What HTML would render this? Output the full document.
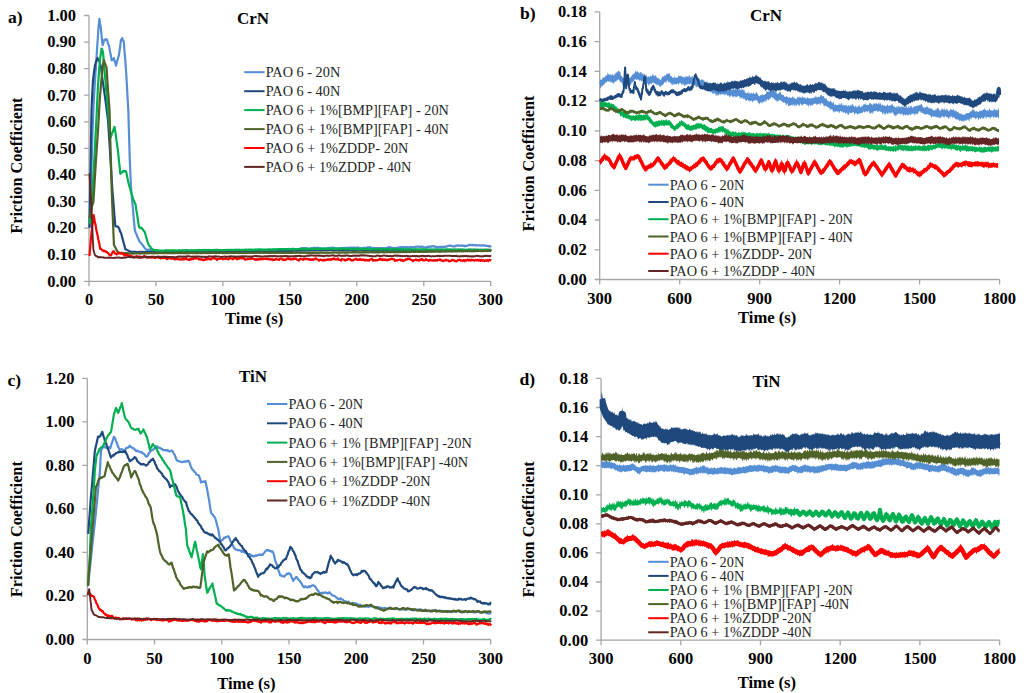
<!DOCTYPE html>
<html><head><meta charset="utf-8"><style>
html,body{margin:0;padding:0;background:#fff;width:1024px;height:693px;overflow:hidden}
svg{display:block}
.tk{font-family:"Liberation Serif",serif;font-weight:bold;font-size:16.5px;fill:#000}
.tx{font-family:"Liberation Serif",serif;font-weight:bold;font-size:16.6px;fill:#000}
.tt{font-family:"Liberation Serif",serif;font-weight:bold;font-size:16.3px;fill:#000}
.pl{font-family:"Liberation Serif",serif;font-weight:bold;font-size:17.6px;fill:#000}
.ti{font-family:"Liberation Serif",serif;font-weight:bold;font-size:17px;fill:#000}
.lg{font-family:"Liberation Serif",serif;font-size:14.3px;fill:#262626}
</style></head><body>
<svg width="1024" height="693" viewBox="0 0 1024 693">
<defs><clipPath id="cpa"><rect x="87.5" y="0" width="404.7" height="693"/></clipPath><clipPath id="cpb"><rect x="598.2" y="0" width="402.9" height="693"/></clipPath><clipPath id="cpc"><rect x="85.8" y="0" width="406.4" height="693"/></clipPath><clipPath id="cpd"><rect x="599.6" y="0" width="401.5" height="693"/></clipPath></defs>
<path d="M89.0 15.5V281.3H490.7M84.0 281.3H89.0M84.0 254.7H89.0M84.0 228.1H89.0M84.0 201.6H89.0M84.0 175.0H89.0M84.0 148.4H89.0M84.0 121.8H89.0M84.0 95.2H89.0M84.0 68.7H89.0M84.0 42.1H89.0M84.0 15.5H89.0M89.0 281.3V286.3M155.9 281.3V286.3M222.9 281.3V286.3M289.9 281.3V286.3M356.8 281.3V286.3M423.8 281.3V286.3M490.7 281.3V286.3" stroke="#A6A6A6" stroke-width="1.3" fill="none"/>
<path d="M599.7 11.9V279.5H999.6M594.7 279.5H599.7M594.7 249.8H599.7M594.7 220.0H599.7M594.7 190.3H599.7M594.7 160.6H599.7M594.7 130.8H599.7M594.7 101.1H599.7M594.7 71.4H599.7M594.7 41.6H599.7M594.7 11.9H599.7M599.7 279.5V284.5M679.7 279.5V284.5M759.7 279.5V284.5M839.6 279.5V284.5M919.6 279.5V284.5M999.6 279.5V284.5" stroke="#A6A6A6" stroke-width="1.3" fill="none"/>
<path d="M87.3 378.3V639.5H490.7M82.3 639.5H87.3M82.3 596.0H87.3M82.3 552.4H87.3M82.3 508.9H87.3M82.3 465.4H87.3M82.3 421.8H87.3M82.3 378.3H87.3M87.3 639.5V644.5M154.5 639.5V644.5M221.8 639.5V644.5M289.0 639.5V644.5M356.2 639.5V644.5M423.5 639.5V644.5M490.7 639.5V644.5" stroke="#A6A6A6" stroke-width="1.3" fill="none"/>
<path d="M601.1 378.4V640.2H999.6M596.1 640.2H601.1M596.1 611.1H601.1M596.1 582.0H601.1M596.1 552.9H601.1M596.1 523.8H601.1M596.1 494.8H601.1M596.1 465.7H601.1M596.1 436.6H601.1M596.1 407.5H601.1M596.1 378.4H601.1M601.1 640.2V645.2M680.8 640.2V645.2M760.5 640.2V645.2M840.2 640.2V645.2M919.9 640.2V645.2M999.6 640.2V645.2" stroke="#A6A6A6" stroke-width="1.3" fill="none"/>
<g clip-path="url(#cpa)"><path d="M89.5 228.1 L90.5 198.8 L91.4 170.5 L92.0 150.2 L92.6 130.4 L93.2 115.0 L93.8 100.3 L94.6 87.4 L95.4 75.1 L96.2 62.0 L97.0 49.6 L97.8 38.2 L98.5 27.7 L99.4 18.8 L100.1 23.6 L100.8 27.5 L101.7 36.8 L102.6 45.1 L103.4 42.8 L104.3 39.9 L105.1 39.9 L105.8 39.2 L106.6 39.2 L107.4 41.0 L108.2 43.9 L109.0 45.8 L109.9 50.9 L110.8 55.3 L111.7 60.4 L112.4 59.3 L113.2 59.2 L113.9 58.1 L114.6 60.9 L115.3 62.8 L116.0 65.7 L117.0 61.5 L118.0 58.3 L119.0 54.6 L120.0 47.5 L121.0 39.9 L121.6 39.5 L122.2 38.1 L123.0 40.2 L123.8 41.8 L124.5 51.5 L125.3 60.4 L126.0 70.1 L126.8 83.0 L127.5 96.8 L128.3 109.7 L129.0 134.1 L129.7 157.6 L130.4 174.0 L131.2 189.7 L132.1 199.9 L133.0 209.7 L133.9 220.2 L134.8 229.9 L135.8 232.9 L136.8 235.0 L137.8 237.7 L138.8 239.6 L139.8 242.1 L140.7 242.7 L141.7 244.1 L142.6 244.8 L143.5 246.5 L144.4 247.4 L145.4 248.8 L146.3 249.7 L147.3 250.0 L148.3 249.6 L149.2 249.7 L150.2 249.7 L151.2 250.7 L152.2 250.8 L153.2 251.7 L154.1 251.5 L155.1 251.7 L156.1 251.3 L157.1 251.6 L158.0 251.3 L159.0 251.9 L160.0 251.5 L161.0 252.0 L162.0 251.5 L163.0 252.1 L164.0 251.8 L165.0 252.3 L166.0 251.8 L167.0 252.2 L168.0 251.7 L169.0 251.9 L170.0 251.5 L171.0 252.0 L172.0 252.0 L173.0 252.6 L174.0 252.1 L175.0 252.1 L176.0 251.3 L177.0 251.4 L178.0 251.0 L179.0 251.8 L180.0 251.7 L181.0 252.3 L182.0 252.0 L183.0 252.3 L184.0 251.7 L185.0 252.0 L186.0 251.5 L187.0 252.0 L188.0 252.0 L189.0 252.5 L190.0 252.2 L191.0 252.5 L192.0 252.3 L193.0 252.7 L194.0 252.3 L195.0 252.7 L196.0 252.3 L197.0 252.8 L198.0 252.3 L199.0 252.2 L200.0 251.5 L201.0 251.5 L202.0 251.2 L203.0 251.6 L204.0 251.5 L205.0 252.1 L206.0 251.8 L207.0 251.8 L208.0 251.3 L209.0 251.3 L210.0 251.0 L211.0 251.2 L212.0 250.9 L213.0 251.2 L214.0 250.9 L215.0 251.3 L216.0 250.8 L217.0 251.2 L218.0 250.7 L219.0 251.2 L220.0 251.0 L221.0 251.3 L222.0 250.9 L223.0 251.2 L224.0 250.8 L225.0 250.9 L226.0 250.5 L227.0 251.1 L228.0 251.3 L229.0 252.0 L230.0 251.6 L231.0 251.6 L232.0 251.1 L233.0 251.1 L234.0 250.7 L235.0 251.3 L236.0 251.3 L237.0 251.7 L238.0 251.3 L239.0 251.7 L240.0 251.0 L241.0 251.2 L242.0 250.9 L243.0 251.1 L244.0 250.7 L245.0 250.8 L246.0 250.4 L247.0 250.7 L248.0 250.4 L249.0 250.8 L250.0 250.4 L251.0 250.9 L252.0 250.5 L253.0 250.8 L254.0 250.3 L255.0 250.9 L256.0 250.6 L257.0 251.2 L258.0 250.8 L259.0 250.8 L260.0 250.4 L261.0 250.4 L262.0 250.1 L263.0 250.5 L264.0 250.3 L265.0 250.8 L266.0 250.4 L267.0 250.8 L268.0 250.4 L269.0 251.0 L270.0 250.7 L271.0 250.8 L272.0 250.6 L273.0 250.9 L274.0 250.4 L275.0 250.6 L276.0 249.7 L277.0 249.9 L278.0 249.5 L279.0 249.8 L280.0 249.5 L281.0 250.0 L282.0 249.6 L283.0 249.9 L284.0 249.4 L285.0 249.9 L286.0 249.3 L287.0 249.7 L288.0 249.0 L289.0 249.3 L290.0 248.9 L291.0 249.3 L292.0 248.9 L293.0 249.2 L294.0 248.8 L295.0 249.5 L296.0 249.4 L297.0 250.0 L298.0 249.6 L299.0 249.4 L300.0 248.5 L301.0 248.6 L302.0 248.0 L303.0 248.4 L304.0 248.0 L305.0 248.5 L306.0 248.0 L307.0 248.7 L308.0 248.4 L309.0 248.9 L310.0 248.7 L311.0 248.6 L312.0 248.1 L313.0 248.0 L314.0 247.7 L315.0 248.1 L316.0 247.8 L317.0 248.1 L318.0 247.7 L319.0 248.4 L320.0 248.2 L321.0 248.7 L322.0 248.5 L323.0 248.9 L324.0 248.4 L325.0 249.0 L326.0 248.6 L327.0 248.5 L328.0 247.9 L329.0 248.2 L330.0 247.8 L331.0 248.1 L332.0 247.7 L333.0 247.8 L334.0 247.6 L335.0 248.2 L336.0 248.2 L337.0 248.8 L338.0 248.4 L339.0 248.5 L340.0 248.0 L341.0 248.3 L342.0 248.0 L343.0 248.2 L344.0 247.8 L345.0 248.1 L346.0 247.9 L347.0 248.1 L348.0 247.7 L349.0 248.0 L350.0 247.6 L351.0 247.9 L352.0 247.6 L353.0 247.9 L354.0 247.6 L355.0 247.8 L356.0 247.5 L357.0 247.8 L358.0 247.4 L359.0 248.0 L360.0 248.0 L361.0 248.4 L362.0 248.1 L363.0 248.1 L364.0 247.7 L365.0 248.0 L366.0 247.7 L367.0 247.9 L368.0 247.3 L369.0 247.5 L370.0 247.1 L371.0 247.8 L372.0 247.9 L373.0 248.4 L374.0 248.0 L375.0 248.4 L376.0 247.9 L377.0 248.1 L378.0 248.0 L379.0 248.3 L380.0 247.9 L381.0 248.3 L382.0 248.1 L383.0 248.3 L384.0 248.2 L385.0 248.4 L386.0 248.0 L387.0 248.1 L388.0 247.4 L389.0 247.4 L390.0 247.2 L391.0 247.6 L392.0 247.7 L393.0 248.3 L394.0 247.9 L395.0 248.3 L396.0 247.9 L397.0 248.0 L398.0 247.6 L399.0 247.8 L400.0 247.2 L401.0 247.4 L402.0 247.2 L403.0 247.4 L404.0 247.0 L405.0 247.2 L406.0 247.0 L407.0 247.3 L408.0 247.2 L409.0 247.6 L410.0 247.1 L411.0 247.5 L412.0 247.1 L413.0 247.5 L414.0 247.1 L415.0 247.1 L416.0 246.5 L417.0 246.8 L418.0 246.4 L419.0 246.8 L420.0 246.6 L421.0 247.0 L422.0 246.6 L423.0 247.1 L424.0 247.2 L425.0 247.5 L426.0 247.2 L427.0 247.3 L428.0 246.7 L429.0 246.9 L430.0 246.5 L431.0 246.8 L432.0 246.2 L433.0 246.5 L434.0 246.1 L435.0 246.9 L436.0 246.8 L437.0 247.2 L438.0 246.9 L439.0 247.3 L440.0 246.7 L441.0 247.1 L442.0 246.7 L443.0 247.2 L444.0 246.6 L445.0 247.1 L446.0 246.6 L447.0 246.5 L448.0 245.8 L449.0 245.8 L450.0 245.4 L451.0 245.8 L452.0 246.0 L453.0 246.5 L454.0 246.3 L455.0 246.3 L456.0 245.5 L457.0 245.8 L458.0 245.3 L459.0 245.7 L460.0 245.5 L461.0 245.7 L462.0 245.4 L463.0 245.9 L464.0 245.7 L465.0 246.4 L466.0 245.8 L467.0 246.0 L468.0 245.3 L469.0 245.2 L470.0 244.7 L471.0 245.2 L471.9 244.8 L472.9 245.3 L473.9 244.9 L474.8 245.3 L475.8 245.1 L476.8 245.5 L477.7 245.3 L478.7 245.5 L479.7 245.2 L480.6 245.6 L481.6 245.3 L482.6 245.6 L483.6 245.2 L484.5 245.7 L485.5 245.6 L486.5 245.9 L487.4 245.8 L488.4 246.3 L489.4 246.1 L490.3 246.5 L491.3 246.0" stroke="#558ED5" stroke-width="2.2" fill="none" stroke-linejoin="round"/><path d="M89.5 227.6 L90.5 169.9 L91.5 110.2 L92.2 94.7 L93.0 80.2 L94.0 72.5 L95.0 65.2 L95.8 62.5 L96.5 60.7 L97.3 58.1 L98.3 59.9 L99.3 60.8 L100.2 64.2 L101.0 67.1 L101.7 73.2 L102.4 78.8 L103.3 85.1 L104.1 90.9 L105.0 97.2 L106.0 104.4 L107.0 112.5 L108.0 119.9 L108.9 134.1 L109.8 147.8 L110.6 162.2 L111.5 175.8 L112.4 190.1 L113.4 201.9 L114.3 214.3 L115.3 225.9 L116.3 226.4 L117.2 226.4 L118.2 227.0 L119.2 228.7 L120.1 231.4 L121.1 233.2 L122.0 236.6 L122.8 239.6 L123.7 243.1 L124.5 245.8 L125.4 249.4 L126.4 249.5 L127.3 250.2 L128.3 250.5 L129.3 251.3 L130.2 251.3 L131.2 252.3 L132.2 251.7 L133.2 252.1 L134.2 251.7 L135.2 252.1 L136.2 251.9 L137.2 252.3 L138.2 251.9 L139.1 252.3 L140.1 251.8 L141.1 252.2 L142.1 251.9 L143.1 252.1 L144.1 251.9 L145.1 252.2 L146.1 251.9 L147.1 252.1 L148.1 251.8 L149.1 252.1 L150.1 251.9 L151.1 252.1 L152.1 251.9 L153.0 252.1 L154.0 251.9 L155.0 252.2 L156.0 251.9 L157.0 252.3 L158.0 251.7 L159.0 252.2 L160.0 251.8 L161.0 252.2 L162.0 251.8 L163.0 252.2 L164.0 251.8 L165.0 252.0 L166.0 251.9 L167.0 252.1 L168.0 251.8 L169.0 252.2 L170.0 251.8 L171.0 252.2 L172.0 251.8 L173.0 252.2 L174.0 251.8 L175.0 252.2 L176.0 251.7 L177.0 252.1 L178.0 251.9 L179.0 252.1 L180.0 251.7 L181.0 252.0 L182.0 251.7 L183.0 252.1 L184.0 251.6 L185.0 252.1 L186.0 251.8 L187.0 252.0 L188.0 251.8 L189.0 252.0 L190.0 251.8 L191.0 252.1 L192.0 251.6 L193.0 252.1 L194.0 251.7 L195.0 252.2 L196.0 251.8 L197.0 252.0 L198.0 251.8 L199.0 252.1 L200.0 251.7 L201.0 252.1 L202.0 251.6 L203.0 252.0 L204.0 251.7 L205.0 252.0 L206.0 251.8 L207.0 252.1 L208.0 251.7 L209.0 251.9 L210.0 251.5 L211.0 252.0 L212.0 251.7 L213.0 251.9 L214.0 251.6 L215.0 251.9 L216.0 251.7 L217.0 251.9 L218.0 251.5 L219.0 252.0 L220.0 251.7 L221.0 252.1 L222.0 251.5 L223.0 252.0 L224.0 251.5 L225.0 252.0 L226.0 251.7 L227.0 252.0 L228.0 251.7 L229.0 251.9 L230.0 251.5 L231.0 252.0 L232.0 251.7 L233.0 251.8 L234.0 251.6 L235.0 251.9 L236.0 251.5 L237.0 251.9 L238.0 251.5 L239.0 252.0 L240.0 251.4 L241.0 252.0 L242.0 251.5 L243.0 251.8 L244.0 251.5 L245.0 251.8 L246.0 251.7 L247.0 251.9 L248.0 251.6 L249.0 252.0 L250.0 251.5 L251.0 251.8 L252.0 251.5 L253.0 251.8 L254.0 251.4 L255.0 251.9 L256.0 251.3 L257.0 251.6 L258.0 251.3 L259.0 251.7 L260.0 251.3 L261.0 251.6 L262.0 251.3 L263.0 251.7 L264.0 251.3 L265.0 251.5 L266.0 251.3 L267.0 251.5 L268.0 251.0 L269.0 251.3 L270.0 251.1 L271.0 251.5 L272.0 251.0 L273.0 251.2 L274.0 251.0 L275.0 251.3 L276.0 250.9 L277.0 251.1 L278.0 250.8 L279.0 251.2 L280.0 250.7 L281.0 251.2 L282.0 250.8 L283.0 251.0 L284.0 250.8 L285.0 251.1 L286.0 250.7 L287.0 250.9 L288.0 250.7 L289.0 250.9 L290.0 250.7 L291.0 250.8 L292.0 250.6 L293.0 250.9 L294.0 250.4 L295.0 250.7 L296.0 250.4 L297.0 250.8 L298.0 250.4 L299.0 250.6 L300.0 250.4 L301.0 250.6 L302.0 250.3 L303.0 250.6 L304.0 250.3 L305.0 250.6 L306.0 250.2 L307.0 250.4 L308.0 250.1 L309.0 250.6 L310.0 250.0 L311.0 250.5 L312.0 250.1 L313.0 250.4 L314.0 250.0 L315.0 250.4 L316.0 249.9 L317.0 250.2 L318.0 250.0 L319.0 250.3 L320.0 249.9 L321.0 250.1 L322.0 249.9 L323.0 250.3 L324.0 249.9 L325.0 250.2 L326.0 249.8 L327.0 250.1 L328.0 249.8 L329.0 250.1 L330.0 249.7 L331.0 250.1 L332.0 249.7 L332.9 250.3 L333.9 249.8 L334.9 250.2 L335.9 249.8 L336.9 250.1 L337.9 249.8 L338.9 250.1 L339.9 249.9 L340.9 250.1 L341.9 249.8 L342.9 250.3 L343.9 249.9 L344.9 250.3 L345.9 249.8 L346.9 250.1 L347.9 250.0 L348.9 250.2 L349.9 249.8 L350.9 250.1 L351.9 249.7 L352.9 250.1 L353.9 249.9 L354.9 250.3 L355.9 249.9 L356.8 250.2 L357.8 249.9 L358.8 250.2 L359.8 249.9 L360.8 250.1 L361.8 249.8 L362.8 250.2 L363.8 249.7 L364.8 250.2 L365.8 249.9 L366.8 250.1 L367.8 249.7 L368.8 250.1 L369.8 249.9 L370.8 250.1 L371.8 249.8 L372.8 250.3 L373.8 249.7 L374.8 250.0 L375.8 249.8 L376.8 250.3 L377.8 249.8 L378.8 250.2 L379.8 249.8 L380.8 250.1 L381.7 249.9 L382.7 250.2 L383.7 249.7 L384.7 250.1 L385.7 249.8 L386.7 250.3 L387.7 249.8 L388.7 250.2 L389.7 249.8 L390.7 250.1 L391.7 249.8 L392.7 250.2 L393.7 249.8 L394.7 250.1 L395.7 249.8 L396.7 250.2 L397.7 249.8 L398.7 250.2 L399.7 249.9 L400.7 250.1 L401.7 249.9 L402.7 250.2 L403.7 249.8 L404.7 250.2 L405.6 249.9 L406.6 250.1 L407.6 249.7 L408.6 250.1 L409.6 249.7 L410.6 250.2 L411.6 249.8 L412.6 250.3 L413.6 249.8 L414.6 250.2 L415.6 249.8 L416.6 250.2 L417.6 249.9 L418.6 250.2 L419.6 249.8 L420.6 250.1 L421.6 249.7 L422.6 250.1 L423.6 249.9 L424.6 250.2 L425.6 249.8 L426.6 250.1 L427.6 249.7 L428.6 250.2 L429.6 249.8 L430.5 250.2 L431.5 249.9 L432.5 250.1 L433.5 249.7 L434.5 250.2 L435.5 249.8 L436.5 250.1 L437.5 249.8 L438.5 250.1 L439.5 249.9 L440.5 250.3 L441.5 249.8 L442.5 250.1 L443.5 249.8 L444.5 250.2 L445.5 249.9 L446.5 250.2 L447.5 249.9 L448.5 250.1 L449.5 249.7 L450.5 250.2 L451.5 249.9 L452.5 250.1 L453.5 249.8 L454.5 250.1 L455.4 249.9 L456.4 250.2 L457.4 249.8 L458.4 250.2 L459.4 249.9 L460.4 250.1 L461.4 249.7 L462.4 250.1 L463.4 249.8 L464.4 250.1 L465.4 249.9 L466.4 250.3 L467.4 249.9 L468.4 250.1 L469.4 249.7 L470.4 250.2 L471.4 249.7 L472.4 250.1 L473.4 249.7 L474.4 250.3 L475.4 249.9 L476.4 250.2 L477.4 249.7 L478.4 250.3 L479.3 249.9 L480.3 250.1 L481.3 249.9 L482.3 250.2 L483.3 249.8 L484.3 250.2 L485.3 249.7 L486.3 250.1 L487.3 249.8 L488.3 250.1 L489.3 249.9 L490.3 250.1 L491.3 249.9" stroke="#1F497D" stroke-width="2.2" fill="none" stroke-linejoin="round"/><path d="M89.5 224.2 L90.3 217.4 L91.0 211.6 L91.8 204.6 L92.5 191.9 L93.3 178.1 L94.0 165.1 L95.0 145.8 L96.0 127.1 L96.7 113.4 L97.3 100.1 L97.8 89.9 L98.4 80.2 L99.2 69.7 L100.0 60.1 L100.8 54.0 L101.6 48.5 L102.3 50.0 L103.0 52.2 L103.8 61.0 L104.5 70.9 L105.4 80.2 L106.2 90.4 L107.1 99.6 L108.0 109.7 L108.8 118.8 L109.5 128.9 L110.3 137.8 L111.2 136.0 L112.0 133.2 L112.9 131.6 L113.7 128.9 L114.6 126.8 L115.6 133.6 L116.5 140.9 L117.5 147.2 L118.5 156.3 L119.4 164.6 L120.4 173.9 L121.3 172.6 L122.3 172.5 L123.2 171.0 L124.2 171.5 L125.1 171.1 L126.1 171.6 L126.8 174.8 L127.6 178.9 L128.3 182.2 L129.3 186.1 L130.3 189.0 L131.3 192.9 L132.3 196.0 L133.3 199.8 L134.0 200.9 L134.8 203.0 L135.5 204.1 L136.4 210.5 L137.3 215.6 L138.2 222.0 L139.1 227.2 L140.1 228.0 L141.0 227.6 L142.0 228.6 L143.0 229.6 L143.9 231.3 L144.9 232.3 L145.8 235.8 L146.7 238.6 L147.6 242.1 L148.5 244.5 L149.4 245.9 L150.2 246.5 L151.1 248.1 L151.9 248.7 L152.8 250.2 L153.7 249.7 L154.6 250.2 L155.5 250.1 L156.4 250.4 L157.3 250.1 L158.2 250.6 L159.1 250.4 L160.0 250.9 L161.0 250.4 L162.0 251.0 L163.0 250.5 L164.0 250.9 L165.0 250.3 L166.0 250.7 L167.0 250.2 L168.0 250.6 L169.0 250.3 L170.0 250.7 L171.0 250.3 L172.0 250.6 L173.0 250.2 L174.0 250.7 L175.0 250.4 L176.0 250.6 L177.0 250.4 L178.0 250.8 L179.0 250.0 L180.0 250.6 L181.0 250.3 L182.0 250.7 L183.0 250.0 L184.0 250.8 L185.0 250.1 L186.0 250.6 L187.0 250.1 L188.0 250.5 L189.0 250.2 L190.0 250.7 L191.0 250.1 L192.0 250.5 L193.0 250.2 L194.0 250.7 L195.0 250.1 L196.0 250.5 L197.0 250.1 L198.0 250.6 L199.0 249.9 L200.0 250.4 L201.0 250.0 L202.0 250.5 L203.0 249.8 L204.0 250.5 L205.0 249.9 L206.0 250.4 L207.0 249.9 L208.0 250.3 L209.0 249.9 L210.0 250.2 L211.0 250.0 L212.0 250.3 L213.0 249.9 L214.0 250.3 L215.0 249.8 L216.0 250.2 L217.0 249.7 L218.0 250.5 L219.0 249.9 L220.0 250.1 L221.0 250.0 L222.0 250.4 L223.0 250.0 L224.0 250.4 L225.0 249.9 L226.0 250.2 L227.0 249.8 L228.0 250.1 L229.0 249.8 L230.0 250.2 L231.0 249.8 L232.0 250.2 L233.0 249.9 L234.0 250.1 L235.0 249.7 L236.0 250.0 L237.0 249.6 L238.0 250.2 L239.0 249.6 L240.0 250.0 L241.0 249.8 L242.0 250.2 L243.0 249.6 L244.0 250.2 L245.0 249.6 L246.0 250.1 L247.0 249.6 L248.0 250.2 L249.0 249.5 L250.0 250.0 L251.0 249.4 L252.0 249.9 L253.0 249.7 L254.0 250.1 L255.0 249.4 L256.0 250.0 L257.0 249.3 L258.0 249.9 L259.0 249.3 L260.0 249.7 L261.0 249.3 L262.0 250.0 L263.0 249.4 L264.0 249.8 L265.0 249.4 L266.0 249.8 L267.0 249.4 L268.0 249.9 L269.0 249.2 L270.0 249.8 L271.0 249.4 L272.0 249.8 L273.0 249.2 L274.0 249.8 L275.0 249.2 L276.0 249.8 L277.0 249.3 L278.0 249.5 L279.0 249.0 L280.0 249.5 L281.0 249.1 L282.0 249.5 L283.0 249.1 L284.0 249.5 L285.0 249.1 L286.0 249.5 L287.0 249.1 L288.0 249.5 L289.0 248.9 L290.0 249.4 L291.0 249.1 L292.0 249.3 L293.0 248.8 L294.0 249.5 L295.0 249.1 L296.0 249.4 L297.0 249.0 L298.0 249.3 L299.0 248.9 L300.0 249.3 L301.0 248.8 L302.0 249.2 L303.0 249.0 L304.0 249.2 L305.0 248.9 L306.0 249.2 L307.0 248.7 L308.0 249.3 L309.0 248.8 L310.0 249.3 L311.0 248.8 L312.0 249.2 L313.0 248.7 L314.0 249.1 L315.0 248.7 L316.0 249.2 L317.0 248.5 L318.0 249.1 L319.0 248.7 L320.0 249.2 L321.0 248.5 L322.0 249.0 L323.0 248.6 L324.0 249.0 L325.0 248.6 L326.0 249.0 L327.0 248.6 L328.0 248.9 L329.0 248.5 L330.0 249.0 L331.0 248.6 L332.0 249.0 L333.0 248.6 L334.0 248.9 L335.0 248.4 L336.0 249.1 L337.0 248.5 L338.0 249.1 L339.0 248.6 L340.0 249.0 L341.0 248.5 L342.0 248.9 L343.0 248.5 L344.0 249.0 L345.0 248.5 L346.0 249.2 L347.0 248.7 L348.0 249.1 L349.0 248.7 L350.0 249.1 L351.0 248.8 L352.0 249.2 L353.0 248.8 L354.0 249.0 L355.0 248.8 L356.0 249.3 L357.0 248.7 L358.0 249.3 L359.0 248.7 L360.0 249.2 L361.0 248.8 L362.0 249.2 L363.0 248.9 L364.0 249.1 L365.0 248.9 L366.0 249.1 L367.0 248.7 L368.0 249.3 L369.0 248.9 L370.0 249.4 L371.0 248.7 L372.0 249.3 L373.0 248.8 L374.0 249.3 L375.0 248.9 L376.0 249.3 L377.0 249.0 L378.0 249.2 L379.0 249.0 L380.0 249.5 L381.0 248.9 L382.0 249.4 L383.0 248.8 L384.0 249.4 L385.0 249.0 L386.0 249.5 L387.0 249.1 L388.0 249.5 L389.0 249.0 L390.0 249.6 L391.0 249.2 L392.0 249.6 L393.0 249.2 L394.0 249.3 L395.0 249.2 L396.0 249.6 L397.0 249.2 L398.0 249.6 L399.0 249.2 L400.0 249.5 L401.0 249.1 L402.0 249.7 L403.0 249.0 L404.0 249.5 L405.0 249.2 L406.0 249.7 L407.0 249.1 L408.0 249.8 L409.0 249.2 L410.0 249.8 L411.0 249.3 L412.0 249.6 L413.0 249.4 L414.0 249.8 L415.0 249.1 L416.0 249.7 L417.0 249.4 L418.0 249.6 L419.0 249.4 L420.0 249.8 L421.0 249.3 L422.0 249.9 L423.0 249.2 L424.0 249.9 L425.0 249.3 L425.9 249.7 L426.9 249.4 L427.9 249.8 L428.9 249.5 L429.9 249.9 L430.9 249.4 L431.9 249.8 L432.9 249.5 L433.9 249.8 L434.9 249.4 L435.8 250.0 L436.8 249.3 L437.8 249.7 L438.8 249.5 L439.8 250.0 L440.8 249.3 L441.8 249.8 L442.8 249.6 L443.8 249.8 L444.8 249.5 L445.7 249.9 L446.7 249.3 L447.7 249.9 L448.7 249.4 L449.7 249.9 L450.7 249.4 L451.7 249.8 L452.7 249.5 L453.7 250.1 L454.7 249.4 L455.6 249.9 L456.6 249.5 L457.6 249.9 L458.6 249.4 L459.6 250.0 L460.6 249.6 L461.6 250.1 L462.6 249.5 L463.6 250.0 L464.6 249.7 L465.6 250.1 L466.5 249.6 L467.5 250.2 L468.5 249.6 L469.5 250.1 L470.5 249.5 L471.5 250.0 L472.5 249.8 L473.5 250.0 L474.5 249.6 L475.5 250.1 L476.4 249.6 L477.4 250.3 L478.4 249.8 L479.4 250.0 L480.4 249.7 L481.4 250.1 L482.4 249.7 L483.4 250.1 L484.4 249.8 L485.4 250.1 L486.3 249.6 L487.3 250.2 L488.3 249.8 L489.3 250.3 L490.3 249.9 L491.3 250.2" stroke="#00B050" stroke-width="2.2" fill="none" stroke-linejoin="round"/><path d="M89.5 218.1 L90.5 212.8 L91.5 208.3 L92.5 204.8 L93.4 202.3 L94.3 187.8 L95.1 174.2 L96.0 159.8 L96.7 149.2 L97.5 137.9 L98.2 127.1 L99.0 113.4 L99.7 100.2 L100.5 90.9 L101.2 82.1 L101.9 74.8 L102.6 68.1 L103.2 63.8 L103.8 60.0 L104.7 62.3 L105.7 65.3 L106.6 67.5 L107.3 79.1 L108.0 89.9 L108.8 100.0 L109.5 109.9 L110.2 137.0 L111.0 163.2 L111.7 190.1 L112.4 208.2 L113.2 226.8 L113.9 244.7 L114.8 246.5 L115.6 247.9 L116.5 249.8 L117.3 251.1 L118.2 252.9 L119.2 252.6 L120.2 253.1 L121.2 252.7 L122.1 253.2 L123.1 253.0 L124.1 253.3 L125.1 253.1 L126.1 253.4 L127.0 253.1 L128.0 253.5 L129.0 253.3 L130.0 253.7 L131.0 253.3 L132.0 253.6 L133.0 253.3 L134.0 253.6 L135.0 253.3 L136.0 253.4 L137.0 253.3 L138.0 253.5 L139.0 253.3 L140.0 253.6 L141.0 253.2 L142.0 253.5 L143.0 253.2 L144.0 253.3 L145.0 253.1 L146.0 253.4 L147.0 252.9 L148.0 253.4 L149.0 253.0 L150.0 253.2 L151.0 252.8 L152.0 253.4 L153.0 253.0 L154.0 253.4 L155.0 253.0 L156.0 253.3 L157.0 253.0 L158.0 253.2 L159.0 252.8 L160.0 253.2 L161.0 252.8 L162.0 253.1 L163.0 252.9 L164.0 253.1 L165.0 252.8 L166.0 253.2 L167.0 253.0 L168.0 253.2 L169.0 252.9 L170.0 253.2 L171.0 252.8 L172.0 253.3 L173.0 253.0 L174.0 253.1 L175.0 252.9 L176.0 253.1 L177.0 252.8 L178.0 253.2 L179.0 252.7 L180.0 253.1 L181.0 252.9 L182.0 253.1 L183.0 252.7 L184.0 253.3 L185.0 252.9 L186.0 253.2 L187.0 252.7 L188.0 253.3 L189.0 252.9 L190.0 253.1 L191.0 252.7 L192.0 253.1 L193.0 252.8 L194.0 253.2 L195.0 252.7 L196.0 253.2 L197.0 252.9 L198.0 253.1 L199.0 252.8 L200.0 253.1 L201.0 252.9 L202.0 253.1 L203.0 252.7 L204.0 253.1 L205.0 252.7 L206.0 253.2 L207.0 252.7 L208.0 253.2 L209.0 252.7 L210.0 253.1 L211.0 252.8 L212.0 253.0 L213.0 252.8 L214.0 253.0 L215.0 252.8 L216.0 253.2 L217.0 252.8 L218.0 253.0 L219.0 252.8 L220.0 253.0 L221.0 252.6 L222.0 253.1 L223.0 252.8 L224.0 253.1 L225.0 252.8 L226.0 253.2 L227.0 252.8 L228.0 253.1 L229.0 252.8 L230.0 253.0 L231.0 252.8 L232.0 253.0 L233.0 252.7 L234.0 253.0 L235.0 252.6 L236.0 252.9 L237.0 252.6 L238.0 253.1 L239.0 252.7 L240.0 253.0 L241.0 252.6 L242.0 253.0 L243.0 252.7 L244.0 253.0 L245.0 252.7 L246.0 253.1 L247.0 252.7 L248.0 253.0 L249.0 252.6 L250.0 253.0 L251.0 252.5 L252.0 252.9 L253.0 252.7 L254.0 253.0 L255.0 252.7 L256.0 253.0 L257.0 252.6 L258.0 253.0 L259.0 252.5 L260.0 253.0 L261.0 252.6 L262.0 253.0 L263.0 252.6 L264.0 253.0 L265.0 252.6 L266.0 253.0 L267.0 252.5 L268.0 252.9 L269.0 252.6 L270.0 253.0 L271.0 252.6 L272.0 252.9 L273.0 252.5 L274.0 253.0 L275.0 252.5 L276.0 252.9 L277.0 252.6 L278.0 253.0 L279.0 252.6 L280.0 253.0 L281.0 252.5 L282.0 253.0 L283.0 252.7 L284.0 253.0 L285.0 252.5 L286.0 253.0 L287.0 252.7 L288.0 252.9 L289.0 252.6 L290.0 252.9 L291.0 252.6 L292.0 253.0 L293.0 252.5 L294.0 252.8 L295.0 252.4 L296.0 252.9 L297.0 252.5 L298.0 252.8 L299.0 252.5 L300.0 252.8 L301.0 252.6 L302.0 252.8 L303.0 252.5 L304.0 252.9 L305.0 252.5 L306.0 252.8 L307.0 252.6 L308.0 252.9 L309.0 252.6 L310.0 252.9 L311.0 252.5 L312.0 252.9 L313.0 252.6 L314.0 252.9 L315.0 252.4 L316.0 252.8 L317.0 252.6 L318.0 252.8 L319.0 252.4 L320.0 252.8 L321.0 252.3 L322.0 252.8 L323.0 252.4 L324.0 252.9 L325.0 252.5 L326.0 252.7 L327.0 252.4 L328.0 252.8 L329.0 252.6 L330.0 252.7 L331.0 252.5 L332.0 252.8 L333.0 252.3 L334.0 252.7 L335.0 252.3 L336.0 252.6 L337.0 252.4 L338.0 252.7 L339.0 252.4 L340.0 252.6 L341.0 252.4 L342.0 252.7 L343.0 252.2 L344.0 252.6 L345.0 252.4 L346.0 252.7 L347.0 252.2 L348.0 252.6 L349.0 252.3 L350.0 252.5 L351.0 252.2 L352.0 252.6 L353.0 252.1 L354.0 252.6 L355.0 252.1 L356.0 252.5 L357.0 252.1 L358.0 252.6 L359.0 252.2 L360.0 252.6 L361.0 252.2 L362.0 252.6 L363.0 252.0 L364.0 252.5 L365.0 252.1 L366.0 252.4 L367.0 252.2 L368.0 252.3 L369.0 252.2 L370.0 252.3 L371.0 252.0 L372.0 252.4 L373.0 251.9 L374.0 252.3 L375.0 252.2 L376.0 252.4 L377.0 252.0 L378.0 252.5 L379.0 252.1 L380.0 252.3 L381.0 251.9 L382.0 252.2 L383.0 252.1 L384.0 252.4 L385.0 252.0 L386.0 252.3 L387.0 252.0 L388.0 252.3 L389.0 252.0 L390.0 252.3 L391.0 251.9 L392.0 252.1 L393.0 252.0 L394.0 252.3 L395.0 251.8 L396.0 252.3 L397.0 251.9 L398.0 252.3 L399.0 251.9 L400.0 252.2 L401.0 251.8 L402.0 252.1 L403.0 251.8 L404.0 252.2 L405.0 251.7 L406.0 252.2 L406.9 251.8 L407.9 252.0 L408.9 251.8 L409.9 252.1 L410.9 251.6 L411.9 252.0 L412.9 251.6 L413.9 252.0 L414.9 251.8 L415.9 251.8 L416.9 251.5 L417.9 252.0 L418.9 251.7 L419.8 251.9 L420.8 251.5 L421.8 251.9 L422.8 251.6 L423.8 251.9 L424.8 251.4 L425.8 251.8 L426.8 251.6 L427.8 251.9 L428.8 251.3 L429.8 251.9 L430.8 251.5 L431.8 251.8 L432.7 251.4 L433.7 251.8 L434.7 251.4 L435.7 251.7 L436.7 251.3 L437.7 251.6 L438.7 251.4 L439.7 251.8 L440.7 251.2 L441.7 251.7 L442.7 251.2 L443.7 251.5 L444.7 251.4 L445.6 251.7 L446.6 251.2 L447.6 251.5 L448.6 251.2 L449.6 251.6 L450.6 251.1 L451.6 251.6 L452.6 251.3 L453.6 251.5 L454.6 251.1 L455.6 251.5 L456.6 251.2 L457.6 251.5 L458.6 250.9 L459.5 251.4 L460.5 251.0 L461.5 251.4 L462.5 250.9 L463.5 251.4 L464.5 251.0 L465.5 251.3 L466.5 250.9 L467.5 251.3 L468.5 250.8 L469.5 251.3 L470.5 251.0 L471.5 251.3 L472.4 250.8 L473.4 251.3 L474.4 250.7 L475.4 251.2 L476.4 250.8 L477.4 251.2 L478.4 250.8 L479.4 251.0 L480.4 250.9 L481.4 251.2 L482.4 250.7 L483.4 251.2 L484.4 250.8 L485.3 250.9 L486.3 250.8 L487.3 251.1 L488.3 250.6 L489.3 250.9 L490.3 250.6 L491.3 251.1" stroke="#4F6228" stroke-width="2.2" fill="none" stroke-linejoin="round"/><path d="M89.5 256.0 L90.5 243.5 L91.5 232.6 L92.2 226.3 L93.0 221.4 L93.7 215.1 L94.6 220.7 L95.6 225.1 L96.5 230.7 L97.4 234.4 L98.3 239.3 L99.3 243.7 L100.2 248.9 L101.1 248.7 L102.0 250.3 L102.9 250.2 L103.8 251.3 L104.7 250.8 L105.7 251.8 L106.6 251.6 L107.5 252.9 L108.4 253.2 L109.4 254.9 L110.3 255.2 L111.2 255.1 L112.2 253.1 L113.1 251.4 L114.0 251.3 L114.9 253.4 L115.8 253.7 L116.7 254.5 L117.7 253.2 L118.6 253.5 L119.6 253.0 L120.6 253.7 L121.5 252.8 L122.5 254.0 L123.4 253.8 L124.3 255.5 L125.3 254.9 L126.2 255.2 L127.1 254.3 L128.0 255.7 L128.9 255.5 L129.8 256.5 L130.8 255.8 L131.7 256.9 L132.6 256.3 L133.6 257.6 L134.5 256.8 L135.5 257.0 L136.5 256.1 L137.4 257.0 L138.4 256.4 L139.4 257.4 L140.3 256.6 L141.3 257.7 L142.3 257.2 L143.2 257.4 L144.2 256.0 L145.2 257.1 L146.1 256.6 L147.1 257.7 L148.1 257.0 L149.0 257.6 L150.0 256.8 L151.0 257.8 L152.0 256.9 L153.0 257.6 L154.0 256.8 L155.0 258.1 L156.0 257.3 L157.0 257.3 L158.0 256.9 L159.0 257.9 L160.0 258.0 L161.0 258.4 L162.0 257.8 L163.0 258.2 L164.0 257.2 L165.0 258.1 L166.0 258.1 L167.0 259.2 L168.0 257.6 L169.0 258.3 L170.0 257.7 L171.0 258.7 L172.0 258.2 L173.0 258.8 L174.0 258.4 L175.0 259.5 L176.0 258.6 L177.0 259.2 L178.0 258.4 L179.0 259.7 L180.0 259.3 L181.0 259.7 L182.0 258.9 L183.0 259.5 L184.0 258.6 L185.0 259.4 L186.0 258.0 L187.0 259.3 L188.0 259.3 L189.0 260.2 L190.0 259.0 L191.0 259.6 L192.0 258.5 L193.0 259.2 L194.0 258.1 L195.0 258.7 L196.0 258.0 L197.0 258.5 L198.0 258.4 L199.0 259.6 L200.0 259.1 L201.0 259.7 L202.0 259.2 L203.0 260.3 L204.0 259.6 L205.0 259.9 L206.0 258.4 L207.0 259.4 L208.0 258.4 L209.0 259.3 L210.0 258.9 L211.0 259.6 L212.0 258.3 L213.0 258.3 L214.0 257.6 L215.0 258.6 L216.0 258.5 L217.0 260.0 L218.0 258.8 L219.0 259.0 L220.0 258.5 L221.0 258.7 L222.0 258.2 L223.0 259.4 L224.0 258.7 L225.0 258.9 L226.0 257.8 L227.0 259.0 L228.0 259.3 L229.0 259.2 L230.0 257.7 L231.0 258.4 L232.0 258.6 L233.0 259.3 L234.0 258.0 L235.0 258.5 L236.0 258.0 L237.0 259.3 L238.0 258.2 L239.0 258.8 L240.0 257.7 L241.0 258.4 L242.0 257.5 L243.0 258.6 L244.0 258.0 L245.0 259.7 L246.0 259.4 L247.0 259.4 L248.0 258.7 L249.0 259.2 L250.0 258.4 L251.0 259.1 L252.0 257.8 L253.0 258.8 L254.0 259.1 L255.0 259.8 L256.0 259.0 L257.0 260.0 L258.0 258.9 L259.0 259.6 L260.0 258.6 L261.0 259.3 L262.0 258.5 L263.0 259.3 L264.0 258.8 L265.0 259.0 L266.0 258.6 L267.0 259.2 L268.0 258.4 L269.0 259.4 L270.0 259.0 L271.0 259.7 L272.0 259.1 L273.0 260.1 L274.0 259.4 L275.0 259.9 L276.0 258.7 L277.0 259.5 L278.0 259.5 L279.0 259.9 L280.0 258.8 L281.0 258.5 L282.0 258.9 L283.0 260.1 L284.0 259.4 L285.0 260.2 L286.0 259.5 L287.0 259.0 L288.0 258.1 L289.0 259.1 L290.0 258.9 L291.0 259.7 L292.0 258.8 L293.0 259.4 L294.0 258.3 L295.0 259.0 L296.0 258.3 L297.0 259.6 L298.0 259.8 L299.0 260.6 L300.0 258.8 L301.0 259.0 L302.0 259.3 L303.0 259.9 L304.0 258.9 L305.0 259.2 L306.0 258.6 L307.0 259.3 L308.0 258.9 L309.0 259.8 L310.0 259.2 L311.0 260.1 L312.0 259.2 L313.0 260.0 L314.0 258.9 L315.0 259.3 L316.0 258.2 L317.0 259.4 L318.0 259.7 L319.0 260.6 L320.0 259.6 L321.0 260.0 L322.0 259.9 L323.0 260.7 L324.0 259.7 L325.0 260.4 L326.0 259.5 L327.0 260.0 L328.0 259.2 L329.0 260.0 L330.0 259.2 L331.0 259.9 L332.0 258.9 L333.0 259.2 L334.0 258.3 L335.0 259.6 L336.0 259.2 L337.0 259.6 L338.0 258.3 L339.0 259.9 L340.0 259.8 L341.0 260.7 L342.0 259.0 L343.0 259.5 L344.0 259.5 L345.0 260.6 L346.0 259.7 L347.0 260.1 L348.0 258.8 L349.0 259.4 L350.0 259.0 L351.0 260.4 L352.0 260.1 L353.0 260.5 L354.0 259.7 L355.0 259.4 L356.0 258.6 L357.0 259.9 L358.0 259.4 L359.0 260.0 L360.0 258.9 L361.0 260.1 L362.0 259.4 L363.0 260.2 L364.0 259.4 L365.0 260.6 L366.0 259.7 L367.0 260.5 L368.0 259.8 L369.0 260.8 L370.0 259.4 L371.0 259.3 L372.0 258.9 L373.0 260.7 L374.0 259.9 L375.0 260.6 L376.0 259.9 L377.0 260.5 L378.0 259.9 L379.0 259.7 L380.0 258.6 L381.0 259.8 L382.0 259.1 L383.0 260.1 L384.0 259.3 L385.0 260.1 L386.0 259.5 L387.0 260.4 L388.0 259.6 L389.0 260.0 L390.0 259.0 L391.0 259.2 L392.0 258.7 L393.0 259.4 L394.0 259.2 L395.0 260.8 L396.0 260.0 L397.0 260.6 L398.0 260.0 L399.0 259.8 L400.0 259.4 L401.0 260.6 L402.0 259.8 L403.0 261.0 L404.0 260.3 L405.0 260.4 L406.0 259.2 L407.0 259.7 L408.0 258.4 L409.0 259.2 L410.0 259.0 L411.0 259.8 L412.0 260.0 L413.0 261.2 L414.0 260.2 L415.0 260.1 L416.0 259.5 L417.0 260.4 L418.0 259.8 L419.0 260.6 L420.0 259.6 L421.0 259.8 L422.0 258.8 L423.0 260.5 L424.0 260.3 L425.0 260.4 L426.0 259.2 L427.0 260.2 L428.0 260.1 L429.0 260.8 L430.0 259.9 L431.0 260.3 L432.0 260.1 L433.0 260.7 L434.0 260.2 L435.0 260.7 L436.0 260.0 L437.0 260.6 L438.0 259.7 L439.0 260.1 L440.0 259.3 L441.0 260.5 L442.0 260.3 L443.0 261.1 L444.0 260.5 L445.0 260.6 L446.0 259.7 L447.0 260.4 L448.0 260.3 L449.0 261.3 L450.0 260.9 L451.0 261.1 L452.0 259.8 L452.9 260.3 L453.9 260.2 L454.9 261.1 L455.9 260.9 L456.9 261.4 L457.9 260.2 L458.9 260.0 L459.8 259.7 L460.8 260.7 L461.8 260.3 L462.8 260.8 L463.8 260.1 L464.8 261.2 L465.7 260.1 L466.7 260.5 L467.7 259.5 L468.7 260.5 L469.7 259.9 L470.6 260.6 L471.6 259.6 L472.6 260.2 L473.6 260.1 L474.6 260.7 L475.6 259.9 L476.6 260.3 L477.5 259.7 L478.5 260.6 L479.5 259.8 L480.5 260.9 L481.5 259.9 L482.4 260.7 L483.4 260.2 L484.4 261.1 L485.4 260.3 L486.4 260.9 L487.4 260.0 L488.4 261.0 L489.3 259.8 L490.3 260.2 L491.3 260.4" stroke="#FF0000" stroke-width="2.2" fill="none" stroke-linejoin="round"/><path d="M89.5 173.3 L90.2 184.9 L90.9 197.0 L91.6 208.6 L92.6 235.1 L93.4 249.7 L94.2 252.7 L95.0 255.0 L96.0 256.0 L97.0 256.2 L98.0 257.5 L99.0 257.0 L100.0 257.3 L101.0 257.1 L102.0 257.4 L103.0 257.3 L104.0 257.9 L105.0 257.6 L106.0 257.9 L107.0 257.6 L108.0 257.9 L109.0 257.5 L110.0 257.8 L111.0 257.6 L112.0 257.9 L113.0 257.9 L114.0 258.0 L115.0 257.7 L116.0 257.7 L117.0 257.4 L118.0 257.8 L119.0 257.4 L120.0 257.9 L121.0 257.7 L122.0 258.1 L123.0 257.6 L124.0 257.8 L125.0 257.4 L126.0 257.7 L127.0 257.0 L128.0 257.1 L129.0 256.8 L130.0 257.2 L131.0 257.0 L132.0 257.3 L133.0 257.1 L134.0 257.3 L135.0 257.2 L136.0 257.5 L137.0 257.2 L138.0 257.7 L139.0 257.4 L140.0 257.7 L141.0 257.2 L142.0 257.3 L143.0 256.7 L144.0 256.9 L145.0 256.8 L146.0 257.3 L147.0 256.8 L148.0 257.3 L149.0 256.8 L150.0 257.2 L151.0 256.7 L152.0 256.9 L153.0 256.6 L154.0 256.9 L155.0 256.8 L156.0 257.1 L157.0 256.6 L158.0 256.8 L159.0 256.5 L160.0 257.0 L161.0 256.8 L162.0 257.0 L163.0 256.7 L164.0 256.9 L165.0 256.5 L166.0 257.1 L167.0 256.7 L168.0 257.0 L169.0 256.9 L170.0 257.1 L171.0 256.8 L172.0 257.3 L173.0 257.0 L174.0 257.3 L175.0 257.1 L176.0 257.2 L177.0 256.8 L178.0 256.9 L179.0 256.3 L180.0 256.8 L181.0 256.5 L182.0 256.8 L183.0 256.5 L184.0 256.8 L185.0 256.5 L186.0 256.6 L187.0 256.2 L188.0 256.5 L189.0 256.2 L190.0 256.6 L191.0 256.5 L192.0 257.0 L193.0 256.4 L194.0 256.8 L195.0 256.5 L196.0 256.6 L197.0 256.3 L198.0 256.6 L199.0 256.4 L200.0 256.9 L201.0 256.6 L202.0 257.0 L203.0 256.5 L204.0 257.0 L205.0 256.7 L206.0 257.2 L207.0 256.8 L208.0 256.9 L209.0 256.2 L210.0 256.6 L211.0 256.4 L212.0 256.7 L213.0 256.4 L214.0 256.7 L215.0 256.2 L216.0 256.5 L217.0 256.4 L218.0 256.7 L219.0 256.4 L220.0 256.9 L221.0 256.9 L222.0 257.2 L223.0 256.7 L224.0 256.6 L225.0 256.3 L226.0 256.8 L227.0 256.6 L228.0 256.8 L229.0 256.4 L230.0 256.5 L231.0 256.2 L232.0 256.6 L233.0 256.3 L234.0 256.7 L235.0 256.4 L236.0 257.0 L237.0 256.5 L238.0 256.8 L239.0 256.3 L240.0 256.7 L241.0 256.3 L242.0 256.4 L243.0 256.1 L244.0 256.4 L245.0 256.3 L246.0 256.5 L247.0 256.3 L248.0 256.6 L249.0 256.3 L250.0 256.9 L251.0 256.5 L252.0 256.8 L253.0 256.2 L254.0 256.4 L255.0 255.9 L256.0 256.3 L257.0 256.0 L258.0 256.4 L259.0 256.1 L260.0 256.5 L261.0 256.3 L262.0 256.6 L263.0 256.4 L264.0 256.5 L265.0 256.1 L266.0 256.5 L267.0 256.1 L268.0 256.3 L269.0 255.9 L270.0 256.3 L271.0 256.0 L272.0 256.4 L273.0 256.0 L274.0 256.2 L275.0 255.8 L276.0 256.2 L277.0 256.1 L278.0 256.5 L279.0 256.2 L280.0 256.4 L281.0 256.0 L282.0 256.5 L283.0 256.0 L284.0 256.3 L285.0 255.8 L286.0 256.4 L287.0 256.0 L288.0 256.4 L289.0 256.1 L290.0 256.6 L291.0 256.2 L292.0 256.4 L293.0 256.1 L294.0 256.4 L295.0 255.9 L296.0 256.2 L297.0 255.8 L298.0 256.1 L299.0 255.7 L300.0 256.2 L301.0 256.0 L302.0 256.4 L303.0 256.1 L304.0 256.5 L305.0 256.1 L306.0 256.2 L307.0 255.7 L308.0 255.8 L309.0 255.5 L310.0 255.7 L311.0 255.2 L312.0 255.6 L313.0 255.4 L314.0 255.8 L315.0 255.5 L316.0 255.8 L317.0 255.4 L318.0 255.8 L319.0 255.3 L320.0 255.9 L321.0 255.6 L322.0 256.0 L323.0 255.8 L324.0 256.3 L325.0 255.8 L326.0 255.8 L327.0 255.4 L328.0 256.0 L329.0 255.7 L330.0 255.9 L331.0 255.4 L332.0 255.6 L333.0 255.1 L334.0 255.8 L335.0 255.7 L336.0 256.1 L337.0 255.7 L338.0 255.7 L339.0 255.1 L340.0 255.7 L341.0 255.6 L341.9 256.0 L342.9 255.6 L343.9 255.8 L344.9 255.5 L345.9 255.8 L346.9 255.2 L347.9 255.7 L348.9 255.6 L349.9 256.1 L350.9 255.9 L351.9 256.1 L352.9 255.5 L353.9 255.7 L354.9 255.5 L355.9 255.9 L356.9 255.5 L357.9 255.8 L358.9 255.5 L359.9 255.7 L360.9 255.2 L361.9 255.7 L362.9 255.2 L363.9 255.5 L364.8 255.3 L365.8 255.6 L366.8 255.5 L367.8 255.9 L368.8 255.8 L369.8 256.2 L370.8 255.9 L371.8 256.4 L372.8 256.1 L373.8 256.4 L374.8 256.1 L375.8 256.2 L376.8 255.4 L377.8 255.7 L378.8 255.7 L379.8 256.2 L380.8 255.9 L381.8 256.2 L382.8 255.5 L383.8 255.6 L384.8 255.5 L385.8 256.0 L386.8 255.6 L387.7 256.1 L388.7 255.9 L389.7 256.1 L390.7 255.8 L391.7 256.3 L392.7 256.0 L393.7 256.0 L394.7 255.4 L395.7 255.9 L396.7 255.5 L397.7 255.8 L398.7 255.5 L399.7 256.0 L400.7 255.8 L401.7 256.3 L402.7 255.9 L403.7 256.1 L404.7 255.9 L405.7 256.2 L406.7 255.6 L407.7 256.1 L408.7 256.0 L409.7 256.5 L410.6 256.2 L411.6 256.3 L412.6 255.8 L413.6 256.1 L414.6 255.8 L415.6 256.3 L416.6 255.8 L417.6 256.3 L418.6 256.1 L419.6 256.5 L420.6 255.9 L421.6 256.2 L422.6 255.7 L423.6 256.2 L424.6 256.0 L425.6 256.4 L426.6 255.9 L427.6 256.2 L428.6 255.7 L429.6 256.2 L430.6 256.1 L431.6 256.5 L432.6 256.0 L433.6 256.5 L434.5 256.1 L435.5 256.2 L436.5 255.9 L437.5 256.2 L438.5 255.7 L439.5 256.2 L440.5 255.8 L441.5 256.1 L442.5 255.9 L443.5 256.2 L444.5 255.7 L445.5 255.9 L446.5 255.7 L447.5 255.9 L448.5 255.7 L449.5 255.9 L450.5 255.6 L451.5 256.1 L452.5 255.9 L453.5 256.0 L454.5 255.9 L455.5 256.2 L456.5 255.7 L457.4 256.3 L458.4 256.2 L459.4 256.6 L460.4 256.1 L461.4 256.3 L462.4 256.0 L463.4 256.2 L464.4 255.8 L465.4 256.2 L466.4 255.8 L467.4 256.2 L468.4 256.0 L469.4 256.5 L470.4 256.1 L471.4 256.5 L472.4 256.3 L473.4 256.5 L474.4 256.1 L475.4 256.3 L476.4 255.7 L477.4 256.0 L478.4 256.0 L479.4 256.3 L480.3 256.1 L481.3 256.6 L482.3 256.2 L483.3 256.5 L484.3 255.8 L485.3 256.1 L486.3 255.6 L487.3 256.0 L488.3 255.9 L489.3 256.3 L490.3 255.9 L491.3 256.3" stroke="#632523" stroke-width="1.9" fill="none" stroke-linejoin="round"/></g>
<g clip-path="url(#cpb)"><path d="M600.0 80.2 L600.5 79.1 L601.0 79.9 L601.4 79.9 L601.9 79.4 L602.4 78.3 L602.9 77.0 L603.4 77.8 L603.9 77.6 L604.3 77.5 L604.8 77.2 L605.3 76.2 L605.8 75.8 L606.3 75.9 L606.8 74.7 L607.2 74.9 L607.7 71.9 L608.2 73.9 L608.7 74.4 L609.2 74.7 L609.7 74.4 L610.2 73.2 L610.7 75.5 L611.2 76.0 L611.6 74.3 L612.1 74.7 L612.6 74.0 L613.1 74.8 L613.6 75.6 L614.1 76.0 L614.6 73.6 L615.1 73.8 L615.5 74.0 L616.0 71.5 L616.5 72.7 L617.0 72.6 L617.4 72.5 L617.9 71.0 L618.4 70.4 L618.9 71.1 L619.4 71.5 L619.9 71.8 L620.4 72.5 L620.9 75.4 L621.3 76.0 L621.8 75.8 L622.3 77.4 L622.8 78.0 L623.3 77.9 L623.8 79.1 L624.3 79.0 L624.8 79.1 L625.2 78.7 L625.7 79.0 L626.2 78.9 L626.7 78.2 L627.2 77.9 L627.7 76.3 L628.1 78.1 L628.6 78.7 L629.1 78.2 L629.6 78.0 L630.1 77.8 L630.6 77.3 L631.1 77.0 L631.6 75.7 L632.1 75.2 L632.6 74.7 L633.1 73.2 L633.6 74.5 L634.1 73.8 L634.6 73.2 L635.1 72.3 L635.6 69.9 L636.1 72.5 L636.6 71.1 L637.1 72.2 L637.6 70.3 L638.1 73.1 L638.6 72.2 L639.1 71.6 L639.6 73.9 L640.1 72.1 L640.6 72.4 L641.1 71.6 L641.6 73.7 L642.1 73.2 L642.6 74.4 L643.1 72.6 L643.6 75.1 L644.1 74.8 L644.6 73.6 L645.1 75.0 L645.6 76.3 L646.0 73.7 L646.5 74.9 L647.0 76.9 L647.5 76.9 L648.0 76.6 L648.5 76.1 L649.0 77.4 L649.5 77.3 L650.0 75.7 L650.5 75.8 L651.0 76.5 L651.4 76.1 L651.9 76.4 L652.4 74.5 L652.9 73.7 L653.4 76.4 L653.9 74.7 L654.4 75.9 L654.9 76.3 L655.4 74.6 L655.9 76.4 L656.4 76.7 L656.9 77.2 L657.3 78.4 L657.8 77.5 L658.3 78.9 L658.8 77.7 L659.3 78.7 L659.8 79.8 L660.3 79.9 L660.8 79.6 L661.3 79.0 L661.8 77.6 L662.3 77.1 L662.8 76.1 L663.3 76.5 L663.8 76.9 L664.3 74.7 L664.8 76.2 L665.3 75.7 L665.8 75.1 L666.3 73.9 L666.8 74.6 L667.3 73.8 L667.8 73.4 L668.3 74.3 L668.8 72.9 L669.3 73.6 L669.8 73.3 L670.3 76.3 L670.8 76.2 L671.3 76.3 L671.8 76.5 L672.3 77.5 L672.8 77.7 L673.3 77.9 L673.8 77.6 L674.3 77.8 L674.8 75.3 L675.3 78.1 L675.8 77.6 L676.3 77.8 L676.7 77.7 L677.2 77.4 L677.7 77.5 L678.2 74.8 L678.6 76.8 L679.1 75.7 L679.6 76.2 L680.1 75.5 L680.6 76.2 L681.0 76.4 L681.5 76.3 L682.0 75.5 L682.5 77.8 L682.9 76.8 L683.4 76.9 L683.9 77.1 L684.4 78.2 L684.9 75.7 L685.3 75.9 L685.8 77.9 L686.3 75.4 L686.8 77.1 L687.2 77.1 L687.7 76.1 L688.2 77.4 L688.7 75.8 L689.2 74.6 L689.6 76.1 L690.1 76.4 L690.6 77.6 L691.1 77.6 L691.5 77.5 L692.0 75.2 L692.5 75.9 L693.0 77.8 L693.5 77.9 L694.0 77.4 L694.5 78.5 L695.0 78.6 L695.5 77.0 L696.0 79.0 L696.5 79.2 L697.0 79.2 L697.5 79.2 L698.0 79.1 L698.5 79.9 L699.0 79.0 L699.5 78.5 L700.0 79.9 L700.5 80.4 L701.0 80.3 L701.5 78.7 L702.0 80.2 L702.5 79.5 L703.0 79.3 L703.5 81.1 L704.0 79.2 L704.4 81.3 L704.9 82.2 L705.4 82.5 L705.9 81.4 L706.4 83.0 L706.9 81.0 L707.4 81.1 L707.9 83.7 L708.4 83.6 L708.9 82.0 L709.4 83.9 L709.9 84.6 L710.4 84.6 L710.9 85.0 L711.4 84.9 L711.9 85.3 L712.3 82.8 L712.8 83.6 L713.3 86.1 L713.8 84.8 L714.3 86.6 L714.8 86.5 L715.3 86.4 L715.8 87.2 L716.3 85.9 L716.8 87.5 L717.3 86.3 L717.8 85.8 L718.2 85.4 L718.7 87.1 L719.2 86.2 L719.7 87.9 L720.2 88.5 L720.6 88.4 L721.1 87.1 L721.6 86.1 L722.1 86.2 L722.6 86.5 L723.1 86.5 L723.5 86.6 L724.0 86.0 L724.5 86.8 L725.0 85.9 L725.5 88.5 L726.0 87.0 L726.5 86.8 L727.0 88.7 L727.5 88.6 L728.0 88.8 L728.5 88.4 L729.0 89.1 L729.5 88.8 L730.0 89.1 L730.5 89.5 L731.0 86.7 L731.5 89.7 L732.0 89.6 L732.4 89.9 L732.9 89.6 L733.4 89.9 L733.9 87.6 L734.4 89.9 L734.9 89.5 L735.4 87.6 L735.9 88.5 L736.4 88.4 L736.9 90.0 L737.4 90.1 L737.9 88.7 L738.4 90.1 L738.9 89.5 L739.4 88.4 L739.9 90.1 L740.4 90.3 L740.9 89.4 L741.4 90.5 L741.9 88.6 L742.4 89.8 L742.9 88.8 L743.4 89.9 L743.9 90.9 L744.3 89.0 L744.8 92.2 L745.3 92.5 L745.8 92.4 L746.3 93.3 L746.8 93.6 L747.3 92.7 L747.8 92.7 L748.3 91.8 L748.8 94.3 L749.3 93.8 L749.8 92.1 L750.3 94.1 L750.8 93.5 L751.3 91.9 L751.8 93.5 L752.3 94.0 L752.8 93.1 L753.3 92.3 L753.8 93.8 L754.3 93.9 L754.7 94.0 L755.2 94.1 L755.7 92.7 L756.2 92.2 L756.7 92.2 L757.2 94.2 L757.7 93.3 L758.2 95.0 L758.7 96.0 L759.2 96.4 L759.7 96.1 L760.2 95.6 L760.7 94.5 L761.2 95.1 L761.7 95.6 L762.2 93.6 L762.7 95.2 L763.2 94.6 L763.6 95.1 L764.1 95.1 L764.6 95.0 L765.1 94.1 L765.6 94.0 L766.1 93.8 L766.6 90.4 L767.1 91.3 L767.6 92.0 L768.1 92.0 L768.6 91.6 L769.1 91.9 L769.6 91.0 L770.0 91.1 L770.5 89.3 L771.0 91.1 L771.5 88.6 L772.0 91.0 L772.5 90.9 L773.0 89.6 L773.5 89.6 L774.0 91.2 L774.5 89.8 L775.0 92.7 L775.5 90.9 L775.9 91.5 L776.4 93.4 L776.9 92.4 L777.4 94.4 L777.9 94.3 L778.4 92.7 L778.9 94.0 L779.4 91.9 L779.8 92.2 L780.3 91.7 L780.8 92.0 L781.3 94.3 L781.8 95.1 L782.3 95.4 L782.8 93.8 L783.3 95.2 L783.7 95.0 L784.2 96.4 L784.7 96.5 L785.2 96.9 L785.7 97.2 L786.2 96.0 L786.7 96.3 L787.2 96.8 L787.7 96.9 L788.2 97.5 L788.7 97.8 L789.2 96.2 L789.7 97.9 L790.1 97.7 L790.6 97.8 L791.1 97.9 L791.6 98.0 L792.1 96.3 L792.6 97.1 L793.1 96.3 L793.6 98.3 L794.1 98.1 L794.6 97.7 L795.1 98.9 L795.6 99.0 L796.1 99.0 L796.6 98.9 L797.1 97.4 L797.6 96.4 L798.1 98.1 L798.6 97.0 L799.0 95.8 L799.5 97.7 L800.0 97.5 L800.5 97.5 L801.0 97.2 L801.5 97.7 L802.0 97.9 L802.5 96.1 L803.0 96.8 L803.5 98.0 L804.0 97.8 L804.5 97.7 L805.0 96.8 L805.5 98.4 L806.0 98.6 L806.5 98.5 L807.0 98.5 L807.5 96.8 L808.0 97.4 L808.5 98.5 L809.0 97.8 L809.5 98.8 L810.0 98.7 L810.5 97.9 L811.0 98.6 L811.5 97.9 L812.0 98.4 L812.5 97.9 L813.0 97.9 L813.5 97.5 L814.0 98.0 L814.5 97.1 L815.0 97.8 L815.5 96.3 L816.0 95.2 L816.5 97.5 L817.0 97.4 L817.5 96.8 L818.0 97.4 L818.5 96.2 L819.0 97.2 L819.5 97.2 L820.0 96.4 L820.5 95.0 L821.0 95.8 L821.5 94.2 L822.0 95.4 L822.5 96.8 L823.0 96.1 L823.5 96.1 L824.0 96.4 L824.5 98.1 L825.0 98.4 L825.5 98.3 L826.0 99.6 L826.5 97.4 L827.0 100.7 L827.5 100.3 L828.0 101.0 L828.5 101.5 L829.0 101.3 L829.5 102.2 L830.0 100.9 L830.5 100.2 L831.0 101.0 L831.5 102.1 L832.0 102.9 L832.5 103.6 L833.0 101.2 L833.5 101.5 L834.0 104.2 L834.5 104.8 L835.0 105.2 L835.5 103.2 L836.0 105.3 L836.5 105.2 L837.0 104.8 L837.5 105.3 L838.0 104.8 L838.5 105.0 L839.0 102.4 L839.5 105.0 L840.0 104.8 L840.5 104.8 L841.0 103.0 L841.5 102.5 L842.0 105.4 L842.5 105.7 L843.0 103.3 L843.5 105.7 L844.0 105.3 L844.5 105.7 L845.0 104.4 L845.5 105.7 L846.0 104.6 L846.5 105.0 L847.0 105.9 L847.5 106.8 L848.0 105.2 L848.5 105.4 L849.0 105.1 L849.5 106.2 L850.0 106.4 L850.5 104.4 L851.0 105.7 L851.5 105.8 L852.0 103.3 L852.5 104.8 L853.0 103.6 L853.5 106.3 L854.0 106.1 L854.5 107.0 L855.0 107.0 L855.5 105.8 L856.0 105.0 L856.5 107.3 L857.0 107.3 L857.5 107.3 L858.0 106.3 L858.5 106.3 L859.0 105.3 L859.5 104.7 L860.0 107.5 L860.4 107.2 L860.9 107.2 L861.4 106.0 L861.9 106.7 L862.4 106.0 L862.9 105.7 L863.4 105.1 L863.9 104.1 L864.4 104.5 L864.9 103.4 L865.4 105.2 L865.9 102.6 L866.4 105.3 L866.9 105.1 L867.4 104.8 L867.9 104.7 L868.4 105.1 L868.9 105.1 L869.4 102.6 L869.9 103.5 L870.4 103.0 L870.8 103.3 L871.3 104.8 L871.8 103.6 L872.3 106.1 L872.8 104.0 L873.3 103.0 L873.8 104.5 L874.3 103.1 L874.8 104.1 L875.3 104.5 L875.8 102.2 L876.3 103.8 L876.8 103.1 L877.3 104.4 L877.8 103.9 L878.3 103.9 L878.8 101.9 L879.3 103.1 L879.8 104.9 L880.3 103.4 L880.8 102.4 L881.2 105.3 L881.7 105.7 L882.2 104.0 L882.7 105.5 L883.2 104.8 L883.7 106.3 L884.2 104.7 L884.7 105.8 L885.2 106.2 L885.7 105.9 L886.2 106.1 L886.7 105.8 L887.2 103.7 L887.7 105.0 L888.2 105.9 L888.7 105.4 L889.2 105.7 L889.7 106.1 L890.2 104.5 L890.7 105.9 L891.2 105.0 L891.6 104.4 L892.1 103.6 L892.6 104.7 L893.1 105.6 L893.6 107.0 L894.1 105.4 L894.6 107.1 L895.1 107.1 L895.6 107.9 L896.1 107.1 L896.6 106.1 L897.1 108.5 L897.6 105.8 L898.1 107.7 L898.6 105.2 L899.1 105.7 L899.6 107.0 L900.1 107.5 L900.6 107.3 L901.1 106.1 L901.6 107.5 L902.0 105.3 L902.5 106.7 L903.0 107.2 L903.5 106.6 L904.0 107.2 L904.5 107.8 L905.0 107.7 L905.5 107.5 L906.0 105.3 L906.5 106.2 L907.0 107.6 L907.5 107.8 L908.0 108.0 L908.5 106.3 L909.0 105.3 L909.5 108.1 L910.0 108.1 L910.5 105.5 L911.0 105.5 L911.5 105.9 L912.0 107.6 L912.5 107.7 L913.0 107.6 L913.5 107.6 L914.0 105.1 L914.4 107.0 L914.9 106.5 L915.4 106.1 L915.9 106.5 L916.4 105.0 L916.9 106.5 L917.4 105.8 L917.9 105.2 L918.4 105.8 L918.9 105.5 L919.4 105.1 L919.9 104.9 L920.4 104.8 L920.9 104.4 L921.4 104.1 L921.9 103.9 L922.4 106.5 L922.9 106.7 L923.4 107.4 L923.9 107.5 L924.4 107.9 L924.9 107.2 L925.4 107.0 L925.9 108.1 L926.3 106.2 L926.8 106.9 L927.3 106.1 L927.8 107.8 L928.3 107.3 L928.8 108.6 L929.3 109.0 L929.8 107.2 L930.3 108.7 L930.8 108.2 L931.3 108.4 L931.8 108.5 L932.3 109.4 L932.8 109.8 L933.3 110.6 L933.8 110.0 L934.3 110.8 L934.8 110.2 L935.2 108.8 L935.7 110.8 L936.2 108.5 L936.7 110.1 L937.2 108.0 L937.7 108.0 L938.2 108.4 L938.7 108.5 L939.2 110.7 L939.7 109.4 L940.2 110.7 L940.7 110.7 L941.2 109.9 L941.6 108.1 L942.1 110.3 L942.6 107.8 L943.1 109.7 L943.6 109.9 L944.1 107.0 L944.6 109.8 L945.1 109.7 L945.6 110.1 L946.1 110.4 L946.6 108.1 L947.1 108.7 L947.5 111.0 L948.0 109.1 L948.5 111.5 L949.0 110.9 L949.5 111.2 L950.0 108.4 L950.5 109.9 L951.0 108.7 L951.4 109.4 L951.9 109.9 L952.4 109.9 L952.9 109.6 L953.4 108.6 L953.9 110.8 L954.4 110.0 L954.9 111.4 L955.3 109.2 L955.8 111.8 L956.3 110.3 L956.8 112.0 L957.3 112.1 L957.8 112.0 L958.3 111.1 L958.8 113.7 L959.2 113.6 L959.7 113.3 L960.2 113.3 L960.7 114.2 L961.2 112.2 L961.7 114.7 L962.2 114.8 L962.7 114.2 L963.1 114.7 L963.6 114.4 L964.1 114.9 L964.6 114.7 L965.1 112.8 L965.6 114.4 L966.1 114.2 L966.5 112.7 L967.0 112.9 L967.5 113.3 L968.0 112.9 L968.5 113.2 L969.0 113.0 L969.5 112.8 L970.0 111.1 L970.5 111.7 L970.9 111.6 L971.4 111.4 L971.9 109.5 L972.4 110.1 L972.9 109.1 L973.4 110.9 L973.9 108.7 L974.3 111.6 L974.8 109.8 L975.3 111.7 L975.8 111.5 L976.3 111.5 L976.8 110.5 L977.3 111.7 L977.8 111.7 L978.3 111.9 L978.8 112.0 L979.3 110.3 L979.8 111.0 L980.2 111.7 L980.7 110.1 L981.2 110.7 L981.7 110.9 L982.2 110.0 L982.7 110.5 L983.2 108.7 L983.7 110.1 L984.2 110.0 L984.7 107.6 L985.2 109.8 L985.7 109.4 L986.2 110.7 L986.7 110.9 L987.2 109.2 L987.6 110.4 L988.1 110.4 L988.6 110.9 L989.1 109.1 L989.6 108.1 L990.1 110.3 L990.6 109.9 L991.1 110.6 L991.6 110.3 L992.1 110.7 L992.6 110.6 L993.1 110.3 L993.6 110.3 L994.1 109.7 L994.6 108.0 L995.1 110.1 L995.5 110.7 L996.0 109.1 L996.5 109.9 L997.0 110.4 L997.5 109.4 L998.0 110.8 L998.5 108.0 L999.0 108.2 L999.0 117.7 L998.5 118.4 L998.0 117.6 L997.5 116.6 L997.0 117.1 L996.5 118.2 L996.0 116.7 L995.5 117.7 L995.1 117.0 L994.6 117.6 L994.1 116.5 L993.6 118.2 L993.1 117.3 L992.6 116.3 L992.1 116.3 L991.6 117.6 L991.1 116.5 L990.6 118.1 L990.1 119.4 L989.6 116.7 L989.1 117.4 L988.6 117.2 L988.1 116.9 L987.6 116.8 L987.2 117.0 L986.7 119.2 L986.2 116.3 L985.7 118.9 L985.2 116.1 L984.7 116.4 L984.2 118.5 L983.7 117.9 L983.2 118.7 L982.7 117.3 L982.2 119.5 L981.7 117.1 L981.2 118.4 L980.7 118.7 L980.2 119.6 L979.8 117.9 L979.3 117.7 L978.8 120.0 L978.3 120.4 L977.8 117.7 L977.3 117.5 L976.8 117.6 L976.3 119.2 L975.8 117.5 L975.3 120.1 L974.8 118.2 L974.3 117.4 L973.9 117.5 L973.4 117.8 L972.9 117.9 L972.4 117.2 L971.9 117.0 L971.4 119.9 L970.9 117.3 L970.5 119.5 L970.0 118.0 L969.5 120.8 L969.0 121.4 L968.5 119.8 L968.0 119.3 L967.5 119.4 L967.0 120.7 L966.5 120.0 L966.1 121.1 L965.6 120.3 L965.1 120.5 L964.6 120.9 L964.1 120.5 L963.6 120.8 L963.1 123.1 L962.7 120.6 L962.2 121.0 L961.7 121.4 L961.2 121.0 L960.7 120.4 L960.2 120.2 L959.7 120.6 L959.2 121.5 L958.8 119.9 L958.3 119.6 L957.8 120.2 L957.3 118.7 L956.8 119.5 L956.3 119.5 L955.8 118.4 L955.3 119.8 L954.9 117.8 L954.4 118.4 L953.9 116.8 L953.4 117.7 L952.9 116.6 L952.4 118.8 L951.9 117.3 L951.4 116.1 L951.0 116.5 L950.5 116.7 L950.0 118.9 L949.5 116.8 L949.0 117.3 L948.5 119.4 L948.0 118.3 L947.5 117.0 L947.1 116.7 L946.6 116.9 L946.1 117.1 L945.6 115.9 L945.1 115.6 L944.6 117.7 L944.1 116.9 L943.6 116.7 L943.1 118.0 L942.6 116.0 L942.1 116.0 L941.6 116.2 L941.2 118.5 L940.7 117.3 L940.2 118.3 L939.7 117.9 L939.2 117.1 L938.7 117.6 L938.2 118.2 L937.7 117.2 L937.2 117.3 L936.7 116.5 L936.2 117.5 L935.7 117.0 L935.2 116.6 L934.8 116.6 L934.3 116.6 L933.8 117.0 L933.3 116.3 L932.8 116.2 L932.3 116.6 L931.8 117.3 L931.3 117.9 L930.8 116.3 L930.3 115.5 L929.8 115.0 L929.3 115.3 L928.8 115.3 L928.3 113.9 L927.8 114.6 L927.3 114.0 L926.8 113.6 L926.3 114.5 L925.9 114.1 L925.4 115.4 L924.9 114.0 L924.4 114.3 L923.9 113.7 L923.4 113.4 L922.9 113.0 L922.4 112.7 L921.9 113.9 L921.4 112.1 L920.9 110.8 L920.4 113.3 L919.9 111.7 L919.4 110.8 L918.9 111.4 L918.4 112.5 L917.9 114.8 L917.4 114.0 L916.9 113.1 L916.4 114.7 L915.9 113.2 L915.4 114.1 L914.9 116.3 L914.4 113.3 L914.0 115.1 L913.5 113.8 L913.0 113.3 L912.5 113.5 L912.0 114.5 L911.5 113.5 L911.0 115.1 L910.5 115.7 L910.0 113.7 L909.5 115.1 L909.0 113.8 L908.5 116.0 L908.0 114.9 L907.5 115.4 L907.0 114.2 L906.5 114.2 L906.0 115.8 L905.5 115.7 L905.0 115.1 L904.5 113.7 L904.0 115.3 L903.5 115.6 L903.0 115.8 L902.5 113.5 L902.0 114.3 L901.6 114.5 L901.1 113.3 L900.6 114.8 L900.1 114.4 L899.6 113.2 L899.1 113.6 L898.6 113.7 L898.1 113.8 L897.6 114.2 L897.1 114.3 L896.6 116.2 L896.1 114.4 L895.6 115.6 L895.1 116.9 L894.6 115.4 L894.1 113.9 L893.6 115.0 L893.1 112.6 L892.6 112.2 L892.1 112.4 L891.6 113.3 L891.2 112.5 L890.7 112.5 L890.2 114.2 L889.7 111.9 L889.2 114.5 L888.7 111.7 L888.2 114.2 L887.7 113.7 L887.2 114.3 L886.7 112.9 L886.2 112.4 L885.7 114.2 L885.2 114.9 L884.7 114.9 L884.2 112.7 L883.7 113.8 L883.2 112.1 L882.7 114.8 L882.2 113.9 L881.7 111.6 L881.2 112.1 L880.8 111.5 L880.3 112.3 L879.8 110.6 L879.3 111.5 L878.8 111.2 L878.3 112.1 L877.8 111.1 L877.3 112.6 L876.8 110.8 L876.3 110.2 L875.8 111.8 L875.3 111.0 L874.8 111.0 L874.3 111.1 L873.8 111.0 L873.3 113.1 L872.8 112.1 L872.3 114.3 L871.8 113.0 L871.3 111.9 L870.8 114.1 L870.4 113.4 L869.9 113.5 L869.4 112.8 L868.9 111.0 L868.4 110.8 L867.9 111.2 L867.4 112.6 L866.9 112.2 L866.4 111.0 L865.9 111.3 L865.4 111.4 L864.9 112.7 L864.4 112.2 L863.9 111.5 L863.4 111.6 L862.9 112.2 L862.4 113.1 L861.9 112.4 L861.4 113.2 L860.9 112.9 L860.4 113.0 L860.0 113.8 L859.5 113.2 L859.0 113.9 L858.5 113.4 L858.0 113.8 L857.5 115.3 L857.0 113.7 L856.5 112.9 L856.0 113.2 L855.5 113.1 L855.0 113.7 L854.5 115.6 L854.0 113.0 L853.5 112.1 L853.0 111.7 L852.5 112.5 L852.0 113.7 L851.5 112.7 L851.0 112.7 L850.5 113.8 L850.0 112.1 L849.5 112.8 L849.0 114.6 L848.5 114.4 L848.0 115.4 L847.5 113.9 L847.0 112.5 L846.5 112.4 L846.0 114.3 L845.5 113.2 L845.0 113.0 L844.5 111.8 L844.0 113.2 L843.5 111.9 L843.0 113.0 L842.5 111.4 L842.0 111.3 L841.5 112.8 L841.0 111.1 L840.5 110.7 L840.0 111.6 L839.5 113.1 L839.0 113.3 L838.5 110.8 L838.0 112.0 L837.5 111.3 L837.0 111.9 L836.5 111.3 L836.0 111.2 L835.5 111.6 L835.0 111.4 L834.5 112.5 L834.0 110.3 L833.5 112.7 L833.0 112.1 L832.5 109.6 L832.0 109.1 L831.5 109.4 L831.0 108.5 L830.5 109.6 L830.0 110.7 L829.5 108.0 L829.0 107.6 L828.5 107.6 L828.0 107.3 L827.5 106.9 L827.0 106.4 L826.5 106.1 L826.0 105.8 L825.5 105.8 L825.0 105.9 L824.5 107.0 L824.0 104.6 L823.5 106.3 L823.0 103.8 L822.5 103.4 L822.0 103.2 L821.5 103.2 L821.0 102.8 L820.5 105.6 L820.0 104.4 L819.5 103.5 L819.0 103.3 L818.5 104.5 L818.0 104.1 L817.5 103.9 L817.0 105.1 L816.5 104.9 L816.0 103.5 L815.5 103.4 L815.0 104.3 L814.5 103.6 L814.0 104.0 L813.5 103.9 L813.0 105.6 L812.5 104.7 L812.0 105.8 L811.5 105.2 L811.0 104.4 L810.5 107.1 L810.0 104.6 L809.5 104.7 L809.0 105.1 L808.5 107.4 L808.0 105.0 L807.5 104.8 L807.0 106.3 L806.5 104.4 L806.0 104.3 L805.5 104.0 L805.0 104.1 L804.5 103.7 L804.0 103.8 L803.5 104.4 L803.0 104.1 L802.5 105.6 L802.0 104.8 L801.5 106.3 L801.0 103.4 L800.5 103.4 L800.0 104.4 L799.5 105.9 L799.0 106.4 L798.6 104.4 L798.1 104.7 L797.6 104.2 L797.1 104.6 L796.6 104.9 L796.1 107.0 L795.6 104.8 L795.1 104.7 L794.6 105.3 L794.1 106.9 L793.6 104.5 L793.1 103.9 L792.6 105.3 L792.1 105.9 L791.6 104.4 L791.1 105.6 L790.6 105.3 L790.1 105.3 L789.7 105.7 L789.2 106.0 L788.7 106.2 L788.2 106.2 L787.7 103.6 L787.2 103.6 L786.7 103.8 L786.2 106.0 L785.7 104.4 L785.2 102.8 L784.7 103.1 L784.2 102.0 L783.7 102.2 L783.3 103.0 L782.8 102.3 L782.3 101.4 L781.8 101.8 L781.3 100.6 L780.8 100.5 L780.3 100.4 L779.8 99.8 L779.4 99.7 L778.9 101.7 L778.4 99.9 L777.9 101.6 L777.4 101.2 L776.9 102.0 L776.4 100.2 L775.9 99.9 L775.5 101.1 L775.0 99.2 L774.5 99.6 L774.0 99.3 L773.5 97.4 L773.0 98.4 L772.5 97.7 L772.0 96.7 L771.5 96.9 L771.0 97.2 L770.5 98.3 L770.0 99.7 L769.6 98.7 L769.1 99.2 L768.6 100.3 L768.1 100.3 L767.6 98.6 L767.1 100.2 L766.6 101.9 L766.1 99.6 L765.6 99.9 L765.1 102.8 L764.6 100.8 L764.1 102.0 L763.6 101.6 L763.2 102.1 L762.7 103.4 L762.2 101.6 L761.7 101.8 L761.2 103.7 L760.7 102.2 L760.2 102.2 L759.7 105.1 L759.2 102.9 L758.7 103.8 L758.2 102.7 L757.7 101.8 L757.2 100.6 L756.7 100.6 L756.2 100.3 L755.7 99.8 L755.2 100.7 L754.7 100.5 L754.3 100.6 L753.8 101.8 L753.3 100.0 L752.8 102.4 L752.3 102.3 L751.8 99.9 L751.3 101.0 L750.8 100.5 L750.3 101.0 L749.8 102.5 L749.3 100.2 L748.8 101.0 L748.3 100.5 L747.8 99.8 L747.3 99.6 L746.8 100.7 L746.3 101.2 L745.8 99.2 L745.3 100.9 L744.8 99.0 L744.3 98.6 L743.9 99.1 L743.4 98.7 L742.9 99.3 L742.4 96.9 L741.9 97.6 L741.4 98.7 L740.9 99.0 L740.4 96.7 L739.9 98.4 L739.4 96.7 L738.9 95.8 L738.4 95.9 L737.9 96.2 L737.4 96.6 L736.9 97.0 L736.4 96.8 L735.9 98.0 L735.4 96.2 L734.9 96.4 L734.4 96.4 L733.9 95.9 L733.4 97.7 L732.9 96.5 L732.4 97.5 L732.0 95.6 L731.5 95.6 L731.0 95.5 L730.5 96.0 L730.0 98.0 L729.5 96.7 L729.0 95.7 L728.5 94.9 L728.0 96.3 L727.5 95.8 L727.0 94.8 L726.5 94.5 L726.0 94.5 L725.5 94.1 L725.0 96.3 L724.5 94.4 L724.0 93.8 L723.5 93.7 L723.1 95.9 L722.6 93.8 L722.1 94.8 L721.6 94.0 L721.1 94.3 L720.6 95.5 L720.2 94.1 L719.7 94.5 L719.2 94.0 L718.7 94.5 L718.2 96.3 L717.8 96.0 L717.3 94.8 L716.8 94.0 L716.3 95.8 L715.8 95.9 L715.3 93.4 L714.8 94.0 L714.3 92.5 L713.8 94.7 L713.3 92.4 L712.8 94.3 L712.3 93.6 L711.9 91.3 L711.4 93.0 L710.9 91.1 L710.4 93.1 L709.9 90.4 L709.4 91.2 L708.9 90.7 L708.4 92.0 L707.9 90.4 L707.4 90.5 L706.9 91.1 L706.4 89.6 L705.9 88.5 L705.4 88.1 L704.9 88.9 L704.4 89.2 L704.0 87.5 L703.5 87.7 L703.0 88.9 L702.5 87.4 L702.0 89.3 L701.5 86.9 L701.0 87.6 L700.5 87.9 L700.0 86.7 L699.5 86.1 L699.0 88.0 L698.5 86.1 L698.0 87.0 L697.5 87.5 L697.0 85.7 L696.5 87.4 L696.0 86.9 L695.5 85.4 L695.0 85.2 L694.5 85.6 L694.0 86.3 L693.5 84.1 L693.0 84.1 L692.5 85.9 L692.0 85.3 L691.5 85.7 L691.1 83.4 L690.6 83.3 L690.1 85.0 L689.6 83.4 L689.2 84.9 L688.7 83.6 L688.2 84.1 L687.7 83.7 L687.2 84.8 L686.8 85.7 L686.3 84.2 L685.8 83.7 L685.3 86.0 L684.9 85.0 L684.4 86.4 L683.9 84.6 L683.4 84.2 L682.9 85.8 L682.5 83.5 L682.0 83.3 L681.5 85.4 L681.0 83.2 L680.6 82.6 L680.1 83.9 L679.6 82.6 L679.1 83.8 L678.6 85.7 L678.2 83.6 L677.7 83.6 L677.2 83.8 L676.7 84.3 L676.3 84.2 L675.8 84.8 L675.3 83.8 L674.8 83.7 L674.3 85.1 L673.8 84.3 L673.3 83.8 L672.8 86.1 L672.3 83.5 L671.8 86.1 L671.3 83.0 L670.8 82.4 L670.3 84.1 L669.8 82.4 L669.3 81.8 L668.8 82.1 L668.3 82.7 L667.8 79.7 L667.3 81.0 L666.8 80.4 L666.3 83.6 L665.8 82.8 L665.3 81.6 L664.8 82.1 L664.3 82.4 L663.8 84.2 L663.3 83.8 L662.8 86.1 L662.3 84.9 L661.8 84.3 L661.3 86.2 L660.8 86.7 L660.3 86.7 L659.8 85.6 L659.3 87.2 L658.8 84.9 L658.3 85.1 L657.8 84.3 L657.3 84.9 L656.9 86.3 L656.4 83.9 L655.9 84.1 L655.4 84.5 L654.9 83.5 L654.4 82.5 L653.9 84.1 L653.4 82.3 L652.9 83.0 L652.4 82.6 L651.9 83.4 L651.4 84.8 L651.0 83.6 L650.5 83.0 L650.0 85.2 L649.5 83.3 L649.0 85.7 L648.5 85.6 L648.0 83.4 L647.5 83.6 L647.0 84.0 L646.5 84.5 L646.0 82.3 L645.6 82.7 L645.1 83.7 L644.6 82.0 L644.1 81.3 L643.6 81.1 L643.1 82.0 L642.6 80.7 L642.1 81.5 L641.6 80.4 L641.1 81.4 L640.6 80.2 L640.1 80.3 L639.6 80.2 L639.1 81.4 L638.6 80.0 L638.1 79.2 L637.6 79.0 L637.1 79.7 L636.6 80.1 L636.1 80.0 L635.6 79.3 L635.1 78.5 L634.6 79.3 L634.1 81.3 L633.6 81.3 L633.1 80.9 L632.6 82.3 L632.1 82.5 L631.6 82.5 L631.1 84.3 L630.6 85.0 L630.1 85.4 L629.6 84.6 L629.1 84.8 L628.6 85.5 L628.1 84.4 L627.7 85.5 L627.2 86.3 L626.7 84.6 L626.2 84.5 L625.7 85.2 L625.2 85.8 L624.8 84.8 L624.3 86.4 L623.8 84.8 L623.3 84.2 L622.8 86.6 L622.3 83.5 L621.8 83.3 L621.3 81.8 L620.9 82.6 L620.4 80.7 L619.9 83.0 L619.4 79.8 L618.9 80.4 L618.4 78.9 L617.9 79.4 L617.4 80.9 L617.0 79.6 L616.5 81.1 L616.0 82.2 L615.5 81.6 L615.1 80.7 L614.6 82.8 L614.1 81.9 L613.6 84.7 L613.1 82.6 L612.6 82.2 L612.1 82.9 L611.6 82.6 L611.2 81.6 L610.7 83.1 L610.2 81.0 L609.7 81.6 L609.2 81.6 L608.7 81.2 L608.2 82.3 L607.7 81.1 L607.2 81.2 L606.8 83.0 L606.3 82.3 L605.8 82.6 L605.3 82.6 L604.8 82.9 L604.3 85.0 L603.9 83.9 L603.4 85.1 L602.9 87.0 L602.4 85.5 L601.9 85.3 L601.4 86.7 L601.0 87.6 L600.5 88.3 L600.0 88.5Z" fill="#558ED5"/><path d="M600.0 83.9 L601.0 83.2 L601.9 82.4 L602.9 81.6 L603.9 80.9 L604.8 80.0 L605.8 79.2 L606.8 78.3 L607.7 77.4 L608.7 77.2 L609.7 77.8 L610.7 78.5 L611.6 79.0 L612.6 79.2 L613.6 79.0 L614.6 78.4 L615.5 77.5 L616.5 77.0 L617.4 76.5 L618.4 76.1 L619.4 76.9 L620.4 77.7 L621.3 78.8 L622.3 80.2 L623.3 81.4 L624.3 81.9 L625.2 81.9 L626.2 81.7 L627.2 81.6 L628.1 81.6 L629.1 81.6 L630.1 80.8 L631.1 80.0 L632.1 79.2 L633.1 78.1 L634.1 76.9 L635.1 75.7 L636.1 75.3 L637.1 75.7 L638.1 76.2 L639.1 76.6 L640.1 77.0 L641.1 77.4 L642.1 77.7 L643.1 78.0 L644.1 78.5 L645.1 79.0 L646.0 79.4 L647.0 79.8 L648.0 80.3 L649.0 80.4 L650.0 80.1 L651.0 79.8 L651.9 79.6 L652.9 79.4 L653.9 79.3 L654.9 79.9 L655.9 80.4 L656.9 81.0 L657.8 81.5 L658.8 82.1 L659.8 82.6 L660.8 82.4 L661.8 81.5 L662.8 80.6 L663.8 79.7 L664.8 79.0 L665.8 78.3 L666.8 77.6 L667.8 76.9 L668.8 77.5 L669.8 78.5 L670.8 79.6 L671.8 80.4 L672.8 80.8 L673.8 80.8 L674.8 80.8 L675.8 80.7 L676.7 80.6 L677.7 80.3 L678.6 80.0 L679.6 79.8 L680.6 79.8 L681.5 80.2 L682.5 80.6 L683.4 81.0 L684.4 81.0 L685.3 80.9 L686.3 80.6 L687.2 80.4 L688.2 80.3 L689.2 80.4 L690.1 80.4 L691.1 80.4 L692.0 80.4 L693.0 80.7 L694.0 81.2 L695.0 81.6 L696.0 82.0 L697.0 82.3 L698.0 82.5 L699.0 82.8 L700.0 83.1 L701.0 83.5 L702.0 83.8 L703.0 84.2 L704.0 84.6 L704.9 85.0 L705.9 85.5 L706.9 86.0 L707.9 86.5 L708.9 86.9 L709.9 87.4 L710.9 87.9 L711.9 88.4 L712.8 88.8 L713.8 89.3 L714.8 89.8 L715.8 90.3 L716.8 90.6 L717.8 90.8 L718.7 91.0 L719.7 91.3 L720.6 91.4 L721.6 91.2 L722.6 91.0 L723.5 90.9 L724.5 91.1 L725.5 91.3 L726.5 91.6 L727.5 91.9 L728.5 92.1 L729.5 92.2 L730.5 92.4 L731.5 92.5 L732.4 92.7 L733.4 92.8 L734.4 92.8 L735.4 92.8 L736.4 92.9 L737.4 93.0 L738.4 93.0 L739.4 93.0 L740.4 93.2 L741.4 93.6 L742.4 94.1 L743.4 94.5 L744.3 94.8 L745.3 95.4 L746.3 96.1 L747.3 96.8 L748.3 97.1 L749.3 97.2 L750.3 97.1 L751.3 97.1 L752.3 97.2 L753.3 97.2 L754.3 97.0 L755.2 96.9 L756.2 97.1 L757.2 97.7 L758.2 98.5 L759.2 99.2 L760.2 99.4 L761.2 99.1 L762.2 98.7 L763.2 98.4 L764.1 98.1 L765.1 97.5 L766.1 96.6 L767.1 95.7 L768.1 95.2 L769.1 94.9 L770.0 94.5 L771.0 94.2 L772.0 93.9 L773.0 93.9 L774.0 94.8 L775.0 96.1 L775.9 97.0 L776.9 97.2 L777.9 97.1 L778.9 96.9 L779.8 97.0 L780.8 97.4 L781.8 97.9 L782.8 98.4 L783.7 98.9 L784.7 99.5 L785.7 100.2 L786.7 100.5 L787.7 100.7 L788.7 100.7 L789.7 100.8 L790.6 100.8 L791.6 100.8 L792.6 100.9 L793.6 101.2 L794.6 101.5 L795.6 101.8 L796.6 101.7 L797.6 101.4 L798.6 100.9 L799.5 100.5 L800.5 100.5 L801.5 100.7 L802.5 100.8 L803.5 100.9 L804.5 100.9 L805.5 101.2 L806.5 101.6 L807.5 101.9 L808.5 101.9 L809.5 101.8 L810.5 101.6 L811.5 101.5 L812.5 101.4 L813.5 101.1 L814.5 100.8 L815.5 100.5 L816.5 100.4 L817.5 100.3 L818.5 100.2 L819.5 100.1 L820.5 100.1 L821.5 100.0 L822.5 100.3 L823.5 101.0 L824.5 101.6 L825.5 102.4 L826.5 103.2 L827.5 103.9 L828.5 104.6 L829.5 105.0 L830.5 105.5 L831.5 106.0 L832.5 106.6 L833.5 107.1 L834.5 107.8 L835.5 108.3 L836.5 108.4 L837.5 108.2 L838.5 107.9 L839.5 107.8 L840.5 107.9 L841.5 108.2 L842.5 108.5 L843.5 108.9 L844.5 109.0 L845.5 109.3 L846.5 109.6 L847.5 109.8 L848.5 109.9 L849.5 109.5 L850.5 109.0 L851.5 108.6 L852.5 108.7 L853.5 109.2 L854.5 109.8 L855.5 110.2 L856.5 110.1 L857.5 110.2 L858.5 110.3 L859.5 110.4 L860.4 110.2 L861.4 109.8 L862.4 109.3 L863.4 108.8 L864.4 108.6 L865.4 108.4 L866.4 108.2 L867.4 108.0 L868.4 107.9 L869.4 108.2 L870.4 108.7 L871.3 109.0 L872.3 109.0 L873.3 108.5 L874.3 107.9 L875.3 107.3 L876.3 107.2 L877.3 107.4 L878.3 107.5 L879.3 107.7 L880.3 107.8 L881.2 108.2 L882.2 108.8 L883.2 109.3 L884.2 109.5 L885.2 109.4 L886.2 109.0 L887.2 108.8 L888.2 108.8 L889.2 108.9 L890.2 109.0 L891.2 109.1 L892.1 109.2 L893.1 109.7 L894.1 110.5 L895.1 111.2 L896.1 111.5 L897.1 111.4 L898.1 110.9 L899.1 110.5 L900.1 110.4 L901.1 110.5 L902.0 110.4 L903.0 110.4 L904.0 110.5 L905.0 110.7 L906.0 111.0 L907.0 111.3 L908.0 111.1 L909.0 111.0 L910.0 110.9 L911.0 110.8 L912.0 110.6 L913.0 110.4 L914.0 110.4 L914.9 110.5 L915.9 110.3 L916.9 109.9 L917.9 109.1 L918.9 108.3 L919.9 107.7 L920.9 107.7 L921.9 108.9 L922.9 110.0 L923.9 110.9 L924.9 111.1 L925.9 111.0 L926.8 110.7 L927.8 110.8 L928.8 111.4 L929.8 112.2 L930.8 113.0 L931.8 113.4 L932.8 113.4 L933.8 113.5 L934.8 113.7 L935.7 113.8 L936.7 113.7 L937.7 113.7 L938.7 113.8 L939.7 113.8 L940.7 113.6 L941.6 113.3 L942.6 113.0 L943.6 112.7 L944.6 112.6 L945.6 113.0 L946.6 113.5 L947.5 114.1 L948.5 114.3 L949.5 114.0 L950.5 113.6 L951.4 113.3 L952.4 113.5 L953.4 113.8 L954.4 114.1 L955.3 114.5 L956.3 114.8 L957.3 115.4 L958.3 116.2 L959.2 116.9 L960.2 117.3 L961.2 117.6 L962.2 117.7 L963.1 117.8 L964.1 117.7 L965.1 117.4 L966.1 117.0 L967.0 116.7 L968.0 116.4 L969.0 116.0 L970.0 115.2 L970.9 114.5 L971.9 114.0 L972.9 114.0 L973.9 114.3 L974.8 114.6 L975.8 114.7 L976.8 114.6 L977.8 114.7 L978.8 114.9 L979.8 115.0 L980.7 114.8 L981.7 114.1 L982.7 113.3 L983.7 112.9 L984.7 112.9 L985.7 113.3 L986.7 113.7 L987.6 114.0 L988.6 114.0 L989.6 113.8 L990.6 113.6 L991.6 113.5 L992.6 113.5 L993.6 113.5 L994.6 113.5 L995.5 113.5 L996.5 113.5 L997.5 113.6 L998.5 113.7" stroke="#558ED5" stroke-width="3.74" fill="none" stroke-linejoin="round" stroke-linecap="butt"/><path d="M600.0 101.3 L600.5 99.0 L601.0 101.1 L601.5 99.8 L601.9 101.5 L602.4 99.8 L602.9 102.2 L603.4 99.2 L603.9 100.6 L604.4 99.3 L604.8 100.6 L605.3 98.6 L605.8 100.0 L606.3 99.3 L606.8 99.9 L607.3 97.8 L607.7 99.8 L608.2 97.5 L608.7 98.6 L609.2 97.2 L609.7 98.5 L610.2 96.2 L610.7 99.1 L611.2 96.2 L611.7 99.0 L612.2 96.5 L612.7 99.1 L613.2 97.1 L613.7 98.0 L614.2 97.2 L614.7 97.8 L615.2 95.8 L615.7 97.5 L616.2 96.3 L616.7 96.8 L617.2 94.6 L617.7 96.3 L618.2 94.0 L618.6 96.2 L619.1 94.2 L619.6 96.3 L620.1 94.6 L620.6 96.7 L621.1 95.1 L621.6 97.0 L622.0 94.0 L622.5 93.8 L622.9 91.3 L623.4 92.1 L623.8 89.0 L624.2 82.7 L624.7 74.1 L625.1 67.4 L625.6 76.2 L626.1 88.3 L626.5 83.0 L627.0 81.3 L627.4 75.4 L627.8 74.6 L628.2 76.5 L628.7 84.1 L629.1 87.2 L629.6 89.7 L630.1 89.1 L630.5 92.6 L631.0 91.0 L631.5 92.3 L632.0 90.8 L632.4 91.8 L632.9 90.2 L633.4 93.1 L633.9 87.6 L634.3 86.4 L634.8 81.9 L635.2 85.1 L635.7 86.1 L636.1 88.9 L636.6 87.5 L637.1 89.7 L637.6 88.7 L638.1 91.8 L638.5 91.2 L639.0 94.6 L639.5 93.1 L640.0 97.0 L640.5 96.4 L641.0 99.6 L641.5 95.2 L641.9 94.1 L642.4 88.6 L642.9 88.5 L643.3 84.3 L643.8 82.4 L644.2 78.3 L644.7 76.6 L645.1 77.9 L645.5 83.4 L645.9 84.7 L646.3 90.7 L646.8 89.1 L647.2 92.3 L647.7 90.3 L648.2 93.6 L648.7 91.9 L649.1 94.9 L649.6 92.9 L650.1 94.1 L650.5 91.5 L651.0 92.1 L651.4 88.2 L651.9 90.0 L652.3 86.9 L652.8 86.9 L653.3 85.7 L653.7 88.6 L654.2 87.4 L654.6 90.7 L655.1 89.7 L655.5 92.4 L656.0 91.3 L656.5 94.3 L657.0 92.0 L657.4 94.7 L657.9 92.3 L658.4 95.5 L658.9 92.7 L659.3 95.1 L659.8 92.6 L660.3 95.2 L660.8 92.4 L661.3 93.2 L661.7 91.0 L662.2 93.2 L662.7 92.3 L663.2 94.7 L663.6 92.7 L664.1 95.7 L664.6 93.0 L665.1 94.1 L665.6 91.8 L666.1 92.9 L666.6 92.4 L667.1 94.4 L667.6 93.0 L668.0 93.9 L668.5 92.5 L669.0 94.4 L669.5 91.9 L670.0 93.2 L670.5 91.1 L671.0 92.5 L671.5 90.3 L672.0 91.4 L672.5 90.3 L673.0 92.4 L673.5 90.3 L673.9 92.2 L674.4 91.7 L674.9 92.7 L675.4 91.7 L675.9 94.3 L676.4 92.6 L676.9 95.3 L677.4 92.7 L677.9 94.8 L678.4 92.6 L678.9 94.7 L679.3 92.1 L679.8 94.4 L680.3 92.2 L680.8 93.8 L681.3 91.3 L681.8 93.4 L682.3 90.3 L682.8 91.4 L683.3 89.8 L683.8 90.9 L684.3 89.0 L684.8 91.3 L685.3 89.6 L685.8 91.2 L686.3 89.3 L686.8 90.6 L687.3 88.4 L687.8 89.9 L688.3 86.9 L688.8 89.0 L689.3 88.2 L689.8 90.2 L690.2 87.9 L690.7 89.1 L691.1 86.8 L691.6 89.4 L692.0 86.5 L692.5 87.7 L693.0 84.0 L693.4 83.7 L693.9 79.2 L694.3 78.7 L694.8 75.6 L695.2 75.4 L695.7 74.4 L696.1 77.0 L696.5 76.7 L697.0 79.0 L697.5 78.4 L697.9 80.9 L698.3 79.5 L698.7 83.6 L699.2 83.6 L699.6 86.7 L700.0 86.2 L700.5 88.1 L701.0 86.2 L701.5 88.0 L702.0 86.8 L702.5 88.7 L702.9 86.5 L703.4 88.3 L703.9 86.4 L704.4 88.5 L704.9 86.0 L705.4 87.8 L705.9 85.0 L706.3 88.0 L706.8 85.4 L707.3 88.0 L707.8 85.4 L708.2 87.7 L708.7 85.1 L709.2 87.0 L709.6 85.4 L710.1 86.7 L710.6 84.8 L711.1 87.4 L711.5 85.2 L712.0 87.1" stroke="#1F497D" stroke-width="2.0" fill="none" stroke-linejoin="round"/><path d="M704.0 82.9 L704.5 81.9 L705.0 82.5 L705.5 81.4 L706.0 83.3 L706.5 82.6 L707.0 82.6 L707.4 83.0 L707.9 84.1 L708.4 83.0 L708.9 83.7 L709.4 83.1 L709.9 82.5 L710.4 83.2 L710.9 83.3 L711.4 83.3 L711.9 83.6 L712.4 82.8 L712.9 83.1 L713.3 82.8 L713.8 81.7 L714.3 82.7 L714.8 83.3 L715.3 82.4 L715.8 82.8 L716.3 84.1 L716.8 84.3 L717.3 84.5 L717.8 82.8 L718.3 83.6 L718.8 84.6 L719.3 82.8 L719.7 84.6 L720.2 82.6 L720.7 82.6 L721.2 83.3 L721.7 82.6 L722.2 84.2 L722.7 84.1 L723.2 83.3 L723.7 83.9 L724.2 82.5 L724.7 82.2 L725.2 83.8 L725.6 83.6 L726.1 81.9 L726.6 82.8 L727.1 83.0 L727.6 81.2 L728.1 81.6 L728.6 82.6 L729.1 82.5 L729.6 81.9 L730.1 81.9 L730.6 82.2 L731.1 81.5 L731.6 80.9 L732.0 80.8 L732.5 81.7 L733.0 80.3 L733.5 81.6 L734.0 81.5 L734.5 81.0 L735.0 79.7 L735.5 81.4 L736.0 80.4 L736.5 81.3 L736.9 81.3 L737.4 80.7 L737.9 81.8 L738.4 81.4 L738.9 81.8 L739.4 81.6 L739.9 80.3 L740.4 80.0 L740.8 81.1 L741.3 80.0 L741.8 81.2 L742.3 79.5 L742.8 80.1 L743.3 79.7 L743.8 80.5 L744.3 79.2 L744.8 78.7 L745.3 79.5 L745.8 79.8 L746.3 77.7 L746.8 79.2 L747.3 78.5 L747.8 78.2 L748.3 78.3 L748.8 78.0 L749.2 77.6 L749.7 76.7 L750.2 76.2 L750.7 78.0 L751.2 77.8 L751.7 77.2 L752.2 76.8 L752.7 75.7 L753.2 76.6 L753.7 77.0 L754.2 76.7 L754.7 76.8 L755.2 75.8 L755.7 75.2 L756.2 74.3 L756.7 76.3 L757.2 75.4 L757.7 76.6 L758.2 76.9 L758.7 76.2 L759.2 77.2 L759.7 77.9 L760.2 76.8 L760.7 78.5 L761.2 79.3 L761.7 79.6 L762.2 80.0 L762.7 80.3 L763.2 81.0 L763.6 81.3 L764.1 81.2 L764.6 80.6 L765.1 80.7 L765.6 80.8 L766.1 82.2 L766.6 80.8 L767.1 82.4 L767.6 80.9 L768.1 81.0 L768.6 81.6 L769.1 81.4 L769.6 82.3 L770.1 82.9 L770.6 83.2 L771.1 82.4 L771.6 82.3 L772.1 82.4 L772.6 83.1 L773.1 83.5 L773.6 81.8 L774.1 83.3 L774.5 83.4 L775.0 82.9 L775.5 82.3 L776.0 83.4 L776.5 82.7 L777.0 82.6 L777.5 81.8 L778.0 82.5 L778.5 83.4 L779.0 82.9 L779.5 83.3 L780.0 83.1 L780.5 81.9 L781.0 81.2 L781.5 81.4 L782.0 82.5 L782.4 82.5 L782.9 82.0 L783.4 81.8 L783.9 81.5 L784.4 81.4 L784.9 81.7 L785.4 82.9 L785.9 81.4 L786.4 82.3 L786.9 83.6 L787.4 83.7 L787.9 83.6 L788.4 84.4 L788.9 84.6 L789.4 84.5 L789.9 82.9 L790.3 83.7 L790.8 83.8 L791.3 81.9 L791.8 83.4 L792.3 83.1 L792.8 82.3 L793.3 82.6 L793.8 82.6 L794.3 80.9 L794.8 82.3 L795.3 83.0 L795.8 83.1 L796.2 82.3 L796.7 82.3 L797.2 83.8 L797.7 82.3 L798.2 84.1 L798.6 83.7 L799.1 83.9 L799.6 84.7 L800.1 84.9 L800.6 83.4 L801.1 84.4 L801.5 85.4 L802.0 85.4 L802.5 85.6 L803.0 85.5 L803.5 85.7 L804.0 85.8 L804.5 85.7 L805.0 85.7 L805.5 85.3 L806.0 85.7 L806.5 84.7 L807.0 84.3 L807.5 83.9 L808.0 84.9 L808.5 85.7 L809.0 85.3 L809.5 85.0 L810.0 83.9 L810.5 84.0 L811.0 84.7 L811.5 85.2 L812.0 83.8 L812.5 84.2 L813.0 84.9 L813.5 84.7 L814.0 84.2 L814.5 84.4 L815.0 83.1 L815.5 83.3 L816.0 83.3 L816.5 82.9 L817.0 83.9 L817.5 83.3 L818.0 82.2 L818.5 82.1 L819.0 81.8 L819.5 82.6 L820.0 81.7 L820.5 83.0 L821.0 82.9 L821.5 82.7 L822.0 81.7 L822.5 83.8 L823.0 83.3 L823.5 83.7 L824.0 83.4 L824.5 84.5 L825.0 83.5 L825.5 84.2 L826.0 85.8 L826.5 85.4 L827.0 87.0 L827.5 87.5 L828.0 87.6 L828.5 88.2 L829.0 86.7 L829.4 88.3 L829.9 88.2 L830.4 87.9 L830.9 88.7 L831.4 88.4 L831.9 88.5 L832.4 88.6 L832.9 88.2 L833.4 88.8 L833.9 87.8 L834.4 87.9 L834.9 89.7 L835.4 89.2 L835.9 90.3 L836.4 89.8 L836.9 90.9 L837.4 90.0 L837.9 91.2 L838.4 90.5 L838.9 90.6 L839.4 91.0 L839.8 90.9 L840.3 91.2 L840.8 90.7 L841.3 90.7 L841.8 91.0 L842.3 90.8 L842.8 90.9 L843.3 91.1 L843.8 89.2 L844.3 91.0 L844.8 90.9 L845.3 91.3 L845.8 89.4 L846.3 91.4 L846.8 91.3 L847.2 91.4 L847.7 91.6 L848.2 91.9 L848.7 91.4 L849.2 91.2 L849.7 91.2 L850.2 91.2 L850.7 91.5 L851.2 91.8 L851.7 91.2 L852.2 91.0 L852.7 90.7 L853.2 91.5 L853.7 89.5 L854.1 90.6 L854.6 91.1 L855.1 89.4 L855.6 91.4 L856.1 89.6 L856.6 91.2 L857.1 90.4 L857.6 89.4 L858.1 91.0 L858.6 89.5 L859.1 90.3 L859.6 90.9 L860.1 90.2 L860.6 91.0 L861.1 91.2 L861.5 91.3 L862.0 90.9 L862.5 91.1 L863.0 92.3 L863.5 93.0 L864.0 92.1 L864.5 92.9 L865.0 92.3 L865.5 92.9 L866.0 91.1 L866.5 92.4 L867.0 92.2 L867.5 92.0 L868.0 91.1 L868.5 92.0 L869.0 92.1 L869.4 92.3 L869.9 92.3 L870.4 91.0 L870.9 91.9 L871.4 91.8 L871.9 90.9 L872.4 92.4 L872.9 92.0 L873.4 91.2 L873.9 92.4 L874.4 90.7 L874.9 91.8 L875.4 91.6 L875.9 92.1 L876.4 91.6 L876.9 92.7 L877.3 92.1 L877.8 92.9 L878.3 92.9 L878.8 92.4 L879.3 91.7 L879.8 92.6 L880.3 92.2 L880.8 92.8 L881.3 93.1 L881.8 92.8 L882.3 93.1 L882.8 92.7 L883.3 91.3 L883.8 91.9 L884.3 92.4 L884.8 91.5 L885.2 92.3 L885.7 92.6 L886.2 93.1 L886.7 92.9 L887.2 92.5 L887.7 93.0 L888.2 92.6 L888.7 92.9 L889.2 92.0 L889.7 92.1 L890.2 93.3 L890.7 91.9 L891.2 92.0 L891.7 93.2 L892.2 93.7 L892.6 93.3 L893.1 92.2 L893.6 93.5 L894.1 94.0 L894.6 92.5 L895.1 92.6 L895.6 93.7 L896.1 93.3 L896.6 93.2 L897.1 92.6 L897.6 93.1 L898.0 94.5 L898.5 95.1 L899.0 93.5 L899.5 95.7 L900.0 95.9 L900.5 95.5 L901.0 94.8 L901.4 96.6 L901.9 97.2 L902.4 97.7 L902.9 97.1 L903.4 97.9 L903.8 98.7 L904.3 98.3 L904.8 99.4 L905.3 98.3 L905.8 99.1 L906.3 98.6 L906.8 96.6 L907.3 97.8 L907.8 96.0 L908.2 96.0 L908.7 96.1 L909.2 96.2 L909.7 94.7 L910.2 94.2 L910.7 95.4 L911.2 93.8 L911.7 95.1 L912.2 94.7 L912.6 94.1 L913.1 92.9 L913.6 93.9 L914.1 92.3 L914.6 93.7 L915.1 93.3 L915.6 91.7 L916.1 93.0 L916.6 91.8 L917.1 91.6 L917.5 92.4 L918.0 93.4 L918.5 93.3 L919.0 93.0 L919.5 92.3 L920.0 90.7 L920.5 92.5 L921.0 92.4 L921.5 92.8 L922.0 92.7 L922.5 93.1 L923.0 93.2 L923.5 93.4 L924.0 92.9 L924.5 93.1 L925.0 94.0 L925.5 93.7 L926.0 93.3 L926.5 94.0 L927.0 93.7 L927.5 94.8 L928.0 95.0 L928.5 94.0 L929.0 93.5 L929.5 94.4 L930.0 95.1 L930.5 94.1 L931.0 94.3 L931.5 95.7 L932.0 95.0 L932.5 94.7 L933.0 94.8 L933.5 95.1 L934.0 94.4 L934.5 94.3 L935.0 94.5 L935.5 94.0 L936.0 95.7 L936.5 95.8 L937.0 95.8 L937.5 95.5 L938.0 95.5 L938.5 94.9 L939.0 95.8 L939.5 95.8 L940.0 95.7 L940.5 95.6 L941.0 95.2 L941.5 95.6 L942.0 94.4 L942.5 95.0 L943.0 95.5 L943.5 95.3 L944.0 95.4 L944.5 94.9 L945.0 95.3 L945.5 94.3 L946.0 95.4 L946.5 95.1 L947.0 94.3 L947.5 95.9 L948.0 95.6 L948.5 94.7 L949.0 95.9 L949.5 94.7 L950.0 95.7 L950.5 95.9 L951.0 96.1 L951.5 96.3 L952.0 95.8 L952.5 94.7 L953.0 95.5 L953.5 96.5 L954.0 95.4 L954.5 96.0 L955.0 95.6 L955.5 96.1 L956.0 96.2 L956.5 95.9 L957.0 94.7 L957.5 94.5 L958.0 95.6 L958.5 95.2 L959.0 95.7 L959.5 95.5 L960.0 96.0 L960.5 96.3 L961.0 96.5 L961.5 96.8 L962.0 95.6 L962.5 97.2 L962.9 97.2 L963.4 97.7 L963.9 97.6 L964.4 96.6 L964.9 97.3 L965.4 98.0 L965.9 97.4 L966.4 98.2 L966.9 98.3 L967.4 98.3 L967.9 97.8 L968.4 98.2 L968.9 98.1 L969.3 98.1 L969.8 97.3 L970.3 98.4 L970.8 98.7 L971.3 99.6 L971.8 100.2 L972.3 100.6 L972.8 100.7 L973.3 100.9 L973.8 100.5 L974.3 99.1 L974.8 99.6 L975.3 100.0 L975.8 99.4 L976.3 99.3 L976.8 98.9 L977.3 98.8 L977.8 97.2 L978.3 97.3 L978.8 97.7 L979.3 96.4 L979.8 96.6 L980.2 96.9 L980.7 96.4 L981.2 95.7 L981.7 95.4 L982.2 94.6 L982.7 94.4 L983.2 93.2 L983.7 94.1 L984.2 94.1 L984.7 92.5 L985.2 93.7 L985.7 93.1 L986.2 93.3 L986.7 91.9 L987.2 93.4 L987.7 92.2 L988.2 93.0 L988.6 93.9 L989.1 93.5 L989.6 93.3 L990.1 92.7 L990.6 94.3 L991.0 93.7 L991.5 93.6 L992.0 94.2 L992.5 94.7 L993.0 93.6 L993.5 94.2 L994.0 93.3 L994.4 93.8 L994.9 93.7 L995.4 95.7 L995.8 94.9 L996.2 94.3 L996.7 93.7 L997.1 92.2 L997.5 92.4 L997.9 90.2 L998.4 87.5 L998.8 85.7 L999.2 87.5 L999.6 91.7 L999.6 99.2 L999.2 96.7 L998.8 92.5 L998.4 94.6 L997.9 96.8 L997.5 99.0 L997.1 101.6 L996.7 100.4 L996.2 101.8 L995.8 101.7 L995.4 103.0 L994.9 101.9 L994.4 101.9 L994.0 101.6 L993.5 101.7 L993.0 102.0 L992.5 101.6 L992.0 102.9 L991.5 101.3 L991.0 102.6 L990.6 101.0 L990.1 101.8 L989.6 102.1 L989.1 102.6 L988.6 101.3 L988.2 100.3 L987.7 101.9 L987.2 100.3 L986.7 99.8 L986.2 100.1 L985.7 101.8 L985.2 101.6 L984.7 100.5 L984.2 102.6 L983.7 100.9 L983.2 102.3 L982.7 101.5 L982.2 101.9 L981.7 102.4 L981.2 103.6 L980.7 104.9 L980.2 103.6 L979.8 105.0 L979.3 104.2 L978.8 105.5 L978.3 104.7 L977.8 105.0 L977.3 106.7 L976.8 106.0 L976.3 107.1 L975.8 106.3 L975.3 106.7 L974.8 107.0 L974.3 107.5 L973.8 107.6 L973.3 108.1 L972.8 109.0 L972.3 107.3 L971.8 106.9 L971.3 107.3 L970.8 107.5 L970.3 106.3 L969.8 106.7 L969.3 106.3 L968.9 105.1 L968.4 106.1 L967.9 105.4 L967.4 105.2 L966.9 105.2 L966.4 105.6 L965.9 105.1 L965.4 104.7 L964.9 104.9 L964.4 104.9 L963.9 105.5 L963.4 104.2 L962.9 104.5 L962.5 104.0 L962.0 103.6 L961.5 104.0 L961.0 103.1 L960.5 104.3 L960.0 102.6 L959.5 103.0 L959.0 103.2 L958.5 102.7 L958.0 103.0 L957.5 103.5 L957.0 104.0 L956.5 103.5 L956.0 104.2 L955.5 103.1 L955.0 103.5 L954.5 103.1 L954.0 103.0 L953.5 104.7 L953.0 103.9 L952.5 103.6 L952.0 103.6 L951.5 102.9 L951.0 102.9 L950.5 102.8 L950.0 104.4 L949.5 103.3 L949.0 103.6 L948.5 102.9 L948.0 103.6 L947.5 102.4 L947.0 102.8 L946.5 102.4 L946.0 103.3 L945.5 102.5 L945.0 102.0 L944.5 103.4 L944.0 103.3 L943.5 102.4 L943.0 102.0 L942.5 102.3 L942.0 102.5 L941.5 102.2 L941.0 102.8 L940.5 102.5 L940.0 102.4 L939.5 103.6 L939.0 103.3 L938.5 104.0 L938.0 103.2 L937.5 102.8 L937.0 102.4 L936.5 102.8 L936.0 102.6 L935.5 102.6 L935.0 102.3 L934.5 103.6 L934.0 102.2 L933.5 103.3 L933.0 102.9 L932.5 103.2 L932.0 102.3 L931.5 103.9 L931.0 102.6 L930.5 102.7 L930.0 102.9 L929.5 102.3 L929.0 102.1 L928.5 103.2 L928.0 101.7 L927.5 102.9 L927.0 101.2 L926.5 101.0 L926.0 101.2 L925.5 102.2 L925.0 100.7 L924.5 100.3 L924.0 101.5 L923.5 100.5 L923.0 100.1 L922.5 99.6 L922.0 100.5 L921.5 99.4 L921.0 101.0 L920.5 99.4 L920.0 99.5 L919.5 99.6 L919.0 99.6 L918.5 100.7 L918.0 101.0 L917.5 100.6 L917.1 100.0 L916.6 100.9 L916.1 100.1 L915.6 100.8 L915.1 100.6 L914.6 100.9 L914.1 102.3 L913.6 100.8 L913.1 101.1 L912.6 102.7 L912.2 102.0 L911.7 102.0 L911.2 102.2 L910.7 103.1 L910.2 103.7 L909.7 102.8 L909.2 103.3 L908.7 104.3 L908.2 104.3 L907.8 104.0 L907.3 104.8 L906.8 104.8 L906.3 105.3 L905.8 105.8 L905.3 107.0 L904.8 107.2 L904.3 106.7 L903.8 105.3 L903.4 105.7 L902.9 105.2 L902.4 105.0 L901.9 104.0 L901.4 103.7 L901.0 104.4 L900.5 103.0 L900.0 103.1 L899.5 102.3 L899.0 103.5 L898.5 102.8 L898.0 101.3 L897.6 101.0 L897.1 100.8 L896.6 100.8 L896.1 101.3 L895.6 101.1 L895.1 102.3 L894.6 101.6 L894.1 100.9 L893.6 101.1 L893.1 100.8 L892.6 102.2 L892.2 100.6 L891.7 101.4 L891.2 100.6 L890.7 99.9 L890.2 100.9 L889.7 100.7 L889.2 100.2 L888.7 99.7 L888.2 99.7 L887.7 100.8 L887.2 100.3 L886.7 99.6 L886.2 101.3 L885.7 99.7 L885.2 99.9 L884.8 100.3 L884.3 101.6 L883.8 99.7 L883.3 99.9 L882.8 100.0 L882.3 99.6 L881.8 100.2 L881.3 99.6 L880.8 99.7 L880.3 100.0 L879.8 100.2 L879.3 99.6 L878.8 99.6 L878.3 99.7 L877.8 99.6 L877.3 99.5 L876.9 99.6 L876.4 99.8 L875.9 99.4 L875.4 99.5 L874.9 99.1 L874.4 99.2 L873.9 99.5 L873.4 100.2 L872.9 99.3 L872.4 99.5 L871.9 99.2 L871.4 100.2 L870.9 98.9 L870.4 99.0 L869.9 99.0 L869.4 98.8 L869.0 100.5 L868.5 99.5 L868.0 100.4 L867.5 100.2 L867.0 100.1 L866.5 100.5 L866.0 100.1 L865.5 100.0 L865.0 100.1 L864.5 99.8 L864.0 100.7 L863.5 100.7 L863.0 99.5 L862.5 99.8 L862.0 99.1 L861.5 98.8 L861.1 99.1 L860.6 100.1 L860.1 99.2 L859.6 98.1 L859.1 98.7 L858.6 99.9 L858.1 99.5 L857.6 98.1 L857.1 98.1 L856.6 98.9 L856.1 99.9 L855.6 99.6 L855.1 99.2 L854.6 98.0 L854.1 98.9 L853.7 98.4 L853.2 98.9 L852.7 98.1 L852.2 99.8 L851.7 98.5 L851.2 98.3 L850.7 98.6 L850.2 98.5 L849.7 99.3 L849.2 99.7 L848.7 99.9 L848.2 100.3 L847.7 98.9 L847.2 99.8 L846.8 98.4 L846.3 98.8 L845.8 98.3 L845.3 98.7 L844.8 97.8 L844.3 98.2 L843.8 98.1 L843.3 97.9 L842.8 98.0 L842.3 97.9 L841.8 99.0 L841.3 99.1 L840.8 99.0 L840.3 98.8 L839.8 99.3 L839.4 99.4 L838.9 97.9 L838.4 99.7 L837.9 97.8 L837.4 98.4 L836.9 98.2 L836.4 97.9 L835.9 97.6 L835.4 97.3 L834.9 97.2 L834.4 96.0 L833.9 96.2 L833.4 96.6 L832.9 95.5 L832.4 96.4 L831.9 96.9 L831.4 96.4 L830.9 97.1 L830.4 95.8 L829.9 96.9 L829.4 95.7 L829.0 95.7 L828.5 95.7 L828.0 95.5 L827.5 95.0 L827.0 94.4 L826.5 93.2 L826.0 94.6 L825.5 92.3 L825.0 92.8 L824.5 91.7 L824.0 91.9 L823.5 92.4 L823.0 91.4 L822.5 92.0 L822.0 90.1 L821.5 90.8 L821.0 89.9 L820.5 89.9 L820.0 90.7 L819.5 90.1 L819.0 90.1 L818.5 90.0 L818.0 90.1 L817.5 90.3 L817.0 90.4 L816.5 91.8 L816.0 91.1 L815.5 90.9 L815.0 91.1 L814.5 93.0 L814.0 93.1 L813.5 92.8 L813.0 92.8 L812.5 91.5 L812.0 91.7 L811.5 93.7 L811.0 93.8 L810.5 92.2 L810.0 93.3 L809.5 94.1 L809.0 92.5 L808.5 92.6 L808.0 93.2 L807.5 92.6 L807.0 92.3 L806.5 92.4 L806.0 92.4 L805.5 93.4 L805.0 92.7 L804.5 94.0 L804.0 92.5 L803.5 94.1 L803.0 92.7 L802.5 92.9 L802.0 92.2 L801.5 92.9 L801.1 91.8 L800.6 91.7 L800.1 93.1 L799.6 91.9 L799.1 91.8 L798.6 91.3 L798.2 92.0 L797.7 90.6 L797.2 91.9 L796.7 90.2 L796.2 90.3 L795.8 91.4 L795.3 89.9 L794.8 90.8 L794.3 89.7 L793.8 91.1 L793.3 89.4 L792.8 90.1 L792.3 89.8 L791.8 90.1 L791.3 90.2 L790.8 92.1 L790.3 92.2 L789.9 91.0 L789.4 91.5 L788.9 91.7 L788.4 91.1 L787.9 91.3 L787.4 91.6 L786.9 91.7 L786.4 90.1 L785.9 90.7 L785.4 90.5 L784.9 89.4 L784.4 90.5 L783.9 89.5 L783.4 89.2 L782.9 90.0 L782.4 89.3 L782.0 89.8 L781.5 89.7 L781.0 90.5 L780.5 90.4 L780.0 90.1 L779.5 89.9 L779.0 91.6 L778.5 90.2 L778.0 90.2 L777.5 90.0 L777.0 90.4 L776.5 91.8 L776.0 91.4 L775.5 91.0 L775.0 92.0 L774.5 90.1 L774.1 90.3 L773.6 90.0 L773.1 91.9 L772.6 90.1 L772.1 90.6 L771.6 90.2 L771.1 91.4 L770.6 92.0 L770.1 90.2 L769.6 90.9 L769.1 90.1 L768.6 91.1 L768.1 89.2 L767.6 89.8 L767.1 89.3 L766.6 90.0 L766.1 90.5 L765.6 90.7 L765.1 90.5 L764.6 89.3 L764.1 89.1 L763.6 89.2 L763.2 88.3 L762.7 87.7 L762.2 86.9 L761.7 88.2 L761.2 86.2 L760.7 87.1 L760.2 85.8 L759.7 84.4 L759.2 84.4 L758.7 84.6 L758.2 83.7 L757.7 83.4 L757.2 84.2 L756.7 83.0 L756.2 83.2 L755.7 83.1 L755.2 84.5 L754.7 84.9 L754.2 84.8 L753.7 83.6 L753.2 83.7 L752.7 83.9 L752.2 84.0 L751.7 85.1 L751.2 84.6 L750.7 86.0 L750.2 85.8 L749.7 86.5 L749.2 85.4 L748.8 87.0 L748.3 86.9 L747.8 85.5 L747.3 87.1 L746.8 85.9 L746.3 87.5 L745.8 86.4 L745.3 87.3 L744.8 87.5 L744.3 86.9 L743.8 88.3 L743.3 88.2 L742.8 87.4 L742.3 87.6 L741.8 88.4 L741.3 88.4 L740.8 88.2 L740.4 88.1 L739.9 88.2 L739.4 88.6 L738.9 90.0 L738.4 88.6 L737.9 89.7 L737.4 90.2 L736.9 88.4 L736.5 89.1 L736.0 89.2 L735.5 88.2 L735.0 88.1 L734.5 88.5 L734.0 88.1 L733.5 89.7 L733.0 88.7 L732.5 89.0 L732.0 88.5 L731.6 88.6 L731.1 88.9 L730.6 88.9 L730.1 90.7 L729.6 89.9 L729.1 90.5 L728.6 89.4 L728.1 89.9 L727.6 90.1 L727.1 90.0 L726.6 90.9 L726.1 91.6 L725.6 90.8 L725.2 90.6 L724.7 90.6 L724.2 92.4 L723.7 91.2 L723.2 91.7 L722.7 91.0 L722.2 91.5 L721.7 90.9 L721.2 91.0 L720.7 92.8 L720.2 91.2 L719.7 91.2 L719.3 91.1 L718.8 93.0 L718.3 92.0 L717.8 91.1 L717.3 91.3 L716.8 91.1 L716.3 91.7 L715.8 90.3 L715.3 90.4 L714.8 89.9 L714.3 90.5 L713.8 90.5 L713.3 89.8 L712.9 89.8 L712.4 90.0 L711.9 90.7 L711.4 91.0 L710.9 90.7 L710.4 91.6 L709.9 90.9 L709.4 91.4 L708.9 91.0 L708.4 91.6 L707.9 91.2 L707.4 91.3 L707.0 90.7 L706.5 90.7 L706.0 90.4 L705.5 91.1 L705.0 89.8 L704.5 89.5 L704.0 90.5Z" fill="#1F497D"/><path d="M704.0 86.2 L705.0 86.4 L706.0 86.7 L707.0 87.1 L707.9 87.5 L708.9 87.7 L709.9 87.7 L710.9 87.3 L711.9 86.9 L712.9 86.5 L713.8 86.4 L714.8 86.6 L715.8 87.1 L716.8 87.6 L717.8 87.9 L718.8 88.0 L719.7 87.8 L720.7 87.7 L721.7 87.7 L722.7 87.6 L723.7 87.5 L724.7 87.3 L725.6 87.0 L726.6 86.6 L727.6 86.2 L728.6 85.9 L729.6 85.7 L730.6 85.5 L731.6 85.3 L732.5 85.1 L733.5 84.9 L734.5 84.8 L735.5 84.8 L736.5 84.9 L737.4 85.1 L738.4 85.1 L739.4 85.0 L740.4 84.8 L741.3 84.6 L742.3 84.3 L743.3 83.9 L744.3 83.6 L745.3 83.3 L746.3 82.9 L747.3 82.4 L748.3 82.0 L749.2 81.7 L750.2 81.4 L751.2 81.1 L752.2 80.8 L753.2 80.4 L754.2 80.2 L755.2 79.9 L756.2 79.5 L757.2 79.9 L758.2 80.3 L759.2 80.8 L760.2 81.6 L761.2 82.5 L762.2 83.5 L763.2 84.4 L764.1 85.1 L765.1 85.4 L766.1 85.6 L767.1 85.8 L768.1 86.0 L769.1 86.4 L770.1 86.9 L771.1 86.9 L772.1 86.8 L773.1 86.8 L774.1 86.8 L775.0 86.7 L776.0 86.7 L777.0 86.7 L778.0 86.7 L779.0 86.7 L780.0 86.6 L781.0 86.4 L782.0 86.1 L782.9 85.9 L783.9 85.8 L784.9 86.0 L785.9 86.5 L786.9 87.1 L787.9 87.6 L788.9 87.9 L789.9 87.7 L790.8 87.2 L791.8 86.7 L792.8 86.2 L793.8 85.9 L794.8 86.0 L795.8 86.4 L796.7 86.9 L797.7 87.3 L798.6 87.7 L799.6 88.0 L800.6 88.3 L801.5 88.7 L802.5 89.0 L803.5 89.2 L804.5 89.1 L805.5 89.0 L806.5 89.0 L807.5 89.1 L808.5 89.0 L809.5 88.9 L810.5 88.7 L811.5 88.5 L812.5 88.3 L813.5 88.1 L814.5 87.9 L815.5 87.7 L816.5 87.3 L817.5 87.0 L818.5 86.7 L819.5 86.6 L820.5 86.6 L821.5 86.7 L822.5 87.1 L823.5 87.8 L824.5 88.3 L825.5 89.1 L826.5 89.9 L827.5 90.8 L828.5 91.5 L829.4 92.1 L830.4 92.2 L831.4 92.2 L832.4 92.1 L833.4 92.3 L834.4 92.7 L835.4 93.4 L836.4 94.0 L837.4 94.3 L838.4 94.6 L839.4 94.6 L840.3 94.6 L841.3 94.5 L842.3 94.5 L843.3 94.4 L844.3 94.4 L845.3 94.6 L846.3 94.8 L847.2 95.0 L848.2 95.2 L849.2 95.2 L850.2 95.2 L851.2 95.0 L852.2 94.8 L853.2 94.7 L854.1 94.7 L855.1 94.7 L856.1 94.7 L857.1 94.6 L858.1 94.6 L859.1 94.6 L860.1 94.9 L861.1 95.3 L862.0 95.8 L863.0 96.2 L864.0 96.3 L865.0 96.3 L866.0 96.1 L867.0 95.8 L868.0 95.6 L869.0 95.5 L869.9 95.6 L870.9 95.7 L871.9 95.7 L872.9 95.8 L873.9 95.8 L874.9 95.9 L875.9 96.0 L876.9 96.1 L877.8 96.3 L878.8 96.4 L879.8 96.4 L880.8 96.4 L881.8 96.4 L882.8 96.4 L883.8 96.4 L884.8 96.4 L885.7 96.4 L886.7 96.4 L887.7 96.3 L888.7 96.3 L889.7 96.4 L890.7 96.6 L891.7 96.9 L892.6 97.2 L893.6 97.3 L894.6 97.3 L895.6 97.3 L896.6 97.2 L897.6 97.8 L898.5 98.4 L899.5 99.0 L900.5 99.7 L901.4 100.4 L902.4 101.0 L903.4 101.7 L904.3 102.4 L905.3 102.9 L906.3 102.0 L907.3 101.2 L908.2 100.4 L909.2 99.8 L910.2 99.3 L911.2 98.7 L912.2 98.2 L913.1 97.7 L914.1 97.2 L915.1 96.9 L916.1 96.8 L917.1 96.8 L918.0 96.7 L919.0 96.3 L920.0 95.7 L921.0 96.0 L922.0 96.2 L923.0 96.5 L924.0 96.9 L925.0 97.2 L926.0 97.6 L927.0 97.9 L928.0 98.3 L929.0 98.6 L930.0 98.9 L931.0 99.0 L932.0 99.0 L933.0 99.1 L934.0 98.9 L935.0 98.9 L936.0 99.0 L937.0 99.1 L938.0 99.1 L939.0 99.1 L940.0 99.1 L941.0 99.0 L942.0 98.8 L943.0 98.7 L944.0 98.7 L945.0 98.7 L946.0 98.9 L947.0 99.1 L948.0 99.2 L949.0 99.3 L950.0 99.3 L951.0 99.4 L952.0 99.6 L953.0 99.7 L954.0 99.8 L955.0 99.7 L956.0 99.5 L957.0 99.3 L958.0 99.1 L959.0 99.0 L960.0 99.4 L961.0 99.8 L962.0 100.3 L962.9 100.7 L963.9 101.1 L964.9 101.3 L965.9 101.5 L966.9 101.5 L967.9 101.7 L968.9 101.9 L969.8 102.3 L970.8 102.9 L971.8 103.6 L972.8 104.2 L973.8 104.0 L974.8 103.5 L975.8 102.9 L976.8 102.3 L977.8 101.7 L978.8 101.2 L979.8 100.7 L980.7 99.9 L981.7 99.1 L982.7 98.3 L983.7 97.6 L984.7 97.2 L985.7 96.8 L986.7 96.5 L987.7 96.9 L988.6 97.2 L989.6 97.5 L990.6 97.7 L991.5 97.8 L992.5 98.0 L993.5 98.2 L994.4 98.5 L995.4 99.0 L996.2 97.7 L997.1 96.4 L997.9 93.5 L998.8 89.0 L999.6 95.0" stroke="#1F497D" stroke-width="4.02" fill="none" stroke-linejoin="round" stroke-linecap="butt"/><path d="M600.0 101.4 L600.5 102.1 L601.0 101.7 L601.5 102.3 L602.0 102.3 L602.5 101.7 L603.0 101.8 L603.4 100.8 L603.9 102.2 L604.4 101.1 L604.9 102.4 L605.4 102.6 L605.9 101.4 L606.4 102.4 L606.9 102.6 L607.4 102.7 L607.9 103.2 L608.4 101.7 L608.9 102.8 L609.3 103.0 L609.8 101.9 L610.3 103.7 L610.8 103.4 L611.3 103.0 L611.8 104.1 L612.3 103.7 L612.8 104.4 L613.3 103.7 L613.8 104.2 L614.3 104.7 L614.8 106.2 L615.3 105.3 L615.8 107.0 L616.3 105.8 L616.8 107.4 L617.3 107.8 L617.7 108.2 L618.2 108.3 L618.7 109.1 L619.2 109.5 L619.7 109.2 L620.2 109.1 L620.7 109.4 L621.2 110.9 L621.7 110.5 L622.2 111.0 L622.7 111.9 L623.2 111.6 L623.7 111.6 L624.2 112.7 L624.6 112.9 L625.1 113.1 L625.6 112.6 L626.1 113.5 L626.6 112.7 L627.0 112.8 L627.5 113.9 L628.0 114.0 L628.5 114.5 L629.0 114.8 L629.5 115.0 L630.0 114.7 L630.4 115.4 L630.9 115.7 L631.4 115.4 L631.9 115.7 L632.4 115.4 L632.9 116.0 L633.4 115.1 L633.8 115.2 L634.3 115.8 L634.8 115.9 L635.3 115.5 L635.8 115.0 L636.3 114.6 L636.8 115.6 L637.2 115.6 L637.7 114.7 L638.2 114.3 L638.7 114.7 L639.2 114.5 L639.7 114.1 L640.2 115.0 L640.7 114.5 L641.1 115.1 L641.6 113.7 L642.1 115.4 L642.6 115.4 L643.1 114.7 L643.6 114.4 L644.1 115.2 L644.6 114.5 L645.0 114.3 L645.5 115.2 L646.0 114.2 L646.5 114.4 L647.0 113.9 L647.5 113.9 L648.0 115.8 L648.5 115.1 L649.0 117.1 L649.5 116.7 L650.0 116.6 L650.5 117.1 L650.9 119.3 L651.4 118.8 L651.9 119.8 L652.4 120.7 L652.9 120.7 L653.4 121.8 L653.9 122.1 L654.4 122.2 L654.9 121.1 L655.4 121.2 L655.9 121.9 L656.3 120.3 L656.8 121.3 L657.3 121.2 L657.8 121.0 L658.3 119.8 L658.8 120.9 L659.3 121.2 L659.8 119.5 L660.2 120.8 L660.7 120.8 L661.2 119.7 L661.7 119.6 L662.2 120.9 L662.7 120.4 L663.2 119.9 L663.6 119.5 L664.1 120.2 L664.6 120.4 L665.1 119.7 L665.6 121.0 L666.1 119.2 L666.6 119.2 L667.1 120.3 L667.5 120.8 L668.0 120.8 L668.5 119.7 L669.0 120.7 L669.5 119.4 L670.0 121.0 L670.4 121.4 L670.9 122.6 L671.4 121.8 L671.9 123.6 L672.3 123.4 L672.8 124.8 L673.3 125.2 L673.8 125.7 L674.2 126.0 L674.7 126.3 L675.2 125.6 L675.7 125.4 L676.2 123.6 L676.7 124.4 L677.2 123.7 L677.7 123.4 L678.2 123.1 L678.7 122.8 L679.2 121.5 L679.7 120.5 L680.2 121.9 L680.7 121.3 L681.2 120.5 L681.7 119.8 L682.2 121.3 L682.7 121.1 L683.1 121.1 L683.6 122.3 L684.1 122.8 L684.6 121.7 L685.0 123.0 L685.5 122.4 L686.0 124.0 L686.5 124.2 L687.0 123.8 L687.4 124.7 L687.9 124.7 L688.4 124.0 L688.9 123.9 L689.3 125.2 L689.8 125.4 L690.3 126.2 L690.8 125.9 L691.3 125.1 L691.8 125.4 L692.3 125.4 L692.8 125.3 L693.3 124.6 L693.8 125.0 L694.3 124.4 L694.8 124.9 L695.3 123.7 L695.7 124.2 L696.2 124.3 L696.7 122.5 L697.2 123.5 L697.7 122.8 L698.2 124.0 L698.7 122.3 L699.2 123.2 L699.7 123.8 L700.2 123.8 L700.7 123.1 L701.2 122.9 L701.7 123.8 L702.2 124.4 L702.7 124.5 L703.1 124.7 L703.6 124.6 L704.1 124.3 L704.6 124.6 L705.1 124.6 L705.6 125.4 L706.1 126.3 L706.6 125.6 L707.0 126.5 L707.5 126.0 L708.0 127.7 L708.5 126.5 L709.0 127.4 L709.5 127.9 L710.0 128.4 L710.5 128.1 L710.9 127.6 L711.4 127.8 L711.9 128.2 L712.4 128.5 L712.9 129.5 L713.4 129.3 L713.9 128.9 L714.4 129.3 L714.9 129.1 L715.4 128.8 L715.8 128.0 L716.3 128.6 L716.8 128.3 L717.3 127.9 L717.8 127.9 L718.3 126.4 L718.8 126.8 L719.3 127.4 L719.8 125.5 L720.3 126.6 L720.7 127.1 L721.2 126.2 L721.7 126.3 L722.2 126.0 L722.7 126.3 L723.2 126.5 L723.7 126.2 L724.2 127.9 L724.7 128.4 L725.1 128.0 L725.6 128.6 L726.1 128.0 L726.6 130.0 L727.1 128.7 L727.5 129.2 L728.0 129.9 L728.5 129.6 L729.0 129.9 L729.5 131.3 L730.0 131.2 L730.5 131.6 L730.9 132.0 L731.4 131.7 L731.9 132.5 L732.4 130.9 L732.9 131.6 L733.4 131.5 L733.9 131.4 L734.4 132.4 L734.9 131.7 L735.4 131.7 L735.9 131.3 L736.4 132.4 L736.9 132.9 L737.4 132.8 L737.9 132.9 L738.4 131.8 L738.9 132.1 L739.3 131.8 L739.8 132.9 L740.3 132.9 L740.8 132.8 L741.3 131.4 L741.8 132.3 L742.3 132.7 L742.8 131.6 L743.3 132.5 L743.8 131.5 L744.3 132.7 L744.8 131.7 L745.3 132.7 L745.8 131.9 L746.3 132.8 L746.8 133.0 L747.3 133.0 L747.8 132.9 L748.3 132.3 L748.8 132.6 L749.3 131.9 L749.8 132.6 L750.3 133.5 L750.8 132.5 L751.3 133.0 L751.8 133.7 L752.3 133.2 L752.8 132.8 L753.2 133.1 L753.7 132.9 L754.2 132.8 L754.7 134.0 L755.2 133.2 L755.7 133.9 L756.2 134.0 L756.7 132.3 L757.2 133.3 L757.7 132.5 L758.2 133.7 L758.7 133.6 L759.2 132.8 L759.7 133.5 L760.2 132.0 L760.7 133.5 L761.2 133.2 L761.7 133.2 L762.2 133.5 L762.7 133.5 L763.2 132.4 L763.7 133.2 L764.1 132.5 L764.6 133.8 L765.1 133.5 L765.6 133.5 L766.1 132.7 L766.6 133.9 L767.1 132.4 L767.6 134.0 L768.1 133.8 L768.6 132.5 L769.1 132.9 L769.6 133.5 L770.1 134.2 L770.6 134.3 L771.1 134.3 L771.6 133.8 L772.1 134.2 L772.6 133.7 L773.0 133.6 L773.5 134.4 L774.0 134.5 L774.5 134.1 L775.0 134.3 L775.5 134.7 L776.0 134.8 L776.5 134.8 L777.0 134.0 L777.5 134.7 L778.0 135.1 L778.5 135.3 L779.0 133.6 L779.5 134.9 L780.0 135.0 L780.5 134.6 L781.0 135.2 L781.4 135.6 L781.9 135.7 L782.4 133.9 L782.9 135.5 L783.4 134.5 L783.9 135.1 L784.4 135.7 L784.9 135.5 L785.4 135.1 L785.9 134.8 L786.4 135.4 L786.9 135.0 L787.4 135.1 L787.9 134.8 L788.4 134.8 L788.9 136.2 L789.4 135.0 L789.9 134.9 L790.3 136.4 L790.8 135.5 L791.3 135.9 L791.8 136.6 L792.3 136.6 L792.8 136.5 L793.3 136.2 L793.8 136.9 L794.3 136.9 L794.8 136.8 L795.3 136.5 L795.8 136.4 L796.3 137.3 L796.8 137.2 L797.3 136.6 L797.8 137.6 L798.3 136.4 L798.8 137.1 L799.3 136.5 L799.8 138.0 L800.2 137.8 L800.7 138.2 L801.2 138.6 L801.7 138.9 L802.2 139.0 L802.7 139.2 L803.2 139.2 L803.7 139.2 L804.2 139.0 L804.7 139.5 L805.2 139.0 L805.7 138.3 L806.2 138.2 L806.7 138.4 L807.2 139.6 L807.7 138.9 L808.2 139.0 L808.7 138.5 L809.2 138.3 L809.7 140.0 L810.2 139.8 L810.7 139.4 L811.2 138.8 L811.6 140.0 L812.1 139.7 L812.6 138.2 L813.1 138.7 L813.6 139.7 L814.1 138.5 L814.6 139.5 L815.1 138.0 L815.6 139.4 L816.1 139.7 L816.6 139.7 L817.1 138.9 L817.6 139.7 L818.1 139.8 L818.6 139.0 L819.1 139.3 L819.6 139.6 L820.1 139.4 L820.6 139.8 L821.1 139.1 L821.6 139.0 L822.1 140.0 L822.6 140.3 L823.1 140.2 L823.5 140.1 L824.0 140.4 L824.5 140.3 L825.0 140.2 L825.5 140.1 L826.0 139.9 L826.5 139.8 L827.0 139.4 L827.5 140.7 L828.0 140.8 L828.5 140.8 L829.0 139.9 L829.5 139.8 L830.0 140.5 L830.5 139.7 L831.0 139.4 L831.5 141.0 L832.0 140.2 L832.5 140.7 L833.0 141.1 L833.5 140.9 L834.0 140.2 L834.4 141.2 L834.9 140.1 L835.4 141.5 L835.9 140.5 L836.4 141.4 L836.9 141.4 L837.4 141.4 L837.9 141.7 L838.4 141.8 L838.9 142.4 L839.4 141.3 L839.9 141.8 L840.4 142.5 L840.9 142.0 L841.4 142.5 L841.9 141.6 L842.4 142.4 L842.9 142.4 L843.4 142.2 L843.9 141.1 L844.4 142.1 L844.8 142.0 L845.3 141.4 L845.8 141.9 L846.3 141.4 L846.8 140.5 L847.3 141.7 L847.8 141.9 L848.3 142.2 L848.8 140.6 L849.3 142.2 L849.8 141.2 L850.3 141.7 L850.7 141.9 L851.2 140.3 L851.7 141.5 L852.2 141.1 L852.6 141.0 L853.1 141.5 L853.6 139.8 L854.1 140.7 L854.5 140.5 L855.0 141.3 L855.5 141.0 L856.0 140.3 L856.5 141.7 L857.0 141.2 L857.5 141.3 L858.0 141.9 L858.5 141.8 L859.0 140.9 L859.5 141.4 L860.0 140.6 L860.5 142.1 L860.9 141.1 L861.4 141.5 L861.9 141.6 L862.4 142.2 L862.9 142.6 L863.4 142.6 L863.9 141.2 L864.4 142.7 L864.9 141.2 L865.4 141.7 L865.9 142.7 L866.4 142.8 L866.9 142.8 L867.4 143.6 L867.9 143.6 L868.4 143.1 L868.9 143.1 L869.4 144.0 L869.9 144.4 L870.4 143.1 L870.9 144.1 L871.4 143.7 L871.9 144.7 L872.4 144.2 L872.8 144.0 L873.3 144.5 L873.8 144.9 L874.3 144.3 L874.8 144.7 L875.3 145.2 L875.8 145.3 L876.3 143.8 L876.8 145.5 L877.3 145.1 L877.8 144.6 L878.3 145.4 L878.8 145.3 L879.3 145.3 L879.8 145.2 L880.3 144.9 L880.8 143.9 L881.3 143.5 L881.8 145.2 L882.3 145.3 L882.8 144.2 L883.3 145.5 L883.8 145.5 L884.2 145.2 L884.7 144.5 L885.2 144.9 L885.7 144.3 L886.2 145.1 L886.7 146.1 L887.2 146.4 L887.7 146.4 L888.2 146.1 L888.7 146.5 L889.2 146.6 L889.7 146.0 L890.2 146.6 L890.7 146.5 L891.2 146.7 L891.7 146.1 L892.2 146.2 L892.7 146.6 L893.2 146.4 L893.7 145.2 L894.2 146.5 L894.7 146.4 L895.1 144.8 L895.6 145.0 L896.1 146.0 L896.6 146.2 L897.1 145.8 L897.6 145.3 L898.1 144.3 L898.6 145.1 L899.1 145.5 L899.6 144.5 L900.1 145.4 L900.6 143.8 L901.1 145.5 L901.6 145.2 L902.1 144.6 L902.6 144.7 L903.1 145.3 L903.6 145.3 L904.1 145.4 L904.6 145.0 L905.1 144.1 L905.5 145.8 L906.0 144.6 L906.5 145.9 L907.0 145.8 L907.5 145.7 L908.0 144.5 L908.5 145.7 L909.0 144.9 L909.5 146.2 L910.0 146.2 L910.5 146.0 L911.0 145.1 L911.5 145.6 L912.0 145.7 L912.5 146.4 L913.0 145.7 L913.5 146.0 L914.0 145.4 L914.5 146.3 L915.0 145.5 L915.5 145.5 L915.9 145.0 L916.4 145.6 L916.9 146.2 L917.4 145.9 L917.9 145.7 L918.4 144.7 L918.9 146.2 L919.4 144.8 L919.9 146.2 L920.4 145.9 L920.9 145.9 L921.4 146.3 L921.9 146.2 L922.4 145.4 L922.9 146.1 L923.4 145.3 L923.9 145.0 L924.4 145.3 L924.9 145.4 L925.4 145.9 L925.9 145.2 L926.3 146.0 L926.8 146.0 L927.3 145.3 L927.8 144.7 L928.3 144.7 L928.8 144.9 L929.3 145.5 L929.8 145.5 L930.3 144.9 L930.8 144.0 L931.3 145.5 L931.8 145.1 L932.3 145.2 L932.8 144.7 L933.3 144.4 L933.8 145.0 L934.3 144.9 L934.8 144.7 L935.2 144.5 L935.7 142.9 L936.2 143.7 L936.7 143.7 L937.2 143.4 L937.7 142.6 L938.2 141.8 L938.7 143.5 L939.2 142.2 L939.7 142.5 L940.2 143.2 L940.7 143.5 L941.2 143.5 L941.7 142.5 L942.2 143.7 L942.7 143.6 L943.2 142.6 L943.7 143.9 L944.2 143.8 L944.7 143.6 L945.2 142.3 L945.7 142.5 L946.2 143.2 L946.7 142.5 L947.2 144.0 L947.7 143.2 L948.2 143.0 L948.7 143.6 L949.2 143.0 L949.7 144.4 L950.2 144.0 L950.7 144.4 L951.2 144.6 L951.7 144.4 L952.2 143.3 L952.7 143.6 L953.2 144.4 L953.7 144.6 L954.2 143.2 L954.7 144.7 L955.2 145.0 L955.7 145.1 L956.2 144.2 L956.7 144.7 L957.2 145.5 L957.7 144.9 L958.2 145.2 L958.7 144.1 L959.2 146.0 L959.7 145.4 L960.2 146.1 L960.7 145.1 L961.2 146.1 L961.7 145.9 L962.2 144.8 L962.7 144.5 L963.2 145.5 L963.7 145.8 L964.2 146.0 L964.7 145.0 L965.2 144.6 L965.7 144.6 L966.2 146.1 L966.7 145.1 L967.2 145.6 L967.7 145.4 L968.2 146.5 L968.7 145.9 L969.2 146.6 L969.7 145.9 L970.2 145.4 L970.7 146.7 L971.2 146.1 L971.7 146.5 L972.2 146.6 L972.7 145.7 L973.2 146.0 L973.7 146.9 L974.2 146.9 L974.7 145.9 L975.2 146.8 L975.6 147.0 L976.1 147.1 L976.6 146.6 L977.1 147.5 L977.6 147.5 L978.1 147.2 L978.6 147.3 L979.1 147.5 L979.6 145.9 L980.1 145.8 L980.6 147.5 L981.1 147.5 L981.6 146.6 L982.1 147.5 L982.6 147.6 L983.1 147.5 L983.6 146.8 L984.1 147.5 L984.6 146.2 L985.1 147.1 L985.6 146.6 L986.1 147.5 L986.6 147.4 L987.1 146.9 L987.6 147.2 L988.1 146.5 L988.6 147.1 L989.1 145.7 L989.6 147.3 L990.1 146.9 L990.6 146.6 L991.1 146.8 L991.5 146.7 L992.0 145.6 L992.5 146.4 L993.0 146.1 L993.5 146.9 L994.0 147.2 L994.5 146.5 L995.0 147.2 L995.5 145.8 L996.0 146.9 L996.5 146.8 L997.0 146.5 L997.5 146.0 L998.0 145.2 L998.5 146.3 L999.0 145.7 L999.0 150.6 L998.5 151.3 L998.0 152.0 L997.5 151.2 L997.0 151.3 L996.5 151.2 L996.0 151.7 L995.5 151.4 L995.0 151.5 L994.5 151.4 L994.0 151.3 L993.5 151.7 L993.0 152.8 L992.5 151.8 L992.0 151.5 L991.5 153.0 L991.1 152.7 L990.6 151.4 L990.1 151.4 L989.6 152.0 L989.1 151.6 L988.6 151.4 L988.1 151.4 L987.6 151.5 L987.1 151.9 L986.6 152.3 L986.1 151.7 L985.6 152.0 L985.1 151.7 L984.6 153.1 L984.1 152.0 L983.6 152.9 L983.1 152.2 L982.6 152.5 L982.1 153.1 L981.6 152.8 L981.1 151.7 L980.6 153.1 L980.1 151.6 L979.6 152.3 L979.1 151.6 L978.6 151.6 L978.1 151.7 L977.6 151.7 L977.1 151.6 L976.6 151.9 L976.1 151.6 L975.6 152.4 L975.2 152.4 L974.7 152.1 L974.2 152.1 L973.7 151.0 L973.2 151.3 L972.7 150.9 L972.2 152.5 L971.7 151.1 L971.2 150.9 L970.7 150.8 L970.2 151.3 L969.7 151.1 L969.2 151.4 L968.7 151.9 L968.2 151.0 L967.7 150.9 L967.2 151.5 L966.7 151.6 L966.2 152.1 L965.7 151.0 L965.2 150.5 L964.7 150.3 L964.2 150.8 L963.7 150.7 L963.2 150.6 L962.7 150.6 L962.2 150.9 L961.7 150.3 L961.2 150.3 L960.7 151.9 L960.2 151.9 L959.7 151.3 L959.2 150.5 L958.7 150.0 L958.2 150.0 L957.7 151.4 L957.2 150.0 L956.7 151.1 L956.2 149.9 L955.7 149.8 L955.2 150.8 L954.7 149.4 L954.2 149.3 L953.7 148.9 L953.2 149.4 L952.7 149.1 L952.2 148.7 L951.7 149.7 L951.2 150.4 L950.7 149.0 L950.2 149.1 L949.7 148.9 L949.2 149.0 L948.7 148.5 L948.2 149.8 L947.7 148.7 L947.2 148.4 L946.7 148.3 L946.2 148.6 L945.7 148.2 L945.2 148.2 L944.7 148.2 L944.2 149.6 L943.7 148.1 L943.2 148.0 L942.7 149.3 L942.2 149.3 L941.7 148.1 L941.2 149.2 L940.7 147.7 L940.2 147.7 L939.7 147.8 L939.2 147.9 L938.7 147.8 L938.2 147.5 L937.7 147.7 L937.2 148.2 L936.7 148.1 L936.2 148.4 L935.7 148.6 L935.2 150.1 L934.8 148.9 L934.3 149.2 L933.8 149.1 L933.3 149.2 L932.8 150.6 L932.3 149.7 L931.8 149.6 L931.3 150.5 L930.8 149.6 L930.3 149.8 L929.8 150.3 L929.3 151.3 L928.8 150.8 L928.3 151.4 L927.8 150.2 L927.3 150.2 L926.8 151.7 L926.3 150.6 L925.9 150.9 L925.4 150.6 L924.9 151.7 L924.4 150.6 L923.9 150.7 L923.4 151.3 L922.9 151.0 L922.4 150.8 L921.9 150.8 L921.4 150.6 L920.9 150.8 L920.4 150.8 L919.9 150.6 L919.4 150.8 L918.9 150.5 L918.4 150.5 L917.9 150.6 L917.4 150.7 L916.9 150.3 L916.4 150.3 L915.9 150.4 L915.5 151.3 L915.0 150.8 L914.5 150.4 L914.0 150.4 L913.5 150.5 L913.0 151.9 L912.5 150.8 L912.0 151.1 L911.5 151.4 L911.0 150.7 L910.5 151.4 L910.0 150.4 L909.5 151.3 L909.0 151.5 L908.5 150.9 L908.0 150.8 L907.5 150.4 L907.0 151.5 L906.5 150.6 L906.0 150.8 L905.5 150.1 L905.1 151.6 L904.6 150.1 L904.1 150.1 L903.6 151.2 L903.1 151.3 L902.6 150.7 L902.1 150.1 L901.6 149.8 L901.1 151.3 L900.6 150.1 L900.1 149.6 L899.6 149.7 L899.1 149.6 L898.6 149.7 L898.1 151.5 L897.6 150.4 L897.1 150.1 L896.6 150.6 L896.1 152.0 L895.6 151.9 L895.1 150.9 L894.7 150.7 L894.2 151.0 L893.7 151.9 L893.2 151.8 L892.7 151.0 L892.2 151.6 L891.7 150.8 L891.2 151.0 L890.7 151.0 L890.2 152.4 L889.7 151.1 L889.2 150.8 L888.7 151.6 L888.2 150.9 L887.7 150.6 L887.2 151.0 L886.7 150.9 L886.2 150.9 L885.7 150.7 L885.2 150.2 L884.7 150.2 L884.2 150.1 L883.8 150.3 L883.3 149.7 L882.8 149.5 L882.3 150.4 L881.8 149.7 L881.3 149.8 L880.8 149.8 L880.3 149.9 L879.8 150.5 L879.3 149.4 L878.8 149.5 L878.3 150.2 L877.8 150.6 L877.3 151.3 L876.8 149.6 L876.3 151.3 L875.8 149.5 L875.3 149.7 L874.8 149.4 L874.3 149.6 L873.8 150.7 L873.3 149.6 L872.8 149.0 L872.4 149.1 L871.9 149.3 L871.4 149.1 L870.9 148.8 L870.4 150.3 L869.9 148.7 L869.4 149.8 L868.9 149.9 L868.4 149.6 L867.9 148.4 L867.4 148.5 L866.9 147.8 L866.4 147.9 L865.9 147.3 L865.4 147.4 L864.9 147.8 L864.4 148.2 L863.9 146.8 L863.4 148.2 L862.9 146.7 L862.4 148.2 L861.9 147.2 L861.4 146.8 L860.9 148.1 L860.5 146.9 L860.0 146.7 L859.5 146.2 L859.0 146.2 L858.5 146.6 L858.0 146.2 L857.5 146.5 L857.0 146.6 L856.5 145.7 L856.0 146.4 L855.5 145.9 L855.0 145.5 L854.5 145.8 L854.1 147.1 L853.6 146.0 L853.1 145.8 L852.6 146.0 L852.2 146.0 L851.7 147.0 L851.2 145.9 L850.7 146.6 L850.3 146.2 L849.8 147.2 L849.3 146.4 L848.8 146.8 L848.3 147.0 L847.8 146.7 L847.3 147.9 L846.8 146.6 L846.3 148.1 L845.8 147.1 L845.3 146.4 L844.8 146.3 L844.4 147.0 L843.9 146.4 L843.4 147.4 L842.9 147.6 L842.4 148.1 L841.9 147.7 L841.4 146.9 L840.9 146.8 L840.4 148.0 L839.9 146.9 L839.4 147.7 L838.9 146.7 L838.4 146.5 L837.9 147.7 L837.4 146.3 L836.9 147.0 L836.4 146.4 L835.9 145.9 L835.4 146.4 L834.9 147.4 L834.4 147.3 L834.0 146.6 L833.5 145.9 L833.0 145.7 L832.5 145.5 L832.0 146.4 L831.5 145.4 L831.0 145.5 L830.5 146.2 L830.0 145.3 L829.5 146.4 L829.0 145.0 L828.5 145.2 L828.0 145.0 L827.5 145.7 L827.0 145.2 L826.5 145.6 L826.0 144.7 L825.5 145.6 L825.0 145.3 L824.5 144.8 L824.0 144.5 L823.5 144.7 L823.1 144.5 L822.6 144.8 L822.1 145.1 L821.6 144.3 L821.1 146.0 L820.6 144.2 L820.1 145.3 L819.6 145.0 L819.1 145.0 L818.6 145.5 L818.1 144.3 L817.6 144.7 L817.1 144.0 L816.6 143.8 L816.1 145.2 L815.6 144.3 L815.1 143.8 L814.6 144.9 L814.1 144.1 L813.6 144.0 L813.1 143.9 L812.6 144.2 L812.1 145.3 L811.6 144.7 L811.2 144.2 L810.7 144.2 L810.2 144.2 L809.7 144.1 L809.2 144.3 L808.7 144.5 L808.2 144.3 L807.7 144.6 L807.2 144.1 L806.7 144.0 L806.2 143.9 L805.7 145.3 L805.2 144.3 L804.7 144.8 L804.2 145.0 L803.7 143.8 L803.2 143.9 L802.7 144.3 L802.2 143.3 L801.7 143.4 L801.2 142.8 L800.7 142.7 L800.2 142.7 L799.8 142.9 L799.3 142.2 L798.8 141.9 L798.3 143.3 L797.8 141.8 L797.3 142.2 L796.8 143.0 L796.3 143.2 L795.8 141.8 L795.3 142.3 L794.8 141.4 L794.3 142.5 L793.8 141.1 L793.3 141.4 L792.8 141.4 L792.3 141.5 L791.8 141.1 L791.3 141.0 L790.8 141.0 L790.3 140.5 L789.9 140.6 L789.4 140.8 L788.9 140.3 L788.4 140.3 L787.9 140.8 L787.4 140.6 L786.9 141.5 L786.4 141.1 L785.9 141.4 L785.4 140.1 L784.9 139.9 L784.4 140.3 L783.9 139.8 L783.4 140.2 L782.9 139.9 L782.4 140.3 L781.9 140.4 L781.4 140.0 L781.0 140.5 L780.5 139.7 L780.0 139.7 L779.5 140.0 L779.0 140.8 L778.5 139.6 L778.0 139.5 L777.5 140.5 L777.0 139.1 L776.5 140.1 L776.0 139.6 L775.5 140.2 L775.0 138.7 L774.5 140.3 L774.0 140.1 L773.5 139.4 L773.0 138.5 L772.6 140.1 L772.1 138.9 L771.6 138.6 L771.1 138.5 L770.6 139.5 L770.1 138.3 L769.6 138.3 L769.1 139.5 L768.6 139.1 L768.1 138.5 L767.6 138.1 L767.1 138.1 L766.6 139.3 L766.1 138.3 L765.6 138.1 L765.1 139.0 L764.6 138.1 L764.1 139.2 L763.7 137.9 L763.2 137.8 L762.7 137.9 L762.2 137.8 L761.7 138.6 L761.2 137.8 L760.7 138.4 L760.2 139.1 L759.7 138.6 L759.2 138.6 L758.7 138.3 L758.2 138.4 L757.7 138.1 L757.2 138.1 L756.7 139.8 L756.2 138.3 L755.7 139.7 L755.2 138.3 L754.7 138.1 L754.2 139.0 L753.7 138.7 L753.2 138.2 L752.8 138.1 L752.3 137.8 L751.8 139.1 L751.3 139.0 L750.8 139.1 L750.3 137.6 L749.8 139.4 L749.3 137.9 L748.8 138.6 L748.3 138.3 L747.8 138.4 L747.3 137.3 L746.8 137.2 L746.3 138.1 L745.8 136.9 L745.3 137.1 L744.8 137.5 L744.3 137.9 L743.8 137.5 L743.3 137.0 L742.8 138.0 L742.3 136.9 L741.8 137.2 L741.3 137.7 L740.8 137.1 L740.3 138.3 L739.8 137.5 L739.3 138.7 L738.9 137.4 L738.4 138.6 L737.9 137.3 L737.4 137.2 L736.9 137.4 L736.4 138.4 L735.9 137.0 L735.4 137.0 L734.9 137.3 L734.4 137.2 L733.9 136.9 L733.4 137.6 L732.9 136.8 L732.4 136.6 L731.9 136.7 L731.4 136.5 L730.9 136.6 L730.5 135.9 L730.0 136.9 L729.5 136.5 L729.0 136.0 L728.5 135.6 L728.0 135.9 L727.5 134.6 L727.1 134.5 L726.6 134.9 L726.1 134.3 L725.6 135.3 L725.1 133.2 L724.7 133.8 L724.2 132.4 L723.7 132.2 L723.2 131.5 L722.7 132.2 L722.2 132.6 L721.7 131.6 L721.2 131.2 L720.7 132.9 L720.3 131.3 L719.8 132.8 L719.3 132.1 L718.8 132.4 L718.3 132.5 L717.8 133.3 L717.3 132.7 L716.8 133.1 L716.3 132.8 L715.8 133.8 L715.4 134.5 L714.9 133.3 L714.4 133.4 L713.9 135.0 L713.4 133.6 L712.9 133.8 L712.4 134.7 L711.9 133.3 L711.4 133.1 L710.9 132.9 L710.5 133.5 L710.0 132.6 L709.5 132.9 L709.0 133.0 L708.5 132.7 L708.0 133.1 L707.5 132.2 L707.0 133.0 L706.6 131.5 L706.1 131.4 L705.6 131.8 L705.1 130.3 L704.6 131.3 L704.1 129.7 L703.6 130.0 L703.1 129.5 L702.7 129.5 L702.2 129.5 L701.7 128.6 L701.2 128.4 L700.7 128.1 L700.2 127.9 L699.7 129.5 L699.2 128.1 L698.7 128.5 L698.2 129.0 L697.7 128.3 L697.2 128.7 L696.7 129.1 L696.2 129.7 L695.7 129.6 L695.3 129.5 L694.8 129.3 L694.3 130.0 L693.8 129.5 L693.3 130.0 L692.8 130.4 L692.3 130.5 L691.8 130.0 L691.3 131.3 L690.8 130.4 L690.3 131.3 L689.8 131.1 L689.3 130.0 L688.9 130.1 L688.4 129.6 L687.9 130.5 L687.4 130.0 L687.0 128.9 L686.5 129.7 L686.0 129.7 L685.5 128.3 L685.0 128.9 L684.6 127.3 L684.1 127.2 L683.6 126.6 L683.1 126.6 L682.7 126.2 L682.2 126.1 L681.7 125.5 L681.2 125.6 L680.7 125.7 L680.2 127.7 L679.7 127.6 L679.2 126.9 L678.7 128.0 L678.2 128.7 L677.7 129.3 L677.2 129.0 L676.7 128.6 L676.2 130.3 L675.7 131.3 L675.2 130.1 L674.7 131.6 L674.2 130.4 L673.8 130.3 L673.3 129.4 L672.8 128.9 L672.3 128.6 L671.9 129.2 L671.4 128.2 L670.9 128.1 L670.4 127.8 L670.0 126.1 L669.5 125.2 L669.0 125.2 L668.5 125.8 L668.0 125.0 L667.5 125.8 L667.1 125.2 L666.6 125.4 L666.1 125.4 L665.6 125.2 L665.1 125.2 L664.6 126.6 L664.1 125.8 L663.6 126.3 L663.2 125.8 L662.7 125.2 L662.2 125.6 L661.7 125.2 L661.2 126.1 L660.7 125.6 L660.2 125.3 L659.8 126.5 L659.3 125.6 L658.8 126.7 L658.3 125.8 L657.8 126.7 L657.3 127.1 L656.8 126.0 L656.3 127.4 L655.9 127.6 L655.4 127.8 L654.9 126.4 L654.4 127.5 L653.9 126.9 L653.4 126.6 L652.9 125.5 L652.4 125.3 L651.9 125.0 L651.4 124.1 L650.9 123.5 L650.5 123.7 L650.0 122.4 L649.5 123.0 L649.0 121.6 L648.5 120.8 L648.0 120.4 L647.5 119.9 L647.0 120.4 L646.5 119.3 L646.0 119.3 L645.5 120.6 L645.0 119.9 L644.6 120.9 L644.1 119.4 L643.6 120.8 L643.1 120.3 L642.6 120.0 L642.1 121.3 L641.6 120.5 L641.1 120.7 L640.7 121.2 L640.2 120.3 L639.7 120.8 L639.2 119.8 L638.7 121.6 L638.2 121.1 L637.7 120.0 L637.2 120.6 L636.8 120.3 L636.3 120.4 L635.8 120.4 L635.3 121.6 L634.8 120.8 L634.3 120.7 L633.8 120.1 L633.4 120.1 L632.9 120.7 L632.4 120.1 L631.9 120.8 L631.4 121.1 L630.9 121.4 L630.4 119.5 L630.0 119.9 L629.5 119.6 L629.0 118.9 L628.5 119.2 L628.0 119.0 L627.5 118.4 L627.0 118.4 L626.6 118.2 L626.1 118.0 L625.6 118.6 L625.1 118.0 L624.6 117.3 L624.2 117.8 L623.7 117.8 L623.2 118.1 L622.7 116.9 L622.2 116.0 L621.7 115.5 L621.2 116.5 L620.7 116.4 L620.2 116.0 L619.7 114.3 L619.2 113.8 L618.7 113.2 L618.2 114.1 L617.7 113.2 L617.3 112.2 L616.8 111.9 L616.3 111.5 L615.8 111.3 L615.3 111.8 L614.8 110.3 L614.3 110.0 L613.8 109.7 L613.3 109.5 L612.8 108.9 L612.3 108.9 L611.8 109.2 L611.3 108.1 L610.8 108.7 L610.3 108.8 L609.8 108.8 L609.3 107.8 L608.9 108.7 L608.4 108.7 L607.9 107.9 L607.4 107.8 L606.9 107.2 L606.4 107.0 L605.9 106.9 L605.4 106.9 L604.9 106.8 L604.4 106.8 L603.9 108.3 L603.4 106.7 L603.0 106.9 L602.5 107.1 L602.0 106.6 L601.5 108.1 L601.0 107.9 L600.5 106.9 L600.0 107.0Z" fill="#00B050"/><path d="M600.0 104.1 L601.0 104.3 L602.0 104.4 L603.0 104.5 L603.9 104.5 L604.9 104.6 L605.9 104.8 L606.9 105.1 L607.9 105.3 L608.9 105.5 L609.8 105.7 L610.8 105.9 L611.8 106.2 L612.8 106.7 L613.8 107.4 L614.8 108.2 L615.8 109.0 L616.8 109.8 L617.7 110.5 L618.7 111.2 L619.7 111.9 L620.7 112.6 L621.7 113.3 L622.7 114.1 L623.7 114.6 L624.6 115.1 L625.6 115.5 L626.6 115.9 L627.5 116.2 L628.5 116.6 L629.5 117.0 L630.4 117.5 L631.4 118.0 L632.4 118.0 L633.4 118.0 L634.3 118.0 L635.3 117.9 L636.3 117.9 L637.2 117.8 L638.2 117.8 L639.2 117.7 L640.2 117.6 L641.1 117.6 L642.1 117.5 L643.1 117.5 L644.1 117.4 L645.0 117.3 L646.0 117.2 L647.0 117.1 L648.0 118.2 L649.0 119.3 L650.0 120.4 L650.9 121.4 L651.9 122.3 L652.9 123.4 L653.9 124.4 L654.9 124.3 L655.9 124.1 L656.8 123.9 L657.8 123.7 L658.8 123.5 L659.8 123.3 L660.7 123.2 L661.7 123.2 L662.7 123.2 L663.6 123.2 L664.6 123.2 L665.6 123.1 L666.6 123.0 L667.5 122.9 L668.5 122.8 L669.5 122.8 L670.4 124.0 L671.4 125.2 L672.3 126.3 L673.3 127.3 L674.2 128.2 L675.2 128.0 L676.2 127.0 L677.2 126.1 L678.2 125.3 L679.2 124.6 L680.2 124.0 L681.2 123.3 L682.2 123.4 L683.1 124.2 L684.1 124.9 L685.0 125.5 L686.0 126.0 L687.0 126.5 L687.9 127.0 L688.9 127.5 L689.8 128.1 L690.8 128.3 L691.8 128.0 L692.8 127.6 L693.8 127.3 L694.8 127.0 L695.7 126.7 L696.7 126.4 L697.7 126.2 L698.7 126.0 L699.7 125.9 L700.7 125.8 L701.7 126.3 L702.7 126.7 L703.6 127.3 L704.6 127.9 L705.6 128.5 L706.6 129.0 L707.5 129.6 L708.5 130.0 L709.5 130.4 L710.5 130.7 L711.4 131.1 L712.4 131.4 L713.4 131.5 L714.4 131.3 L715.4 131.0 L716.3 130.6 L717.3 130.2 L718.3 129.8 L719.3 129.4 L720.3 129.2 L721.2 129.2 L722.2 129.3 L723.2 129.4 L724.2 130.3 L725.1 131.1 L726.1 131.8 L727.1 132.3 L728.0 132.7 L729.0 133.1 L730.0 133.6 L730.9 134.0 L731.9 134.5 L732.9 134.6 L733.9 134.7 L734.9 134.8 L735.9 134.9 L736.9 135.0 L737.9 135.1 L738.9 135.1 L739.8 135.0 L740.8 134.9 L741.8 134.8 L742.8 134.7 L743.8 134.7 L744.8 134.7 L745.8 134.9 L746.8 135.1 L747.8 135.3 L748.8 135.5 L749.8 135.6 L750.8 135.6 L751.8 135.7 L752.8 135.8 L753.7 136.0 L754.7 136.1 L755.7 136.1 L756.7 136.1 L757.7 136.0 L758.7 135.8 L759.7 135.6 L760.7 135.6 L761.7 135.6 L762.7 135.7 L763.7 135.8 L764.6 135.8 L765.6 135.9 L766.6 136.0 L767.6 136.1 L768.6 136.2 L769.6 136.3 L770.6 136.3 L771.6 136.4 L772.6 136.4 L773.5 136.5 L774.5 136.6 L775.5 136.8 L776.5 137.0 L777.5 137.2 L778.5 137.4 L779.5 137.5 L780.5 137.7 L781.4 137.7 L782.4 137.8 L783.4 137.8 L784.4 137.8 L785.4 137.8 L786.4 138.0 L787.4 138.1 L788.4 138.2 L789.4 138.4 L790.3 138.5 L791.3 138.6 L792.3 138.7 L793.3 138.9 L794.3 139.1 L795.3 139.3 L796.3 139.5 L797.3 139.6 L798.3 139.7 L799.3 140.0 L800.2 140.3 L801.2 140.7 L802.2 141.1 L803.2 141.4 L804.2 141.6 L805.2 141.7 L806.2 141.7 L807.2 141.8 L808.2 141.9 L809.2 142.0 L810.2 142.1 L811.2 142.1 L812.1 142.0 L813.1 141.9 L814.1 141.7 L815.1 141.7 L816.1 141.7 L817.1 141.8 L818.1 141.9 L819.1 142.0 L820.1 142.1 L821.1 142.2 L822.1 142.3 L823.1 142.4 L824.0 142.5 L825.0 142.6 L826.0 142.7 L827.0 142.8 L828.0 142.8 L829.0 143.0 L830.0 143.0 L831.0 143.1 L832.0 143.2 L833.0 143.3 L834.0 143.4 L834.9 143.5 L835.9 143.8 L836.9 144.0 L837.9 144.3 L838.9 144.5 L839.9 144.7 L840.9 144.7 L841.9 144.6 L842.9 144.5 L843.9 144.3 L844.8 144.2 L845.8 144.2 L846.8 144.3 L847.8 144.3 L848.8 144.2 L849.8 144.2 L850.7 144.0 L851.7 143.8 L852.6 143.7 L853.6 143.6 L854.5 143.5 L855.5 143.5 L856.5 143.7 L857.5 143.8 L858.5 144.0 L859.5 144.1 L860.5 144.3 L861.4 144.4 L862.4 144.5 L863.4 144.7 L864.4 144.8 L865.4 145.1 L866.4 145.4 L867.4 145.8 L868.4 146.1 L869.4 146.4 L870.4 146.6 L871.4 146.7 L872.4 146.9 L873.3 147.1 L874.3 147.2 L875.3 147.4 L876.3 147.5 L877.3 147.5 L878.3 147.5 L879.3 147.4 L880.3 147.3 L881.3 147.3 L882.3 147.4 L883.3 147.6 L884.2 147.8 L885.2 148.0 L886.2 148.2 L887.2 148.4 L888.2 148.6 L889.2 148.7 L890.2 148.7 L891.2 148.7 L892.2 148.7 L893.2 148.7 L894.2 148.7 L895.1 148.6 L896.1 148.4 L897.1 148.1 L898.1 147.8 L899.1 147.6 L900.1 147.5 L901.1 147.5 L902.1 147.6 L903.1 147.7 L904.1 147.8 L905.1 147.9 L906.0 147.9 L907.0 148.0 L908.0 148.1 L909.0 148.2 L910.0 148.3 L911.0 148.4 L912.0 148.4 L913.0 148.4 L914.0 148.4 L915.0 148.3 L915.9 148.3 L916.9 148.3 L917.9 148.3 L918.9 148.3 L919.9 148.3 L920.9 148.4 L921.9 148.4 L922.9 148.5 L923.9 148.5 L924.9 148.5 L925.9 148.3 L926.8 148.1 L927.8 147.9 L928.8 147.7 L929.8 147.6 L930.8 147.6 L931.8 147.5 L932.8 147.3 L933.8 147.0 L934.8 146.8 L935.7 146.5 L936.7 146.1 L937.7 145.7 L938.7 145.5 L939.7 145.6 L940.7 145.6 L941.7 145.7 L942.7 145.9 L943.7 145.9 L944.7 146.0 L945.7 146.1 L946.7 146.2 L947.7 146.3 L948.7 146.4 L949.7 146.5 L950.7 146.6 L951.7 146.6 L952.7 146.7 L953.7 146.8 L954.7 146.9 L955.7 147.2 L956.7 147.4 L957.7 147.7 L958.7 147.9 L959.7 148.1 L960.7 148.2 L961.7 148.2 L962.7 148.2 L963.7 148.2 L964.7 148.2 L965.7 148.2 L966.7 148.3 L967.7 148.5 L968.7 148.6 L969.7 148.7 L970.7 148.8 L971.7 148.8 L972.7 148.8 L973.7 148.9 L974.7 149.1 L975.6 149.3 L976.6 149.5 L977.6 149.6 L978.6 149.6 L979.6 149.6 L980.6 149.6 L981.6 149.6 L982.6 149.6 L983.6 149.6 L984.6 149.6 L985.6 149.5 L986.6 149.5 L987.6 149.4 L988.6 149.4 L989.6 149.3 L990.6 149.3 L991.5 149.3 L992.5 149.3 L993.5 149.2 L994.5 149.2 L995.5 149.2 L996.5 149.2 L997.5 149.0 L998.5 148.6" stroke="#00B050" stroke-width="2.64" fill="none" stroke-linejoin="round" stroke-linecap="butt"/><path d="M600.0 107.5 L600.5 107.5 L601.0 106.8 L601.5 106.6 L602.0 107.3 L602.5 106.6 L603.0 106.7 L603.4 106.9 L603.9 107.2 L604.4 107.6 L604.9 108.4 L605.4 108.7 L605.9 107.7 L606.4 108.8 L606.9 108.9 L607.4 109.1 L607.9 109.1 L608.4 108.8 L608.9 108.6 L609.3 108.1 L609.8 106.9 L610.3 107.2 L610.8 107.7 L611.3 107.4 L611.8 107.4 L612.3 107.0 L612.8 107.5 L613.3 108.2 L613.8 108.1 L614.3 109.2 L614.8 108.7 L615.3 109.6 L615.8 109.6 L616.3 110.1 L616.8 110.2 L617.3 110.5 L617.8 109.2 L618.3 109.6 L618.8 109.4 L619.3 109.1 L619.8 108.8 L620.3 108.9 L620.8 108.2 L621.3 108.1 L621.8 108.6 L622.3 107.8 L622.8 108.5 L623.3 108.8 L623.8 109.7 L624.3 109.9 L624.8 109.6 L625.3 110.2 L625.8 110.5 L626.3 111.0 L626.8 111.4 L627.3 110.5 L627.8 111.5 L628.3 111.2 L628.8 110.5 L629.3 110.1 L629.8 109.8 L630.3 110.3 L630.8 109.4 L631.3 109.9 L631.8 109.7 L632.3 109.9 L632.8 109.7 L633.3 109.9 L633.8 110.2 L634.3 110.6 L634.8 110.9 L635.3 111.1 L635.8 110.8 L636.3 111.5 L636.8 111.8 L637.3 110.5 L637.8 111.4 L638.3 110.9 L638.8 111.1 L639.3 110.9 L639.8 109.9 L640.3 110.4 L640.8 110.3 L641.3 109.9 L641.8 109.6 L642.3 109.4 L642.8 110.5 L643.3 110.5 L643.8 110.4 L644.3 110.3 L644.8 111.0 L645.3 110.7 L645.8 111.6 L646.3 111.4 L646.8 111.3 L647.3 110.3 L647.8 111.1 L648.3 109.9 L648.8 109.7 L649.3 110.5 L649.8 110.2 L650.3 109.5 L650.8 109.1 L651.3 109.8 L651.8 109.4 L652.3 110.9 L652.8 110.9 L653.3 111.1 L653.8 111.6 L654.3 112.2 L654.8 112.5 L655.3 112.8 L655.8 112.7 L656.3 112.6 L656.8 111.8 L657.3 112.0 L657.8 111.9 L658.3 111.1 L658.8 111.7 L659.3 110.8 L659.8 111.1 L660.3 110.9 L660.8 111.6 L661.3 111.5 L661.8 112.2 L662.3 112.7 L662.8 112.9 L663.3 113.0 L663.8 113.8 L664.3 113.1 L664.8 114.4 L665.3 113.4 L665.8 114.1 L666.3 113.5 L666.8 113.3 L667.3 112.2 L667.8 113.0 L668.3 112.6 L668.8 112.2 L669.3 112.1 L669.8 111.9 L670.2 111.4 L670.7 112.4 L671.2 112.3 L671.7 112.8 L672.2 112.4 L672.7 113.3 L673.2 113.6 L673.7 114.2 L674.2 113.9 L674.7 114.4 L675.2 114.4 L675.7 113.5 L676.2 113.0 L676.7 113.2 L677.2 113.0 L677.7 112.4 L678.2 112.0 L678.7 112.8 L679.2 112.0 L679.7 112.8 L680.2 113.0 L680.7 113.4 L681.2 113.8 L681.6 114.0 L682.1 113.9 L682.6 114.5 L683.1 114.5 L683.6 115.0 L684.1 115.4 L684.6 115.0 L685.1 114.3 L685.6 115.0 L686.1 114.4 L686.6 114.7 L687.1 113.9 L687.6 114.2 L688.1 114.7 L688.6 114.2 L689.1 115.4 L689.6 115.8 L690.1 116.1 L690.6 116.2 L691.1 116.5 L691.6 116.4 L692.1 117.3 L692.6 116.9 L693.1 117.9 L693.5 117.6 L694.0 118.0 L694.5 117.9 L695.0 116.7 L695.5 117.3 L696.0 116.9 L696.5 117.0 L697.0 116.8 L697.5 116.4 L698.0 115.4 L698.5 115.6 L699.0 116.1 L699.5 115.6 L700.0 116.8 L700.5 116.6 L701.0 117.1 L701.5 117.4 L702.0 116.8 L702.5 116.9 L703.0 118.0 L703.5 117.5 L704.0 117.4 L704.5 117.2 L705.0 117.1 L705.5 116.7 L706.0 116.2 L706.5 117.0 L707.0 116.8 L707.5 117.3 L708.0 116.7 L708.5 117.3 L709.0 118.7 L709.5 119.1 L710.0 119.1 L710.5 119.6 L711.0 118.9 L711.5 119.3 L712.0 120.3 L712.5 120.1 L713.0 119.8 L713.5 119.6 L714.0 118.8 L714.5 119.2 L715.0 119.1 L715.5 118.2 L716.0 118.6 L716.5 118.4 L717.0 117.7 L717.5 117.2 L718.0 117.5 L718.5 118.6 L719.0 117.6 L719.5 118.7 L720.0 119.3 L720.5 119.5 L721.0 118.8 L721.5 120.4 L722.0 120.7 L722.5 120.7 L723.0 120.8 L723.5 119.6 L724.0 120.0 L724.5 120.4 L725.0 120.4 L725.5 119.7 L726.0 119.0 L726.5 119.4 L727.0 118.4 L727.5 119.6 L728.0 119.8 L728.5 119.9 L728.9 120.1 L729.4 120.2 L729.9 119.9 L730.4 119.6 L730.9 120.1 L731.4 119.6 L731.9 120.1 L732.4 119.5 L732.9 119.2 L733.4 119.2 L733.9 119.2 L734.4 118.8 L734.9 117.8 L735.4 118.3 L735.9 118.4 L736.4 118.4 L736.9 117.8 L737.4 119.1 L737.9 118.9 L738.4 119.5 L738.9 119.8 L739.3 120.1 L739.8 120.1 L740.3 120.8 L740.8 120.8 L741.3 120.3 L741.8 120.9 L742.3 120.8 L742.8 120.4 L743.3 119.6 L743.8 119.9 L744.3 119.7 L744.8 118.9 L745.3 119.6 L745.8 119.2 L746.3 119.9 L746.8 119.6 L747.3 119.8 L747.8 120.1 L748.3 121.2 L748.8 121.4 L749.3 121.8 L749.8 122.0 L750.3 122.4 L750.8 122.5 L751.3 121.4 L751.8 121.3 L752.3 121.1 L752.8 121.8 L753.2 121.2 L753.7 121.4 L754.2 121.3 L754.7 120.8 L755.2 120.5 L755.7 120.9 L756.2 121.5 L756.7 121.6 L757.2 122.1 L757.7 122.2 L758.2 122.6 L758.7 122.9 L759.2 123.2 L759.7 123.1 L760.2 123.6 L760.7 123.0 L761.2 122.7 L761.7 122.5 L762.2 121.4 L762.7 121.9 L763.2 121.4 L763.7 120.4 L764.1 120.1 L764.6 119.9 L765.1 120.5 L765.6 121.1 L766.1 121.8 L766.6 122.2 L767.1 121.8 L767.6 122.9 L768.1 122.9 L768.6 123.4 L769.1 124.4 L769.6 124.5 L770.1 123.5 L770.6 124.2 L771.1 123.8 L771.6 123.1 L772.1 122.8 L772.6 122.8 L773.0 123.0 L773.5 122.6 L774.0 122.5 L774.5 122.6 L775.0 122.4 L775.5 123.0 L776.0 122.7 L776.5 123.5 L777.0 123.3 L777.5 123.8 L778.0 124.1 L778.5 124.8 L779.0 124.7 L779.5 124.7 L780.0 124.7 L780.5 123.8 L781.0 124.1 L781.4 123.8 L781.9 122.8 L782.4 123.5 L782.9 123.2 L783.4 122.5 L783.9 122.9 L784.4 122.4 L784.9 123.3 L785.4 122.8 L785.9 123.8 L786.4 123.5 L786.9 123.7 L787.4 124.0 L787.9 124.6 L788.4 124.2 L788.9 124.8 L789.4 123.7 L789.9 124.1 L790.3 124.2 L790.8 123.1 L791.3 123.4 L791.8 123.4 L792.3 122.3 L792.8 122.8 L793.3 122.1 L793.8 122.3 L794.3 122.9 L794.8 122.6 L795.3 123.2 L795.8 123.6 L796.3 123.1 L796.8 123.3 L797.3 124.7 L797.8 125.1 L798.3 125.5 L798.8 125.6 L799.3 125.5 L799.8 125.4 L800.2 125.1 L800.7 124.9 L801.2 123.8 L801.7 124.0 L802.2 123.6 L802.7 122.4 L803.2 122.8 L803.7 123.4 L804.2 122.9 L804.7 123.9 L805.2 124.1 L805.7 124.3 L806.2 124.2 L806.7 124.5 L807.2 124.2 L807.7 125.2 L808.2 123.9 L808.7 124.7 L809.2 124.6 L809.7 123.3 L810.2 123.4 L810.7 123.7 L811.2 123.8 L811.6 123.6 L812.1 123.6 L812.6 123.4 L813.1 124.4 L813.6 124.5 L814.1 124.7 L814.6 125.2 L815.1 125.6 L815.6 125.5 L816.1 125.3 L816.6 126.2 L817.1 125.3 L817.6 125.8 L818.1 125.5 L818.6 125.0 L819.1 124.7 L819.6 123.8 L820.1 123.4 L820.6 124.3 L821.1 123.9 L821.6 123.4 L822.1 122.5 L822.6 123.0 L823.1 123.1 L823.5 123.8 L824.0 123.5 L824.5 123.4 L825.0 124.3 L825.5 124.7 L826.0 123.9 L826.5 125.0 L827.0 125.4 L827.5 124.4 L828.0 125.3 L828.5 124.9 L829.0 125.0 L829.5 124.3 L830.0 124.7 L830.5 124.0 L831.0 123.9 L831.5 124.3 L832.0 124.1 L832.5 124.9 L833.0 125.1 L833.5 124.4 L834.0 124.5 L834.5 125.0 L835.0 126.0 L835.5 126.4 L836.0 126.6 L836.5 125.3 L837.0 126.0 L837.5 125.4 L838.0 125.5 L838.5 124.8 L839.0 124.3 L839.5 124.6 L840.0 124.5 L840.5 124.3 L841.0 124.3 L841.5 123.6 L842.0 124.3 L842.5 124.2 L843.0 125.2 L843.5 124.9 L844.0 126.2 L844.5 126.5 L845.0 125.8 L845.5 127.0 L846.0 126.9 L846.5 126.2 L847.0 125.5 L847.5 126.2 L848.0 125.5 L848.5 126.0 L849.0 125.8 L849.5 125.6 L850.0 125.2 L850.5 125.2 L851.0 124.8 L851.5 125.7 L852.0 126.0 L852.5 125.8 L853.0 125.4 L853.5 126.5 L854.0 126.5 L854.5 126.0 L855.0 127.1 L855.5 126.9 L856.0 126.7 L856.5 126.4 L857.0 125.8 L857.5 125.2 L858.0 125.4 L858.5 125.8 L859.0 124.6 L859.5 125.5 L860.0 125.4 L860.5 125.7 L861.0 125.1 L861.5 125.9 L862.0 126.0 L862.5 125.4 L863.0 125.9 L863.5 126.1 L864.0 126.2 L864.5 126.4 L865.0 126.2 L865.5 125.9 L866.0 125.3 L866.5 125.3 L867.0 125.1 L867.5 125.3 L868.0 125.1 L868.5 125.3 L869.0 125.2 L869.5 124.5 L870.0 125.7 L870.5 125.7 L871.0 126.2 L871.5 125.9 L872.0 126.6 L872.5 126.8 L873.0 126.9 L873.5 126.5 L874.0 126.4 L874.5 126.8 L875.0 126.7 L875.5 125.4 L876.0 126.1 L876.5 125.8 L877.0 124.6 L877.5 125.1 L878.0 124.7 L878.5 124.5 L879.0 123.8 L879.5 123.8 L880.0 124.6 L880.5 125.1 L881.0 124.4 L881.5 124.9 L882.0 126.0 L882.5 126.6 L883.0 126.8 L883.5 127.3 L884.0 127.0 L884.5 126.9 L885.0 126.2 L885.5 126.6 L886.0 125.8 L886.5 125.5 L887.0 125.3 L887.5 125.3 L888.0 124.8 L888.5 124.3 L889.0 124.8 L889.5 125.0 L890.0 124.6 L890.5 125.5 L891.0 125.8 L891.5 125.1 L892.0 125.5 L892.5 126.1 L893.0 126.3 L893.5 126.1 L894.0 126.5 L894.5 126.1 L895.0 126.3 L895.5 125.9 L896.0 125.4 L896.5 125.7 L897.0 124.9 L897.5 124.5 L898.0 124.8 L898.5 125.7 L899.0 125.9 L899.5 125.4 L900.0 125.7 L900.5 126.6 L901.0 126.5 L901.5 127.0 L902.0 126.6 L902.5 127.1 L903.0 126.9 L903.5 126.4 L904.0 126.2 L904.5 125.9 L905.0 125.0 L905.5 125.2 L906.0 124.9 L906.5 125.2 L907.0 125.1 L907.5 124.5 L908.0 126.0 L908.5 125.4 L909.0 126.4 L909.5 126.8 L910.0 127.2 L910.5 127.2 L911.0 127.3 L911.5 127.1 L912.0 127.3 L912.5 128.0 L913.0 127.4 L913.5 127.5 L914.0 127.1 L914.5 126.1 L915.0 126.6 L915.5 126.2 L916.0 125.6 L916.5 126.0 L917.0 125.5 L917.5 126.0 L918.0 126.1 L918.5 126.3 L919.0 126.3 L919.5 126.5 L920.0 126.7 L920.5 127.1 L921.0 126.9 L921.5 126.7 L922.0 127.0 L922.5 126.9 L923.0 126.5 L923.5 126.6 L924.0 126.4 L924.5 124.9 L925.0 125.7 L925.5 125.5 L926.0 125.2 L926.5 125.0 L927.0 124.9 L927.5 125.7 L928.0 125.3 L928.5 125.9 L929.0 125.9 L929.5 126.2 L930.0 125.8 L930.5 126.7 L931.0 126.7 L931.5 126.6 L932.0 126.7 L932.5 125.8 L933.0 126.0 L933.5 125.7 L934.0 125.1 L934.5 125.8 L935.0 125.6 L935.5 125.1 L936.0 125.0 L936.5 124.8 L937.0 125.1 L937.5 124.9 L938.0 126.3 L938.5 126.2 L939.0 126.6 L939.5 126.9 L940.0 127.2 L940.5 127.1 L941.0 127.2 L941.5 126.3 L942.0 126.6 L942.5 126.5 L943.0 125.6 L943.5 126.0 L944.0 125.2 L944.5 125.7 L945.0 125.5 L945.5 125.2 L946.0 125.9 L946.5 125.8 L947.0 126.0 L947.5 127.2 L948.0 127.0 L948.5 128.0 L949.0 128.3 L949.5 128.5 L950.0 128.3 L950.5 128.2 L951.0 128.6 L951.5 128.2 L952.0 128.0 L952.5 127.1 L953.0 126.3 L953.5 126.0 L954.0 126.2 L954.5 126.0 L955.0 125.8 L955.5 126.8 L956.0 127.0 L956.5 126.9 L957.0 127.1 L957.5 127.3 L958.0 127.6 L958.5 127.2 L959.0 127.4 L959.5 127.1 L960.0 127.5 L960.5 127.6 L961.0 127.3 L961.5 126.4 L962.0 126.4 L962.5 126.2 L963.0 126.1 L963.5 125.5 L964.0 125.7 L964.5 125.5 L965.0 125.3 L965.5 125.5 L966.0 126.6 L966.5 126.9 L967.0 127.4 L967.5 127.3 L968.0 128.3 L968.5 128.7 L969.0 128.9 L969.5 128.7 L970.0 128.7 L970.5 128.1 L971.0 128.2 L971.5 127.9 L972.0 127.3 L972.5 127.3 L973.0 126.8 L973.5 127.0 L974.0 127.3 L974.5 126.5 L975.0 126.7 L975.5 127.9 L976.0 128.1 L976.5 128.2 L977.0 128.6 L977.5 128.2 L978.0 128.9 L978.5 128.4 L979.0 128.5 L979.5 128.2 L980.0 127.8 L980.5 127.7 L981.0 127.5 L981.5 127.2 L982.0 126.4 L982.5 127.2 L983.0 125.7 L983.5 126.9 L984.0 126.3 L984.5 127.2 L985.0 127.0 L985.5 127.5 L986.0 127.0 L986.5 128.1 L987.0 128.0 L987.5 128.6 L988.0 128.7 L988.5 128.8 L989.0 129.0 L989.5 128.9 L990.0 128.6 L990.5 128.4 L991.0 128.2 L991.5 127.3 L992.0 127.3 L992.5 127.0 L993.0 126.6 L993.5 126.9 L994.0 127.0 L994.5 127.5 L995.0 126.8 L995.5 127.7 L996.0 127.2 L996.5 128.7 L997.0 128.4 L997.5 129.4 L998.0 129.3 L998.5 128.7 L999.0 129.1 L999.0 131.3 L998.5 132.4 L998.0 131.5 L997.5 131.7 L997.0 131.4 L996.5 131.0 L996.0 130.6 L995.5 130.7 L995.0 130.6 L994.5 130.5 L994.0 129.5 L993.5 129.5 L993.0 129.5 L992.5 129.6 L992.0 129.9 L991.5 130.2 L991.0 131.2 L990.5 130.8 L990.0 130.9 L989.5 131.1 L989.0 131.2 L988.5 131.5 L988.0 131.5 L987.5 131.2 L987.0 130.9 L986.5 130.6 L986.0 130.2 L985.5 130.0 L985.0 129.7 L984.5 130.2 L984.0 129.3 L983.5 129.9 L983.0 129.2 L982.5 129.3 L982.0 130.3 L981.5 129.9 L981.0 130.2 L980.5 130.7 L980.0 130.7 L979.5 131.6 L979.0 131.4 L978.5 131.3 L978.0 131.8 L977.5 131.0 L977.0 130.8 L976.5 131.1 L976.0 131.5 L975.5 130.8 L975.0 130.0 L974.5 130.0 L974.0 130.5 L973.5 130.2 L973.0 129.7 L972.5 130.1 L972.0 130.6 L971.5 130.3 L971.0 130.7 L970.5 131.9 L970.0 132.0 L969.5 132.0 L969.0 131.6 L968.5 130.9 L968.0 131.4 L967.5 130.3 L967.0 129.9 L966.5 129.6 L966.0 129.2 L965.5 128.5 L965.0 129.1 L964.5 128.0 L964.0 128.2 L963.5 128.3 L963.0 128.6 L962.5 128.7 L962.0 129.5 L961.5 129.9 L961.0 129.5 L960.5 129.7 L960.0 130.0 L959.5 130.3 L959.0 130.0 L958.5 130.0 L958.0 129.8 L957.5 129.6 L957.0 129.5 L956.5 130.4 L956.0 129.3 L955.5 129.0 L955.0 129.0 L954.5 129.0 L954.0 129.2 L953.5 129.4 L953.0 130.0 L952.5 130.9 L952.0 130.4 L951.5 130.9 L951.0 130.9 L950.5 131.4 L950.0 131.4 L949.5 131.3 L949.0 131.6 L948.5 130.4 L948.0 130.3 L947.5 129.8 L947.0 128.9 L946.5 128.4 L946.0 128.3 L945.5 127.7 L945.0 128.4 L944.5 128.3 L944.0 129.2 L943.5 128.9 L943.0 129.5 L942.5 128.7 L942.0 129.5 L941.5 129.1 L941.0 129.4 L940.5 129.9 L940.0 129.4 L939.5 129.9 L939.0 128.8 L938.5 129.4 L938.0 128.4 L937.5 128.3 L937.0 128.1 L936.5 127.8 L936.0 128.0 L935.5 128.3 L935.0 128.8 L934.5 128.2 L934.0 128.3 L933.5 128.5 L933.0 128.7 L932.5 128.9 L932.0 129.4 L931.5 129.9 L931.0 129.8 L930.5 129.6 L930.0 129.0 L929.5 129.2 L929.0 128.3 L928.5 129.1 L928.0 128.5 L927.5 127.9 L927.0 127.7 L926.5 127.5 L926.0 128.0 L925.5 128.8 L925.0 128.5 L924.5 128.5 L924.0 128.5 L923.5 129.6 L923.0 129.0 L922.5 129.2 L922.0 129.5 L921.5 129.7 L921.0 129.6 L920.5 129.3 L920.0 130.1 L919.5 129.0 L919.0 128.8 L918.5 129.2 L918.0 128.4 L917.5 128.5 L917.0 128.9 L916.5 128.8 L916.0 128.8 L915.5 129.4 L915.0 129.3 L914.5 129.9 L914.0 129.7 L913.5 130.0 L913.0 129.9 L912.5 131.0 L912.0 131.4 L911.5 130.5 L911.0 130.4 L910.5 130.2 L910.0 129.7 L909.5 129.3 L909.0 129.4 L908.5 129.6 L908.0 128.4 L907.5 127.7 L907.0 127.5 L906.5 127.8 L906.0 127.6 L905.5 128.5 L905.0 128.0 L904.5 128.7 L904.0 128.9 L903.5 129.9 L903.0 129.2 L902.5 129.4 L902.0 129.3 L901.5 129.6 L901.0 130.0 L900.5 129.0 L900.0 128.9 L899.5 129.5 L899.0 129.1 L898.5 128.5 L898.0 128.7 L897.5 128.1 L897.0 127.7 L896.5 128.7 L896.0 128.0 L895.5 128.5 L895.0 128.5 L894.5 129.6 L894.0 128.9 L893.5 129.5 L893.0 129.4 L892.5 129.4 L892.0 128.5 L891.5 129.0 L891.0 128.5 L890.5 128.0 L890.0 127.8 L889.5 128.0 L889.0 127.2 L888.5 127.5 L888.0 127.1 L887.5 127.9 L887.0 128.1 L886.5 128.5 L886.0 128.6 L885.5 129.1 L885.0 129.2 L884.5 129.8 L884.0 129.9 L883.5 129.6 L883.0 130.1 L882.5 129.1 L882.0 128.5 L881.5 128.4 L881.0 128.8 L880.5 127.4 L880.0 128.0 L879.5 127.7 L879.0 127.3 L878.5 126.7 L878.0 127.6 L877.5 127.5 L877.0 127.8 L876.5 129.3 L876.0 128.6 L875.5 128.8 L875.0 129.3 L874.5 129.5 L874.0 129.6 L873.5 129.3 L873.0 129.3 L872.5 129.4 L872.0 129.1 L871.5 128.7 L871.0 129.1 L870.5 128.4 L870.0 128.1 L869.5 127.8 L869.0 127.6 L868.5 128.0 L868.0 127.7 L867.5 128.5 L867.0 128.1 L866.5 128.3 L866.0 128.3 L865.5 128.1 L865.0 128.3 L864.5 128.6 L864.0 128.8 L863.5 129.4 L863.0 128.6 L862.5 129.1 L862.0 128.6 L861.5 128.1 L861.0 129.1 L860.5 127.9 L860.0 128.7 L859.5 128.0 L859.0 128.0 L858.5 128.6 L858.0 128.2 L857.5 128.7 L857.0 128.6 L856.5 129.0 L856.0 129.6 L855.5 129.1 L855.0 130.3 L854.5 129.7 L854.0 129.2 L853.5 128.9 L853.0 128.5 L852.5 128.9 L852.0 128.7 L851.5 127.9 L851.0 128.0 L850.5 128.5 L850.0 127.7 L849.5 128.2 L849.0 128.3 L848.5 128.2 L848.0 128.4 L847.5 128.5 L847.0 128.9 L846.5 128.9 L846.0 129.0 L845.5 129.2 L845.0 129.0 L844.5 129.6 L844.0 129.2 L843.5 128.1 L843.0 128.2 L842.5 127.7 L842.0 127.4 L841.5 127.2 L841.0 126.6 L840.5 126.4 L840.0 126.8 L839.5 127.6 L839.0 127.2 L838.5 128.2 L838.0 127.7 L837.5 128.4 L837.0 128.3 L836.5 129.7 L836.0 129.5 L835.5 129.0 L835.0 128.8 L834.5 129.0 L834.0 128.0 L833.5 127.8 L833.0 127.8 L832.5 127.7 L832.0 126.9 L831.5 127.0 L831.0 127.7 L830.5 127.0 L830.0 127.3 L829.5 127.9 L829.0 128.3 L828.5 128.0 L828.0 128.2 L827.5 128.4 L827.0 127.8 L826.5 127.5 L826.0 127.4 L825.5 126.8 L825.0 126.6 L824.5 126.4 L824.0 126.4 L823.5 126.5 L823.1 126.5 L822.6 125.8 L822.1 126.2 L821.6 126.2 L821.1 126.1 L820.6 127.2 L820.1 126.7 L819.6 127.3 L819.1 127.7 L818.6 128.2 L818.1 127.7 L817.6 128.1 L817.1 128.7 L816.6 128.6 L816.1 128.7 L815.6 128.8 L815.1 128.4 L814.6 127.6 L814.1 127.3 L813.6 127.0 L813.1 127.3 L812.6 126.9 L812.1 126.4 L811.6 126.1 L811.2 126.7 L810.7 126.4 L810.2 126.4 L809.7 127.6 L809.2 127.3 L808.7 127.2 L808.2 128.4 L807.7 127.7 L807.2 127.6 L806.7 127.9 L806.2 127.9 L805.7 126.6 L805.2 126.7 L804.7 126.0 L804.2 125.9 L803.7 126.8 L803.2 125.6 L802.7 126.5 L802.2 126.0 L801.7 127.1 L801.2 127.8 L800.7 127.0 L800.2 127.6 L799.8 128.5 L799.3 128.5 L798.8 127.9 L798.3 127.8 L797.8 128.5 L797.3 127.5 L796.8 127.3 L796.3 126.2 L795.8 125.9 L795.3 125.5 L794.8 125.5 L794.3 125.1 L793.8 125.1 L793.3 124.8 L792.8 124.9 L792.3 125.4 L791.8 126.2 L791.3 126.1 L790.8 126.1 L790.3 126.3 L789.9 126.9 L789.4 127.7 L788.9 127.3 L788.4 127.6 L787.9 127.8 L787.4 126.8 L786.9 127.1 L786.4 127.4 L785.9 126.0 L785.4 126.1 L784.9 126.0 L784.4 125.4 L783.9 126.0 L783.4 125.6 L782.9 126.0 L782.4 126.2 L781.9 126.0 L781.4 126.9 L781.0 127.0 L780.5 126.7 L780.0 126.9 L779.5 127.4 L779.0 127.3 L778.5 127.8 L778.0 126.8 L777.5 126.4 L777.0 126.4 L776.5 125.8 L776.0 125.6 L775.5 125.5 L775.0 125.7 L774.5 125.0 L774.0 124.8 L773.5 125.9 L773.0 125.8 L772.6 125.4 L772.1 126.0 L771.6 126.2 L771.1 126.2 L770.6 127.0 L770.1 126.9 L769.6 126.9 L769.1 127.1 L768.6 127.2 L768.1 125.7 L767.6 126.4 L767.1 125.7 L766.6 124.4 L766.1 123.9 L765.6 124.2 L765.1 123.3 L764.6 123.7 L764.1 124.2 L763.7 124.3 L763.2 124.6 L762.7 124.6 L762.2 125.4 L761.7 125.6 L761.2 125.2 L760.7 125.5 L760.2 126.2 L759.7 125.7 L759.2 125.6 L758.7 125.6 L758.2 125.8 L757.7 125.5 L757.2 125.1 L756.7 124.3 L756.2 123.9 L755.7 124.3 L755.2 123.2 L754.7 124.0 L754.2 124.2 L753.7 124.5 L753.2 123.9 L752.8 124.9 L752.3 124.6 L751.8 125.0 L751.3 125.5 L750.8 124.7 L750.3 125.7 L749.8 124.7 L749.3 124.4 L748.8 123.9 L748.3 123.7 L747.8 123.0 L747.3 123.2 L746.8 122.4 L746.3 123.0 L745.8 122.0 L745.3 122.3 L744.8 122.0 L744.3 122.2 L743.8 122.3 L743.3 122.6 L742.8 122.7 L742.3 123.9 L741.8 123.7 L741.3 123.4 L740.8 124.3 L740.3 123.2 L739.8 123.2 L739.3 122.8 L738.9 123.3 L738.4 122.6 L737.9 122.0 L737.4 121.2 L736.9 121.5 L736.4 120.6 L735.9 120.6 L735.4 120.8 L734.9 121.3 L734.4 121.7 L733.9 121.5 L733.4 122.4 L732.9 121.9 L732.4 122.3 L731.9 122.5 L731.4 122.8 L730.9 123.4 L730.4 123.2 L729.9 122.7 L729.4 122.5 L728.9 122.3 L728.5 122.1 L728.0 122.1 L727.5 121.8 L727.0 121.7 L726.5 121.8 L726.0 122.0 L725.5 122.9 L725.0 122.8 L724.5 123.7 L724.0 123.7 L723.5 123.6 L723.0 123.1 L722.5 123.3 L722.0 123.3 L721.5 123.0 L721.0 122.3 L720.5 122.1 L720.0 121.5 L719.5 121.2 L719.0 121.0 L718.5 121.9 L718.0 120.9 L717.5 121.0 L717.0 120.9 L716.5 120.9 L716.0 121.9 L715.5 121.7 L715.0 122.7 L714.5 121.9 L714.0 122.1 L713.5 122.7 L713.0 123.0 L712.5 122.8 L712.0 122.9 L711.5 122.5 L711.0 122.9 L710.5 122.3 L710.0 121.7 L709.5 121.7 L709.0 120.9 L708.5 120.3 L708.0 119.9 L707.5 119.7 L707.0 119.4 L706.5 119.5 L706.0 119.4 L705.5 119.9 L705.0 120.3 L704.5 119.5 L704.0 120.2 L703.5 120.9 L703.0 120.6 L702.5 120.5 L702.0 120.6 L701.5 119.7 L701.0 119.5 L700.5 119.3 L700.0 119.1 L699.5 118.9 L699.0 118.6 L698.5 118.8 L698.0 119.1 L697.5 118.9 L697.0 119.4 L696.5 119.6 L696.0 120.3 L695.5 119.8 L695.0 120.9 L694.5 120.4 L694.0 120.3 L693.5 121.6 L693.1 120.5 L692.6 120.7 L692.1 119.5 L691.6 119.2 L691.1 119.4 L690.6 118.7 L690.1 118.3 L689.6 118.0 L689.1 118.5 L688.6 117.2 L688.1 117.3 L687.6 118.4 L687.1 118.1 L686.6 117.6 L686.1 117.2 L685.6 117.4 L685.1 117.4 L684.6 118.7 L684.1 117.8 L683.6 117.5 L683.1 117.7 L682.6 117.9 L682.1 116.6 L681.6 116.3 L681.2 116.4 L680.7 116.6 L680.2 115.4 L679.7 115.7 L679.2 115.5 L678.7 115.0 L678.2 115.7 L677.7 115.5 L677.2 116.9 L676.7 116.0 L676.2 116.2 L675.7 116.7 L675.2 117.2 L674.7 117.0 L674.2 117.7 L673.7 117.3 L673.2 116.1 L672.7 115.8 L672.2 116.1 L671.7 115.5 L671.2 115.0 L670.7 114.9 L670.2 114.5 L669.8 114.5 L669.3 114.3 L668.8 114.7 L668.3 115.3 L667.8 115.2 L667.3 115.7 L666.8 116.7 L666.3 116.4 L665.8 116.6 L665.3 117.6 L664.8 116.8 L664.3 116.4 L663.8 115.9 L663.3 115.6 L662.8 116.2 L662.3 114.9 L661.8 114.8 L661.3 114.4 L660.8 114.9 L660.3 113.7 L659.8 113.7 L659.3 114.1 L658.8 114.2 L658.3 114.4 L657.8 115.0 L657.3 115.2 L656.8 115.5 L656.3 115.1 L655.8 115.0 L655.3 115.0 L654.8 114.7 L654.3 114.7 L653.8 114.5 L653.3 114.2 L652.8 113.6 L652.3 113.3 L651.8 113.6 L651.3 112.5 L650.8 112.3 L650.3 112.4 L649.8 112.8 L649.3 112.7 L648.8 113.6 L648.3 113.1 L647.8 113.2 L647.3 114.3 L646.8 113.9 L646.3 113.8 L645.8 114.5 L645.3 113.8 L644.8 113.3 L644.3 113.2 L643.8 113.1 L643.3 113.6 L642.8 113.2 L642.3 113.1 L641.8 113.3 L641.3 112.4 L640.8 112.8 L640.3 113.8 L639.8 113.2 L639.3 114.2 L638.8 113.5 L638.3 113.6 L637.8 113.8 L637.3 114.1 L636.8 114.5 L636.3 114.6 L635.8 113.6 L635.3 113.7 L634.8 113.4 L634.3 113.0 L633.8 113.5 L633.3 112.9 L632.8 112.6 L632.3 112.4 L631.8 112.7 L631.3 112.4 L630.8 113.2 L630.3 112.9 L629.8 113.4 L629.3 113.6 L628.8 114.1 L628.3 113.6 L627.8 114.0 L627.3 113.9 L626.8 113.7 L626.3 114.0 L625.8 114.2 L625.3 113.4 L624.8 112.9 L624.3 113.4 L623.8 112.2 L623.3 112.1 L622.8 111.2 L622.3 111.0 L621.8 110.7 L621.3 111.0 L620.8 111.0 L620.3 112.0 L619.8 112.0 L619.3 111.6 L618.8 111.8 L618.3 112.1 L617.8 112.5 L617.3 112.9 L616.8 112.6 L616.3 112.8 L615.8 113.4 L615.3 112.5 L614.8 111.8 L614.3 111.9 L613.8 111.7 L613.3 111.0 L612.8 110.6 L612.3 110.1 L611.8 110.6 L611.3 109.9 L610.8 110.2 L610.3 110.0 L609.8 110.8 L609.3 111.2 L608.9 111.9 L608.4 111.1 L607.9 111.8 L607.4 111.2 L606.9 111.2 L606.4 111.6 L605.9 111.8 L605.4 110.9 L604.9 111.3 L604.4 110.6 L603.9 110.2 L603.4 110.3 L603.0 109.4 L602.5 109.4 L602.0 110.6 L601.5 109.9 L601.0 109.7 L600.5 110.3 L600.0 110.1Z" fill="#4F6228"/><path d="M600.0 108.8 L601.0 108.6 L602.0 108.4 L603.0 108.3 L603.9 108.8 L604.9 109.5 L605.9 109.9 L606.9 110.1 L607.9 110.3 L608.9 109.6 L609.8 109.1 L610.8 108.8 L611.8 108.9 L612.8 109.0 L613.8 110.0 L614.8 110.8 L615.8 111.2 L616.8 111.5 L617.8 111.4 L618.8 110.7 L619.8 110.2 L620.8 109.8 L621.8 109.7 L622.8 110.0 L623.8 110.8 L624.8 111.5 L625.8 112.1 L626.8 112.7 L627.8 112.6 L628.8 112.3 L629.8 112.0 L630.8 111.5 L631.8 111.0 L632.8 111.2 L633.8 111.5 L634.8 112.0 L635.8 112.5 L636.8 112.8 L637.8 112.5 L638.8 112.2 L639.8 111.8 L640.8 111.4 L641.8 111.3 L642.8 111.5 L643.8 111.8 L644.8 112.2 L645.8 112.7 L646.8 112.5 L647.8 112.1 L648.8 111.7 L649.8 111.3 L650.8 111.0 L651.8 111.7 L652.8 112.3 L653.8 113.0 L654.8 113.6 L655.8 113.9 L656.8 113.5 L657.8 113.2 L658.8 112.9 L659.8 112.5 L660.8 112.7 L661.8 113.4 L662.8 114.1 L663.8 114.9 L664.8 115.5 L665.8 115.3 L666.8 114.7 L667.8 114.1 L668.8 113.4 L669.8 112.9 L670.7 113.5 L671.7 114.1 L672.7 114.7 L673.7 115.3 L674.7 115.7 L675.7 115.3 L676.7 114.9 L677.7 114.4 L678.7 114.0 L679.7 114.0 L680.7 114.6 L681.6 115.2 L682.6 115.8 L683.6 116.4 L684.6 116.5 L685.6 116.2 L686.6 116.1 L687.6 116.1 L688.6 116.2 L689.6 116.8 L690.6 117.5 L691.6 118.1 L692.6 118.7 L693.5 119.3 L694.5 119.1 L695.5 118.7 L696.5 118.2 L697.5 117.6 L698.5 117.2 L699.5 117.7 L700.5 118.2 L701.5 118.6 L702.5 119.0 L703.5 118.9 L704.5 118.4 L705.5 118.1 L706.5 118.1 L707.5 118.4 L708.5 119.3 L709.5 120.2 L710.5 120.9 L711.5 121.3 L712.5 121.7 L713.5 121.2 L714.5 120.8 L715.5 120.4 L716.5 119.9 L717.5 119.4 L718.5 119.7 L719.5 120.1 L720.5 120.7 L721.5 121.5 L722.5 121.9 L723.5 121.8 L724.5 121.7 L725.5 121.2 L726.5 120.6 L727.5 120.7 L728.5 121.0 L729.4 121.3 L730.4 121.5 L731.4 121.6 L732.4 121.0 L733.4 120.5 L734.4 120.0 L735.4 119.6 L736.4 119.5 L737.4 120.1 L738.4 120.8 L739.3 121.5 L740.3 122.1 L741.3 122.3 L742.3 121.9 L743.3 121.5 L744.3 121.1 L745.3 120.7 L746.3 120.9 L747.3 121.6 L748.3 122.3 L749.3 122.9 L750.3 123.5 L751.3 123.4 L752.3 123.1 L753.2 122.7 L754.2 122.4 L755.2 122.1 L756.2 122.6 L757.2 123.2 L758.2 123.7 L759.2 124.3 L760.2 124.7 L761.2 124.1 L762.2 123.5 L763.2 122.9 L764.1 122.3 L765.1 122.1 L766.1 122.8 L767.1 123.7 L768.1 124.6 L769.1 125.4 L770.1 125.5 L771.1 125.1 L772.1 124.6 L773.0 124.1 L774.0 123.6 L775.0 123.9 L776.0 124.4 L777.0 125.0 L778.0 125.6 L779.0 126.2 L780.0 125.8 L781.0 125.4 L781.9 124.9 L782.9 124.3 L783.9 124.0 L784.9 124.4 L785.9 124.9 L786.9 125.4 L787.9 125.8 L788.9 125.9 L789.9 125.5 L790.8 125.0 L791.8 124.5 L792.8 123.9 L793.8 123.8 L794.8 124.2 L795.8 124.8 L796.8 125.6 L797.8 126.5 L798.8 126.7 L799.8 126.5 L800.7 126.0 L801.7 125.3 L802.7 124.5 L803.7 124.7 L804.7 125.0 L805.7 125.5 L806.7 126.0 L807.7 126.3 L808.7 126.0 L809.7 125.6 L810.7 125.2 L811.6 124.9 L812.6 125.1 L813.6 125.8 L814.6 126.4 L815.6 126.9 L816.6 127.3 L817.6 127.0 L818.6 126.4 L819.6 125.8 L820.6 125.3 L821.6 124.7 L822.6 124.8 L823.5 125.0 L824.5 125.3 L825.5 125.8 L826.5 126.5 L827.5 126.4 L828.5 126.3 L829.5 126.1 L830.5 125.7 L831.5 125.5 L832.5 126.0 L833.5 126.5 L834.5 127.0 L835.5 127.5 L836.5 127.4 L837.5 126.9 L838.5 126.3 L839.5 125.8 L840.5 125.3 L841.5 125.7 L842.5 126.4 L843.5 127.0 L844.5 127.6 L845.5 128.1 L846.5 127.7 L847.5 127.4 L848.5 127.1 L849.5 126.7 L850.5 126.5 L851.5 126.9 L852.5 127.3 L853.5 127.6 L854.5 128.0 L855.5 128.0 L856.5 127.6 L857.5 127.3 L858.5 126.9 L859.5 126.5 L860.5 126.7 L861.5 127.0 L862.5 127.1 L863.5 127.2 L864.5 127.5 L865.5 127.0 L866.5 126.8 L867.5 126.7 L868.5 126.6 L869.5 126.6 L870.5 127.1 L871.5 127.5 L872.5 127.8 L873.5 128.2 L874.5 128.1 L875.5 127.7 L876.5 127.0 L877.5 126.3 L878.5 125.6 L879.5 125.7 L880.5 126.2 L881.5 126.9 L882.5 127.7 L883.5 128.5 L884.5 128.3 L885.5 127.8 L886.5 127.2 L887.5 126.4 L888.5 125.9 L889.5 126.1 L890.5 126.6 L891.5 127.1 L892.5 127.8 L893.5 127.9 L894.5 127.6 L895.5 127.2 L896.5 126.8 L897.5 126.4 L898.5 126.7 L899.5 127.3 L900.5 127.7 L901.5 128.1 L902.5 128.3 L903.5 127.6 L904.5 127.1 L905.5 126.6 L906.5 126.4 L907.5 126.6 L908.5 127.5 L909.5 128.2 L910.5 128.7 L911.5 129.2 L912.5 129.1 L913.5 128.6 L914.5 128.1 L915.5 127.6 L916.5 127.1 L917.5 127.1 L918.5 127.4 L919.5 127.7 L920.5 128.2 L921.5 128.6 L922.5 128.1 L923.5 127.7 L924.5 127.2 L925.5 126.7 L926.5 126.4 L927.5 126.7 L928.5 127.0 L929.5 127.4 L930.5 127.9 L931.5 128.0 L932.5 127.6 L933.5 127.3 L934.5 126.9 L935.5 126.5 L936.5 126.7 L937.5 127.1 L938.5 127.6 L939.5 128.0 L940.5 128.5 L941.5 128.1 L942.5 127.6 L943.5 127.2 L944.5 126.8 L945.5 126.6 L946.5 127.4 L947.5 128.2 L948.5 129.1 L949.5 129.9 L950.5 129.9 L951.5 129.4 L952.5 128.8 L953.5 128.2 L954.5 127.7 L955.5 127.9 L956.5 128.3 L957.5 128.5 L958.5 128.8 L959.5 129.1 L960.5 128.6 L961.5 128.1 L962.5 127.6 L963.5 127.1 L964.5 126.9 L965.5 127.4 L966.5 128.1 L967.5 129.0 L968.5 129.8 L969.5 130.1 L970.5 129.7 L971.5 129.2 L972.5 128.8 L973.5 128.4 L974.5 128.6 L975.5 129.1 L976.5 129.5 L977.5 129.9 L978.5 130.3 L979.5 129.8 L980.5 129.3 L981.5 128.8 L982.5 128.3 L983.5 128.0 L984.5 128.4 L985.5 128.9 L986.5 129.5 L987.5 130.1 L988.5 130.3 L989.5 129.9 L990.5 129.5 L991.5 128.9 L992.5 128.2 L993.5 128.3 L994.5 128.6 L995.5 129.1 L996.5 129.7 L997.5 130.5 L998.5 130.3" stroke="#4F6228" stroke-width="2.34" fill="none" stroke-linejoin="round" stroke-linecap="butt"/><path d="M600.0 160.4 L600.5 158.6 L600.9 159.4 L601.4 158.3 L601.8 156.1 L602.3 156.7 L602.8 155.8 L603.2 155.9 L603.7 154.7 L604.1 153.8 L604.6 152.7 L605.1 154.5 L605.6 155.2 L606.1 154.7 L606.5 156.1 L607.0 155.2 L607.5 156.1 L608.0 156.3 L608.5 156.9 L609.0 156.7 L609.4 157.8 L609.9 159.1 L610.4 159.5 L610.9 159.3 L611.3 161.8 L611.8 162.7 L612.3 163.7 L612.8 164.0 L613.2 163.3 L613.7 164.2 L614.2 164.4 L614.7 163.8 L615.1 162.5 L615.6 161.8 L616.1 160.8 L616.6 159.6 L617.0 158.9 L617.5 157.2 L618.0 156.4 L618.5 155.7 L618.9 153.5 L619.4 152.3 L619.9 152.9 L620.4 154.8 L620.9 155.9 L621.4 156.8 L621.9 157.2 L622.4 158.9 L622.8 160.3 L623.3 161.6 L623.8 162.6 L624.3 162.6 L624.8 162.8 L625.3 164.6 L625.8 166.3 L626.3 165.1 L626.8 163.1 L627.2 162.3 L627.7 161.5 L628.2 160.8 L628.7 158.4 L629.2 158.6 L629.6 158.2 L630.1 157.2 L630.6 155.3 L631.1 156.3 L631.6 156.4 L632.1 156.4 L632.6 156.6 L633.1 156.2 L633.6 156.0 L634.1 154.7 L634.6 155.0 L635.1 154.2 L635.6 155.0 L636.1 154.8 L636.6 154.8 L637.1 154.2 L637.6 154.2 L638.1 153.7 L638.6 154.7 L639.1 155.3 L639.6 155.4 L640.0 157.5 L640.5 158.3 L641.0 159.5 L641.5 160.3 L642.0 159.7 L642.5 161.4 L643.0 162.2 L643.4 163.9 L643.9 164.5 L644.4 166.0 L644.9 165.8 L645.4 165.8 L645.9 166.1 L646.4 166.0 L646.9 164.7 L647.4 165.6 L647.9 164.9 L648.4 164.4 L648.9 163.6 L649.3 164.6 L649.8 163.5 L650.3 163.3 L650.8 162.0 L651.3 163.6 L651.8 163.3 L652.3 163.1 L652.8 162.8 L653.3 162.5 L653.8 160.6 L654.3 161.6 L654.7 160.8 L655.2 159.7 L655.6 159.6 L656.1 158.8 L656.5 158.1 L657.0 156.8 L657.4 156.7 L657.9 156.4 L658.4 156.8 L658.9 157.6 L659.4 157.6 L659.9 157.6 L660.4 159.0 L660.9 159.0 L661.3 161.0 L661.8 161.6 L662.3 162.4 L662.8 163.1 L663.3 162.6 L663.8 164.0 L664.3 163.9 L664.8 165.5 L665.3 164.3 L665.8 163.4 L666.3 164.2 L666.8 162.5 L667.3 163.3 L667.8 162.9 L668.3 162.0 L668.8 161.4 L669.2 161.3 L669.7 159.3 L670.2 158.6 L670.7 158.7 L671.2 157.9 L671.7 158.5 L672.2 157.4 L672.7 157.1 L673.2 156.7 L673.7 155.1 L674.2 157.2 L674.6 157.6 L675.1 156.4 L675.6 158.4 L676.0 158.7 L676.5 158.5 L677.0 159.8 L677.5 160.2 L677.9 160.2 L678.4 159.9 L678.9 159.6 L679.3 160.5 L679.8 160.9 L680.3 161.6 L680.8 162.3 L681.3 161.5 L681.8 161.6 L682.3 162.4 L682.7 163.4 L683.2 163.4 L683.7 162.0 L684.2 164.2 L684.7 164.4 L685.2 164.9 L685.7 163.8 L686.2 164.7 L686.7 165.6 L687.2 165.1 L687.6 165.4 L688.1 166.2 L688.6 165.9 L689.1 167.1 L689.6 166.8 L690.1 167.5 L690.6 165.3 L691.1 166.4 L691.6 166.4 L692.1 166.0 L692.6 165.1 L693.1 165.2 L693.6 163.0 L694.1 164.5 L694.6 163.5 L695.1 162.4 L695.6 162.4 L696.1 162.4 L696.6 162.5 L697.1 161.3 L697.6 161.1 L698.1 160.3 L698.6 159.8 L699.1 159.3 L699.6 158.0 L700.1 158.6 L700.6 157.1 L701.1 156.7 L701.6 157.5 L702.1 157.2 L702.6 157.0 L703.1 156.5 L703.6 156.2 L704.1 157.2 L704.6 157.8 L705.1 158.2 L705.6 160.0 L706.1 160.7 L706.6 159.7 L707.1 160.8 L707.6 161.2 L708.1 163.6 L708.6 164.2 L709.1 164.5 L709.6 164.6 L710.1 165.8 L710.6 166.9 L711.1 166.2 L711.6 165.6 L712.0 164.7 L712.5 164.5 L713.0 164.4 L713.5 164.2 L714.0 162.3 L714.4 161.2 L714.9 161.3 L715.4 161.6 L715.9 160.1 L716.4 158.8 L716.8 158.6 L717.3 157.9 L717.8 159.1 L718.3 157.2 L718.8 158.5 L719.2 157.0 L719.7 158.0 L720.2 157.3 L720.7 158.2 L721.2 158.7 L721.7 159.3 L722.1 159.7 L722.6 159.9 L723.1 161.0 L723.6 161.7 L724.1 161.1 L724.6 163.7 L725.1 164.4 L725.5 165.2 L726.0 164.2 L726.5 165.0 L727.0 167.4 L727.5 166.4 L728.0 164.4 L728.4 164.8 L728.9 162.8 L729.4 163.0 L729.9 161.8 L730.3 160.8 L730.8 159.3 L731.3 159.9 L731.8 157.6 L732.2 157.8 L732.7 155.9 L733.2 156.6 L733.7 156.4 L734.2 157.1 L734.7 158.4 L735.1 158.5 L735.6 161.2 L736.1 162.3 L736.6 162.3 L737.1 164.5 L737.6 165.3 L738.1 165.0 L738.5 167.4 L739.0 168.2 L739.5 168.9 L740.0 170.0 L740.5 169.3 L741.0 167.5 L741.4 167.3 L741.9 166.8 L742.4 165.8 L742.9 165.0 L743.3 162.8 L743.8 162.8 L744.3 162.3 L744.8 160.6 L745.2 161.0 L745.7 160.3 L746.2 158.9 L746.6 157.1 L747.1 157.2 L747.6 157.3 L748.1 156.8 L748.6 158.6 L749.0 158.9 L749.5 159.2 L750.0 159.0 L750.5 161.4 L751.0 161.8 L751.5 161.4 L751.9 162.1 L752.4 163.0 L752.9 164.5 L753.4 165.9 L753.9 164.6 L754.4 165.6 L754.8 167.4 L755.3 167.8 L755.8 169.1 L756.3 167.6 L756.8 165.7 L757.3 166.2 L757.8 165.2 L758.3 163.2 L758.8 161.8 L759.3 161.3 L759.8 160.8 L760.3 160.2 L760.8 157.9 L761.3 158.1 L761.8 159.3 L762.2 160.2 L762.7 161.6 L763.1 162.0 L763.6 163.8 L764.0 163.7 L764.5 166.1 L764.9 167.2 L765.4 168.3 L765.9 167.2 L766.4 164.3 L766.9 164.7 L767.3 163.8 L767.8 162.6 L768.3 160.0 L768.8 159.8 L769.3 160.2 L769.8 161.9 L770.3 164.3 L770.7 164.3 L771.2 167.2 L771.7 167.5 L772.2 168.3 L772.7 166.3 L773.2 166.4 L773.7 163.4 L774.1 163.0 L774.6 161.2 L775.1 160.2 L775.6 157.0 L776.1 159.1 L776.6 161.9 L777.1 164.1 L777.5 165.0 L778.0 167.1 L778.5 168.1 L779.0 169.8 L779.5 168.3 L779.9 165.5 L780.4 164.4 L780.9 163.3 L781.3 161.3 L781.8 159.3 L782.2 160.8 L782.7 163.0 L783.1 165.3 L783.6 167.6 L784.0 167.3 L784.5 169.1 L785.0 168.7 L785.4 165.6 L785.9 163.8 L786.3 162.2 L786.8 161.4 L787.2 157.7 L787.7 160.6 L788.2 161.5 L788.6 162.6 L789.1 163.4 L789.6 164.0 L790.1 165.4 L790.6 167.0 L791.0 167.6 L791.5 169.0 L792.0 170.1 L792.5 169.3 L793.0 168.0 L793.4 165.7 L793.9 165.2 L794.4 165.3 L794.9 163.9 L795.4 162.5 L795.8 161.1 L796.3 159.8 L796.8 158.6 L797.3 160.8 L797.7 162.3 L798.2 163.0 L798.6 163.8 L799.1 165.4 L799.5 167.1 L800.0 168.2 L800.4 169.3 L800.9 170.7 L801.4 167.5 L801.9 167.6 L802.4 165.6 L802.8 164.7 L803.3 163.2 L803.8 161.5 L804.3 159.5 L804.8 160.3 L805.2 162.7 L805.7 164.1 L806.1 164.3 L806.6 166.4 L807.0 167.4 L807.5 168.3 L807.9 170.2 L808.4 170.9 L808.9 170.7 L809.4 168.0 L809.8 167.9 L810.3 166.5 L810.8 166.3 L811.3 164.4 L811.7 165.1 L812.2 162.9 L812.7 163.5 L813.2 161.2 L813.6 160.1 L814.1 160.6 L814.6 159.1 L815.1 158.8 L815.6 160.9 L816.0 162.0 L816.5 163.0 L817.0 162.7 L817.5 163.7 L817.9 165.3 L818.4 166.1 L818.9 167.5 L819.4 168.1 L819.8 169.0 L820.3 169.2 L820.8 170.8 L821.2 169.4 L821.7 170.2 L822.1 169.9 L822.6 167.8 L823.0 169.1 L823.5 168.5 L824.0 167.8 L824.5 166.8 L824.9 166.8 L825.4 164.8 L825.9 165.2 L826.4 164.4 L826.8 163.6 L827.3 163.1 L827.8 161.7 L828.3 160.2 L828.7 161.1 L829.2 159.1 L829.7 159.1 L830.2 159.0 L830.7 160.4 L831.1 159.5 L831.6 161.6 L832.1 161.1 L832.6 163.4 L833.1 163.8 L833.6 165.4 L834.0 166.1 L834.5 164.9 L835.0 167.4 L835.5 167.9 L836.0 168.6 L836.5 168.6 L836.9 169.8 L837.4 168.8 L837.9 171.3 L838.4 170.2 L838.8 170.3 L839.3 168.4 L839.8 169.4 L840.2 168.4 L840.7 168.3 L841.2 167.9 L841.7 167.5 L842.1 166.2 L842.6 166.2 L843.1 164.9 L843.5 165.5 L844.0 163.8 L844.5 163.9 L845.0 164.7 L845.5 164.3 L846.0 163.8 L846.5 162.6 L847.0 162.1 L847.5 161.6 L847.9 161.7 L848.4 161.1 L848.9 159.6 L849.4 159.2 L849.9 159.8 L850.4 159.6 L850.9 159.0 L851.4 159.6 L851.8 158.8 L852.3 159.9 L852.7 160.5 L853.2 159.3 L853.6 161.1 L854.1 160.5 L854.5 160.1 L855.0 161.1 L855.5 161.5 L855.9 161.0 L856.4 160.7 L856.9 159.3 L857.4 158.9 L857.8 159.2 L858.3 157.8 L858.8 158.1 L859.2 157.9 L859.7 157.5 L860.2 159.6 L860.6 160.9 L861.1 162.5 L861.6 163.4 L862.0 164.8 L862.5 164.5 L862.9 166.6 L863.4 168.5 L863.9 168.5 L864.3 170.4 L864.8 172.2 L865.3 172.2 L865.8 170.9 L866.3 171.3 L866.8 170.6 L867.3 170.0 L867.8 168.8 L868.3 167.9 L868.8 166.1 L869.2 164.7 L869.7 165.6 L870.2 164.1 L870.7 163.9 L871.2 161.8 L871.7 162.1 L872.2 162.6 L872.7 161.9 L873.2 161.2 L873.7 159.6 L874.2 160.9 L874.7 161.7 L875.1 163.0 L875.6 163.5 L876.1 163.9 L876.6 165.2 L877.1 164.6 L877.6 165.9 L878.0 165.2 L878.5 166.6 L879.0 168.4 L879.5 169.1 L880.0 169.7 L880.5 170.6 L880.9 170.9 L881.4 171.8 L881.9 172.8 L882.4 171.5 L882.9 170.9 L883.4 168.9 L883.9 169.9 L884.4 168.6 L884.9 167.2 L885.4 167.8 L885.9 166.3 L886.4 166.0 L886.9 165.1 L887.4 163.8 L887.9 164.0 L888.4 162.6 L888.9 161.0 L889.4 161.7 L889.9 162.7 L890.4 162.8 L890.8 165.3 L891.3 165.1 L891.8 167.3 L892.3 167.2 L892.7 167.1 L893.2 168.0 L893.7 169.5 L894.2 170.4 L894.6 170.5 L895.1 173.2 L895.6 174.0 L896.1 173.3 L896.6 171.5 L897.1 170.3 L897.5 170.5 L898.0 169.6 L898.5 167.4 L899.0 168.2 L899.5 166.5 L900.0 166.6 L900.5 164.7 L900.9 165.2 L901.4 162.6 L901.9 163.7 L902.4 161.9 L902.9 162.9 L903.4 164.0 L903.9 162.9 L904.4 163.9 L904.9 163.2 L905.4 164.8 L905.9 165.8 L906.4 165.5 L906.9 166.4 L907.4 167.4 L907.9 166.2 L908.4 167.9 L908.8 166.7 L909.3 166.8 L909.7 166.4 L910.2 167.0 L910.6 166.6 L911.1 168.0 L911.5 167.8 L912.0 167.7 L912.5 167.0 L913.0 168.1 L913.4 167.5 L913.9 167.3 L914.4 168.9 L914.9 168.7 L915.4 167.7 L915.9 169.9 L916.3 170.4 L916.8 170.8 L917.3 171.4 L917.8 171.4 L918.3 170.5 L918.8 172.4 L919.2 170.7 L919.7 171.4 L920.2 172.6 L920.7 170.4 L921.2 169.9 L921.7 170.8 L922.2 170.5 L922.7 170.2 L923.2 168.6 L923.7 168.5 L924.2 167.2 L924.7 168.4 L925.2 168.1 L925.7 167.8 L926.1 167.7 L926.6 167.1 L927.1 166.7 L927.6 164.5 L928.1 164.7 L928.6 165.2 L929.1 163.1 L929.6 162.6 L930.1 162.7 L930.6 161.7 L931.1 162.7 L931.6 162.8 L932.1 163.6 L932.6 162.6 L933.1 164.2 L933.6 163.7 L934.1 163.2 L934.5 164.5 L935.0 164.4 L935.5 164.0 L936.0 164.4 L936.5 164.7 L937.0 164.9 L937.5 166.1 L938.0 166.6 L938.5 166.4 L938.9 167.7 L939.4 167.2 L939.9 168.4 L940.3 169.4 L940.8 169.1 L941.3 170.1 L941.8 170.2 L942.2 170.3 L942.7 171.7 L943.2 170.7 L943.6 172.9 L944.1 173.3 L944.6 171.8 L945.1 172.6 L945.6 171.4 L946.0 171.8 L946.5 170.0 L947.0 170.6 L947.5 169.7 L948.0 170.2 L948.5 169.7 L949.0 169.3 L949.5 168.7 L950.0 166.7 L950.4 168.0 L950.9 166.7 L951.4 167.0 L951.9 165.4 L952.4 164.2 L952.9 165.2 L953.4 163.8 L953.8 163.8 L954.3 163.7 L954.8 162.4 L955.3 162.9 L955.8 161.6 L956.3 161.8 L956.8 161.4 L957.3 162.2 L957.7 162.2 L958.2 162.6 L958.7 162.0 L959.2 162.7 L959.7 162.8 L960.2 162.9 L960.7 162.8 L961.1 162.7 L961.6 162.5 L962.1 162.1 L962.6 161.2 L963.1 161.4 L963.6 161.3 L964.1 160.9 L964.5 161.5 L965.0 159.8 L965.5 160.4 L966.0 161.3 L966.5 160.6 L967.0 160.7 L967.5 161.4 L967.9 161.8 L968.4 160.9 L968.9 161.5 L969.4 161.1 L969.9 161.3 L970.4 162.0 L970.9 161.5 L971.4 161.2 L971.8 162.4 L972.3 161.9 L972.8 161.8 L973.3 162.1 L973.8 162.2 L974.3 162.3 L974.8 160.9 L975.3 161.6 L975.8 161.1 L976.2 162.1 L976.7 160.8 L977.2 161.5 L977.7 160.6 L978.2 161.8 L978.7 160.9 L979.2 161.8 L979.7 162.1 L980.2 161.9 L980.7 162.0 L981.1 161.5 L981.6 162.1 L982.1 161.8 L982.6 162.3 L983.1 161.1 L983.6 162.8 L984.1 162.3 L984.6 161.7 L985.0 162.9 L985.5 161.1 L986.0 162.0 L986.5 162.1 L987.0 161.8 L987.5 162.2 L988.0 161.3 L988.5 161.6 L988.9 163.3 L989.4 163.4 L989.9 161.9 L990.4 163.4 L990.9 163.4 L991.4 162.2 L991.9 163.5 L992.4 163.0 L992.8 162.8 L993.3 162.3 L993.8 162.1 L994.3 163.4 L994.8 162.7 L995.3 163.3 L995.8 163.2 L996.3 163.3 L996.7 163.6 L997.2 162.5 L997.7 163.6 L998.2 163.3 L998.2 168.8 L997.7 167.8 L997.2 167.6 L996.7 168.5 L996.3 167.3 L995.8 168.2 L995.3 167.0 L994.8 167.2 L994.3 168.1 L993.8 167.0 L993.3 167.3 L992.8 167.0 L992.4 167.8 L991.9 168.2 L991.4 167.3 L990.9 167.5 L990.4 167.8 L989.9 168.0 L989.4 167.3 L988.9 168.5 L988.5 168.7 L988.0 167.8 L987.5 166.9 L987.0 166.6 L986.5 168.2 L986.0 166.5 L985.5 166.7 L985.0 168.0 L984.6 167.8 L984.1 166.6 L983.6 168.2 L983.1 167.8 L982.6 167.3 L982.1 166.9 L981.6 166.9 L981.1 165.9 L980.7 166.0 L980.2 166.9 L979.7 166.1 L979.2 166.3 L978.7 166.1 L978.2 167.3 L977.7 166.1 L977.2 167.3 L976.7 166.4 L976.2 166.1 L975.8 166.7 L975.3 166.2 L974.8 166.7 L974.3 165.9 L973.8 166.0 L973.3 166.3 L972.8 167.3 L972.3 166.5 L971.8 167.8 L971.4 167.3 L970.9 167.4 L970.4 167.1 L969.9 167.0 L969.4 167.2 L968.9 166.7 L968.4 167.2 L967.9 166.3 L967.5 166.4 L967.0 165.8 L966.5 165.0 L966.0 165.1 L965.5 166.9 L965.0 166.5 L964.5 165.9 L964.1 165.7 L963.6 166.1 L963.1 166.0 L962.6 166.3 L962.1 167.9 L961.6 167.1 L961.1 167.4 L960.7 166.4 L960.2 166.5 L959.7 166.7 L959.2 166.7 L958.7 168.1 L958.2 167.4 L957.7 167.5 L957.3 167.0 L956.8 167.1 L956.3 166.2 L955.8 167.4 L955.3 166.7 L954.8 167.7 L954.3 167.7 L953.8 169.7 L953.4 169.2 L952.9 169.7 L952.4 169.6 L951.9 170.2 L951.4 170.8 L950.9 172.0 L950.4 173.0 L950.0 172.5 L949.5 172.6 L949.0 173.2 L948.5 173.7 L948.0 174.0 L947.5 174.2 L947.0 175.9 L946.5 175.2 L946.0 176.3 L945.6 176.4 L945.1 177.0 L944.6 177.1 L944.1 177.6 L943.6 177.7 L943.2 177.1 L942.7 176.1 L942.2 176.0 L941.8 174.9 L941.3 173.9 L940.8 173.7 L940.3 173.1 L939.9 174.0 L939.4 172.5 L938.9 172.0 L938.5 171.5 L938.0 171.8 L937.5 171.7 L937.0 169.8 L936.5 169.8 L936.0 169.1 L935.5 169.6 L935.0 170.1 L934.5 169.1 L934.1 169.7 L933.6 168.1 L933.1 167.8 L932.6 168.8 L932.1 167.3 L931.6 166.9 L931.1 167.8 L930.6 167.3 L930.1 168.2 L929.6 169.2 L929.1 169.1 L928.6 169.0 L928.1 169.7 L927.6 171.2 L927.1 171.0 L926.6 171.0 L926.1 173.0 L925.7 172.1 L925.2 171.9 L924.7 173.7 L924.2 172.4 L923.7 173.5 L923.2 173.8 L922.7 174.0 L922.2 174.5 L921.7 176.3 L921.2 176.3 L920.7 175.9 L920.2 177.6 L919.7 177.8 L919.2 176.7 L918.8 177.0 L918.3 175.9 L917.8 175.9 L917.3 176.9 L916.8 175.5 L916.3 174.7 L915.9 173.8 L915.4 173.4 L914.9 173.0 L914.4 172.7 L913.9 174.2 L913.4 173.7 L913.0 172.1 L912.5 171.9 L912.0 172.4 L911.5 172.1 L911.1 172.3 L910.6 172.1 L910.2 172.5 L909.7 172.0 L909.3 173.5 L908.8 171.6 L908.4 172.4 L907.9 172.1 L907.4 171.5 L906.9 172.2 L906.4 170.0 L905.9 170.1 L905.4 169.2 L904.9 168.9 L904.4 169.6 L903.9 169.6 L903.4 168.6 L902.9 167.4 L902.4 167.5 L901.9 168.3 L901.4 168.1 L900.9 169.2 L900.5 169.7 L900.0 170.9 L899.5 172.0 L899.0 172.0 L898.5 173.3 L898.0 174.3 L897.5 174.6 L897.1 175.7 L896.6 177.3 L896.1 177.2 L895.6 177.8 L895.1 177.9 L894.6 175.8 L894.2 174.9 L893.7 174.1 L893.2 173.7 L892.7 172.6 L892.3 173.2 L891.8 172.7 L891.3 171.7 L890.8 171.2 L890.4 168.8 L889.9 167.3 L889.4 166.9 L888.9 167.3 L888.4 167.1 L887.9 167.8 L887.4 169.0 L886.9 171.0 L886.4 170.5 L885.9 171.5 L885.4 172.4 L884.9 173.5 L884.4 173.4 L883.9 175.0 L883.4 174.5 L882.9 175.7 L882.4 177.3 L881.9 177.4 L881.4 177.4 L880.9 175.0 L880.5 174.3 L880.0 173.6 L879.5 173.7 L879.0 172.3 L878.5 173.0 L878.0 170.7 L877.6 170.2 L877.1 171.2 L876.6 169.5 L876.1 169.3 L875.6 167.4 L875.1 167.7 L874.7 167.4 L874.2 165.4 L873.7 164.4 L873.2 165.7 L872.7 165.9 L872.2 166.6 L871.7 166.8 L871.2 168.7 L870.7 168.1 L870.2 169.4 L869.7 170.1 L869.2 170.3 L868.8 171.0 L868.3 173.9 L867.8 173.9 L867.3 174.3 L866.8 175.6 L866.3 176.0 L865.8 176.3 L865.3 176.3 L864.8 177.1 L864.3 175.6 L863.9 174.2 L863.4 174.2 L862.9 172.1 L862.5 170.1 L862.0 169.2 L861.6 168.7 L861.1 166.2 L860.6 166.6 L860.2 164.7 L859.7 162.3 L859.2 163.0 L858.8 164.3 L858.3 163.5 L857.8 163.2 L857.4 164.4 L856.9 164.3 L856.4 165.9 L855.9 165.1 L855.5 166.4 L855.0 166.3 L854.5 166.2 L854.1 166.3 L853.6 165.6 L853.2 164.7 L852.7 164.2 L852.3 165.1 L851.8 164.7 L851.4 163.8 L850.9 163.8 L850.4 163.5 L849.9 164.2 L849.4 165.7 L848.9 164.9 L848.4 164.9 L847.9 166.2 L847.5 166.1 L847.0 167.5 L846.5 167.6 L846.0 168.1 L845.5 169.5 L845.0 170.3 L844.5 169.5 L844.0 169.4 L843.5 171.2 L843.1 170.4 L842.6 170.8 L842.1 171.5 L841.7 171.1 L841.2 173.3 L840.7 172.7 L840.2 173.4 L839.8 174.8 L839.3 174.0 L838.8 174.0 L838.4 174.5 L837.9 175.1 L837.4 175.1 L836.9 175.2 L836.5 174.2 L836.0 173.7 L835.5 173.4 L835.0 172.7 L834.5 171.7 L834.0 170.0 L833.6 170.8 L833.1 170.0 L832.6 167.5 L832.1 166.4 L831.6 165.7 L831.1 164.7 L830.7 164.1 L830.2 164.7 L829.7 163.0 L829.2 164.9 L828.7 165.6 L828.3 167.5 L827.8 167.1 L827.3 167.7 L826.8 167.8 L826.4 169.5 L825.9 169.1 L825.4 170.3 L824.9 172.2 L824.5 172.4 L824.0 172.6 L823.5 174.1 L823.0 174.2 L822.6 173.3 L822.1 174.1 L821.7 175.5 L821.2 175.1 L820.8 174.6 L820.3 174.0 L819.8 173.4 L819.4 172.0 L818.9 171.2 L818.4 170.5 L817.9 171.2 L817.5 169.5 L817.0 169.0 L816.5 168.5 L816.0 167.7 L815.6 165.4 L815.1 164.8 L814.6 163.7 L814.1 165.7 L813.6 166.0 L813.2 168.1 L812.7 167.8 L812.2 169.7 L811.7 169.4 L811.3 171.5 L810.8 170.8 L810.3 171.5 L809.8 172.9 L809.4 173.4 L808.9 176.0 L808.4 175.4 L807.9 174.9 L807.5 173.0 L807.0 172.3 L806.6 170.4 L806.1 169.7 L805.7 168.9 L805.2 167.7 L804.8 165.7 L804.3 164.2 L803.8 165.5 L803.3 167.8 L802.8 168.6 L802.4 169.8 L801.9 172.6 L801.4 173.1 L800.9 174.3 L800.4 173.2 L800.0 173.2 L799.5 171.8 L799.1 170.5 L798.6 168.6 L798.2 168.2 L797.7 167.4 L797.3 165.5 L796.8 164.8 L796.3 166.2 L795.8 166.3 L795.4 167.3 L794.9 168.3 L794.4 169.2 L793.9 170.5 L793.4 171.1 L793.0 172.1 L792.5 172.9 L792.0 173.9 L791.5 174.8 L791.0 172.2 L790.6 172.2 L790.1 169.6 L789.6 169.1 L789.1 167.4 L788.6 166.4 L788.2 165.5 L787.7 165.0 L787.2 163.4 L786.8 165.3 L786.3 167.2 L785.9 169.6 L785.4 170.8 L785.0 172.7 L784.5 176.3 L784.0 172.9 L783.6 171.6 L783.1 169.6 L782.7 168.9 L782.2 166.5 L781.8 164.5 L781.3 166.0 L780.9 167.3 L780.4 168.8 L779.9 170.8 L779.5 173.2 L779.0 174.8 L778.5 172.4 L778.0 172.3 L777.5 170.8 L777.1 168.2 L776.6 166.6 L776.1 165.8 L775.6 162.6 L775.1 164.2 L774.6 165.6 L774.1 167.9 L773.7 168.8 L773.2 170.1 L772.7 172.3 L772.2 174.7 L771.7 172.9 L771.2 171.4 L770.7 170.8 L770.3 169.9 L769.8 167.6 L769.3 166.5 L768.8 165.2 L768.3 165.3 L767.8 167.1 L767.3 168.0 L766.9 168.9 L766.4 169.7 L765.9 171.0 L765.4 173.4 L764.9 170.8 L764.5 170.2 L764.0 170.0 L763.6 167.4 L763.1 166.6 L762.7 166.2 L762.2 164.1 L761.8 163.5 L761.3 162.2 L760.8 163.2 L760.3 164.1 L759.8 165.3 L759.3 166.8 L758.8 167.2 L758.3 168.1 L757.8 170.0 L757.3 170.1 L756.8 170.8 L756.3 173.7 L755.8 173.5 L755.3 172.6 L754.8 173.3 L754.4 172.3 L753.9 171.8 L753.4 170.7 L752.9 169.2 L752.4 169.9 L751.9 167.4 L751.5 167.2 L751.0 166.1 L750.5 166.6 L750.0 165.8 L749.5 165.0 L749.0 164.7 L748.6 164.4 L748.1 161.8 L747.6 161.3 L747.1 163.8 L746.6 162.7 L746.2 163.5 L745.7 165.4 L745.2 164.8 L744.8 166.3 L744.3 167.4 L743.8 168.8 L743.3 167.9 L742.9 169.4 L742.4 169.6 L741.9 171.2 L741.4 172.5 L741.0 172.3 L740.5 173.2 L740.0 173.8 L739.5 173.6 L739.0 172.2 L738.5 171.5 L738.1 170.1 L737.6 169.2 L737.1 169.8 L736.6 168.9 L736.1 167.4 L735.6 165.2 L735.1 164.1 L734.7 163.1 L734.2 163.2 L733.7 161.1 L733.2 160.5 L732.7 161.6 L732.2 163.4 L731.8 162.9 L731.3 164.4 L730.8 164.7 L730.3 165.8 L729.9 166.0 L729.4 166.7 L728.9 169.4 L728.4 168.6 L728.0 170.0 L727.5 170.5 L727.0 172.1 L726.5 171.6 L726.0 171.0 L725.5 169.2 L725.1 168.1 L724.6 167.6 L724.1 166.6 L723.6 167.4 L723.1 166.7 L722.6 166.1 L722.1 164.5 L721.7 164.6 L721.2 162.6 L720.7 163.1 L720.2 161.5 L719.7 162.1 L719.2 163.5 L718.8 162.4 L718.3 163.7 L717.8 163.0 L717.3 163.3 L716.8 163.8 L716.4 164.6 L715.9 164.8 L715.4 165.9 L714.9 167.9 L714.4 168.2 L714.0 168.2 L713.5 168.1 L713.0 168.5 L712.5 170.4 L712.0 169.4 L711.6 169.7 L711.1 171.3 L710.6 171.3 L710.1 169.9 L709.6 169.4 L709.1 169.9 L708.6 168.1 L708.1 167.4 L707.6 166.9 L707.1 165.9 L706.6 165.1 L706.1 164.4 L705.6 163.6 L705.1 163.5 L704.6 162.7 L704.1 162.9 L703.6 162.3 L703.1 160.7 L702.6 161.6 L702.1 161.0 L701.6 162.4 L701.1 162.0 L700.6 164.3 L700.1 163.4 L699.6 164.9 L699.1 163.9 L698.6 164.5 L698.1 166.7 L697.6 166.8 L697.1 166.2 L696.6 166.3 L696.1 168.1 L695.6 168.8 L695.1 167.5 L694.6 167.9 L694.1 168.3 L693.6 169.0 L693.1 169.1 L692.6 169.3 L692.1 169.9 L691.6 170.5 L691.1 170.6 L690.6 171.4 L690.1 171.3 L689.6 173.0 L689.1 171.7 L688.6 170.5 L688.1 170.7 L687.6 170.8 L687.2 169.8 L686.7 171.5 L686.2 169.8 L685.7 169.8 L685.2 169.7 L684.7 168.2 L684.2 169.7 L683.7 168.7 L683.2 167.4 L682.7 167.5 L682.3 168.8 L681.8 166.7 L681.3 167.3 L680.8 166.9 L680.3 166.7 L679.8 166.0 L679.3 166.3 L678.9 166.1 L678.4 164.7 L677.9 165.6 L677.5 164.6 L677.0 165.2 L676.5 164.2 L676.0 163.3 L675.6 163.4 L675.1 162.9 L674.6 161.3 L674.2 160.8 L673.7 160.5 L673.2 161.3 L672.7 161.5 L672.2 162.0 L671.7 163.7 L671.2 164.3 L670.7 165.3 L670.2 164.3 L669.7 165.6 L669.2 165.8 L668.8 165.6 L668.3 166.1 L667.8 168.4 L667.3 168.4 L666.8 168.7 L666.3 168.2 L665.8 169.4 L665.3 169.6 L664.8 170.8 L664.3 169.6 L663.8 169.1 L663.3 169.3 L662.8 167.4 L662.3 166.3 L661.8 166.2 L661.3 165.2 L660.9 166.0 L660.4 164.6 L659.9 162.8 L659.4 162.0 L658.9 163.1 L658.4 161.1 L657.9 160.5 L657.4 161.1 L657.0 161.7 L656.5 162.7 L656.1 163.3 L655.6 163.7 L655.2 164.0 L654.7 164.6 L654.3 166.1 L653.8 167.1 L653.3 166.6 L652.8 167.6 L652.3 167.8 L651.8 167.2 L651.3 168.7 L650.8 169.1 L650.3 168.2 L649.8 168.2 L649.3 168.4 L648.9 168.6 L648.4 169.5 L647.9 169.2 L647.4 171.2 L646.9 170.0 L646.4 171.7 L645.9 171.5 L645.4 171.7 L644.9 171.4 L644.4 171.0 L643.9 170.6 L643.4 168.3 L643.0 167.4 L642.5 166.3 L642.0 166.8 L641.5 164.1 L641.0 163.2 L640.5 162.3 L640.0 162.3 L639.6 161.8 L639.1 160.7 L638.6 158.4 L638.1 157.5 L637.6 158.3 L637.1 158.9 L636.6 159.0 L636.1 159.9 L635.6 159.1 L635.1 159.6 L634.6 160.0 L634.1 161.3 L633.6 160.4 L633.1 160.1 L632.6 160.2 L632.1 161.0 L631.6 160.5 L631.1 160.2 L630.6 160.0 L630.1 161.2 L629.6 161.8 L629.2 163.4 L628.7 164.2 L628.2 165.2 L627.7 166.3 L627.2 168.1 L626.8 168.1 L626.3 170.2 L625.8 170.1 L625.3 169.3 L624.8 169.9 L624.3 167.4 L623.8 167.8 L623.3 165.3 L622.8 165.1 L622.4 164.2 L621.9 162.6 L621.4 161.3 L620.9 160.1 L620.4 160.1 L619.9 157.9 L619.4 158.2 L618.9 158.1 L618.5 159.8 L618.0 162.0 L617.5 161.9 L617.0 163.5 L616.6 164.2 L616.1 164.8 L615.6 166.7 L615.1 166.7 L614.7 167.9 L614.2 170.2 L613.7 168.9 L613.2 169.7 L612.8 168.3 L612.3 167.3 L611.8 166.7 L611.3 166.3 L610.9 165.3 L610.4 164.0 L609.9 163.4 L609.4 162.4 L609.0 162.1 L608.5 160.7 L608.0 161.4 L607.5 160.8 L607.0 160.3 L606.5 161.1 L606.1 159.4 L605.6 160.8 L605.1 160.4 L604.6 158.1 L604.1 159.7 L603.7 161.0 L603.2 161.1 L602.8 161.7 L602.3 161.6 L601.8 162.3 L601.4 162.4 L600.9 164.0 L600.5 164.6 L600.0 165.0Z" fill="#FF0000"/><path d="M600.0 162.7 L600.9 161.3 L601.8 159.9 L602.8 158.5 L603.7 157.3 L604.6 156.2 L605.6 157.1 L606.5 157.9 L607.5 158.2 L608.5 158.8 L609.4 160.2 L610.4 162.0 L611.3 164.0 L612.3 165.5 L613.2 166.5 L614.2 167.3 L615.1 164.8 L616.1 162.7 L617.0 160.7 L618.0 158.6 L618.9 156.3 L619.9 155.9 L620.9 157.8 L621.9 160.0 L622.8 162.3 L623.8 164.6 L624.8 166.5 L625.8 168.3 L626.8 166.2 L627.7 164.2 L628.7 162.1 L629.6 160.0 L630.6 158.2 L631.6 158.3 L632.6 158.4 L633.6 158.1 L634.6 157.6 L635.6 157.1 L636.6 156.6 L637.6 156.0 L638.6 156.5 L639.6 158.3 L640.5 160.3 L641.5 162.3 L642.5 164.2 L643.4 166.0 L644.4 167.8 L645.4 168.5 L646.4 168.0 L647.4 167.5 L648.4 167.0 L649.3 166.5 L650.3 166.0 L651.3 165.5 L652.3 164.9 L653.3 164.3 L654.3 163.4 L655.2 162.1 L656.1 160.7 L657.0 159.4 L657.9 158.2 L658.9 159.6 L659.9 160.9 L660.9 162.3 L661.8 163.6 L662.8 165.0 L663.8 166.4 L664.8 167.8 L665.8 166.8 L666.8 165.8 L667.8 164.7 L668.8 163.7 L669.7 162.7 L670.7 161.7 L671.7 160.7 L672.7 159.6 L673.7 158.6 L674.6 159.4 L675.6 160.3 L676.5 161.2 L677.5 162.1 L678.4 162.9 L679.3 163.6 L680.3 164.0 L681.3 164.5 L682.3 165.0 L683.2 165.6 L684.2 166.1 L685.2 166.7 L686.2 167.4 L687.2 168.0 L688.1 168.5 L689.1 168.9 L690.1 169.4 L691.1 168.6 L692.1 167.8 L693.1 167.0 L694.1 166.3 L695.1 165.7 L696.1 165.0 L697.1 164.0 L698.1 163.0 L699.1 162.0 L700.1 161.1 L701.1 160.1 L702.1 159.2 L703.1 158.3 L704.1 159.7 L705.1 161.0 L706.1 162.5 L707.1 164.1 L708.1 165.6 L709.1 166.9 L710.1 168.1 L711.1 168.2 L712.0 167.3 L713.0 166.4 L714.0 165.5 L714.9 164.3 L715.9 162.9 L716.8 161.7 L717.8 160.9 L718.8 160.4 L719.7 159.8 L720.7 160.0 L721.7 161.2 L722.6 162.5 L723.6 164.0 L724.6 165.5 L725.5 167.1 L726.5 168.6 L727.5 168.4 L728.4 166.6 L729.4 164.9 L730.3 163.3 L731.3 161.8 L732.2 160.2 L733.2 158.4 L734.2 160.2 L735.1 162.1 L736.1 164.1 L737.1 166.3 L738.1 168.3 L739.0 170.1 L740.0 171.9 L741.0 170.3 L741.9 168.6 L742.9 166.8 L743.8 165.1 L744.8 163.6 L745.7 162.2 L746.6 160.8 L747.6 159.2 L748.6 160.6 L749.5 162.0 L750.5 163.4 L751.5 164.8 L752.4 166.3 L753.4 167.7 L754.4 169.0 L755.3 170.3 L756.3 169.9 L757.3 168.0 L758.3 166.1 L759.3 164.1 L760.3 162.1 L761.3 160.0 L762.2 162.3 L763.1 164.5 L764.0 166.7 L764.9 169.0 L765.9 169.0 L766.9 166.8 L767.8 164.4 L768.8 161.9 L769.8 164.7 L770.7 167.6 L771.7 170.4 L772.7 170.0 L773.7 166.5 L774.6 163.5 L775.6 160.8 L776.6 164.4 L777.5 167.5 L778.5 170.4 L779.5 170.2 L780.4 166.9 L781.3 163.9 L782.2 164.2 L783.1 167.7 L784.0 171.1 L785.0 170.8 L785.9 167.1 L786.8 163.4 L787.7 162.5 L788.6 164.4 L789.6 166.5 L790.6 168.8 L791.5 171.0 L792.5 171.1 L793.4 169.3 L794.4 167.4 L795.4 165.5 L796.3 163.2 L797.3 163.1 L798.2 165.2 L799.1 167.7 L800.0 170.1 L800.9 172.5 L801.9 169.5 L802.8 166.5 L803.8 163.5 L804.8 163.3 L805.7 165.9 L806.6 168.5 L807.5 171.1 L808.4 173.6 L809.4 171.5 L810.3 169.5 L811.3 167.8 L812.2 166.2 L813.2 164.4 L814.1 162.6 L815.1 162.5 L816.0 164.3 L817.0 166.0 L817.9 167.7 L818.9 169.4 L819.8 171.1 L820.8 172.8 L821.7 172.1 L822.6 171.4 L823.5 170.7 L824.5 169.4 L825.4 168.0 L826.4 166.6 L827.3 165.1 L828.3 163.7 L829.2 162.0 L830.2 161.7 L831.1 162.9 L832.1 164.6 L833.1 166.3 L834.0 167.9 L835.0 169.2 L836.0 170.4 L836.9 171.7 L837.9 173.2 L838.8 172.2 L839.8 171.2 L840.7 170.2 L841.7 169.3 L842.6 168.4 L843.5 167.5 L844.5 166.8 L845.5 166.3 L846.5 165.5 L847.5 164.3 L848.4 163.0 L849.4 162.1 L850.4 161.4 L851.4 161.5 L852.3 162.1 L853.2 162.6 L854.1 163.1 L855.0 163.7 L855.9 163.0 L856.9 162.2 L857.8 161.4 L858.8 160.8 L859.7 160.2 L860.6 163.0 L861.6 165.6 L862.5 168.2 L863.4 170.7 L864.3 173.4 L865.3 174.2 L866.3 173.1 L867.3 171.8 L868.3 170.1 L869.2 168.3 L870.2 166.8 L871.2 165.5 L872.2 164.4 L873.2 163.1 L874.2 163.2 L875.1 164.8 L876.1 166.3 L877.1 167.6 L878.0 168.9 L879.0 170.2 L880.0 171.7 L880.9 173.2 L881.9 174.7 L882.9 173.4 L883.9 172.0 L884.9 170.7 L885.9 169.2 L886.9 167.5 L887.9 165.9 L888.9 164.7 L889.9 165.3 L890.8 167.4 L891.8 169.1 L892.7 170.6 L893.7 172.2 L894.6 174.0 L895.6 175.9 L896.6 174.2 L897.5 172.5 L898.5 171.0 L899.5 169.4 L900.5 167.8 L901.4 166.3 L902.4 164.8 L903.4 165.8 L904.4 166.5 L905.4 167.2 L906.4 168.1 L907.4 169.2 L908.4 169.8 L909.3 169.8 L910.2 169.8 L911.1 169.8 L912.0 169.8 L913.0 170.3 L913.9 170.7 L914.9 171.1 L915.9 171.9 L916.8 172.8 L917.8 173.6 L918.8 174.2 L919.7 174.4 L920.7 174.0 L921.7 173.0 L922.7 172.0 L923.7 171.1 L924.7 170.2 L925.7 169.7 L926.6 169.2 L927.6 168.2 L928.6 167.2 L929.6 166.3 L930.6 165.3 L931.6 165.1 L932.6 165.7 L933.6 166.2 L934.5 166.6 L935.5 166.9 L936.5 167.5 L937.5 168.3 L938.5 169.2 L939.4 170.3 L940.3 171.2 L941.3 172.0 L942.2 173.0 L943.2 174.1 L944.1 175.3 L945.1 174.5 L946.0 173.6 L947.0 172.8 L948.0 172.0 L949.0 171.1 L950.0 170.3 L950.9 169.4 L951.9 168.4 L952.9 167.2 L953.8 166.1 L954.8 165.2 L955.8 164.3 L956.8 164.2 L957.7 164.2 L958.7 164.5 L959.7 164.8 L960.7 164.6 L961.6 164.3 L962.6 164.0 L963.6 163.8 L964.5 163.5 L965.5 163.2 L966.5 163.2 L967.5 163.7 L968.4 164.2 L969.4 164.2 L970.4 164.2 L971.4 164.3 L972.3 164.3 L973.3 164.2 L974.3 164.1 L975.3 164.1 L976.2 163.9 L977.2 163.8 L978.2 163.7 L979.2 163.9 L980.2 164.0 L981.1 164.1 L982.1 164.2 L983.1 164.5 L984.1 164.7 L985.0 164.7 L986.0 164.6 L987.0 164.6 L988.0 164.9 L988.9 165.3 L989.9 165.6 L990.9 165.5 L991.9 165.3 L992.8 165.1 L993.8 165.2 L994.8 165.2 L995.8 165.2 L996.7 165.4 L997.7 165.9" stroke="#FF0000" stroke-width="3.52" fill="none" stroke-linejoin="round" stroke-linecap="butt"/><path d="M600.0 136.0 L600.5 136.2 L601.0 136.4 L601.5 135.5 L602.0 135.5 L602.5 136.4 L603.0 136.5 L603.5 136.0 L604.0 135.8 L604.5 136.1 L605.0 136.4 L605.5 135.9 L606.0 135.6 L606.5 135.8 L607.0 135.5 L607.5 136.3 L608.0 134.9 L608.5 134.8 L609.0 134.9 L609.5 135.1 L610.0 135.4 L610.5 135.5 L611.0 135.1 L611.5 134.4 L612.0 135.2 L612.5 134.1 L613.0 133.8 L613.5 133.8 L614.0 134.0 L614.5 135.1 L615.0 134.8 L615.5 135.2 L616.0 134.1 L616.5 134.7 L617.0 134.6 L617.5 134.4 L618.0 135.7 L618.5 135.5 L619.0 133.9 L619.5 135.6 L620.0 134.6 L620.5 135.3 L621.0 135.2 L621.5 134.2 L622.0 133.9 L622.5 134.7 L623.0 135.0 L623.5 134.7 L624.0 134.2 L624.5 135.2 L625.0 135.3 L625.5 133.8 L626.0 134.9 L626.5 135.4 L627.0 135.5 L627.5 136.0 L628.0 136.0 L628.5 136.4 L629.0 134.9 L629.5 136.5 L630.0 135.6 L630.5 135.3 L631.0 135.8 L631.5 134.9 L632.0 136.3 L632.5 135.5 L633.0 135.8 L633.5 135.5 L634.0 134.6 L634.5 135.8 L635.0 134.4 L635.5 135.1 L636.0 135.5 L636.5 134.1 L637.0 135.3 L637.5 135.3 L638.0 135.5 L638.5 134.2 L639.0 135.1 L639.5 135.0 L640.0 135.1 L640.5 134.7 L641.0 135.3 L641.5 135.2 L642.0 135.4 L642.5 134.9 L643.0 135.5 L643.5 134.6 L644.0 134.1 L644.5 135.3 L645.0 135.9 L645.5 135.4 L646.0 136.2 L646.5 135.8 L647.0 136.5 L647.5 136.4 L648.0 136.1 L648.5 136.7 L649.0 135.4 L649.5 135.5 L650.0 135.4 L650.5 135.8 L651.0 134.4 L651.5 135.5 L652.0 135.4 L652.5 135.2 L653.0 134.1 L653.5 135.0 L654.0 134.6 L654.5 135.2 L655.0 134.9 L655.5 134.4 L656.0 133.7 L656.5 134.6 L657.0 133.8 L657.5 135.4 L658.0 134.8 L658.5 134.7 L659.0 135.6 L659.5 134.8 L660.0 134.2 L660.5 133.9 L661.0 135.5 L661.5 135.1 L662.0 135.6 L662.5 135.3 L663.0 134.6 L663.5 134.8 L664.0 135.0 L664.5 134.9 L665.0 135.9 L665.5 136.3 L666.0 135.1 L666.5 136.1 L667.0 136.1 L667.5 135.0 L668.0 135.6 L668.5 136.4 L669.0 135.8 L669.5 135.9 L670.0 136.3 L670.5 135.7 L671.0 136.6 L671.5 136.7 L672.0 136.7 L672.5 136.5 L673.0 135.7 L673.5 136.6 L674.0 136.6 L674.5 135.5 L675.0 136.2 L675.5 135.9 L676.0 136.5 L676.5 136.2 L677.0 135.9 L677.5 136.3 L678.0 136.4 L678.5 136.2 L679.0 135.9 L679.5 135.8 L680.0 136.0 L680.5 134.6 L681.0 134.8 L681.5 135.2 L682.0 134.8 L682.5 134.3 L683.0 135.5 L683.5 135.3 L684.0 135.0 L684.5 135.4 L685.0 135.3 L685.5 135.5 L686.0 134.9 L686.5 133.9 L687.0 134.6 L687.5 134.1 L688.0 134.6 L688.5 135.6 L689.0 134.1 L689.5 135.3 L690.0 133.9 L690.5 134.2 L691.0 135.6 L691.5 135.5 L692.0 134.1 L692.5 135.3 L693.0 135.1 L693.5 135.1 L694.0 135.1 L694.5 134.4 L695.0 134.0 L695.5 134.5 L696.0 134.4 L696.5 133.1 L697.0 134.6 L697.5 134.4 L698.0 134.0 L698.5 134.5 L699.0 134.9 L699.5 134.3 L700.0 134.6 L700.5 135.0 L701.0 135.1 L701.5 134.5 L702.0 134.3 L702.5 134.0 L703.0 134.9 L703.5 134.8 L704.0 134.3 L704.5 133.7 L705.0 133.7 L705.5 134.5 L706.0 134.0 L706.5 134.7 L707.0 133.5 L707.5 133.4 L708.0 135.1 L708.5 135.0 L709.0 133.8 L709.5 134.6 L710.0 135.2 L710.5 135.2 L711.0 134.6 L711.5 134.7 L712.0 133.9 L712.5 134.8 L713.0 134.7 L713.5 133.9 L714.0 135.6 L714.5 135.7 L715.0 134.8 L715.5 135.2 L716.0 135.8 L716.5 135.5 L717.0 135.5 L717.5 135.9 L718.0 135.2 L718.5 135.8 L719.0 136.8 L719.5 136.1 L720.0 135.5 L720.5 136.8 L721.0 136.6 L721.5 136.6 L722.0 136.2 L722.5 134.9 L723.0 136.0 L723.5 135.9 L724.0 135.7 L724.5 134.1 L725.0 134.4 L725.5 135.4 L726.0 134.9 L726.5 134.1 L727.0 134.2 L727.5 135.2 L728.0 135.8 L728.5 134.9 L729.0 135.1 L729.5 136.1 L730.0 135.6 L730.5 135.2 L731.0 136.7 L731.5 135.7 L732.0 136.8 L732.5 136.9 L733.0 136.9 L733.5 135.9 L734.0 136.7 L734.5 136.9 L735.0 136.0 L735.5 136.3 L736.0 136.3 L736.5 136.8 L737.0 135.9 L737.5 135.7 L738.0 136.6 L738.5 135.3 L739.0 136.3 L739.5 136.6 L740.0 136.1 L740.5 136.1 L741.0 136.1 L741.5 136.2 L742.0 135.1 L742.5 135.2 L743.0 134.6 L743.5 134.2 L744.0 135.5 L744.5 134.1 L745.0 134.8 L745.5 135.9 L746.0 135.2 L746.5 135.5 L747.0 136.2 L747.5 135.2 L748.0 136.1 L748.5 136.5 L749.0 136.6 L749.5 136.0 L750.0 136.1 L750.5 136.2 L751.0 135.4 L751.5 136.7 L752.0 136.6 L752.5 136.4 L753.0 136.5 L753.5 136.9 L754.0 136.3 L754.5 136.8 L755.0 136.8 L755.5 136.5 L756.0 137.1 L756.5 135.7 L757.0 135.8 L757.5 136.8 L758.0 136.5 L758.5 136.7 L759.0 137.0 L759.5 137.1 L760.0 135.7 L760.5 137.1 L761.0 137.0 L761.5 136.5 L762.0 137.0 L762.5 136.8 L763.0 135.4 L763.5 135.4 L764.0 136.8 L764.5 136.6 L765.0 135.7 L765.5 136.2 L766.0 136.3 L766.5 136.2 L767.0 134.4 L767.5 135.3 L768.0 136.0 L768.5 135.8 L769.0 134.5 L769.5 135.3 L770.0 135.1 L770.5 135.2 L771.0 136.7 L771.5 136.8 L772.0 136.5 L772.5 136.4 L773.0 136.5 L773.5 137.0 L774.0 136.1 L774.5 135.6 L775.0 135.6 L775.5 135.7 L776.0 135.6 L776.5 136.7 L777.0 136.4 L777.5 136.1 L778.0 136.2 L778.5 135.3 L779.0 135.6 L779.5 135.9 L780.0 135.1 L780.5 136.0 L781.0 135.3 L781.5 136.0 L782.0 135.9 L782.5 135.5 L783.0 134.7 L783.5 135.6 L784.0 135.9 L784.5 135.8 L785.0 136.1 L785.5 135.9 L786.0 136.1 L786.5 135.3 L787.0 135.1 L787.5 136.1 L788.0 134.9 L788.5 135.7 L789.0 136.8 L789.5 136.9 L790.0 136.2 L790.5 136.7 L791.0 137.3 L791.5 137.3 L792.0 136.3 L792.5 137.4 L793.0 136.7 L793.5 137.1 L794.0 137.1 L794.5 137.2 L795.0 137.2 L795.5 137.1 L796.0 136.4 L796.5 137.3 L797.0 137.1 L797.5 136.9 L798.0 135.7 L798.5 137.0 L799.0 136.5 L799.5 137.1 L800.0 136.6 L800.5 136.8 L801.0 135.6 L801.5 135.4 L802.0 137.0 L802.5 137.0 L803.0 137.0 L803.5 136.4 L804.0 135.8 L804.5 135.9 L805.0 135.7 L805.5 136.3 L806.0 137.0 L806.5 137.2 L807.0 136.6 L807.5 136.9 L808.0 137.4 L808.5 137.3 L809.0 137.3 L809.5 136.2 L810.0 136.3 L810.5 137.5 L811.0 137.4 L811.5 137.0 L812.0 137.1 L812.5 137.2 L813.0 137.4 L813.5 136.3 L814.0 135.7 L814.5 137.1 L815.0 136.3 L815.5 135.5 L816.0 136.4 L816.5 137.2 L817.0 137.3 L817.5 136.9 L818.0 137.3 L818.5 137.3 L819.0 137.5 L819.5 136.1 L820.0 137.6 L820.5 137.4 L821.0 137.1 L821.5 136.3 L822.0 137.2 L822.5 137.8 L823.0 137.4 L823.5 135.9 L824.0 137.2 L824.5 137.0 L825.0 137.2 L825.5 137.2 L826.0 135.5 L826.5 136.7 L827.0 136.7 L827.5 136.5 L828.0 136.8 L828.5 136.4 L829.0 135.9 L829.5 135.8 L830.0 135.4 L830.5 135.3 L831.0 135.1 L831.5 136.7 L832.0 136.5 L832.5 136.5 L833.0 135.3 L833.5 135.1 L834.0 135.2 L834.5 136.4 L835.0 136.4 L835.5 135.6 L836.0 136.3 L836.5 135.6 L837.0 135.3 L837.5 135.8 L838.0 136.7 L838.5 135.8 L839.0 136.4 L839.5 137.1 L840.0 135.6 L840.5 135.5 L841.0 137.1 L841.5 136.7 L842.0 137.3 L842.5 135.7 L843.0 137.0 L843.5 136.9 L844.0 137.4 L844.5 136.1 L845.0 137.2 L845.5 137.6 L846.0 136.4 L846.5 137.6 L847.0 136.5 L847.5 137.4 L848.0 137.4 L848.5 137.5 L849.0 136.6 L849.5 137.0 L850.0 136.3 L850.5 137.4 L851.0 137.3 L851.5 136.3 L852.0 135.8 L852.5 137.3 L853.0 137.4 L853.5 136.7 L854.0 136.7 L854.5 136.7 L855.0 137.0 L855.5 136.7 L856.0 137.8 L856.5 138.2 L857.0 137.4 L857.5 137.3 L858.0 138.1 L858.5 137.2 L859.0 137.2 L859.5 137.0 L860.0 138.1 L860.5 137.1 L861.0 137.3 L861.5 137.3 L862.0 135.9 L862.5 137.3 L863.0 136.7 L863.5 137.2 L864.0 136.1 L864.5 136.9 L865.0 137.2 L865.5 136.6 L866.0 135.9 L866.5 136.9 L867.0 137.5 L867.5 136.8 L868.0 135.9 L868.5 136.2 L869.0 136.9 L869.5 136.7 L870.0 137.5 L870.5 137.8 L871.0 137.5 L871.5 136.6 L872.0 136.5 L872.5 137.8 L873.0 137.8 L873.5 137.8 L874.0 137.8 L874.5 137.8 L875.0 137.3 L875.5 137.7 L876.0 136.9 L876.5 137.5 L877.0 137.6 L877.5 137.8 L878.0 137.7 L878.5 137.1 L879.0 135.9 L879.5 137.6 L880.0 137.5 L880.5 137.2 L881.0 137.5 L881.5 137.3 L882.0 136.3 L882.5 137.5 L883.0 137.2 L883.5 136.1 L884.0 136.0 L884.5 137.2 L885.0 137.1 L885.5 135.7 L886.0 137.2 L886.5 136.7 L887.0 135.8 L887.5 137.0 L888.0 137.0 L888.5 137.1 L889.0 136.5 L889.5 135.5 L890.0 137.4 L890.5 137.6 L891.0 136.9 L891.5 137.0 L892.0 138.1 L892.5 137.8 L893.0 138.4 L893.5 137.8 L894.0 138.5 L894.5 138.3 L895.0 137.9 L895.5 136.9 L896.0 138.5 L896.5 137.1 L897.0 138.4 L897.5 137.9 L898.0 138.2 L898.5 136.6 L899.0 138.0 L899.5 138.3 L900.0 138.0 L900.5 138.3 L901.0 138.2 L901.5 137.9 L902.0 137.7 L902.5 137.8 L903.0 138.1 L903.5 137.9 L904.0 137.6 L904.5 137.8 L905.0 138.2 L905.5 137.8 L906.0 137.1 L906.5 137.7 L907.0 137.0 L907.5 137.2 L908.0 137.4 L908.5 136.2 L909.0 137.1 L909.5 137.1 L910.0 136.6 L910.5 136.0 L911.0 135.3 L911.5 136.1 L912.0 136.0 L912.5 135.8 L913.0 136.9 L913.5 135.8 L914.0 137.0 L914.5 136.2 L915.0 137.0 L915.5 135.9 L916.0 137.4 L916.5 137.4 L917.0 137.3 L917.5 137.0 L918.0 137.4 L918.5 137.1 L919.0 136.8 L919.5 137.6 L920.0 137.1 L920.5 136.9 L921.0 137.6 L921.5 137.3 L922.0 137.6 L922.5 137.3 L923.0 137.7 L923.5 138.2 L924.0 138.1 L924.5 138.1 L925.0 138.1 L925.5 137.8 L926.0 137.1 L926.5 137.4 L927.0 136.5 L927.5 137.5 L928.0 137.3 L928.5 136.8 L929.0 137.1 L929.5 136.9 L930.0 136.2 L930.5 137.0 L931.0 135.6 L931.5 136.2 L932.0 135.6 L932.5 136.0 L933.0 137.3 L933.5 137.3 L934.0 136.5 L934.5 136.9 L935.0 137.4 L935.5 135.8 L936.0 137.4 L936.5 136.9 L937.0 136.4 L937.5 137.1 L938.0 135.8 L938.5 136.7 L939.0 136.9 L939.5 136.2 L940.0 136.5 L940.5 135.6 L941.0 136.9 L941.5 137.2 L942.0 137.2 L942.5 136.3 L943.0 137.0 L943.5 137.5 L944.0 137.0 L944.5 137.3 L945.0 137.9 L945.5 138.2 L946.0 137.3 L946.5 137.1 L947.0 138.0 L947.5 138.8 L948.0 138.0 L948.5 138.7 L949.0 137.3 L949.5 137.6 L950.0 138.5 L950.5 138.4 L951.0 137.8 L951.5 136.9 L952.0 137.9 L952.5 136.9 L953.0 137.5 L953.5 136.0 L954.0 137.1 L954.5 137.4 L955.0 137.4 L955.5 136.6 L956.0 136.2 L956.5 137.2 L957.0 137.6 L957.5 137.4 L958.0 136.9 L958.5 136.5 L959.0 137.4 L959.5 136.5 L960.0 137.7 L960.5 136.9 L961.0 137.9 L961.5 137.6 L962.0 136.4 L962.5 136.5 L963.0 137.9 L963.5 136.4 L964.0 136.2 L964.5 137.3 L965.0 137.2 L965.5 137.2 L966.0 136.2 L966.5 137.8 L967.0 136.4 L967.5 137.1 L968.0 137.8 L968.5 137.1 L969.0 137.1 L969.5 137.8 L970.0 136.6 L970.5 136.1 L971.0 136.7 L971.5 137.4 L972.0 137.4 L972.5 136.3 L973.0 137.2 L973.5 137.9 L974.0 136.7 L974.5 138.2 L975.0 138.0 L975.5 136.8 L976.0 138.6 L976.5 137.9 L977.0 138.2 L977.5 137.6 L978.0 138.8 L978.5 138.8 L979.0 137.6 L979.5 138.3 L980.0 138.0 L980.5 137.3 L981.0 138.5 L981.5 137.4 L982.0 137.7 L982.5 137.3 L983.0 137.2 L983.5 138.1 L984.0 138.0 L984.5 138.1 L985.0 138.1 L985.5 138.3 L986.0 137.6 L986.5 137.0 L987.0 137.7 L987.5 138.8 L988.0 137.7 L988.5 138.8 L989.0 138.2 L989.5 138.0 L990.0 139.2 L990.5 139.2 L991.0 139.2 L991.5 139.0 L992.0 139.1 L992.5 138.6 L993.0 138.8 L993.5 137.1 L994.0 138.7 L994.5 138.6 L995.0 136.9 L995.5 138.1 L996.0 136.8 L996.5 137.8 L997.0 138.0 L997.5 138.6 L998.0 138.7 L998.5 137.7 L999.0 138.7 L999.0 144.7 L998.5 144.6 L998.0 145.3 L997.5 144.5 L997.0 144.7 L996.5 144.1 L996.0 144.4 L995.5 144.1 L995.0 144.8 L994.5 145.3 L994.0 144.3 L993.5 145.0 L993.0 145.8 L992.5 144.6 L992.0 144.9 L991.5 145.8 L991.0 144.9 L990.5 146.2 L990.0 146.1 L989.5 145.5 L989.0 144.9 L988.5 145.9 L988.0 144.7 L987.5 145.2 L987.0 145.8 L986.5 144.1 L986.0 145.3 L985.5 144.9 L985.0 144.9 L984.5 144.5 L984.0 143.7 L983.5 144.0 L983.0 144.3 L982.5 143.8 L982.0 145.3 L981.5 145.0 L981.0 144.2 L980.5 144.3 L980.0 144.4 L979.5 145.3 L979.0 144.6 L978.5 145.9 L978.0 144.6 L977.5 144.7 L977.0 144.7 L976.5 144.4 L976.0 145.2 L975.5 145.8 L975.0 144.5 L974.5 145.6 L974.0 144.6 L973.5 143.6 L973.0 145.2 L972.5 144.5 L972.0 144.9 L971.5 143.4 L971.0 143.5 L970.5 144.7 L970.0 144.8 L969.5 143.7 L969.0 143.7 L968.5 144.5 L968.0 144.6 L967.5 144.7 L967.0 143.6 L966.5 143.5 L966.0 145.1 L965.5 143.9 L965.0 143.6 L964.5 144.0 L964.0 143.6 L963.5 143.9 L963.0 143.6 L962.5 145.2 L962.0 143.5 L961.5 143.8 L961.0 144.5 L960.5 144.1 L960.0 143.7 L959.5 144.9 L959.0 143.6 L958.5 143.5 L958.0 143.6 L957.5 143.4 L957.0 143.9 L956.5 143.3 L956.0 144.7 L955.5 143.4 L955.0 143.4 L954.5 144.0 L954.0 144.8 L953.5 143.6 L953.0 143.8 L952.5 143.6 L952.0 143.6 L951.5 144.2 L951.0 144.6 L950.5 144.0 L950.0 145.4 L949.5 145.0 L949.0 145.4 L948.5 144.7 L948.0 144.5 L947.5 144.6 L947.0 144.8 L946.5 145.3 L946.0 144.2 L945.5 144.8 L945.0 144.2 L944.5 144.2 L944.0 143.3 L943.5 144.7 L943.0 143.0 L942.5 143.7 L942.0 143.7 L941.5 143.1 L941.0 144.1 L940.5 144.2 L940.0 143.1 L939.5 143.7 L939.0 144.4 L938.5 143.0 L938.0 143.0 L937.5 143.4 L937.0 144.0 L936.5 143.1 L936.0 144.0 L935.5 144.5 L935.0 144.1 L934.5 143.7 L934.0 143.4 L933.5 144.4 L933.0 143.9 L932.5 143.2 L932.0 143.5 L931.5 143.4 L931.0 144.4 L930.5 144.1 L930.0 144.3 L929.5 143.4 L929.0 142.8 L928.5 143.2 L928.0 144.7 L927.5 143.2 L927.0 143.5 L926.5 143.6 L926.0 144.1 L925.5 144.3 L925.0 144.4 L924.5 144.4 L924.0 145.0 L923.5 144.1 L923.0 143.9 L922.5 145.0 L922.0 143.9 L921.5 144.0 L921.0 143.9 L920.5 144.0 L920.0 144.6 L919.5 143.6 L919.0 143.2 L918.5 143.5 L918.0 143.3 L917.5 144.0 L917.0 143.1 L916.5 144.1 L916.0 143.2 L915.5 142.9 L915.0 143.3 L914.5 143.2 L914.0 144.1 L913.5 142.6 L913.0 143.5 L912.5 143.2 L912.0 142.5 L911.5 142.6 L911.0 142.8 L910.5 142.7 L910.0 142.8 L909.5 143.0 L909.0 143.4 L908.5 143.3 L908.0 143.7 L907.5 143.7 L907.0 143.9 L906.5 144.8 L906.0 143.8 L905.5 143.8 L905.0 143.9 L904.5 144.2 L904.0 144.3 L903.5 143.8 L903.0 143.8 L902.5 143.9 L902.0 143.9 L901.5 144.1 L901.0 144.7 L900.5 144.0 L900.0 144.5 L899.5 144.0 L899.0 145.4 L898.5 145.3 L898.0 144.0 L897.5 145.6 L897.0 145.6 L896.5 144.6 L896.0 144.6 L895.5 144.2 L895.0 144.1 L894.5 144.2 L894.0 144.3 L893.5 145.3 L893.0 144.3 L892.5 145.0 L892.0 144.4 L891.5 144.7 L891.0 143.6 L890.5 143.3 L890.0 144.0 L889.5 142.9 L889.0 143.4 L888.5 144.4 L888.0 143.1 L887.5 144.1 L887.0 142.7 L886.5 142.9 L886.0 143.0 L885.5 144.0 L885.0 142.9 L884.5 143.2 L884.0 144.7 L883.5 143.1 L883.0 143.4 L882.5 143.1 L882.0 143.3 L881.5 144.8 L881.0 144.2 L880.5 143.9 L880.0 144.4 L879.5 144.6 L879.0 143.3 L878.5 143.3 L878.0 144.0 L877.5 144.8 L877.0 144.9 L876.5 144.3 L876.0 143.5 L875.5 144.7 L875.0 143.6 L874.5 143.7 L874.0 144.0 L873.5 143.7 L873.0 143.5 L872.5 143.5 L872.0 144.1 L871.5 144.4 L871.0 145.0 L870.5 144.1 L870.0 143.5 L869.5 143.6 L869.0 144.8 L868.5 143.8 L868.0 143.3 L867.5 143.4 L867.0 144.9 L866.5 144.3 L866.0 143.2 L865.5 142.9 L865.0 143.0 L864.5 144.4 L864.0 144.3 L863.5 144.1 L863.0 142.9 L862.5 143.8 L862.0 143.4 L861.5 143.6 L861.0 144.3 L860.5 143.5 L860.0 145.0 L859.5 144.5 L859.0 145.4 L858.5 145.2 L858.0 144.5 L857.5 144.6 L857.0 144.4 L856.5 144.2 L856.0 143.9 L855.5 144.1 L855.0 144.5 L854.5 144.1 L854.0 144.3 L853.5 143.7 L853.0 143.6 L852.5 143.4 L852.0 143.0 L851.5 143.3 L851.0 143.0 L850.5 144.7 L850.0 143.7 L849.5 144.3 L849.0 143.1 L848.5 143.2 L848.0 143.2 L847.5 143.3 L847.0 143.6 L846.5 143.7 L846.0 143.4 L845.5 143.5 L845.0 143.1 L844.5 143.4 L844.0 143.1 L843.5 144.7 L843.0 143.4 L842.5 143.2 L842.0 142.9 L841.5 142.9 L841.0 142.9 L840.5 143.4 L840.0 144.1 L839.5 143.1 L839.0 143.7 L838.5 144.4 L838.0 142.6 L837.5 144.1 L837.0 142.7 L836.5 143.0 L836.0 142.8 L835.5 143.5 L835.0 142.5 L834.5 142.3 L834.0 142.6 L833.5 143.4 L833.0 142.4 L832.5 143.2 L832.0 142.9 L831.5 142.8 L831.0 143.3 L830.5 142.4 L830.0 143.9 L829.5 143.0 L829.0 142.6 L828.5 143.1 L828.0 143.9 L827.5 142.5 L827.0 142.8 L826.5 142.6 L826.0 144.3 L825.5 143.1 L825.0 143.1 L824.5 143.6 L824.0 143.2 L823.5 143.5 L823.0 143.8 L822.5 144.3 L822.0 143.6 L821.5 144.2 L821.0 144.5 L820.5 143.3 L820.0 143.3 L819.5 143.2 L819.0 143.2 L818.5 143.7 L818.0 143.9 L817.5 143.0 L817.0 144.2 L816.5 143.1 L816.0 143.1 L815.5 143.2 L815.0 144.6 L814.5 142.9 L814.0 143.0 L813.5 142.9 L813.0 144.1 L812.5 143.2 L812.0 143.7 L811.5 144.2 L811.0 144.2 L810.5 143.2 L810.0 143.7 L809.5 143.3 L809.0 143.1 L808.5 143.6 L808.0 143.9 L807.5 143.0 L807.0 144.6 L806.5 143.8 L806.0 142.8 L805.5 144.0 L805.0 142.8 L804.5 143.5 L804.0 143.2 L803.5 142.6 L803.0 143.2 L802.5 143.8 L802.0 142.7 L801.5 142.7 L801.0 143.5 L800.5 143.3 L800.0 142.9 L799.5 143.0 L799.0 142.9 L798.5 143.3 L798.0 143.5 L797.5 142.9 L797.0 143.8 L796.5 143.1 L796.0 142.9 L795.5 142.9 L795.0 143.0 L794.5 143.1 L794.0 143.0 L793.5 144.1 L793.0 144.6 L792.5 144.2 L792.0 143.1 L791.5 143.1 L791.0 143.1 L790.5 142.9 L790.0 144.2 L789.5 143.5 L789.0 143.1 L788.5 142.3 L788.0 142.4 L787.5 142.8 L787.0 143.7 L786.5 143.0 L786.0 141.9 L785.5 142.6 L785.0 142.1 L784.5 143.6 L784.0 142.9 L783.5 142.0 L783.0 141.7 L782.5 141.9 L782.0 143.3 L781.5 141.9 L781.0 142.5 L780.5 143.4 L780.0 141.8 L779.5 141.8 L779.0 143.0 L778.5 142.5 L778.0 142.4 L777.5 143.3 L777.0 142.6 L776.5 142.4 L776.0 142.9 L775.5 143.0 L775.0 142.9 L774.5 142.8 L774.0 143.3 L773.5 142.9 L773.0 142.7 L772.5 143.2 L772.0 144.0 L771.5 142.8 L771.0 143.0 L770.5 143.3 L770.0 143.3 L769.5 142.3 L769.0 141.8 L768.5 143.1 L768.0 142.2 L767.5 142.8 L767.0 143.1 L766.5 141.9 L766.0 142.4 L765.5 142.1 L765.0 142.3 L764.5 143.7 L764.0 142.5 L763.5 143.7 L763.0 143.1 L762.5 144.4 L762.0 143.3 L761.5 142.7 L761.0 142.7 L760.5 142.7 L760.0 144.1 L759.5 143.2 L759.0 143.6 L758.5 143.6 L758.0 143.1 L757.5 143.0 L757.0 143.1 L756.5 142.7 L756.0 144.2 L755.5 143.1 L755.0 143.4 L754.5 143.5 L754.0 143.8 L753.5 143.8 L753.0 142.6 L752.5 143.5 L752.0 142.5 L751.5 143.4 L751.0 142.7 L750.5 143.4 L750.0 143.9 L749.5 143.4 L749.0 143.6 L748.5 143.7 L748.0 143.0 L747.5 143.1 L747.0 141.8 L746.5 142.0 L746.0 142.8 L745.5 142.8 L745.0 141.9 L744.5 142.3 L744.0 142.2 L743.5 141.7 L743.0 142.3 L742.5 141.5 L742.0 142.2 L741.5 142.2 L741.0 142.9 L740.5 142.0 L740.0 142.2 L739.5 142.2 L739.0 142.5 L738.5 142.6 L738.0 142.7 L737.5 143.5 L737.0 143.8 L736.5 142.9 L736.0 143.6 L735.5 143.2 L735.0 142.4 L734.5 142.5 L734.0 143.4 L733.5 142.7 L733.0 142.9 L732.5 143.3 L732.0 142.7 L731.5 143.7 L731.0 142.7 L730.5 142.3 L730.0 142.9 L729.5 143.1 L729.0 141.8 L728.5 141.8 L728.0 141.5 L727.5 141.3 L727.0 142.0 L726.5 141.4 L726.0 142.8 L725.5 141.6 L725.0 141.4 L724.5 141.7 L724.0 141.7 L723.5 141.8 L723.0 141.8 L722.5 143.6 L722.0 143.5 L721.5 143.1 L721.0 142.8 L720.5 143.4 L720.0 142.5 L719.5 143.5 L719.0 142.4 L718.5 143.8 L718.0 143.5 L717.5 142.1 L717.0 142.3 L716.5 141.9 L716.0 141.7 L715.5 142.3 L715.0 141.8 L714.5 142.2 L714.0 141.3 L713.5 142.2 L713.0 141.2 L712.5 141.2 L712.0 141.4 L711.5 142.4 L711.0 141.3 L710.5 141.5 L710.0 141.1 L709.5 141.1 L709.0 141.4 L708.5 140.8 L708.0 141.2 L707.5 141.7 L707.0 140.8 L706.5 140.9 L706.0 141.9 L705.5 142.5 L705.0 140.9 L704.5 141.9 L704.0 140.7 L703.5 141.1 L703.0 142.5 L702.5 142.2 L702.0 140.7 L701.5 140.7 L701.0 140.8 L700.5 140.6 L700.0 141.5 L699.5 141.4 L699.0 140.9 L698.5 141.6 L698.0 140.5 L697.5 141.0 L697.0 140.6 L696.5 141.0 L696.0 140.5 L695.5 140.8 L695.0 141.7 L694.5 140.6 L694.0 141.0 L693.5 140.9 L693.0 141.1 L692.5 142.7 L692.0 141.9 L691.5 141.7 L691.0 142.8 L690.5 141.2 L690.0 141.7 L689.5 141.2 L689.0 141.3 L688.5 141.2 L688.0 141.4 L687.5 142.7 L687.0 141.2 L686.5 141.3 L686.0 141.5 L685.5 141.8 L685.0 141.1 L684.5 141.7 L684.0 141.5 L683.5 141.2 L683.0 141.2 L682.5 142.7 L682.0 142.8 L681.5 141.4 L681.0 142.3 L680.5 143.4 L680.0 141.8 L679.5 142.8 L679.0 143.3 L678.5 142.8 L678.0 142.0 L677.5 143.1 L677.0 143.6 L676.5 142.1 L676.0 142.2 L675.5 142.7 L675.0 142.5 L674.5 142.4 L674.0 142.3 L673.5 142.4 L673.0 142.3 L672.5 143.6 L672.0 142.9 L671.5 142.3 L671.0 143.3 L670.5 142.7 L670.0 142.2 L669.5 142.3 L669.0 142.4 L668.5 142.8 L668.0 143.7 L667.5 143.6 L667.0 141.9 L666.5 142.8 L666.0 143.5 L665.5 141.9 L665.0 142.0 L664.5 141.9 L664.0 143.0 L663.5 142.1 L663.0 142.0 L662.5 141.6 L662.0 141.4 L661.5 141.4 L661.0 142.0 L660.5 141.7 L660.0 142.4 L659.5 141.2 L659.0 141.3 L658.5 141.2 L658.0 142.7 L657.5 141.1 L657.0 142.7 L656.5 141.7 L656.0 141.0 L655.5 141.0 L655.0 142.2 L654.5 142.3 L654.0 141.2 L653.5 140.9 L653.0 142.0 L652.5 141.2 L652.0 142.1 L651.5 141.4 L651.0 141.6 L650.5 142.2 L650.0 142.1 L649.5 143.2 L649.0 142.2 L648.5 143.7 L648.0 142.4 L647.5 142.3 L647.0 143.1 L646.5 142.5 L646.0 142.1 L645.5 142.3 L645.0 143.1 L644.5 141.6 L644.0 141.7 L643.5 143.0 L643.0 141.8 L642.5 141.1 L642.0 142.0 L641.5 142.8 L641.0 142.8 L640.5 141.4 L640.0 142.0 L639.5 142.5 L639.0 142.2 L638.5 141.1 L638.0 141.2 L637.5 141.3 L637.0 141.4 L636.5 142.1 L636.0 141.2 L635.5 142.0 L635.0 141.9 L634.5 141.4 L634.0 143.1 L633.5 141.7 L633.0 142.8 L632.5 142.3 L632.0 142.0 L631.5 142.4 L631.0 142.6 L630.5 142.3 L630.0 142.1 L629.5 142.6 L629.0 142.7 L628.5 142.8 L628.0 141.8 L627.5 142.5 L627.0 141.5 L626.5 141.6 L626.0 141.7 L625.5 141.2 L625.0 141.7 L624.5 142.4 L624.0 141.5 L623.5 141.1 L623.0 141.6 L622.5 141.4 L622.0 141.2 L621.5 141.9 L621.0 141.6 L620.5 142.9 L620.0 141.9 L619.5 141.7 L619.0 142.7 L618.5 141.5 L618.0 141.6 L617.5 143.0 L617.0 142.0 L616.5 141.3 L616.0 141.2 L615.5 141.4 L615.0 141.2 L614.5 141.8 L614.0 141.1 L613.5 141.1 L613.0 141.4 L612.5 142.2 L612.0 141.1 L611.5 141.1 L611.0 141.5 L610.5 141.6 L610.0 141.4 L609.5 142.1 L609.0 142.6 L608.5 142.8 L608.0 143.5 L607.5 143.1 L607.0 142.0 L606.5 142.1 L606.0 142.4 L605.5 142.2 L605.0 142.0 L604.5 143.1 L604.0 142.1 L603.5 142.2 L603.0 142.1 L602.5 143.5 L602.0 143.3 L601.5 142.4 L601.0 142.7 L600.5 143.2 L600.0 142.3Z" fill="#632523"/><path d="M600.0 139.3 L601.0 139.3 L602.0 139.3 L603.0 139.3 L604.0 139.2 L605.0 139.2 L606.0 139.2 L607.0 139.1 L608.0 139.0 L609.0 138.7 L610.0 138.5 L611.0 138.3 L612.0 138.3 L613.0 138.3 L614.0 138.3 L615.0 138.4 L616.0 138.4 L617.0 138.5 L618.0 138.5 L619.0 138.4 L620.0 138.3 L621.0 138.2 L622.0 138.1 L623.0 138.1 L624.0 138.0 L625.0 138.1 L626.0 138.4 L627.0 138.7 L628.0 139.0 L629.0 139.3 L630.0 139.4 L631.0 139.3 L632.0 139.1 L633.0 138.9 L634.0 138.6 L635.0 138.5 L636.0 138.4 L637.0 138.4 L638.0 138.4 L639.0 138.3 L640.0 138.3 L641.0 138.3 L642.0 138.3 L643.0 138.4 L644.0 138.6 L645.0 138.9 L646.0 139.2 L647.0 139.4 L648.0 139.5 L649.0 139.4 L650.0 139.1 L651.0 138.8 L652.0 138.4 L653.0 138.2 L654.0 138.1 L655.0 138.1 L656.0 138.2 L657.0 138.2 L658.0 138.3 L659.0 138.4 L660.0 138.4 L661.0 138.5 L662.0 138.6 L663.0 138.8 L664.0 138.9 L665.0 139.1 L666.0 139.1 L667.0 139.1 L668.0 139.2 L669.0 139.3 L670.0 139.4 L671.0 139.4 L672.0 139.5 L673.0 139.4 L674.0 139.4 L675.0 139.3 L676.0 139.3 L677.0 139.2 L678.0 139.2 L679.0 139.2 L680.0 139.0 L681.0 138.8 L682.0 138.5 L683.0 138.3 L684.0 138.3 L685.0 138.3 L686.0 138.3 L687.0 138.3 L688.0 138.4 L689.0 138.4 L690.0 138.4 L691.0 138.4 L692.0 138.2 L693.0 138.0 L694.0 137.9 L695.0 137.7 L696.0 137.7 L697.0 137.7 L698.0 137.7 L699.0 137.8 L700.0 137.8 L701.0 137.9 L702.0 137.9 L703.0 137.9 L704.0 137.9 L705.0 137.9 L706.0 138.0 L707.0 138.0 L708.0 138.0 L709.0 138.0 L710.0 138.1 L711.0 138.2 L712.0 138.3 L713.0 138.4 L714.0 138.5 L715.0 138.6 L716.0 138.8 L717.0 139.1 L718.0 139.4 L719.0 139.6 L720.0 139.7 L721.0 139.6 L722.0 139.3 L723.0 139.0 L724.0 138.6 L725.0 138.4 L726.0 138.3 L727.0 138.4 L728.0 138.6 L729.0 139.0 L730.0 139.3 L731.0 139.6 L732.0 139.7 L733.0 139.7 L734.0 139.7 L735.0 139.6 L736.0 139.6 L737.0 139.6 L738.0 139.6 L739.0 139.5 L740.0 139.3 L741.0 139.1 L742.0 138.8 L743.0 138.6 L744.0 138.6 L745.0 138.7 L746.0 138.8 L747.0 139.0 L748.0 139.2 L749.0 139.4 L750.0 139.5 L751.0 139.5 L752.0 139.6 L753.0 139.7 L754.0 139.8 L755.0 139.8 L756.0 139.9 L757.0 139.9 L758.0 139.9 L759.0 139.9 L760.0 139.9 L761.0 139.9 L762.0 139.9 L763.0 139.8 L764.0 139.6 L765.0 139.4 L766.0 139.1 L767.0 138.9 L768.0 138.9 L769.0 139.0 L770.0 139.2 L771.0 139.4 L772.0 139.7 L773.0 139.9 L774.0 140.0 L775.0 139.9 L776.0 139.7 L777.0 139.4 L778.0 139.2 L779.0 138.9 L780.0 138.9 L781.0 138.9 L782.0 138.9 L783.0 138.9 L784.0 139.0 L785.0 139.0 L786.0 139.0 L787.0 139.1 L788.0 139.4 L789.0 139.7 L790.0 140.0 L791.0 140.2 L792.0 140.3 L793.0 140.3 L794.0 140.2 L795.0 140.2 L796.0 140.1 L797.0 140.0 L798.0 140.0 L799.0 140.0 L800.0 140.0 L801.0 139.9 L802.0 139.9 L803.0 139.8 L804.0 139.8 L805.0 139.9 L806.0 140.0 L807.0 140.1 L808.0 140.2 L809.0 140.3 L810.0 140.3 L811.0 140.3 L812.0 140.3 L813.0 140.2 L814.0 140.1 L815.0 140.0 L816.0 140.0 L817.0 140.1 L818.0 140.2 L819.0 140.3 L820.0 140.4 L821.0 140.5 L822.0 140.6 L823.0 140.5 L824.0 140.3 L825.0 140.1 L826.0 139.9 L827.0 139.7 L828.0 139.6 L829.0 139.6 L830.0 139.6 L831.0 139.5 L832.0 139.5 L833.0 139.4 L834.0 139.4 L835.0 139.5 L836.0 139.6 L837.0 139.7 L838.0 139.8 L839.0 139.9 L840.0 140.0 L841.0 140.0 L842.0 140.1 L843.0 140.2 L844.0 140.3 L845.0 140.3 L846.0 140.4 L847.0 140.4 L848.0 140.3 L849.0 140.3 L850.0 140.3 L851.0 140.2 L852.0 140.2 L853.0 140.3 L854.0 140.5 L855.0 140.8 L856.0 141.0 L857.0 141.2 L858.0 141.2 L859.0 141.1 L860.0 140.9 L861.0 140.6 L862.0 140.3 L863.0 140.1 L864.0 140.0 L865.0 140.0 L866.0 140.1 L867.0 140.3 L868.0 140.5 L869.0 140.6 L870.0 140.7 L871.0 140.7 L872.0 140.7 L873.0 140.6 L874.0 140.6 L875.0 140.6 L876.0 140.6 L877.0 140.6 L878.0 140.5 L879.0 140.5 L880.0 140.4 L881.0 140.3 L882.0 140.3 L883.0 140.3 L884.0 140.2 L885.0 140.1 L886.0 140.0 L887.0 139.9 L888.0 139.8 L889.0 139.9 L890.0 140.2 L891.0 140.6 L892.0 140.9 L893.0 141.2 L894.0 141.3 L895.0 141.3 L896.0 141.3 L897.0 141.2 L898.0 141.1 L899.0 141.1 L900.0 141.1 L901.0 141.1 L902.0 141.1 L903.0 141.0 L904.0 141.0 L905.0 141.0 L906.0 141.0 L907.0 140.9 L908.0 140.6 L909.0 140.3 L910.0 140.0 L911.0 139.7 L912.0 139.6 L913.0 139.7 L914.0 139.8 L915.0 140.0 L916.0 140.2 L917.0 140.3 L918.0 140.3 L919.0 140.4 L920.0 140.5 L921.0 140.7 L922.0 140.9 L923.0 141.0 L924.0 141.1 L925.0 141.0 L926.0 140.8 L927.0 140.5 L928.0 140.2 L929.0 139.9 L930.0 139.8 L931.0 139.9 L932.0 140.0 L933.0 140.0 L934.0 140.1 L935.0 140.2 L936.0 140.2 L937.0 140.2 L938.0 140.2 L939.0 140.1 L940.0 140.1 L941.0 140.0 L942.0 140.0 L943.0 140.1 L944.0 140.5 L945.0 140.9 L946.0 141.3 L947.0 141.6 L948.0 141.7 L949.0 141.6 L950.0 141.4 L951.0 141.0 L952.0 140.7 L953.0 140.4 L954.0 140.4 L955.0 140.4 L956.0 140.5 L957.0 140.6 L958.0 140.6 L959.0 140.7 L960.0 140.8 L961.0 140.8 L962.0 140.7 L963.0 140.7 L964.0 140.7 L965.0 140.7 L966.0 140.7 L967.0 140.7 L968.0 140.7 L969.0 140.6 L970.0 140.6 L971.0 140.6 L972.0 140.6 L973.0 140.7 L974.0 140.9 L975.0 141.2 L976.0 141.5 L977.0 141.7 L978.0 141.8 L979.0 141.7 L980.0 141.6 L981.0 141.3 L982.0 141.1 L983.0 140.9 L984.0 140.9 L985.0 141.0 L986.0 141.2 L987.0 141.5 L988.0 141.8 L989.0 142.0 L990.0 142.1 L991.0 142.1 L992.0 141.9 L993.0 141.7 L994.0 141.5 L995.0 141.3 L996.0 141.3 L997.0 141.3 L998.0 141.6 L999.0 141.8" stroke="#632523" stroke-width="3.47" fill="none" stroke-linejoin="round" stroke-linecap="butt"/></g>
<g clip-path="url(#cpc)"><path d="M88.0 586.1 L89.0 576.8 L89.9 568.3 L90.9 559.2 L91.8 550.4 L92.8 540.7 L93.7 533.1 L94.7 523.9 L95.6 516.0 L96.4 506.8 L97.3 498.2 L98.2 489.1 L99.0 480.9 L99.9 471.8 L100.9 451.1 L101.9 448.5 L102.8 447.6 L103.8 446.3 L104.7 447.3 L105.7 447.5 L106.6 448.3 L107.5 447.6 L108.4 447.6 L109.4 447.2 L110.3 448.2 L111.2 445.1 L112.1 442.7 L113.0 439.5 L113.9 436.8 L114.9 437.8 L115.8 440.3 L116.8 442.8 L117.7 445.5 L118.6 447.6 L119.6 449.8 L120.5 449.3 L121.4 449.3 L122.2 449.2 L123.1 450.0 L124.0 450.3 L125.0 450.2 L125.9 448.2 L126.8 447.9 L127.8 447.7 L128.8 447.1 L129.7 445.7 L130.7 447.0 L131.6 447.4 L132.6 448.2 L133.6 448.2 L134.5 449.4 L135.5 450.4 L136.5 451.3 L137.4 450.5 L138.4 451.4 L139.4 451.8 L140.3 452.1 L141.3 451.8 L142.2 453.2 L143.2 453.3 L144.2 454.3 L145.1 455.3 L146.1 456.7 L147.0 456.4 L147.9 455.6 L148.8 453.2 L149.6 452.6 L150.5 450.8 L151.4 450.6 L152.4 449.8 L153.3 449.4 L154.3 448.4 L155.3 448.5 L156.2 446.7 L157.2 446.3 L158.1 447.3 L159.1 448.0 L160.1 447.8 L161.0 448.8 L161.9 448.9 L162.9 450.2 L163.9 449.9 L164.8 450.3 L165.8 450.1 L166.8 450.6 L167.7 450.0 L168.7 451.3 L169.7 451.4 L170.6 451.0 L171.6 450.6 L172.2 450.6 L173.2 452.5 L174.2 454.3 L175.2 456.1 L176.2 459.1 L177.2 460.5 L178.1 461.1 L179.0 461.1 L179.9 461.7 L180.8 461.6 L181.7 462.2 L182.6 461.9 L183.5 461.9 L184.4 461.3 L185.3 461.8 L186.2 461.2 L187.0 461.4 L187.9 460.9 L188.8 460.9 L189.7 463.2 L190.7 466.2 L191.6 468.1 L192.5 469.7 L193.4 470.2 L194.4 471.9 L195.3 472.4 L196.2 474.3 L197.1 474.7 L198.0 475.0 L198.9 475.4 L199.6 477.7 L200.3 479.5 L201.0 482.4 L201.9 481.9 L202.8 482.0 L203.6 481.4 L204.5 482.2 L205.4 481.1 L206.3 485.2 L207.3 490.0 L208.2 495.6 L209.2 500.7 L210.1 507.1 L211.1 512.9 L212.0 514.1 L212.9 514.7 L213.7 516.2 L214.6 517.1 L215.5 519.0 L216.4 522.3 L217.4 526.3 L218.3 529.5 L219.2 535.1 L220.2 540.5 L221.2 540.7 L222.1 540.1 L223.1 539.5 L224.0 537.7 L225.0 537.9 L225.9 537.0 L226.9 536.7 L227.8 536.2 L228.8 536.8 L229.7 538.7 L230.5 541.3 L231.4 542.4 L232.3 544.7 L233.1 545.7 L234.0 548.2 L235.0 548.7 L235.9 549.7 L236.9 549.6 L237.9 550.3 L238.8 550.1 L239.8 550.3 L240.8 550.5 L241.7 551.8 L242.7 550.9 L243.6 551.9 L244.6 552.2 L245.5 553.0 L246.4 552.9 L247.4 554.2 L248.3 554.4 L249.3 554.1 L250.2 554.3 L251.1 556.0 L252.1 555.6 L253.0 556.5 L253.9 556.1 L254.9 556.2 L255.8 555.4 L256.8 555.8 L257.7 555.0 L258.7 554.9 L259.6 554.3 L260.6 555.0 L261.5 554.5 L262.5 555.0 L263.4 553.9 L264.2 552.9 L265.0 551.7 L265.8 551.0 L266.7 550.1 L267.6 550.5 L268.5 550.1 L269.4 550.9 L270.3 550.9 L271.2 551.7 L272.1 551.2 L273.0 552.0 L274.0 555.3 L274.9 559.4 L275.9 562.5 L276.8 564.4 L277.6 567.1 L278.5 570.6 L279.3 572.5 L280.2 575.5 L281.2 575.1 L282.1 576.2 L283.1 576.1 L284.0 576.7 L285.0 575.7 L285.9 574.8 L286.8 573.6 L287.7 574.2 L288.7 573.4 L289.6 573.3 L290.5 574.5 L291.4 576.7 L292.3 578.4 L293.2 580.9 L294.1 579.1 L295.0 578.5 L295.9 577.1 L296.8 577.1 L297.7 578.9 L298.7 579.9 L299.6 580.7 L300.5 582.0 L301.4 583.3 L302.4 585.3 L303.3 586.7 L304.3 587.3 L305.2 586.1 L306.2 587.0 L307.2 587.4 L308.1 587.2 L309.1 586.1 L310.0 587.1 L310.8 586.2 L311.7 585.6 L312.5 585.1 L313.4 585.6 L314.4 585.9 L315.3 586.8 L316.3 588.3 L317.3 590.2 L318.2 590.5 L319.2 593.0 L320.1 593.1 L321.0 593.3 L322.0 592.7 L322.9 593.3 L323.8 592.7 L324.7 592.6 L325.6 592.3 L326.5 593.1 L327.5 593.0 L328.4 593.3 L329.3 592.2 L330.3 593.3 L331.2 594.0 L332.2 595.4 L333.1 595.5 L334.1 595.8 L335.0 596.2 L336.0 597.2 L336.9 597.8 L337.9 598.9 L338.9 598.8 L339.8 599.2 L340.8 598.4 L341.8 599.3 L342.7 599.5 L343.7 600.7 L344.7 601.0 L345.6 601.7 L346.6 601.7 L347.6 602.2 L348.5 601.6 L349.5 603.2 L350.5 603.5 L351.4 603.3 L352.4 602.7 L353.3 603.8 L354.3 603.2 L355.3 603.8 L356.2 603.4 L357.2 604.2 L358.1 604.5 L359.1 605.1 L360.1 604.7 L361.0 605.7 L362.0 605.6 L362.9 605.9 L363.9 605.7 L364.9 606.6 L365.8 605.8 L366.8 606.6 L367.8 606.5 L368.8 606.8 L369.7 605.7 L370.7 606.5 L371.7 606.3 L372.6 606.5 L373.6 606.6 L374.6 607.3 L375.5 607.9 L376.5 608.4 L377.5 607.4 L378.5 607.7 L379.4 607.4 L380.4 607.7 L381.4 607.9 L382.4 609.1 L383.4 608.0 L384.4 608.1 L385.4 607.9 L386.4 608.9 L387.3 608.9 L388.3 608.2 L389.3 607.7 L390.3 608.6 L391.3 608.3 L392.3 608.9 L393.3 609.0 L394.3 609.3 L395.3 608.7 L396.3 609.0 L397.3 608.8 L398.3 609.3 L399.2 609.1 L400.2 609.6 L401.2 608.9 L402.2 609.5 L403.2 608.6 L404.2 609.4 L405.2 608.8 L406.2 609.9 L407.2 609.0 L408.2 609.1 L409.2 608.8 L410.2 609.6 L411.2 609.7 L412.1 610.1 L413.1 609.8 L414.1 610.4 L415.1 609.6 L416.1 609.8 L417.1 609.5 L418.1 610.0 L419.1 609.3 L420.1 609.5 L421.1 609.3 L422.1 610.7 L423.1 610.2 L424.0 610.2 L425.0 610.3 L426.0 611.2 L427.0 610.5 L428.0 611.2 L429.0 610.9 L430.0 610.9 L431.0 610.4 L432.0 611.0 L433.0 610.1 L434.0 610.5 L434.9 610.5 L435.9 610.9 L436.9 610.7 L437.9 611.4 L438.9 611.1 L439.9 611.3 L440.9 610.7 L441.9 611.0 L442.9 610.8 L443.8 611.5 L444.8 611.0 L445.8 611.4 L446.8 610.9 L447.8 612.0 L448.8 611.4 L449.8 611.4 L450.8 611.5 L451.8 612.2 L452.7 611.9 L453.7 611.7 L454.7 611.0 L455.7 611.9 L456.7 611.2 L457.7 611.2 L458.7 610.9 L459.7 611.3 L460.6 611.2 L461.6 611.7 L462.6 611.2 L463.6 612.1 L464.6 611.2 L465.6 611.2 L466.6 611.6 L467.6 612.4 L468.6 611.1 L469.5 612.0 L470.5 612.0 L471.5 611.7 L472.5 611.4 L473.5 612.4 L474.5 611.9 L475.5 612.5 L476.5 611.6 L477.5 611.8 L478.4 611.2 L479.4 612.3 L480.4 612.1 L481.4 612.3 L482.4 612.2 L483.4 612.5 L484.4 611.8 L485.4 612.4 L486.4 612.5 L487.3 613.4 L488.3 613.2 L489.3 613.7 L490.3 613.0 L491.3 613.4" stroke="#558ED5" stroke-width="2.2" fill="none" stroke-linejoin="round"/><path d="M88.2 533.8 L89.1 521.6 L89.9 510.8 L90.8 498.2 L91.8 487.4 L92.8 475.4 L93.7 464.6 L94.7 452.5 L95.1 449.7 L96.1 445.3 L97.0 441.4 L98.0 436.6 L98.7 437.2 L99.5 436.4 L100.2 436.5 L100.9 434.4 L101.6 433.4 L102.3 431.8 L103.3 435.9 L104.2 438.1 L105.2 441.8 L106.1 443.4 L107.0 446.6 L107.9 448.3 L108.8 451.3 L109.5 453.0 L110.3 456.0 L111.0 457.5 L111.9 456.4 L112.7 455.4 L113.6 455.6 L114.4 454.4 L115.3 454.1 L116.2 453.0 L117.0 452.7 L117.9 452.3 L118.7 452.5 L119.6 451.6 L120.6 452.0 L121.5 451.8 L122.5 452.1 L123.5 451.4 L124.4 452.2 L125.4 451.2 L126.3 453.5 L127.1 454.4 L128.0 457.5 L128.8 458.9 L129.7 461.3 L130.7 460.4 L131.6 460.1 L132.6 459.2 L133.6 458.8 L134.5 457.2 L135.5 457.6 L136.4 458.8 L137.2 461.0 L138.1 461.6 L138.9 462.8 L139.8 463.2 L140.7 464.4 L141.6 464.0 L142.5 464.5 L143.4 463.9 L144.3 464.5 L145.2 464.8 L146.1 465.6 L147.0 464.8 L148.0 464.1 L148.9 462.1 L149.9 462.0 L150.9 460.1 L151.8 460.1 L152.8 458.6 L153.7 460.3 L154.6 461.9 L155.4 464.4 L156.3 465.9 L157.2 468.7 L158.1 469.3 L159.1 471.1 L160.1 471.6 L161.0 472.9 L161.9 473.4 L162.9 476.0 L163.9 476.6 L164.8 478.1 L165.8 478.7 L166.8 479.8 L167.7 481.2 L168.7 483.1 L169.3 484.6 L170.0 487.3 L171.0 485.4 L171.9 485.8 L172.9 485.7 L173.9 485.4 L174.8 484.2 L175.8 485.5 L176.8 487.2 L177.7 490.5 L178.7 492.2 L179.6 493.9 L180.4 494.6 L181.3 496.5 L182.1 496.8 L183.0 498.9 L184.0 500.2 L184.9 501.5 L185.9 501.9 L186.9 505.7 L187.8 508.2 L188.8 511.2 L189.7 511.9 L190.7 513.7 L191.6 514.1 L192.5 515.4 L193.4 516.2 L194.4 517.7 L195.3 518.2 L196.2 519.9 L197.1 520.2 L198.0 522.9 L198.9 523.6 L199.8 525.1 L200.8 525.9 L201.8 528.5 L202.7 529.4 L203.7 531.1 L204.6 532.2 L205.6 532.9 L206.6 532.5 L207.5 533.7 L208.5 533.7 L209.5 534.6 L210.4 534.3 L211.4 535.5 L212.4 534.5 L213.4 535.7 L214.3 536.7 L215.3 538.1 L216.3 538.4 L217.3 539.7 L218.2 539.9 L219.2 541.2 L220.2 541.8 L221.1 544.2 L221.9 544.5 L222.8 546.5 L223.7 547.2 L224.5 549.5 L225.4 550.5 L226.3 550.1 L227.1 548.5 L228.0 548.3 L228.9 547.4 L229.7 546.9 L230.6 545.5 L231.4 544.6 L232.3 542.3 L233.1 541.9 L234.0 539.9 L234.8 539.9 L235.7 538.0 L236.7 540.0 L237.7 540.9 L238.7 543.1 L239.7 543.8 L240.7 545.5 L241.7 545.8 L242.7 548.1 L243.7 549.0 L244.6 550.5 L245.6 550.8 L246.5 552.6 L247.5 554.2 L248.4 556.5 L249.4 556.8 L250.3 558.7 L251.3 559.9 L252.3 562.6 L253.3 564.2 L254.3 566.9 L255.2 568.8 L256.2 571.8 L257.2 574.2 L258.2 576.9 L259.1 574.9 L259.9 574.8 L260.8 573.7 L261.7 573.7 L262.6 573.0 L263.4 573.2 L264.3 572.4 L265.3 570.7 L266.2 568.7 L267.2 569.1 L268.2 567.3 L269.1 566.4 L270.1 564.3 L271.1 565.0 L272.0 565.2 L273.0 566.8 L274.0 567.2 L274.9 568.1 L275.9 568.3 L276.8 567.9 L277.7 566.8 L278.6 566.9 L279.5 565.1 L280.4 565.0 L281.3 562.9 L282.2 562.2 L283.1 560.5 L284.1 560.0 L285.0 559.0 L286.0 559.1 L286.9 556.0 L287.7 554.5 L288.6 551.2 L289.4 550.1 L290.3 546.9 L291.2 547.8 L292.0 548.5 L292.9 551.0 L293.7 551.7 L294.6 553.8 L295.6 556.0 L296.5 559.2 L297.5 560.9 L298.5 564.1 L299.4 566.5 L300.4 569.7 L301.4 570.2 L302.3 572.5 L303.3 572.7 L304.3 573.9 L305.2 574.4 L306.2 576.1 L307.1 576.3 L307.9 577.4 L308.8 576.9 L309.6 578.1 L310.5 577.9 L311.4 577.1 L312.2 574.6 L313.1 574.0 L313.9 572.8 L314.8 572.2 L315.8 572.0 L316.7 572.3 L317.7 572.0 L318.7 573.1 L319.6 573.1 L320.6 574.0 L321.6 573.1 L322.5 573.0 L323.5 571.8 L324.5 572.8 L325.4 571.9 L326.4 572.2 L327.3 568.1 L328.1 565.1 L329.0 561.8 L329.8 559.7 L330.7 555.7 L331.6 557.6 L332.4 558.5 L333.3 560.7 L334.1 561.7 L335.0 563.6 L336.0 562.4 L336.9 561.6 L337.9 559.8 L338.9 560.7 L339.8 560.5 L340.8 561.4 L341.8 561.5 L342.7 562.8 L343.7 562.1 L344.6 562.8 L345.4 563.3 L346.3 564.4 L347.1 564.1 L348.0 565.1 L348.9 567.0 L349.8 569.4 L350.6 570.9 L351.5 573.1 L352.4 574.3 L353.3 575.3 L354.3 574.6 L355.2 574.8 L356.2 574.1 L357.2 575.1 L358.1 573.8 L359.0 573.6 L360.0 573.4 L360.9 572.7 L361.8 570.8 L362.7 571.6 L363.7 570.7 L364.6 570.9 L365.5 571.5 L366.3 572.9 L367.1 573.6 L368.0 574.9 L368.9 576.1 L369.7 578.7 L370.7 579.1 L371.6 580.5 L372.6 581.7 L373.6 583.1 L374.6 583.4 L375.5 585.7 L376.5 586.2 L377.4 584.6 L378.4 582.0 L379.3 583.4 L380.2 584.0 L381.2 586.0 L382.1 586.5 L383.0 588.1 L383.9 587.9 L384.7 587.9 L385.6 586.8 L386.5 587.3 L387.3 586.2 L388.2 586.6 L389.1 586.5 L389.9 587.7 L390.8 587.3 L391.7 587.3 L392.5 586.5 L393.4 587.6 L394.2 585.3 L395.0 583.5 L395.9 581.3 L396.7 580.3 L397.5 578.3 L398.4 580.9 L399.4 582.0 L400.3 584.0 L401.2 585.7 L402.2 586.8 L403.1 587.4 L404.1 588.7 L405.1 588.9 L406.1 589.5 L407.1 589.3 L408.0 591.4 L409.0 591.2 L409.9 590.8 L410.7 590.0 L411.6 589.7 L412.5 588.5 L413.3 588.1 L414.2 587.1 L415.2 587.6 L416.1 587.4 L417.1 588.6 L418.1 588.5 L419.1 588.5 L420.1 587.7 L421.0 587.9 L422.0 588.1 L423.0 589.2 L424.0 588.7 L425.0 589.0 L426.0 587.9 L427.0 589.5 L428.0 589.3 L429.0 590.3 L430.0 590.1 L431.0 590.6 L431.9 590.3 L432.9 591.5 L433.8 592.1 L434.7 593.5 L435.6 594.2 L436.6 595.1 L437.5 595.4 L438.4 596.6 L439.4 596.2 L440.3 597.2 L441.3 596.6 L442.2 597.1 L443.2 596.9 L444.1 597.7 L445.1 597.2 L446.0 598.1 L447.0 597.8 L447.9 598.4 L448.9 598.0 L449.9 598.7 L450.9 598.4 L451.9 599.0 L452.9 598.9 L453.9 599.4 L454.9 598.8 L455.9 599.8 L456.9 599.3 L457.9 599.9 L458.9 598.7 L459.9 599.3 L460.9 598.8 L461.9 599.7 L462.8 599.6 L463.8 599.5 L464.8 599.0 L465.8 600.0 L466.8 598.9 L467.7 598.7 L468.7 598.4 L469.7 598.7 L470.7 597.5 L471.6 598.5 L472.6 598.3 L473.5 599.3 L474.5 598.9 L475.4 599.3 L476.4 600.3 L477.3 601.8 L478.3 601.0 L479.2 601.7 L480.2 601.4 L481.1 602.9 L482.1 603.0 L483.0 603.6 L483.9 602.8 L484.7 603.6 L485.6 603.1 L486.5 603.5 L487.3 603.5 L488.2 604.5 L489.0 603.8 L489.8 604.4 L490.5 602.8 L491.3 602.6" stroke="#1F497D" stroke-width="2.2" fill="none" stroke-linejoin="round"/><path d="M88.0 586.1 L89.0 568.7 L90.0 552.4 L90.8 528.9 L91.7 516.7 L92.6 504.2 L93.5 492.2 L94.4 479.6 L94.7 471.9 L95.6 463.7 L96.5 456.2 L97.5 453.5 L98.4 451.9 L99.4 448.8 L100.3 448.5 L101.2 447.3 L102.1 447.1 L103.0 445.9 L103.9 444.4 L104.8 442.1 L105.6 440.8 L106.5 438.4 L107.4 436.8 L108.3 435.1 L109.2 434.3 L110.1 432.7 L111.0 432.1 L112.0 425.8 L112.9 420.6 L113.9 414.4 L114.6 412.5 L115.3 410.0 L116.0 408.0 L116.7 409.5 L117.5 411.5 L118.2 412.8 L119.1 410.7 L120.0 408.0 L120.9 406.1 L121.8 403.1 L122.7 407.6 L123.6 411.4 L124.5 415.6 L125.4 418.5 L126.4 420.0 L127.3 420.5 L128.3 421.8 L129.3 423.6 L130.2 426.0 L131.2 427.7 L132.1 428.6 L133.0 428.5 L133.9 429.5 L134.8 429.8 L135.7 429.7 L136.6 429.1 L137.5 429.4 L138.4 428.7 L139.1 430.7 L139.9 431.8 L140.6 433.5 L141.5 432.3 L142.5 431.3 L143.4 429.4 L144.3 431.7 L145.2 433.2 L146.1 435.6 L147.0 437.1 L148.0 441.5 L148.9 445.0 L149.9 449.6 L150.9 447.6 L151.8 446.3 L152.8 444.1 L153.7 445.5 L154.6 445.8 L155.5 447.4 L156.4 447.9 L157.3 450.7 L158.2 452.1 L159.1 454.3 L160.0 455.5 L160.9 457.1 L161.8 458.1 L162.6 460.0 L163.5 460.6 L164.4 462.6 L165.3 463.5 L166.3 465.2 L167.2 466.4 L168.2 468.1 L169.2 468.7 L170.1 470.4 L171.0 473.7 L171.8 477.8 L172.7 480.7 L173.6 484.8 L174.6 488.2 L175.5 492.6 L176.5 495.9 L177.4 496.4 L178.3 496.4 L179.2 497.1 L180.1 497.1 L181.1 502.1 L182.0 506.1 L183.0 511.2 L184.0 517.0 L184.9 523.6 L185.9 529.2 L186.6 538.0 L187.3 545.7 L188.2 548.0 L189.0 550.0 L189.9 553.0 L190.7 554.9 L191.6 557.2 L192.5 552.8 L193.3 549.7 L194.2 545.1 L195.1 541.7 L196.0 545.6 L196.8 550.3 L197.7 553.9 L198.5 558.1 L199.2 561.5 L200.0 565.8 L200.8 569.1 L201.5 564.6 L202.2 559.1 L202.9 554.2 L203.8 564.3 L204.6 575.6 L205.5 581.3 L206.3 587.3 L207.2 592.7 L208.1 591.7 L208.9 589.5 L209.8 588.2 L210.7 586.5 L211.5 585.4 L212.4 583.4 L213.3 588.0 L214.1 591.4 L215.0 595.6 L215.8 599.1 L216.7 603.4 L217.7 603.9 L218.6 605.2 L219.6 605.1 L220.6 606.3 L221.5 606.5 L222.5 607.5 L223.5 608.0 L224.4 609.2 L225.4 609.9 L226.3 610.6 L227.1 609.9 L228.0 610.6 L228.9 610.2 L229.7 610.7 L230.6 610.5 L231.6 611.6 L232.5 611.6 L233.5 612.3 L234.4 612.5 L235.4 613.1 L236.3 613.0 L237.3 613.9 L238.2 613.7 L239.2 614.4 L240.2 613.9 L241.1 614.7 L242.1 614.8 L243.1 615.6 L244.0 615.4 L245.0 616.3 L246.0 616.5 L246.9 617.1 L247.9 616.8 L248.8 617.5 L249.8 616.8 L250.7 617.1 L251.6 616.8 L252.6 617.4 L253.5 617.6 L254.4 618.1 L255.3 617.6 L256.3 618.0 L257.2 617.6 L258.1 618.3 L259.1 618.4 L260.0 619.3 L261.0 618.3 L262.0 618.6 L263.0 617.9 L264.0 618.5 L265.0 618.2 L266.0 618.9 L267.0 618.5 L268.0 619.0 L269.0 618.5 L270.0 618.9 L271.0 618.5 L272.0 619.1 L273.0 618.4 L274.0 618.5 L275.0 617.8 L276.0 618.4 L277.0 618.2 L278.0 618.9 L279.0 618.2 L280.0 618.8 L281.0 618.4 L282.0 618.8 L283.0 618.1 L284.0 618.6 L285.0 617.9 L286.0 618.2 L287.0 618.2 L288.0 618.9 L289.0 618.5 L290.0 618.6 L291.0 618.3 L292.0 618.5 L293.0 618.1 L294.0 618.6 L295.0 618.4 L296.0 619.0 L297.0 618.3 L298.0 618.9 L299.0 618.1 L300.0 618.3 L301.0 617.8 L302.0 618.3 L303.0 617.8 L304.0 618.7 L305.0 618.2 L306.0 618.5 L307.0 618.2 L308.0 618.7 L309.0 618.2 L310.0 618.9 L311.0 618.3 L312.0 618.6 L313.0 618.0 L313.9 618.3 L314.9 617.8 L315.9 618.3 L316.9 618.2 L317.9 618.7 L318.9 618.3 L319.9 618.9 L320.9 618.4 L321.9 618.5 L322.9 618.4 L323.9 618.5 L324.9 618.1 L325.9 618.4 L326.9 618.1 L327.9 618.6 L328.9 618.1 L329.9 618.7 L330.9 618.4 L331.9 619.0 L332.9 618.6 L333.9 619.2 L334.9 618.6 L335.9 619.0 L336.9 618.4 L337.9 618.7 L338.9 618.1 L339.9 618.9 L340.9 618.3 L341.8 618.6 L342.8 618.1 L343.8 618.5 L344.8 618.0 L345.8 618.8 L346.8 618.2 L347.8 618.9 L348.8 618.2 L349.8 618.8 L350.8 618.1 L351.8 619.0 L352.8 618.3 L353.8 618.6 L354.8 618.5 L355.8 619.2 L356.8 618.6 L357.8 619.1 L358.8 618.5 L359.8 618.4 L360.8 618.3 L361.8 619.1 L362.8 618.5 L363.8 618.6 L364.8 618.3 L365.8 618.8 L366.8 618.4 L367.8 618.5 L368.7 618.3 L369.7 619.2 L370.7 618.9 L371.7 619.3 L372.7 618.6 L373.7 618.5 L374.7 618.1 L375.7 618.8 L376.7 618.4 L377.7 619.3 L378.7 618.9 L379.7 618.8 L380.7 618.5 L381.7 619.2 L382.7 618.8 L383.7 619.1 L384.7 619.0 L385.7 619.4 L386.7 618.8 L387.7 619.0 L388.7 618.6 L389.7 619.2 L390.7 618.6 L391.7 618.9 L392.7 618.2 L393.7 618.7 L394.7 618.6 L395.6 619.6 L396.6 618.9 L397.6 619.4 L398.6 618.8 L399.6 619.2 L400.6 618.8 L401.6 619.1 L402.6 618.8 L403.6 619.4 L404.6 619.0 L405.6 619.2 L406.6 618.6 L407.6 619.3 L408.6 619.1 L409.6 619.3 L410.6 618.8 L411.6 618.9 L412.6 618.6 L413.6 618.9 L414.6 618.4 L415.6 618.9 L416.6 618.5 L417.6 619.3 L418.6 618.9 L419.6 619.0 L420.6 618.6 L421.6 619.5 L422.6 619.0 L423.5 619.1 L424.5 618.4 L425.5 619.5 L426.5 618.9 L427.5 619.0 L428.5 618.6 L429.5 619.5 L430.5 618.9 L431.5 619.6 L432.5 619.2 L433.5 619.2 L434.5 618.6 L435.5 619.5 L436.5 619.0 L437.5 619.6 L438.5 619.0 L439.5 619.5 L440.5 618.7 L441.5 619.1 L442.5 618.7 L443.5 619.2 L444.5 618.8 L445.5 619.1 L446.5 618.6 L447.5 619.3 L448.5 618.9 L449.5 619.4 L450.4 618.9 L451.4 619.2 L452.4 618.8 L453.4 619.2 L454.4 618.9 L455.4 619.7 L456.4 619.2 L457.4 619.7 L458.4 619.3 L459.4 619.7 L460.4 618.9 L461.4 619.4 L462.4 619.1 L463.4 619.6 L464.4 619.3 L465.4 619.8 L466.4 619.2 L467.4 619.5 L468.4 619.0 L469.4 619.6 L470.4 619.0 L471.4 619.2 L472.4 618.8 L473.4 619.6 L474.4 619.0 L475.4 619.3 L476.4 618.9 L477.4 619.6 L478.3 619.3 L479.3 620.1 L480.3 619.5 L481.3 620.0 L482.3 619.4 L483.3 619.4 L484.3 619.1 L485.3 619.8 L486.3 619.7 L487.3 619.8 L488.3 619.5 L489.3 619.7 L490.3 618.8 L491.3 619.4" stroke="#00B050" stroke-width="2.2" fill="none" stroke-linejoin="round"/><path d="M88.0 585.7 L88.9 573.3 L89.9 561.9 L90.8 549.4 L91.7 539.2 L92.5 528.3 L93.4 518.2 L94.3 507.1 L95.1 497.5 L96.0 486.6 L96.9 485.3 L97.8 482.4 L98.7 479.6 L99.4 478.4 L100.2 478.4 L100.9 477.3 L101.8 477.8 L102.7 477.0 L103.6 476.8 L104.5 476.2 L105.3 472.8 L106.2 468.7 L107.0 465.9 L107.8 462.2 L108.7 465.0 L109.6 466.4 L110.6 468.9 L111.5 470.6 L112.4 472.9 L113.4 473.7 L114.3 475.4 L115.3 476.4 L116.3 477.8 L117.2 478.8 L118.2 480.6 L119.2 478.5 L120.1 476.9 L121.1 473.4 L122.1 471.5 L123.0 468.5 L124.0 466.4 L124.9 465.2 L125.8 465.2 L126.7 464.3 L127.6 463.8 L128.5 466.4 L129.4 470.4 L130.3 473.2 L131.2 477.5 L132.1 475.4 L133.0 473.9 L133.9 471.9 L134.8 470.9 L135.7 471.9 L136.6 474.5 L137.5 476.6 L138.4 478.6 L139.1 480.6 L139.8 484.3 L140.8 486.0 L141.7 489.3 L142.7 491.2 L143.7 493.3 L144.6 494.6 L145.6 496.9 L146.4 497.4 L147.3 499.4 L148.1 501.8 L149.0 504.6 L149.8 505.4 L150.7 507.5 L151.4 511.7 L152.1 516.6 L152.8 520.4 L153.7 523.9 L154.6 525.5 L155.4 528.5 L156.3 531.4 L157.2 535.2 L158.1 541.1 L159.1 547.1 L160.0 551.6 L160.9 554.3 L161.8 555.8 L162.7 557.9 L163.6 559.4 L164.4 560.4 L165.3 560.7 L166.1 561.8 L167.0 562.2 L167.8 563.7 L168.7 564.3 L169.7 564.3 L170.6 563.1 L171.6 562.7 L172.3 565.1 L173.0 567.8 L173.7 568.9 L174.5 571.6 L175.3 573.8 L176.1 577.1 L177.1 578.6 L178.1 580.8 L179.1 581.2 L180.0 583.8 L181.0 585.3 L182.0 586.6 L183.0 587.9 L184.0 588.9 L185.0 588.1 L186.0 588.2 L187.0 587.6 L188.0 587.9 L189.0 587.0 L190.0 587.4 L191.0 587.0 L192.0 587.7 L193.0 586.6 L194.0 586.7 L195.0 587.2 L196.0 587.2 L196.9 586.7 L197.7 587.7 L198.6 587.6 L199.4 587.9 L200.3 587.6 L201.2 581.2 L202.0 574.4 L202.8 568.4 L203.7 561.5 L204.6 559.4 L205.4 556.3 L206.3 553.8 L207.2 551.4 L208.1 552.4 L208.9 551.3 L209.8 551.3 L210.6 550.2 L211.5 550.3 L212.5 550.0 L213.5 549.2 L214.5 547.4 L215.4 546.8 L216.4 545.8 L217.4 545.4 L218.4 544.7 L219.4 547.3 L220.4 548.2 L221.4 549.9 L222.4 551.3 L223.4 553.3 L224.4 554.3 L225.4 555.4 L226.2 554.9 L227.1 555.8 L228.0 554.6 L228.8 554.3 L229.7 560.6 L230.5 567.5 L231.4 572.1 L232.3 578.4 L233.1 583.7 L234.0 590.5 L234.9 589.6 L235.7 589.1 L236.6 587.5 L237.5 587.2 L238.3 585.8 L239.2 585.5 L240.1 584.0 L240.9 583.3 L241.8 581.7 L242.7 581.3 L243.5 579.9 L244.4 580.0 L245.3 580.9 L246.1 582.5 L247.0 583.4 L247.9 585.3 L248.7 586.5 L249.6 588.6 L250.6 588.7 L251.5 589.9 L252.5 589.6 L253.4 590.6 L254.4 590.3 L255.3 590.8 L256.3 590.5 L257.2 591.0 L258.2 590.8 L259.1 592.1 L259.9 593.4 L260.8 595.5 L261.7 595.0 L262.5 595.6 L263.4 596.3 L264.3 596.7 L265.3 596.2 L266.2 596.5 L267.2 596.4 L268.2 597.9 L269.1 598.4 L270.1 599.4 L271.1 599.2 L272.0 599.6 L273.0 600.7 L274.0 601.0 L274.9 599.3 L275.9 599.4 L276.9 598.7 L277.8 597.4 L278.8 596.1 L279.7 597.2 L280.5 596.3 L281.4 596.6 L282.2 596.3 L283.1 597.3 L284.0 597.3 L284.9 598.4 L285.8 597.6 L286.7 598.0 L287.6 598.1 L288.5 598.9 L289.4 599.1 L290.3 600.1 L291.3 599.5 L292.2 600.0 L293.2 599.7 L294.2 600.8 L295.1 600.6 L296.1 601.4 L297.1 601.0 L298.0 601.4 L299.0 600.6 L300.0 600.2 L300.9 598.9 L301.9 599.5 L302.8 598.8 L303.8 599.2 L304.7 598.6 L305.7 598.8 L306.6 597.7 L307.6 597.6 L308.5 595.9 L309.4 595.7 L310.3 595.0 L311.2 595.0 L312.1 594.4 L313.0 595.0 L313.9 594.5 L314.8 593.5 L315.8 593.3 L316.7 594.2 L317.7 594.1 L318.7 595.1 L319.6 594.4 L320.6 595.1 L321.6 595.8 L322.5 596.7 L323.5 596.7 L324.4 597.5 L325.3 597.5 L326.3 598.4 L327.2 598.3 L328.1 599.0 L329.0 599.1 L329.9 600.1 L330.8 600.7 L331.8 601.7 L332.7 601.6 L333.6 602.8 L334.6 602.2 L335.6 602.0 L336.6 601.7 L337.6 603.2 L338.6 601.8 L339.6 602.1 L340.6 601.7 L341.6 602.7 L342.6 602.6 L343.6 603.1 L344.6 602.7 L345.6 602.6 L346.6 602.9 L347.6 603.4 L348.5 602.7 L349.5 603.5 L350.4 604.2 L351.4 604.2 L352.4 603.7 L353.3 605.2 L354.3 604.7 L355.2 605.0 L356.2 605.0 L357.2 605.7 L358.1 606.2 L359.1 606.7 L360.0 605.8 L361.0 606.7 L361.9 606.1 L362.8 606.6 L363.8 606.1 L364.7 606.3 L365.6 605.2 L366.5 605.2 L367.4 605.3 L368.3 605.8 L369.3 605.4 L370.2 605.5 L371.1 604.6 L372.1 605.9 L373.1 606.2 L374.1 607.3 L375.1 607.1 L376.1 607.4 L377.1 607.4 L378.0 608.2 L379.0 608.8 L380.0 609.4 L381.0 609.4 L382.0 610.0 L383.0 610.2 L383.9 610.8 L384.9 609.8 L385.8 609.8 L386.7 609.0 L387.6 609.2 L388.6 608.5 L389.5 608.5 L390.5 607.7 L391.4 608.8 L392.4 608.8 L393.3 608.7 L394.3 608.4 L395.2 608.8 L396.2 607.9 L397.1 608.3 L398.1 608.9 L399.0 609.4 L400.0 609.0 L400.9 609.2 L401.9 608.3 L402.8 608.2 L403.8 608.0 L404.8 609.3 L405.8 608.8 L406.8 609.1 L407.7 608.1 L408.7 609.0 L409.7 608.8 L410.7 609.3 L411.7 609.1 L412.7 610.1 L413.6 609.2 L414.6 609.3 L415.6 609.6 L416.6 610.4 L417.6 610.4 L418.6 610.6 L419.5 610.0 L420.5 610.7 L421.5 610.4 L422.5 610.9 L423.5 610.8 L424.5 611.0 L425.4 609.7 L426.4 610.6 L427.4 610.9 L428.4 610.5 L429.4 610.5 L430.4 611.4 L431.4 611.1 L432.4 611.4 L433.4 610.8 L434.4 610.9 L435.4 610.0 L436.4 611.6 L437.4 611.0 L438.4 610.8 L439.4 610.5 L440.4 611.3 L441.4 611.5 L442.4 611.9 L443.4 611.3 L444.4 611.6 L445.4 611.2 L446.4 611.9 L447.4 611.1 L448.4 611.3 L449.4 611.6 L450.4 612.0 L451.4 611.4 L452.4 611.2 L453.4 610.6 L454.4 611.1 L455.4 611.0 L456.4 611.6 L457.4 610.6 L458.4 611.1 L459.4 610.4 L460.3 612.0 L461.3 612.1 L462.3 612.3 L463.3 611.6 L464.3 612.0 L465.3 611.0 L466.3 611.6 L467.3 611.5 L468.3 611.8 L469.3 611.3 L470.3 611.8 L471.3 611.6 L472.3 611.7 L473.3 611.0 L474.3 611.8 L475.3 611.5 L476.3 611.6 L477.3 611.2 L478.3 611.3 L479.3 611.3 L480.3 612.3 L481.3 612.4 L482.3 612.6 L483.3 611.5 L484.3 611.9 L485.3 611.4 L486.3 612.4 L487.3 611.6 L488.3 611.7 L489.3 611.3 L490.3 611.7 L491.3 611.2" stroke="#4F6228" stroke-width="2.2" fill="none" stroke-linejoin="round"/><path d="M87.5 593.1 L88.5 593.0 L89.4 593.5 L90.4 594.0 L91.3 595.8 L92.3 595.9 L93.2 596.2 L94.0 596.8 L94.7 599.3 L95.5 600.4 L96.5 603.4 L97.5 604.9 L98.4 607.6 L99.4 608.7 L100.2 610.2 L101.0 609.9 L101.8 611.3 L102.7 611.1 L103.6 612.8 L104.5 613.5 L105.5 614.9 L106.4 614.6 L107.4 616.3 L108.3 615.3 L109.3 616.1 L110.3 616.0 L111.2 616.1 L112.1 615.9 L113.0 617.4 L114.0 617.7 L114.9 618.3 L115.8 617.5 L116.6 618.5 L117.3 617.9 L118.1 618.2 L118.9 617.9 L119.9 619.4 L120.9 618.8 L121.8 619.4 L122.8 618.5 L123.8 619.2 L124.8 618.5 L125.8 619.2 L126.7 618.4 L127.7 619.0 L128.7 618.5 L129.7 618.8 L130.7 619.0 L131.6 619.7 L132.6 618.9 L133.6 619.3 L134.6 618.5 L135.6 620.0 L136.5 619.3 L137.5 620.5 L138.5 619.7 L139.5 620.2 L140.5 619.6 L141.4 620.5 L142.4 619.9 L143.4 620.3 L144.4 619.2 L145.4 620.0 L146.3 618.7 L147.3 619.6 L148.3 618.6 L149.3 619.0 L150.3 619.2 L151.2 620.1 L152.2 619.2 L153.2 619.5 L154.2 618.7 L155.2 619.6 L156.1 619.3 L157.1 620.1 L158.1 619.7 L159.1 620.1 L160.1 619.3 L161.0 620.4 L162.0 619.8 L163.0 620.7 L164.0 619.6 L165.0 620.2 L166.0 619.6 L167.0 620.1 L168.0 620.1 L169.0 621.5 L170.0 620.5 L171.0 621.2 L172.0 620.4 L173.0 620.1 L174.0 619.7 L175.0 619.9 L176.0 618.9 L177.0 620.4 L178.0 620.1 L179.0 620.8 L180.0 619.7 L181.0 620.7 L182.0 620.9 L183.0 620.9 L184.0 619.9 L185.0 620.7 L186.0 620.2 L187.0 620.8 L188.0 620.1 L189.0 620.6 L190.0 620.0 L191.0 620.1 L192.0 619.7 L193.0 620.3 L194.0 620.0 L195.0 621.0 L196.0 620.6 L197.0 621.7 L198.0 620.9 L199.0 621.8 L200.0 620.7 L201.0 620.9 L202.0 619.9 L203.0 621.2 L204.0 620.7 L205.0 621.6 L206.0 621.0 L207.0 621.3 L208.0 619.9 L209.0 620.1 L210.0 619.5 L211.0 620.5 L212.0 619.9 L213.0 620.9 L214.0 620.2 L215.0 621.0 L216.0 620.7 L217.0 621.4 L218.0 620.7 L219.0 621.2 L220.0 620.6 L221.0 620.9 L222.0 620.1 L223.0 620.9 L224.0 620.8 L225.0 621.0 L226.0 620.0 L227.0 620.7 L228.0 620.0 L229.0 620.8 L230.0 621.0 L231.0 621.6 L232.0 621.1 L233.0 621.9 L234.0 620.9 L235.0 621.9 L236.0 620.9 L237.0 621.6 L238.0 620.9 L239.0 622.0 L240.0 621.1 L241.0 621.9 L242.0 621.1 L243.0 621.9 L244.0 620.8 L245.0 621.9 L246.0 621.5 L247.0 622.3 L248.0 622.1 L249.0 622.5 L250.0 621.7 L251.0 622.0 L252.0 620.3 L253.0 620.8 L254.0 620.4 L255.0 621.2 L256.0 620.5 L257.0 621.4 L258.0 621.0 L259.0 621.9 L260.0 621.8 L261.0 622.7 L262.0 621.7 L263.0 621.5 L264.0 621.0 L265.0 621.6 L266.0 620.8 L267.0 621.5 L268.0 621.1 L269.0 622.3 L270.0 622.1 L271.0 622.4 L272.0 620.8 L273.0 621.1 L274.0 621.1 L275.0 621.8 L276.0 621.1 L277.0 621.5 L278.0 620.6 L279.0 621.3 L280.0 621.2 L281.0 622.4 L282.0 622.0 L283.0 623.0 L284.0 621.9 L285.0 622.2 L286.0 621.6 L287.0 622.6 L288.0 622.0 L289.0 622.3 L290.0 621.2 L291.0 621.6 L292.0 620.5 L293.0 621.7 L294.0 621.9 L295.0 622.7 L296.0 622.0 L297.0 622.4 L298.0 622.1 L299.0 623.0 L300.0 622.4 L301.0 623.3 L302.0 622.2 L303.0 623.2 L304.0 622.3 L305.0 622.7 L306.0 621.7 L307.0 622.2 L308.0 621.3 L309.0 621.8 L310.0 620.8 L311.0 622.1 L312.0 621.8 L313.0 622.2 L314.0 621.5 L315.0 622.3 L316.0 621.4 L317.0 621.8 L318.0 620.9 L319.0 621.6 L320.0 620.6 L321.0 621.5 L322.0 621.5 L323.0 622.5 L324.0 622.1 L325.0 623.2 L326.0 622.2 L327.0 621.8 L328.0 621.0 L329.0 622.1 L330.0 621.6 L331.0 621.9 L332.0 621.4 L333.0 622.3 L334.0 621.8 L335.0 622.6 L336.0 621.7 L337.0 622.3 L338.0 621.1 L339.0 621.6 L340.0 621.1 L341.0 621.7 L342.0 621.1 L343.0 621.5 L344.0 621.3 L345.0 622.1 L346.0 621.5 L347.0 622.3 L348.0 621.3 L349.0 621.8 L350.0 621.4 L351.0 622.6 L352.0 622.5 L353.0 623.1 L354.0 622.9 L355.0 622.4 L356.0 621.3 L357.0 622.3 L358.0 621.5 L359.0 622.4 L360.0 622.6 L361.0 622.9 L362.0 621.2 L363.0 621.6 L364.0 621.7 L365.0 622.8 L366.0 622.1 L367.0 622.9 L368.0 621.9 L369.0 622.2 L370.0 621.2 L371.0 621.6 L372.0 621.3 L373.0 622.6 L374.0 621.9 L375.0 622.1 L376.0 621.1 L377.0 621.7 L378.0 621.3 L379.0 622.9 L380.0 622.7 L381.0 623.2 L382.0 621.6 L383.0 622.6 L384.0 622.5 L385.0 623.5 L386.0 622.8 L387.0 623.3 L387.9 622.7 L388.9 623.1 L389.9 622.8 L390.9 623.6 L391.9 622.4 L392.9 622.1 L393.9 621.7 L394.9 622.4 L395.9 621.9 L396.9 623.3 L397.9 622.9 L398.9 623.1 L399.9 622.3 L400.9 623.0 L401.9 621.8 L402.9 623.0 L403.9 622.9 L404.8 623.5 L405.8 622.5 L406.8 622.7 L407.8 622.5 L408.8 623.1 L409.8 622.4 L410.8 622.8 L411.8 622.8 L412.8 623.7 L413.8 623.0 L414.8 622.5 L415.8 621.8 L416.8 622.9 L417.8 622.4 L418.8 623.0 L419.8 622.1 L420.7 623.1 L421.7 621.9 L422.7 622.9 L423.7 621.8 L424.7 622.9 L425.7 623.0 L426.7 624.3 L427.7 623.4 L428.7 624.2 L429.7 623.5 L430.7 623.8 L431.7 622.9 L432.7 622.8 L433.7 622.0 L434.7 623.4 L435.6 622.5 L436.6 623.2 L437.6 622.0 L438.6 622.8 L439.6 622.0 L440.6 623.2 L441.6 622.2 L442.6 623.2 L443.6 622.7 L444.6 623.6 L445.6 622.5 L446.6 623.0 L447.6 622.6 L448.6 623.5 L449.6 622.6 L450.6 622.7 L451.6 622.8 L452.5 623.7 L453.5 623.0 L454.5 623.2 L455.5 622.8 L456.5 623.7 L457.5 622.8 L458.5 624.0 L459.5 623.3 L460.5 623.6 L461.5 622.2 L462.5 623.4 L463.5 623.1 L464.5 623.6 L465.5 622.7 L466.5 623.3 L467.4 623.4 L468.4 624.2 L469.4 623.3 L470.4 624.1 L471.4 623.1 L472.4 623.8 L473.4 622.9 L474.4 623.2 L475.4 622.9 L476.4 624.7 L477.4 624.1 L478.4 623.9 L479.4 623.0 L480.4 623.4 L481.4 622.7 L482.4 623.3 L483.4 622.8 L484.3 623.9 L485.3 623.2 L486.3 624.3 L487.3 623.8 L488.3 624.9 L489.3 623.9 L490.3 624.8 L491.3 623.9" stroke="#FF0000" stroke-width="2.2" fill="none" stroke-linejoin="round"/><path d="M87.7 595.2 L88.5 591.9 L89.2 589.1 L89.8 594.1 L90.4 599.9 L91.0 604.6 L91.6 610.1 L92.4 611.3 L93.1 613.1 L93.9 614.4 L94.8 615.1 L95.8 615.2 L96.7 615.8 L97.7 616.1 L98.6 617.1 L99.6 617.0 L100.5 617.3 L101.5 617.1 L102.5 617.2 L103.5 617.2 L104.5 617.8 L105.4 617.9 L106.4 618.2 L107.4 617.8 L108.4 618.2 L109.4 617.8 L110.3 618.3 L111.3 618.0 L112.3 618.4 L113.3 618.3 L114.3 618.6 L115.2 618.4 L116.2 618.8 L117.2 618.5 L118.2 618.9 L119.2 618.8 L120.2 619.2 L121.2 618.9 L122.2 619.1 L123.2 618.3 L124.2 618.6 L125.2 618.5 L126.2 618.8 L127.2 618.5 L128.2 618.8 L129.2 618.3 L130.1 618.7 L131.1 618.4 L132.1 618.8 L133.1 618.6 L134.1 618.8 L135.1 618.5 L136.1 618.7 L137.1 618.3 L138.1 618.8 L139.1 618.3 L140.1 619.0 L141.1 618.8 L142.1 619.1 L143.1 618.8 L144.1 619.0 L145.1 618.8 L146.1 618.8 L147.1 618.4 L148.1 618.9 L149.1 618.6 L150.1 619.5 L151.1 619.1 L152.0 619.3 L153.0 618.9 L154.0 619.2 L155.0 618.9 L156.0 619.0 L157.0 618.8 L158.0 619.2 L159.0 619.2 L160.0 619.4 L161.0 619.1 L162.0 619.2 L163.0 618.9 L164.0 619.3 L165.0 619.2 L166.0 619.5 L167.0 618.9 L168.0 619.3 L169.0 618.7 L170.0 619.1 L171.0 618.8 L172.0 619.1 L173.0 618.7 L174.0 619.0 L175.0 618.6 L176.0 619.2 L177.0 619.1 L178.0 619.3 L179.0 619.0 L180.0 619.4 L181.0 619.2 L182.0 619.5 L183.0 619.1 L184.0 619.6 L185.0 619.2 L186.0 619.6 L187.0 619.4 L188.0 619.8 L189.0 619.5 L190.0 619.7 L191.0 619.2 L192.0 619.4 L193.0 618.9 L194.0 619.4 L195.0 619.4 L196.0 619.9 L197.0 619.4 L198.0 619.9 L199.0 619.5 L200.0 619.6 L201.0 619.1 L202.0 619.3 L203.0 619.2 L204.0 619.6 L205.0 619.5 L206.0 619.6 L207.0 619.2 L208.0 619.4 L209.0 619.3 L210.0 619.8 L211.0 619.4 L212.0 619.6 L213.0 619.1 L214.0 619.5 L215.0 619.2 L216.0 619.7 L217.0 619.5 L218.0 619.9 L219.0 619.6 L220.0 620.1 L221.0 619.7 L222.0 619.8 L223.0 619.5 L224.0 619.7 L225.0 619.4 L226.0 619.6 L227.0 619.6 L228.0 620.1 L229.0 619.8 L230.0 620.2 L231.0 619.8 L232.0 620.1 L233.0 619.6 L234.0 619.8 L235.0 619.5 L236.0 619.7 L237.0 619.6 L238.0 619.8 L239.0 619.5 L240.0 620.1 L241.0 619.6 L242.0 620.0 L243.0 619.6 L244.0 620.0 L245.0 619.5 L246.0 619.7 L247.0 619.3 L248.0 619.8 L249.0 619.7 L250.0 620.2 L251.0 619.8 L252.0 619.9 L253.0 619.4 L254.0 619.7 L255.0 619.5 L256.0 619.9 L257.0 619.5 L258.0 619.9 L259.0 619.3 L260.0 620.0 L261.0 620.1 L262.0 620.4 L263.0 619.9 L264.0 620.0 L265.0 619.5 L266.0 619.8 L267.0 619.5 L268.0 619.8 L269.0 619.6 L270.0 620.0 L271.0 619.6 L272.0 620.1 L273.0 620.0 L274.0 620.5 L275.0 620.1 L276.0 620.5 L277.0 620.0 L278.0 620.5 L279.0 620.0 L280.0 620.4 L281.0 620.0 L282.0 620.4 L283.0 620.1 L284.0 620.4 L285.0 620.1 L286.0 620.4 L287.0 619.9 L288.0 620.1 L289.0 619.6 L290.0 620.2 L291.0 619.9 L292.0 620.2 L293.0 619.9 L294.0 620.5 L295.0 620.0 L296.0 620.4 L297.0 619.9 L298.0 620.2 L299.0 619.8 L300.0 620.1 L301.0 619.9 L302.0 620.3 L303.0 620.3 L304.0 620.5 L305.0 620.2 L306.0 620.5 L307.0 620.1 L308.0 620.5 L309.0 620.2 L310.0 620.5 L311.0 620.0 L312.0 620.1 L313.0 619.7 L314.0 620.1 L315.0 620.0 L316.0 620.2 L317.0 620.0 L318.0 620.6 L319.0 620.3 L320.0 620.4 L321.0 619.9 L322.0 620.3 L323.0 619.9 L324.0 620.3 L325.0 619.9 L326.0 620.2 L327.0 619.9 L328.0 620.0 L329.0 619.8 L330.0 620.3 L331.0 620.0 L332.0 620.1 L333.0 619.8 L334.0 620.1 L335.0 619.8 L336.0 620.2 L337.0 619.9 L338.0 620.2 L339.0 619.7 L340.0 619.9 L341.0 619.7 L342.0 620.2 L343.0 620.0 L344.0 620.4 L345.0 620.1 L346.0 620.4 L347.0 620.2 L348.0 620.6 L349.0 620.3 L350.0 620.3 L351.0 619.7 L352.0 619.8 L353.0 619.7 L354.0 620.1 L355.0 619.8 L356.0 620.2 L357.0 620.1 L358.0 620.4 L359.0 620.2 L360.0 620.3 L361.0 620.2 L362.0 620.3 L363.0 619.7 L364.0 620.1 L365.0 619.9 L366.0 620.6 L367.0 620.5 L368.0 620.7 L369.0 620.2 L370.0 620.4 L371.0 620.3 L372.0 620.8 L373.0 620.5 L374.0 620.8 L375.0 620.2 L376.0 620.7 L377.0 620.0 L378.0 620.2 L379.0 619.9 L380.0 620.0 L381.0 619.6 L382.0 620.1 L383.0 619.8 L384.0 620.4 L385.0 620.2 L386.0 620.5 L387.0 620.3 L387.9 620.6 L388.9 620.4 L389.9 620.8 L390.9 620.4 L391.9 620.6 L392.9 619.9 L393.9 620.2 L394.9 620.2 L395.9 620.8 L396.9 620.4 L397.9 620.7 L398.9 620.0 L399.9 620.5 L400.9 620.1 L401.9 620.5 L402.9 620.2 L403.9 620.5 L404.8 620.3 L405.8 620.6 L406.8 620.3 L407.8 620.7 L408.8 620.1 L409.8 620.5 L410.8 620.2 L411.8 620.7 L412.8 620.4 L413.8 620.9 L414.8 620.5 L415.8 620.9 L416.8 620.1 L417.8 620.5 L418.8 620.3 L419.8 620.7 L420.7 620.5 L421.7 620.8 L422.7 620.5 L423.7 620.7 L424.7 620.4 L425.7 621.0 L426.7 620.8 L427.7 621.1 L428.7 620.5 L429.7 620.5 L430.7 620.1 L431.7 620.7 L432.7 620.3 L433.7 620.8 L434.7 620.7 L435.6 621.0 L436.6 620.7 L437.6 621.0 L438.6 620.8 L439.6 621.1 L440.6 620.5 L441.6 620.8 L442.6 620.6 L443.6 620.9 L444.6 620.8 L445.6 621.2 L446.6 620.8 L447.6 620.9 L448.6 620.6 L449.6 621.0 L450.6 620.6 L451.6 620.9 L452.5 620.8 L453.5 621.2 L454.5 620.7 L455.5 620.9 L456.5 620.2 L457.5 620.8 L458.5 620.5 L459.5 621.0 L460.5 620.8 L461.5 621.2 L462.5 621.0 L463.5 621.4 L464.5 621.1 L465.5 621.5 L466.5 621.1 L467.4 621.5 L468.4 621.3 L469.4 621.5 L470.4 621.1 L471.4 621.3 L472.4 620.9 L473.4 621.1 L474.4 620.6 L475.4 621.0 L476.4 620.6 L477.4 621.0 L478.4 620.9 L479.4 621.3 L480.4 621.0 L481.4 621.3 L482.4 620.7 L483.4 620.9 L484.3 620.7 L485.3 621.3 L486.3 621.0 L487.3 621.5 L488.3 621.2 L489.3 621.4 L490.3 621.1 L491.3 621.5" stroke="#632523" stroke-width="1.9" fill="none" stroke-linejoin="round"/></g>
<g clip-path="url(#cpd)"><path d="M601.3 461.4 L601.8 462.1 L602.3 461.2 L602.8 460.8 L603.3 462.0 L603.7 462.0 L604.2 461.5 L604.7 461.8 L605.2 461.4 L605.7 461.0 L606.2 461.5 L606.7 461.3 L607.2 460.3 L607.7 462.0 L608.1 462.1 L608.6 462.1 L609.1 461.5 L609.6 462.1 L610.1 462.4 L610.6 462.5 L611.1 461.9 L611.6 461.7 L612.1 462.7 L612.6 462.7 L613.0 463.0 L613.5 462.5 L614.0 463.4 L614.5 462.5 L615.0 463.4 L615.5 463.6 L616.0 464.3 L616.5 464.8 L617.0 464.9 L617.5 464.1 L618.0 465.4 L618.5 465.6 L619.0 464.7 L619.5 464.0 L620.0 464.9 L620.5 465.4 L621.0 464.7 L621.5 465.6 L622.0 465.6 L622.5 465.7 L623.0 465.0 L623.5 464.4 L624.0 464.6 L624.5 465.5 L625.0 465.6 L625.5 465.1 L626.0 465.7 L626.5 465.1 L627.0 464.9 L627.5 464.8 L628.0 465.0 L628.5 465.1 L629.0 464.9 L629.5 464.8 L630.0 464.7 L630.5 464.5 L631.0 463.9 L631.5 463.4 L632.0 464.5 L632.5 463.1 L633.0 463.6 L633.5 464.1 L634.0 465.0 L634.5 464.8 L635.0 463.9 L635.5 465.8 L636.0 465.9 L636.5 466.5 L637.0 467.0 L637.5 467.0 L638.0 466.7 L638.5 467.8 L639.0 466.5 L639.5 467.4 L640.0 467.5 L640.5 467.3 L641.0 465.4 L641.5 466.4 L642.0 466.0 L642.5 465.9 L643.0 465.6 L643.5 465.7 L644.0 465.5 L644.5 465.7 L645.0 465.7 L645.5 464.6 L646.0 465.5 L646.5 466.0 L647.0 464.8 L647.5 465.8 L648.0 465.5 L648.5 466.2 L649.0 465.0 L649.5 466.1 L650.0 464.4 L650.5 464.7 L651.0 465.4 L651.5 465.9 L652.0 465.9 L652.5 465.4 L653.0 464.5 L653.5 466.1 L654.0 465.1 L654.5 466.2 L655.0 466.0 L655.5 465.9 L656.0 466.0 L656.5 465.9 L657.0 465.3 L657.5 464.9 L658.0 465.4 L658.5 463.8 L659.0 464.9 L659.5 465.4 L660.0 465.3 L660.5 464.7 L661.0 464.2 L661.5 464.9 L662.0 465.3 L662.5 464.7 L663.0 464.8 L663.5 464.7 L664.0 463.9 L664.5 464.5 L665.0 463.7 L665.5 465.2 L666.0 465.3 L666.5 463.9 L667.0 465.2 L667.5 465.3 L668.0 465.4 L668.5 465.1 L669.0 465.4 L669.5 465.4 L670.0 463.9 L670.5 464.7 L671.0 464.4 L671.5 465.3 L672.0 464.4 L672.5 465.4 L673.0 464.6 L673.5 464.4 L674.0 464.1 L674.5 465.8 L675.0 465.3 L675.5 464.3 L676.0 465.8 L676.5 466.3 L677.0 466.4 L677.5 465.5 L678.0 466.7 L678.5 466.8 L679.0 466.9 L679.5 466.4 L680.0 467.0 L680.5 467.0 L681.0 467.0 L681.5 467.2 L682.0 466.9 L682.5 466.6 L683.0 466.9 L683.5 467.4 L684.0 467.2 L684.5 467.7 L685.0 466.4 L685.5 467.9 L686.0 467.7 L686.5 468.1 L687.0 468.3 L687.5 468.0 L688.0 468.4 L688.5 468.7 L689.0 468.1 L689.5 469.0 L690.0 469.1 L690.5 469.1 L691.0 469.0 L691.5 469.2 L692.0 468.1 L692.5 469.0 L693.0 469.1 L693.5 468.2 L694.0 468.3 L694.5 468.1 L695.0 468.0 L695.5 467.7 L696.0 466.3 L696.5 467.1 L697.0 467.4 L697.5 467.4 L698.0 467.4 L698.5 467.4 L699.0 467.6 L699.5 467.4 L700.0 467.3 L700.5 466.6 L701.0 465.8 L701.5 467.0 L702.0 466.7 L702.5 465.1 L703.0 465.1 L703.5 466.3 L704.0 465.3 L704.5 465.5 L705.0 466.6 L705.5 467.2 L706.0 467.3 L706.5 466.2 L707.0 467.9 L707.5 467.3 L708.0 466.6 L708.5 468.3 L709.0 468.6 L709.5 468.6 L710.0 467.5 L710.5 468.5 L711.0 468.3 L711.5 467.3 L712.0 468.2 L712.5 468.5 L713.0 467.5 L713.5 468.3 L714.0 467.4 L714.5 466.8 L715.0 468.1 L715.5 468.4 L716.0 468.5 L716.5 468.4 L717.0 468.2 L717.5 467.3 L718.0 468.2 L718.5 467.8 L719.0 467.9 L719.5 467.7 L720.0 467.0 L720.5 467.7 L721.0 466.2 L721.5 467.1 L722.0 467.3 L722.5 467.4 L723.0 467.6 L723.5 467.9 L724.0 467.8 L724.5 466.5 L725.0 467.8 L725.5 466.8 L726.0 468.2 L726.5 467.3 L727.0 468.2 L727.5 467.6 L728.0 468.1 L728.5 468.2 L729.0 467.6 L729.5 468.5 L730.0 468.6 L730.5 467.8 L731.0 467.2 L731.5 468.3 L732.0 468.7 L732.5 469.0 L733.0 468.9 L733.5 467.7 L734.0 467.2 L734.5 467.6 L735.0 467.9 L735.5 468.3 L736.0 468.6 L736.5 468.5 L737.0 467.7 L737.5 466.9 L738.0 467.8 L738.5 467.0 L739.0 467.3 L739.5 467.2 L740.0 466.8 L740.5 467.2 L741.0 467.9 L741.5 466.9 L742.0 467.3 L742.5 467.6 L743.0 466.2 L743.5 466.8 L744.0 466.0 L744.5 467.3 L745.0 466.7 L745.5 466.4 L746.0 466.5 L746.5 466.1 L747.0 466.1 L747.5 466.5 L748.0 465.5 L748.5 466.4 L749.0 465.0 L749.5 465.2 L750.0 465.0 L750.5 465.4 L751.0 464.8 L751.5 465.8 L752.0 465.3 L752.5 465.6 L753.0 465.7 L753.5 465.7 L754.0 464.0 L754.5 465.2 L755.0 465.6 L755.5 464.8 L756.0 465.6 L756.5 465.4 L757.0 465.4 L757.5 464.9 L758.0 464.1 L758.5 465.6 L759.0 464.1 L759.5 465.0 L760.0 465.1 L760.5 465.6 L761.0 464.7 L761.5 465.1 L762.0 465.7 L762.5 465.8 L763.0 465.8 L763.5 464.1 L764.0 465.7 L764.5 465.8 L765.0 465.3 L765.5 466.2 L766.0 465.7 L766.5 466.2 L767.0 465.5 L767.5 466.6 L768.0 465.9 L768.5 467.2 L769.0 465.8 L769.5 467.1 L770.0 467.1 L770.5 467.1 L771.0 465.4 L771.5 466.8 L772.0 464.9 L772.5 465.8 L773.0 465.6 L773.5 465.6 L774.0 465.9 L774.5 465.9 L775.0 465.4 L775.5 464.4 L776.0 465.3 L776.5 465.3 L777.0 466.1 L777.5 465.3 L778.0 466.1 L778.5 466.2 L779.0 466.8 L779.5 466.0 L780.0 465.6 L780.5 467.2 L781.0 466.3 L781.5 467.2 L782.0 467.1 L782.5 465.8 L783.0 467.0 L783.5 467.2 L784.0 466.3 L784.5 467.3 L785.0 466.4 L785.5 466.6 L786.0 467.1 L786.5 466.7 L787.0 467.6 L787.5 467.8 L788.0 467.7 L788.5 466.5 L789.0 466.5 L789.5 466.8 L790.0 466.1 L790.5 466.1 L791.0 465.7 L791.5 465.8 L792.0 465.4 L792.5 464.2 L793.0 465.0 L793.5 465.4 L794.0 464.9 L794.5 465.6 L795.0 464.7 L795.5 464.5 L796.0 466.0 L796.5 466.3 L797.0 465.1 L797.5 466.6 L798.0 466.4 L798.5 467.1 L799.0 467.0 L799.5 467.3 L800.0 466.1 L800.5 466.5 L801.0 466.1 L801.5 466.1 L802.0 466.6 L802.5 464.9 L803.0 465.7 L803.5 465.2 L804.0 464.5 L804.5 464.5 L805.0 464.9 L805.5 464.2 L806.0 465.7 L806.5 465.8 L807.0 464.3 L807.5 465.5 L808.0 466.0 L808.5 464.9 L809.0 465.9 L809.5 466.4 L810.0 465.2 L810.5 466.5 L811.0 466.5 L811.5 466.4 L812.0 466.4 L812.5 466.1 L813.0 466.6 L813.5 465.2 L814.0 466.7 L814.5 466.5 L815.0 466.6 L815.5 466.8 L816.0 467.0 L816.5 466.4 L817.0 465.7 L817.5 466.6 L818.0 465.3 L818.5 466.8 L819.0 466.1 L819.5 465.3 L820.0 466.5 L820.5 466.0 L821.0 465.1 L821.5 465.0 L822.0 465.9 L822.5 465.0 L823.0 465.6 L823.5 464.9 L824.0 465.3 L824.5 465.5 L825.0 465.2 L825.5 463.5 L826.0 464.1 L826.5 464.5 L827.0 464.6 L827.5 464.3 L828.0 464.3 L828.5 464.1 L829.0 463.3 L829.5 464.0 L830.0 464.1 L830.5 463.8 L831.0 463.9 L831.5 464.0 L832.0 463.0 L832.5 463.9 L833.0 464.5 L833.5 464.1 L834.0 463.8 L834.5 464.4 L835.0 463.3 L835.5 462.9 L836.0 464.6 L836.5 463.7 L837.0 464.3 L837.5 463.9 L838.0 464.1 L838.5 465.0 L839.0 464.7 L839.5 465.1 L840.0 464.5 L840.5 465.0 L841.0 464.2 L841.5 465.1 L842.0 464.4 L842.5 465.3 L843.0 464.4 L843.5 465.3 L844.0 464.8 L844.5 464.4 L845.0 464.4 L845.5 464.8 L846.0 465.2 L846.5 465.0 L847.0 464.2 L847.5 465.0 L848.0 463.8 L848.5 464.7 L849.0 463.7 L849.5 464.0 L850.0 463.1 L850.5 463.7 L851.0 463.3 L851.5 462.5 L852.0 462.7 L852.5 461.9 L853.0 461.2 L853.5 462.3 L854.0 462.5 L854.5 461.8 L855.0 462.7 L855.5 461.4 L856.0 463.0 L856.5 461.7 L857.0 463.1 L857.5 463.3 L858.0 462.6 L858.5 463.4 L859.0 463.8 L859.5 463.7 L860.0 463.4 L860.5 462.2 L861.0 463.5 L861.5 462.3 L862.0 463.1 L862.5 462.9 L863.0 461.4 L863.5 462.7 L864.0 461.5 L864.5 462.7 L865.0 462.3 L865.5 462.3 L866.0 462.5 L866.5 460.9 L867.0 461.2 L867.5 462.1 L868.0 460.9 L868.5 460.7 L869.0 462.1 L869.5 461.9 L870.0 461.2 L870.5 462.3 L871.0 461.3 L871.5 461.8 L872.0 462.0 L872.5 460.6 L873.0 461.4 L873.5 461.7 L874.0 461.5 L874.5 460.8 L875.0 461.0 L875.5 460.7 L876.0 460.7 L876.5 461.2 L877.0 460.4 L877.5 460.9 L878.0 459.7 L878.5 459.6 L879.0 459.8 L879.5 460.2 L880.0 460.0 L880.5 460.3 L881.0 459.5 L881.5 458.5 L882.0 459.9 L882.5 458.7 L883.0 458.7 L883.5 458.8 L884.0 458.7 L884.5 459.1 L885.0 458.2 L885.5 459.0 L886.0 459.3 L886.5 457.8 L887.0 458.3 L887.5 459.1 L888.0 459.1 L888.5 457.8 L889.0 458.0 L889.5 458.7 L890.0 458.8 L890.5 458.7 L891.0 458.8 L891.5 458.9 L892.0 458.9 L892.5 458.3 L893.0 458.9 L893.5 458.1 L894.0 458.9 L894.5 458.7 L895.0 458.6 L895.5 459.0 L896.0 457.4 L896.5 458.7 L897.0 458.6 L897.5 459.4 L898.0 458.0 L898.5 458.0 L899.0 458.7 L899.5 459.9 L900.0 459.7 L900.5 458.7 L901.0 460.1 L901.5 460.2 L902.0 460.3 L902.5 459.9 L903.0 459.4 L903.5 460.5 L904.0 460.2 L904.5 461.3 L905.0 459.9 L905.5 461.6 L906.0 461.8 L906.5 461.7 L907.0 462.1 L907.5 461.1 L908.0 461.0 L908.5 462.5 L909.0 462.1 L909.5 461.9 L910.0 463.0 L910.5 462.1 L911.0 463.0 L911.5 462.6 L912.0 462.2 L912.5 463.7 L913.0 463.7 L913.5 464.1 L914.0 463.4 L914.5 463.6 L915.0 463.1 L915.5 462.0 L916.0 463.5 L916.5 462.0 L917.0 461.4 L917.5 463.0 L918.0 461.8 L918.5 462.7 L919.0 462.3 L919.5 461.5 L920.0 462.7 L920.5 462.9 L921.0 462.6 L921.5 463.3 L922.0 463.2 L922.5 462.9 L923.0 463.8 L923.5 463.0 L924.0 464.1 L924.5 463.1 L925.0 464.0 L925.5 464.3 L926.0 463.4 L926.5 462.8 L927.0 464.1 L927.5 464.4 L928.0 463.4 L928.5 463.7 L929.0 464.7 L929.5 465.1 L930.0 465.3 L930.5 464.3 L931.0 465.1 L931.5 465.2 L932.0 465.6 L932.5 464.2 L933.0 464.5 L933.5 465.7 L934.0 465.7 L934.5 465.8 L935.0 465.8 L935.5 464.5 L936.0 465.7 L936.5 466.0 L937.0 465.9 L937.5 466.1 L938.0 465.8 L938.5 465.4 L939.0 465.4 L939.5 464.9 L940.0 465.0 L940.5 465.2 L941.0 463.3 L941.5 464.7 L942.0 463.8 L942.5 464.3 L943.0 463.9 L943.5 464.4 L944.0 463.6 L944.5 463.4 L945.0 464.3 L945.5 464.0 L946.0 465.6 L946.5 464.6 L947.0 465.7 L947.5 466.4 L948.0 466.5 L948.5 465.5 L949.0 465.9 L949.5 466.8 L950.0 466.9 L950.5 467.3 L951.0 467.3 L951.5 467.6 L952.0 467.0 L952.5 466.8 L953.0 466.9 L953.5 467.8 L954.0 468.1 L954.5 467.9 L955.0 468.0 L955.5 469.2 L956.0 468.7 L956.5 469.7 L957.0 468.2 L957.5 468.3 L958.0 469.2 L958.5 467.3 L959.0 468.6 L959.5 468.3 L960.0 468.2 L960.5 467.4 L961.0 467.7 L961.5 468.2 L962.0 467.6 L962.5 467.8 L963.0 467.9 L963.5 467.8 L964.0 468.4 L964.5 468.6 L965.0 469.0 L965.5 469.1 L966.0 469.8 L966.5 469.0 L967.0 470.8 L967.5 469.4 L968.0 469.2 L968.5 469.2 L969.0 470.4 L969.5 470.2 L970.0 469.4 L970.5 469.7 L971.0 468.1 L971.5 467.7 L972.0 467.7 L972.5 467.5 L973.0 468.1 L973.5 467.3 L974.0 468.0 L974.5 468.4 L975.0 469.1 L975.5 468.1 L976.0 469.2 L976.5 469.5 L977.0 470.0 L977.5 470.0 L978.0 470.2 L978.5 470.2 L979.0 470.6 L979.5 469.6 L980.0 470.2 L980.5 469.1 L981.0 470.1 L981.5 469.9 L982.0 468.8 L982.5 469.3 L983.0 468.1 L983.5 468.9 L984.0 468.6 L984.5 468.5 L985.0 468.1 L985.5 467.0 L986.0 467.2 L986.5 468.2 L987.0 467.4 L987.5 468.4 L988.0 467.6 L988.5 467.1 L989.0 467.2 L989.5 467.9 L990.0 468.5 L990.5 467.4 L991.0 467.5 L991.5 468.5 L992.0 468.4 L992.5 468.0 L993.0 468.5 L993.5 468.0 L994.0 468.5 L994.5 467.2 L995.0 468.4 L995.5 467.4 L996.0 468.4 L996.5 468.1 L997.0 468.1 L997.5 466.8 L998.0 468.5 L998.5 468.6 L999.0 468.1 L999.5 469.1 L999.5 474.6 L999.0 475.9 L998.5 475.0 L998.0 473.8 L997.5 474.2 L997.0 474.2 L996.5 473.8 L996.0 473.9 L995.5 473.7 L995.0 473.9 L994.5 474.7 L994.0 474.2 L993.5 474.3 L993.0 473.8 L992.5 473.9 L992.0 475.2 L991.5 473.8 L991.0 473.8 L990.5 474.1 L990.0 474.4 L989.5 474.7 L989.0 474.7 L988.5 473.8 L988.0 473.7 L987.5 473.8 L987.0 473.7 L986.5 474.2 L986.0 475.0 L985.5 473.7 L985.0 474.8 L984.5 474.1 L984.0 474.1 L983.5 475.3 L983.0 475.2 L982.5 475.4 L982.0 475.6 L981.5 476.2 L981.0 476.6 L980.5 476.8 L980.0 477.1 L979.5 476.0 L979.0 476.7 L978.5 475.9 L978.0 476.7 L977.5 476.1 L977.0 476.0 L976.5 475.3 L976.0 476.1 L975.5 474.7 L975.0 474.5 L974.5 474.5 L974.0 474.3 L973.5 475.9 L973.0 474.2 L972.5 475.1 L972.0 476.0 L971.5 474.9 L971.0 475.5 L970.5 475.5 L970.0 475.3 L969.5 475.9 L969.0 477.3 L968.5 477.1 L968.0 476.6 L967.5 476.8 L967.0 476.4 L966.5 476.8 L966.0 475.8 L965.5 476.4 L965.0 475.2 L964.5 474.9 L964.0 475.8 L963.5 475.8 L963.0 475.4 L962.5 473.8 L962.0 475.3 L961.5 474.0 L961.0 473.8 L960.5 474.1 L960.0 474.3 L959.5 474.5 L959.0 476.0 L958.5 475.2 L958.0 475.4 L957.5 475.1 L957.0 475.0 L956.5 476.8 L956.0 476.0 L955.5 475.5 L955.0 474.9 L954.5 475.8 L954.0 474.8 L953.5 475.6 L953.0 474.3 L952.5 473.8 L952.0 474.3 L951.5 473.6 L951.0 474.2 L950.5 472.9 L950.0 472.4 L949.5 473.0 L949.0 472.3 L948.5 472.1 L948.0 473.7 L947.5 471.7 L947.0 471.4 L946.5 472.6 L946.0 471.4 L945.5 471.1 L945.0 471.6 L944.5 470.4 L944.0 471.6 L943.5 470.0 L943.0 471.3 L942.5 470.9 L942.0 469.9 L941.5 470.7 L941.0 471.4 L940.5 471.5 L940.0 471.6 L939.5 471.8 L939.0 472.8 L938.5 472.6 L938.0 472.5 L937.5 471.6 L937.0 471.9 L936.5 471.3 L936.0 473.0 L935.5 471.3 L935.0 472.2 L934.5 471.1 L934.0 471.8 L933.5 471.8 L933.0 471.1 L932.5 470.9 L932.0 470.9 L931.5 471.8 L931.0 472.5 L930.5 471.0 L930.0 472.1 L929.5 471.9 L929.0 471.9 L928.5 472.0 L928.0 470.6 L927.5 470.3 L927.0 470.1 L926.5 469.8 L926.0 471.0 L925.5 469.8 L925.0 469.8 L924.5 469.5 L924.0 470.8 L923.5 469.7 L923.0 469.1 L922.5 469.3 L922.0 468.7 L921.5 469.8 L921.0 469.0 L920.5 468.3 L920.0 469.3 L919.5 469.4 L919.0 468.2 L918.5 468.1 L918.0 469.2 L917.5 469.2 L917.0 468.6 L916.5 468.7 L916.0 469.4 L915.5 470.1 L915.0 469.3 L914.5 469.4 L914.0 470.8 L913.5 470.2 L913.0 469.4 L912.5 469.2 L912.0 470.7 L911.5 469.1 L911.0 470.1 L910.5 469.7 L910.0 468.3 L909.5 468.3 L909.0 468.0 L908.5 468.0 L908.0 467.7 L907.5 468.4 L907.0 468.4 L906.5 468.4 L906.0 467.7 L905.5 467.1 L905.0 466.9 L904.5 466.6 L904.0 467.1 L903.5 466.4 L903.0 466.3 L902.5 465.8 L902.0 466.2 L901.5 465.6 L901.0 466.0 L900.5 466.5 L900.0 466.5 L899.5 465.2 L899.0 466.0 L898.5 465.1 L898.0 465.1 L897.5 465.4 L897.0 465.7 L896.5 464.7 L896.0 464.4 L895.5 464.5 L895.0 464.4 L894.5 465.0 L894.0 464.3 L893.5 464.9 L893.0 464.7 L892.5 464.6 L892.0 465.9 L891.5 465.1 L891.0 465.3 L890.5 464.3 L890.0 465.2 L889.5 465.9 L889.0 464.6 L888.5 464.4 L888.0 464.5 L887.5 465.1 L887.0 464.6 L886.5 464.7 L886.0 464.7 L885.5 465.2 L885.0 465.2 L884.5 465.0 L884.0 465.2 L883.5 465.5 L883.0 466.3 L882.5 465.4 L882.0 466.8 L881.5 466.3 L881.0 466.9 L880.5 467.3 L880.0 467.2 L879.5 466.8 L879.0 466.2 L878.5 467.5 L878.0 466.4 L877.5 467.1 L877.0 466.6 L876.5 467.0 L876.0 466.6 L875.5 468.1 L875.0 467.0 L874.5 468.0 L874.0 468.5 L873.5 468.2 L873.0 468.2 L872.5 468.9 L872.0 467.6 L871.5 469.0 L871.0 468.8 L870.5 469.0 L870.0 467.6 L869.5 468.7 L869.0 469.3 L868.5 467.7 L868.0 467.7 L867.5 469.3 L867.0 468.3 L866.5 469.4 L866.0 467.8 L865.5 468.5 L865.0 469.6 L864.5 468.1 L864.0 468.2 L863.5 468.2 L863.0 469.6 L862.5 469.6 L862.0 470.2 L861.5 468.7 L861.0 469.1 L860.5 470.5 L860.0 469.6 L859.5 469.6 L859.0 469.2 L858.5 470.3 L858.0 469.0 L857.5 469.5 L857.0 470.4 L856.5 469.3 L856.0 468.5 L855.5 468.2 L855.0 468.0 L854.5 468.6 L854.0 468.8 L853.5 468.9 L853.0 468.8 L852.5 469.6 L852.0 469.5 L851.5 468.4 L851.0 468.7 L850.5 469.7 L850.0 469.3 L849.5 470.5 L849.0 469.9 L848.5 470.2 L848.0 470.3 L847.5 471.0 L847.0 470.9 L846.5 471.5 L846.0 471.9 L845.5 471.6 L845.0 470.7 L844.5 470.9 L844.0 470.9 L843.5 470.7 L843.0 471.5 L842.5 470.6 L842.0 470.7 L841.5 471.0 L841.0 470.7 L840.5 470.7 L840.0 471.9 L839.5 470.6 L839.0 470.7 L838.5 470.5 L838.0 471.5 L837.5 470.3 L837.0 470.8 L836.5 470.4 L836.0 470.8 L835.5 470.0 L835.0 470.0 L834.5 471.1 L834.0 470.1 L833.5 470.0 L833.0 470.4 L832.5 469.8 L832.0 470.7 L831.5 471.1 L831.0 469.6 L830.5 469.4 L830.0 469.4 L829.5 469.6 L829.0 470.0 L828.5 469.5 L828.0 469.6 L827.5 470.6 L827.0 470.2 L826.5 470.4 L826.0 470.5 L825.5 470.8 L825.0 471.0 L824.5 470.8 L824.0 471.0 L823.5 471.2 L823.0 471.7 L822.5 471.2 L822.0 472.6 L821.5 471.8 L821.0 471.7 L820.5 471.8 L820.0 472.8 L819.5 473.2 L819.0 472.3 L818.5 472.8 L818.0 472.4 L817.5 473.2 L817.0 473.4 L816.5 472.4 L816.0 473.6 L815.5 472.4 L815.0 472.9 L814.5 473.7 L814.0 473.7 L813.5 472.4 L813.0 472.8 L812.5 471.8 L812.0 471.8 L811.5 472.3 L811.0 473.2 L810.5 472.4 L810.0 471.8 L809.5 473.4 L809.0 472.0 L808.5 471.7 L808.0 471.4 L807.5 472.9 L807.0 471.7 L806.5 471.1 L806.0 472.8 L805.5 472.1 L805.0 471.7 L804.5 471.5 L804.0 471.7 L803.5 471.4 L803.0 472.8 L802.5 473.5 L802.0 472.2 L801.5 473.1 L801.0 473.8 L800.5 472.9 L800.0 472.5 L799.5 473.3 L799.0 472.6 L798.5 472.5 L798.0 474.0 L797.5 473.5 L797.0 472.0 L796.5 472.4 L796.0 471.6 L795.5 471.8 L795.0 472.3 L794.5 472.0 L794.0 470.9 L793.5 471.2 L793.0 470.7 L792.5 471.0 L792.0 471.3 L791.5 472.2 L791.0 471.6 L790.5 472.2 L790.0 472.1 L789.5 473.8 L789.0 473.3 L788.5 474.2 L788.0 473.2 L787.5 474.1 L787.0 473.1 L786.5 473.1 L786.0 473.2 L785.5 474.3 L785.0 472.9 L784.5 473.8 L784.0 472.8 L783.5 473.0 L783.0 473.4 L782.5 472.9 L782.0 472.7 L781.5 472.7 L781.0 474.1 L780.5 473.2 L780.0 472.4 L779.5 473.5 L779.0 472.1 L778.5 473.3 L778.0 472.3 L777.5 471.6 L777.0 471.9 L776.5 471.4 L776.0 471.4 L775.5 473.0 L775.0 471.2 L774.5 471.4 L774.0 472.6 L773.5 471.5 L773.0 472.7 L772.5 473.2 L772.0 472.6 L771.5 472.9 L771.0 472.4 L770.5 472.5 L770.0 474.1 L769.5 472.9 L769.0 473.0 L768.5 474.3 L768.0 472.6 L767.5 472.4 L767.0 472.2 L766.5 472.4 L766.0 471.9 L765.5 471.6 L765.0 472.9 L764.5 471.7 L764.0 472.4 L763.5 472.5 L763.0 471.1 L762.5 471.1 L762.0 471.7 L761.5 471.2 L761.0 471.0 L760.5 471.1 L760.0 471.1 L759.5 471.2 L759.0 471.1 L758.5 472.4 L758.0 471.0 L757.5 472.0 L757.0 471.6 L756.5 471.2 L756.0 472.6 L755.5 471.5 L755.0 470.9 L754.5 471.0 L754.0 471.0 L753.5 472.7 L753.0 471.1 L752.5 472.0 L752.0 471.8 L751.5 472.1 L751.0 472.0 L750.5 471.5 L750.0 472.1 L749.5 471.4 L749.0 472.2 L748.5 472.8 L748.0 471.9 L747.5 472.8 L747.0 472.7 L746.5 472.4 L746.0 473.5 L745.5 473.4 L745.0 473.0 L744.5 473.4 L744.0 473.4 L743.5 472.8 L743.0 473.1 L742.5 473.1 L742.0 473.0 L741.5 473.2 L741.0 473.3 L740.5 473.4 L740.0 474.7 L739.5 473.4 L739.0 473.5 L738.5 474.0 L738.0 473.7 L737.5 474.8 L737.0 473.8 L736.5 474.0 L736.0 473.9 L735.5 474.4 L735.0 474.4 L734.5 475.0 L734.0 474.3 L733.5 474.3 L733.0 475.0 L732.5 475.6 L732.0 475.0 L731.5 475.2 L731.0 475.0 L730.5 474.5 L730.0 474.0 L729.5 473.9 L729.0 475.2 L728.5 473.8 L728.0 473.7 L727.5 473.6 L727.0 474.7 L726.5 473.6 L726.0 474.3 L725.5 473.9 L725.0 473.9 L724.5 474.6 L724.0 474.2 L723.5 473.6 L723.0 473.5 L722.5 473.4 L722.0 474.3 L721.5 473.6 L721.0 473.0 L720.5 474.1 L720.0 474.1 L719.5 473.3 L719.0 474.1 L718.5 473.5 L718.0 474.5 L717.5 474.6 L717.0 474.3 L716.5 474.1 L716.0 474.0 L715.5 474.3 L715.0 474.3 L714.5 474.1 L714.0 474.6 L713.5 474.9 L713.0 474.2 L712.5 475.2 L712.0 473.9 L711.5 473.9 L711.0 474.5 L710.5 474.0 L710.0 473.9 L709.5 473.9 L709.0 474.5 L708.5 474.6 L708.0 475.4 L707.5 473.8 L707.0 473.6 L706.5 473.3 L706.0 474.2 L705.5 472.5 L705.0 473.1 L704.5 473.8 L704.0 472.4 L703.5 473.7 L703.0 472.5 L702.5 473.6 L702.0 473.3 L701.5 472.7 L701.0 472.4 L700.5 474.0 L700.0 473.0 L699.5 472.9 L699.0 473.1 L698.5 473.6 L698.0 474.5 L697.5 473.2 L697.0 474.2 L696.5 474.9 L696.0 473.2 L695.5 473.7 L695.0 473.6 L694.5 474.6 L694.0 475.6 L693.5 474.2 L693.0 475.0 L692.5 475.1 L692.0 474.6 L691.5 475.4 L691.0 474.6 L690.5 475.2 L690.0 474.8 L689.5 475.9 L689.0 474.8 L688.5 474.2 L688.0 473.9 L687.5 473.7 L687.0 474.8 L686.5 473.4 L686.0 473.3 L685.5 473.3 L685.0 474.2 L684.5 474.4 L684.0 474.6 L683.5 473.9 L683.0 473.0 L682.5 472.9 L682.0 473.2 L681.5 473.6 L681.0 472.6 L680.5 473.1 L680.0 472.7 L679.5 472.4 L679.0 473.6 L678.5 472.3 L678.0 473.6 L677.5 472.1 L677.0 472.0 L676.5 471.7 L676.0 472.1 L675.5 472.2 L675.0 472.7 L674.5 471.2 L674.0 471.5 L673.5 472.4 L673.0 472.2 L672.5 470.9 L672.0 471.4 L671.5 472.6 L671.0 470.8 L670.5 471.0 L670.0 470.8 L669.5 472.3 L669.0 471.0 L668.5 471.7 L668.0 471.8 L667.5 471.2 L667.0 472.2 L666.5 471.2 L666.0 471.4 L665.5 470.7 L665.0 471.6 L664.5 472.3 L664.0 472.3 L663.5 471.3 L663.0 471.9 L662.5 470.7 L662.0 471.1 L661.5 470.6 L661.0 471.2 L660.5 470.7 L660.0 471.3 L659.5 471.5 L659.0 471.7 L658.5 472.4 L658.0 471.1 L657.5 471.3 L657.0 471.2 L656.5 471.5 L656.0 473.1 L655.5 471.5 L655.0 473.0 L654.5 471.9 L654.0 471.9 L653.5 472.3 L653.0 472.4 L652.5 472.1 L652.0 473.1 L651.5 471.7 L651.0 471.6 L650.5 472.2 L650.0 471.9 L649.5 472.2 L649.0 471.6 L648.5 471.7 L648.0 471.9 L647.5 471.5 L647.0 472.4 L646.5 472.2 L646.0 471.9 L645.5 472.0 L645.0 471.2 L644.5 472.0 L644.0 471.0 L643.5 471.8 L643.0 471.0 L642.5 471.2 L642.0 471.5 L641.5 471.9 L641.0 472.3 L640.5 473.1 L640.0 474.6 L639.5 474.6 L639.0 473.6 L638.5 473.3 L638.0 474.1 L637.5 473.8 L637.0 472.7 L636.5 472.5 L636.0 471.8 L635.5 471.4 L635.0 470.9 L634.5 470.7 L634.0 470.3 L633.5 470.3 L633.0 470.0 L632.5 470.0 L632.0 470.6 L631.5 471.0 L631.0 471.3 L630.5 470.4 L630.0 471.2 L629.5 471.3 L629.0 471.7 L628.5 471.0 L628.0 471.1 L627.5 471.7 L627.0 471.4 L626.5 471.6 L626.0 471.2 L625.5 472.5 L625.0 471.6 L624.5 472.2 L624.0 471.2 L623.5 471.3 L623.0 471.3 L622.5 471.6 L622.0 472.1 L621.5 472.5 L621.0 471.5 L620.5 472.7 L620.0 471.8 L619.5 472.0 L619.0 471.1 L618.5 471.2 L618.0 471.9 L617.5 471.4 L617.0 470.4 L616.5 470.2 L616.0 470.0 L615.5 470.7 L615.0 469.5 L614.5 469.8 L614.0 469.2 L613.5 468.6 L613.0 468.7 L612.6 468.2 L612.1 468.3 L611.6 468.8 L611.1 469.5 L610.6 468.3 L610.1 468.8 L609.6 467.8 L609.1 467.7 L608.6 467.8 L608.1 469.0 L607.7 467.3 L607.2 468.8 L606.7 468.3 L606.2 467.6 L605.7 468.2 L605.2 467.9 L604.7 468.2 L604.2 468.9 L603.7 467.4 L603.3 467.4 L602.8 468.3 L602.3 468.1 L601.8 468.1 L601.3 467.3Z" fill="#558ED5"/><path d="M601.3 464.7 L602.3 464.8 L603.3 464.8 L604.2 464.6 L605.2 464.5 L606.2 464.4 L607.2 464.6 L608.1 464.8 L609.1 465.0 L610.1 465.1 L611.1 465.3 L612.1 465.5 L613.0 465.7 L614.0 466.1 L615.0 466.7 L616.0 467.1 L617.0 467.7 L618.0 468.1 L619.0 468.3 L620.0 468.3 L621.0 468.3 L622.0 468.4 L623.0 468.5 L624.0 468.5 L625.0 468.5 L626.0 468.4 L627.0 468.2 L628.0 467.9 L629.0 467.6 L630.0 467.3 L631.0 467.1 L632.0 467.1 L633.0 467.3 L634.0 467.6 L635.0 468.0 L636.0 469.0 L637.0 469.8 L638.0 470.3 L639.0 470.5 L640.0 470.4 L641.0 469.6 L642.0 468.8 L643.0 468.4 L644.0 468.3 L645.0 468.4 L646.0 468.5 L647.0 468.7 L648.0 468.8 L649.0 468.9 L650.0 468.8 L651.0 468.8 L652.0 468.8 L653.0 468.9 L654.0 468.9 L655.0 468.9 L656.0 468.8 L657.0 468.6 L658.0 468.4 L659.0 468.1 L660.0 467.9 L661.0 467.9 L662.0 468.0 L663.0 468.0 L664.0 468.0 L665.0 467.9 L666.0 467.9 L667.0 467.9 L668.0 468.0 L669.0 468.1 L670.0 468.1 L671.0 468.1 L672.0 468.2 L673.0 468.2 L674.0 468.3 L675.0 468.6 L676.0 468.8 L677.0 469.1 L678.0 469.4 L679.0 469.5 L680.0 469.6 L681.0 469.8 L682.0 470.0 L683.0 470.2 L684.0 470.4 L685.0 470.6 L686.0 470.7 L687.0 470.9 L688.0 471.2 L689.0 471.5 L690.0 471.8 L691.0 472.0 L692.0 472.0 L693.0 471.7 L694.0 471.4 L695.0 470.9 L696.0 470.6 L697.0 470.5 L698.0 470.5 L699.0 470.3 L700.0 470.1 L701.0 469.8 L702.0 469.5 L703.0 469.3 L704.0 469.3 L705.0 469.6 L706.0 470.1 L707.0 470.6 L708.0 471.0 L709.0 471.2 L710.0 471.2 L711.0 471.2 L712.0 471.2 L713.0 471.2 L714.0 471.3 L715.0 471.2 L716.0 471.2 L717.0 471.0 L718.0 470.8 L719.0 470.6 L720.0 470.5 L721.0 470.3 L722.0 470.3 L723.0 470.4 L724.0 470.6 L725.0 470.7 L726.0 470.9 L727.0 470.9 L728.0 470.9 L729.0 471.1 L730.0 471.2 L731.0 471.5 L732.0 471.6 L733.0 471.7 L734.0 471.6 L735.0 471.5 L736.0 471.3 L737.0 471.0 L738.0 470.9 L739.0 470.7 L740.0 470.7 L741.0 470.6 L742.0 470.4 L743.0 470.2 L744.0 470.0 L745.0 469.9 L746.0 469.8 L747.0 469.6 L748.0 469.3 L749.0 468.9 L750.0 468.6 L751.0 468.5 L752.0 468.4 L753.0 468.4 L754.0 468.3 L755.0 468.3 L756.0 468.2 L757.0 468.2 L758.0 468.2 L759.0 468.2 L760.0 468.3 L761.0 468.4 L762.0 468.4 L763.0 468.4 L764.0 468.5 L765.0 468.7 L766.0 469.1 L767.0 469.5 L768.0 469.8 L769.0 470.0 L770.0 470.0 L771.0 469.7 L772.0 469.4 L773.0 469.0 L774.0 468.7 L775.0 468.5 L776.0 468.6 L777.0 468.8 L778.0 469.1 L779.0 469.5 L780.0 469.8 L781.0 469.9 L782.0 470.0 L783.0 470.0 L784.0 470.1 L785.0 470.3 L786.0 470.4 L787.0 470.4 L788.0 470.3 L789.0 470.0 L790.0 469.4 L791.0 468.8 L792.0 468.3 L793.0 468.1 L794.0 468.1 L795.0 468.4 L796.0 468.8 L797.0 469.3 L798.0 469.7 L799.0 469.9 L800.0 469.9 L801.0 469.6 L802.0 469.3 L803.0 468.9 L804.0 468.6 L805.0 468.4 L806.0 468.4 L807.0 468.5 L808.0 468.7 L809.0 468.9 L810.0 469.1 L811.0 469.2 L812.0 469.2 L813.0 469.2 L814.0 469.4 L815.0 469.6 L816.0 469.7 L817.0 469.8 L818.0 469.7 L819.0 469.5 L820.0 469.2 L821.0 468.9 L822.0 468.6 L823.0 468.4 L824.0 468.3 L825.0 468.0 L826.0 467.7 L827.0 467.3 L828.0 467.0 L829.0 466.8 L830.0 466.7 L831.0 466.8 L832.0 467.0 L833.0 467.1 L834.0 467.3 L835.0 467.3 L836.0 467.3 L837.0 467.4 L838.0 467.6 L839.0 467.8 L840.0 468.0 L841.0 468.1 L842.0 468.0 L843.0 468.0 L844.0 467.9 L845.0 467.9 L846.0 467.8 L847.0 467.8 L848.0 467.6 L849.0 467.2 L850.0 466.7 L851.0 466.0 L852.0 465.5 L853.0 465.2 L854.0 465.2 L855.0 465.4 L856.0 465.7 L857.0 466.0 L858.0 466.3 L859.0 466.4 L860.0 466.4 L861.0 466.2 L862.0 465.9 L863.0 465.7 L864.0 465.4 L865.0 465.3 L866.0 465.2 L867.0 465.1 L868.0 465.1 L869.0 465.0 L870.0 465.0 L871.0 464.9 L872.0 464.7 L873.0 464.6 L874.0 464.4 L875.0 464.2 L876.0 464.0 L877.0 463.8 L878.0 463.6 L879.0 463.4 L880.0 463.2 L881.0 462.9 L882.0 462.7 L883.0 462.5 L884.0 462.4 L885.0 462.2 L886.0 462.1 L887.0 461.9 L888.0 461.8 L889.0 461.7 L890.0 461.5 L891.0 461.5 L892.0 461.6 L893.0 461.6 L894.0 461.6 L895.0 461.7 L896.0 461.8 L897.0 462.0 L898.0 462.2 L899.0 462.4 L900.0 462.6 L901.0 462.8 L902.0 463.0 L903.0 463.3 L904.0 463.7 L905.0 464.2 L906.0 464.6 L907.0 464.8 L908.0 465.0 L909.0 465.3 L910.0 465.7 L911.0 466.0 L912.0 466.4 L913.0 466.6 L914.0 466.7 L915.0 466.5 L916.0 466.2 L917.0 465.8 L918.0 465.5 L919.0 465.4 L920.0 465.5 L921.0 465.8 L922.0 466.1 L923.0 466.4 L924.0 466.7 L925.0 466.9 L926.0 467.1 L927.0 467.3 L928.0 467.5 L929.0 467.7 L930.0 468.0 L931.0 468.1 L932.0 468.2 L933.0 468.3 L934.0 468.4 L935.0 468.5 L936.0 468.6 L937.0 468.7 L938.0 468.7 L939.0 468.5 L940.0 468.1 L941.0 467.6 L942.0 467.2 L943.0 467.1 L944.0 467.2 L945.0 467.6 L946.0 468.2 L947.0 468.8 L948.0 469.3 L949.0 469.6 L950.0 469.8 L951.0 470.2 L952.0 470.7 L953.0 471.3 L954.0 471.8 L955.0 472.2 L956.0 472.4 L957.0 472.3 L958.0 472.0 L959.0 471.6 L960.0 471.3 L961.0 470.9 L962.0 471.0 L963.0 471.4 L964.0 472.0 L965.0 472.6 L966.0 473.1 L967.0 473.4 L968.0 473.3 L969.0 473.1 L970.0 472.6 L971.0 472.2 L972.0 471.8 L973.0 471.6 L974.0 471.6 L975.0 471.9 L976.0 472.3 L977.0 472.7 L978.0 473.1 L979.0 473.3 L980.0 473.2 L981.0 472.8 L982.0 472.3 L983.0 471.8 L984.0 471.3 L985.0 471.0 L986.0 471.0 L987.0 471.0 L988.0 471.1 L989.0 471.1 L990.0 471.2 L991.0 471.2 L992.0 471.2 L993.0 471.2 L994.0 471.1 L995.0 471.1 L996.0 471.1 L997.0 471.1 L998.0 471.2 L999.0 471.5" stroke="#558ED5" stroke-width="3.30" fill="none" stroke-linejoin="round" stroke-linecap="butt"/><path d="M601.3 392.3 L601.7 393.3 L602.1 394.0 L602.6 397.8 L603.0 398.8 L603.5 400.9 L604.0 401.7 L604.5 402.3 L605.0 403.2 L605.5 405.7 L606.0 407.3 L606.5 407.9 L607.0 408.0 L607.5 409.9 L608.0 410.1 L608.5 409.5 L609.0 410.9 L609.4 410.2 L609.9 411.8 L610.4 411.2 L610.9 411.8 L611.4 411.4 L611.8 412.7 L612.3 410.9 L612.8 413.1 L613.3 413.4 L613.8 412.8 L614.3 412.1 L614.8 414.2 L615.2 414.7 L615.7 414.7 L616.2 415.3 L616.7 414.1 L617.2 415.8 L617.6 415.1 L618.1 415.4 L618.6 416.4 L619.1 416.9 L619.6 415.2 L620.1 415.5 L620.5 413.3 L621.0 414.5 L621.5 414.0 L621.9 411.2 L622.3 406.7 L622.6 409.9 L623.0 414.1 L623.5 415.5 L624.0 416.0 L624.5 416.0 L625.0 417.2 L625.5 417.6 L626.0 418.1 L626.5 417.7 L627.0 418.8 L627.4 418.2 L627.9 417.9 L628.4 419.6 L628.9 419.7 L629.3 420.2 L629.8 418.4 L630.3 419.6 L630.8 421.0 L631.2 419.0 L631.7 421.4 L632.2 421.7 L632.7 421.1 L633.1 421.4 L633.6 420.4 L634.1 421.4 L634.6 420.7 L635.1 421.8 L635.5 421.8 L636.0 422.6 L636.5 422.3 L637.0 422.0 L637.4 423.8 L637.9 421.8 L638.4 422.6 L638.9 424.4 L639.3 423.4 L639.8 423.6 L640.3 423.9 L640.8 424.3 L641.2 423.9 L641.7 424.8 L642.2 424.6 L642.7 425.5 L643.2 423.4 L643.7 424.1 L644.1 423.2 L644.6 424.4 L645.1 422.7 L645.6 424.6 L646.1 423.8 L646.5 424.1 L647.0 423.5 L647.5 422.5 L648.0 423.6 L648.5 423.4 L649.0 422.0 L649.5 421.3 L650.0 422.8 L650.5 422.1 L651.0 422.9 L651.5 422.4 L652.0 422.7 L652.5 423.0 L653.0 421.8 L653.5 422.9 L654.0 421.0 L654.5 422.2 L655.0 423.0 L655.5 420.9 L656.0 422.1 L656.5 421.3 L657.0 422.8 L657.5 423.2 L657.9 425.1 L658.4 424.4 L658.9 425.4 L659.4 427.0 L659.9 425.6 L660.4 425.9 L660.8 428.0 L661.3 428.2 L661.8 428.7 L662.3 428.8 L662.8 428.2 L663.2 429.2 L663.7 428.7 L664.2 429.5 L664.7 429.3 L665.2 429.4 L665.7 428.4 L666.1 428.5 L666.6 429.3 L667.1 429.9 L667.6 428.2 L668.1 430.0 L668.6 430.0 L669.1 429.8 L669.6 429.1 L670.1 429.0 L670.6 429.1 L671.1 427.3 L671.6 428.1 L672.0 426.6 L672.5 428.0 L673.0 428.2 L673.5 427.2 L674.0 428.0 L674.5 427.4 L675.0 427.7 L675.5 427.6 L676.0 427.7 L676.5 427.7 L677.0 426.7 L677.5 427.6 L678.0 428.6 L678.5 426.8 L679.0 428.9 L679.5 428.0 L680.0 427.1 L680.5 429.2 L681.0 429.4 L681.5 428.9 L682.0 429.4 L682.5 429.3 L683.0 429.4 L683.5 428.5 L684.0 428.8 L684.5 428.5 L685.0 428.6 L685.5 429.6 L686.0 428.1 L686.5 430.1 L687.0 428.3 L687.5 430.3 L688.0 430.0 L688.5 430.3 L689.0 429.5 L689.5 428.3 L690.0 429.4 L690.5 430.1 L691.0 429.7 L691.5 430.8 L692.0 429.7 L692.5 430.7 L693.0 429.6 L693.5 431.4 L694.0 431.1 L694.5 431.1 L695.0 431.2 L695.5 432.1 L696.0 431.7 L696.5 430.9 L697.0 432.4 L697.5 432.6 L698.0 430.9 L698.5 433.0 L699.0 431.3 L699.5 431.8 L700.0 432.6 L700.5 431.4 L701.0 433.9 L701.5 433.9 L702.0 433.8 L702.5 432.0 L703.0 433.6 L703.5 434.3 L704.0 433.4 L704.5 434.3 L705.0 433.2 L705.5 434.7 L706.0 432.7 L706.5 433.5 L707.0 435.2 L707.5 435.1 L708.0 434.3 L708.5 435.7 L709.0 433.7 L709.5 435.3 L710.0 435.6 L710.5 435.1 L711.0 434.9 L711.5 435.4 L712.0 435.2 L712.5 434.9 L713.0 434.7 L713.5 434.5 L714.0 433.1 L714.5 433.4 L715.0 434.4 L715.5 434.4 L716.0 434.3 L716.5 434.4 L717.0 433.6 L717.5 433.6 L718.0 435.1 L718.5 435.5 L719.0 434.7 L719.5 435.9 L720.0 434.9 L720.5 436.0 L721.0 436.4 L721.5 436.4 L722.0 436.0 L722.5 436.4 L723.0 435.8 L723.5 435.4 L724.0 435.2 L724.5 436.0 L725.0 435.4 L725.5 436.1 L726.0 435.9 L726.5 434.8 L727.0 436.1 L727.5 434.5 L728.0 435.6 L728.5 435.8 L729.0 434.0 L729.5 436.0 L730.0 434.4 L730.5 435.5 L731.0 435.0 L731.5 434.9 L732.0 433.4 L732.5 434.6 L733.0 433.9 L733.5 435.4 L734.0 435.2 L734.5 435.5 L735.0 433.9 L735.5 436.1 L736.0 435.4 L736.5 435.2 L737.0 434.7 L737.5 436.6 L738.0 436.5 L738.5 437.3 L739.0 437.4 L739.5 437.0 L740.0 435.7 L740.5 436.0 L741.0 436.8 L741.5 434.9 L742.0 434.7 L742.5 436.3 L743.0 434.9 L743.5 436.0 L744.0 435.7 L744.5 436.0 L745.0 435.8 L745.5 436.1 L746.0 433.8 L746.5 434.2 L747.0 435.6 L747.5 435.1 L748.0 435.4 L748.5 435.7 L749.0 435.6 L749.5 435.7 L750.0 435.3 L750.5 435.2 L751.0 435.4 L751.5 435.3 L752.0 435.3 L752.5 435.4 L753.0 435.4 L753.5 433.8 L754.0 433.6 L754.5 435.2 L755.0 433.8 L755.5 434.7 L756.0 434.9 L756.5 434.0 L757.0 434.9 L757.5 434.2 L758.0 434.4 L758.5 432.8 L759.0 434.9 L759.5 435.5 L760.0 435.7 L760.5 435.9 L761.0 434.2 L761.5 435.6 L762.0 436.5 L762.5 436.4 L763.0 436.7 L763.5 436.3 L764.0 434.8 L764.5 436.6 L765.0 434.6 L765.5 435.9 L766.0 434.8 L766.5 436.5 L767.0 436.5 L767.5 435.4 L768.0 436.4 L768.5 436.3 L769.0 436.3 L769.5 436.3 L770.0 436.1 L770.5 434.1 L771.0 435.2 L771.5 435.8 L772.0 434.0 L772.5 434.4 L773.0 434.8 L773.5 435.3 L774.0 434.8 L774.5 433.1 L775.0 435.0 L775.5 434.7 L776.0 435.1 L776.5 432.9 L777.0 434.9 L777.5 432.8 L778.0 433.7 L778.5 435.1 L779.0 432.9 L779.5 435.0 L780.0 434.6 L780.5 433.3 L781.0 434.9 L781.5 435.1 L782.0 433.8 L782.5 434.2 L783.0 434.5 L783.5 435.2 L784.0 434.0 L784.5 435.4 L785.0 436.1 L785.5 437.3 L786.0 437.5 L786.5 437.4 L787.0 437.2 L787.5 437.8 L788.0 437.0 L788.5 436.8 L789.0 436.8 L789.5 436.2 L790.0 436.0 L790.5 435.3 L791.0 433.8 L791.5 435.5 L792.0 434.3 L792.5 433.0 L793.0 434.1 L793.5 434.6 L794.0 433.6 L794.5 434.6 L795.0 433.0 L795.5 434.0 L796.0 433.2 L796.5 433.6 L797.0 435.4 L797.5 433.5 L798.0 434.0 L798.5 435.2 L799.0 434.8 L799.5 435.2 L800.0 435.4 L800.5 434.1 L801.0 435.1 L801.5 434.2 L802.0 433.1 L802.5 434.6 L803.0 433.3 L803.5 434.3 L804.0 433.9 L804.5 432.8 L805.0 432.3 L805.5 433.8 L806.0 433.3 L806.5 433.8 L807.0 433.8 L807.5 433.3 L808.0 432.6 L808.5 435.0 L809.0 435.2 L809.5 435.2 L810.0 435.5 L810.5 434.5 L811.0 435.8 L811.5 435.1 L812.0 433.8 L812.5 435.3 L813.0 433.6 L813.5 433.9 L814.0 435.1 L814.5 433.2 L815.0 434.7 L815.5 432.3 L816.0 432.7 L816.5 432.9 L817.0 433.7 L817.5 432.0 L818.0 434.0 L818.5 433.3 L819.0 433.6 L819.5 433.2 L820.0 434.4 L820.5 433.0 L821.0 433.7 L821.5 433.9 L822.0 433.2 L822.5 433.0 L823.0 435.0 L823.5 433.8 L824.0 434.0 L824.5 433.8 L825.0 435.1 L825.5 433.7 L826.0 434.6 L826.5 435.4 L827.0 433.9 L827.5 435.0 L828.0 434.3 L828.5 434.9 L829.0 434.4 L829.5 435.5 L830.0 435.4 L830.5 435.5 L831.0 435.7 L831.5 434.8 L832.0 435.2 L832.5 435.0 L833.0 433.8 L833.5 435.4 L834.0 434.7 L834.5 435.4 L835.0 435.0 L835.5 435.3 L836.0 435.3 L836.5 434.4 L837.0 435.1 L837.5 432.8 L838.0 435.0 L838.5 433.5 L839.0 434.9 L839.5 434.9 L840.0 434.1 L840.5 433.8 L841.0 432.5 L841.5 433.4 L842.0 433.8 L842.5 434.9 L843.0 434.8 L843.5 433.4 L844.0 434.2 L844.5 435.4 L845.0 435.4 L845.5 435.3 L846.0 435.6 L846.5 434.1 L847.0 435.3 L847.5 433.5 L848.0 434.4 L848.5 433.4 L849.0 433.6 L849.5 433.8 L850.0 434.7 L850.5 434.5 L851.0 433.8 L851.5 432.2 L852.0 432.3 L852.5 432.6 L853.0 433.6 L853.5 433.5 L854.0 433.6 L854.5 432.4 L855.0 433.5 L855.5 432.4 L856.0 432.1 L856.5 433.3 L857.0 431.7 L857.5 433.2 L858.0 431.3 L858.5 432.6 L859.0 433.0 L859.5 433.1 L860.0 432.2 L860.5 431.8 L861.0 431.2 L861.5 433.7 L862.0 432.4 L862.5 433.6 L863.0 434.5 L863.5 434.0 L864.0 434.5 L864.5 433.3 L865.0 433.8 L865.5 435.2 L866.0 434.1 L866.5 434.6 L867.0 434.6 L867.5 434.0 L868.0 433.0 L868.5 435.1 L869.0 435.0 L869.5 434.5 L870.0 435.0 L870.5 433.7 L871.0 434.4 L871.5 435.0 L872.0 435.0 L872.5 434.9 L873.0 434.2 L873.5 434.2 L874.0 433.2 L874.5 432.6 L875.0 431.4 L875.5 433.5 L876.0 433.1 L876.5 433.0 L877.0 433.0 L877.5 433.0 L878.0 430.7 L878.5 433.2 L879.0 433.1 L879.5 432.4 L880.0 434.0 L880.5 434.2 L881.0 432.4 L881.5 434.1 L882.0 433.8 L882.5 434.1 L883.0 434.3 L883.5 435.4 L884.0 433.8 L884.5 435.5 L885.0 435.2 L885.5 433.1 L886.0 435.0 L886.5 433.2 L887.0 433.2 L887.5 435.5 L888.0 435.3 L888.5 435.3 L889.0 435.3 L889.5 434.1 L890.0 434.7 L890.5 433.6 L891.0 433.4 L891.5 432.5 L892.0 434.0 L892.5 433.5 L893.0 432.2 L893.5 433.7 L894.0 433.4 L894.5 432.8 L895.0 432.6 L895.5 431.9 L896.0 432.1 L896.5 432.6 L897.0 432.9 L897.5 433.2 L898.0 433.7 L898.5 434.4 L899.0 434.5 L899.5 435.3 L900.0 433.9 L900.5 435.7 L901.0 435.2 L901.5 434.1 L902.0 435.3 L902.5 435.4 L903.0 434.0 L903.5 433.9 L904.0 435.1 L904.5 434.9 L905.0 435.0 L905.5 434.9 L906.0 434.7 L906.5 432.6 L907.0 432.6 L907.5 433.7 L908.0 434.6 L908.5 433.3 L909.0 433.7 L909.5 433.6 L910.0 434.1 L910.5 434.1 L911.0 433.3 L911.5 433.4 L912.0 433.7 L912.5 432.6 L913.0 433.5 L913.5 433.6 L914.0 433.5 L914.5 433.7 L915.0 434.1 L915.5 433.2 L916.0 432.9 L916.5 432.9 L917.0 434.8 L917.5 435.0 L918.0 433.4 L918.5 433.8 L919.0 434.8 L919.5 435.6 L920.0 435.2 L920.5 435.4 L921.0 433.4 L921.5 433.7 L922.0 434.1 L922.5 433.5 L923.0 433.7 L923.5 433.0 L924.0 432.6 L924.5 430.8 L925.0 431.0 L925.5 430.5 L926.0 431.2 L926.5 432.5 L927.0 431.4 L927.5 431.3 L928.0 432.8 L928.5 432.7 L929.0 432.5 L929.5 432.1 L930.0 432.1 L930.5 432.3 L931.0 431.4 L931.5 432.7 L932.0 430.9 L932.5 432.7 L933.0 430.8 L933.5 432.0 L934.0 432.4 L934.5 431.4 L935.0 431.8 L935.5 432.7 L936.0 432.9 L936.5 432.3 L937.0 432.7 L937.5 433.2 L938.0 433.4 L938.5 433.5 L939.0 433.9 L939.5 433.7 L940.0 434.6 L940.5 433.7 L941.0 434.1 L941.5 435.5 L942.0 435.0 L942.5 434.6 L943.0 435.5 L943.5 434.6 L944.0 436.1 L944.5 436.0 L945.0 434.9 L945.5 435.9 L946.0 436.0 L946.5 435.2 L947.0 435.6 L947.5 434.1 L948.0 435.9 L948.5 435.5 L949.0 435.6 L949.5 435.6 L950.0 435.8 L950.5 434.2 L951.0 435.4 L951.5 434.7 L952.0 433.6 L952.5 434.3 L953.0 433.1 L953.5 433.6 L954.0 433.6 L954.5 431.7 L955.0 432.1 L955.5 431.9 L956.0 431.5 L956.5 433.3 L957.0 432.7 L957.5 431.5 L958.0 432.9 L958.5 433.5 L959.0 433.3 L959.5 433.4 L960.0 433.4 L960.5 431.9 L961.0 432.7 L961.5 433.8 L962.0 433.9 L962.5 433.4 L963.0 431.8 L963.5 433.9 L964.0 433.6 L964.5 433.6 L965.0 432.0 L965.5 432.8 L966.0 433.7 L966.5 433.3 L967.0 432.7 L967.5 433.7 L968.0 433.5 L968.5 433.7 L969.0 431.9 L969.5 433.8 L970.0 432.8 L970.5 434.4 L971.0 433.1 L971.5 434.2 L972.0 433.2 L972.5 434.5 L973.0 434.0 L973.5 434.2 L974.0 433.1 L974.5 433.3 L975.0 434.8 L975.5 435.0 L976.0 433.2 L976.5 435.1 L977.0 435.2 L977.5 434.4 L978.0 433.5 L978.5 433.5 L979.0 435.2 L979.5 433.3 L980.0 435.2 L980.5 435.0 L981.0 435.2 L981.5 435.2 L982.0 435.1 L982.5 435.1 L983.0 434.7 L983.5 435.1 L984.0 433.2 L984.5 433.7 L985.0 435.0 L985.5 433.5 L986.0 434.9 L986.5 433.8 L987.0 434.6 L987.5 434.8 L988.0 435.2 L988.5 435.5 L989.0 434.0 L989.5 434.8 L990.0 435.7 L990.5 434.0 L991.0 434.8 L991.5 434.1 L992.0 434.3 L992.5 434.5 L993.0 434.5 L993.5 435.4 L994.0 433.7 L994.5 434.6 L995.0 435.0 L995.5 434.5 L996.0 433.6 L996.5 434.5 L997.0 434.1 L997.5 434.1 L998.0 434.4 L998.5 432.8 L999.0 434.0 L999.5 434.0 L1000.0 432.0 L1000.0 448.1 L999.5 449.1 L999.0 448.8 L998.5 447.5 L998.0 448.6 L997.5 447.7 L997.0 449.9 L996.5 447.7 L996.0 447.9 L995.5 449.6 L995.0 449.7 L994.5 448.2 L994.0 448.8 L993.5 450.9 L993.0 449.3 L992.5 448.9 L992.0 449.1 L991.5 449.0 L991.0 449.9 L990.5 451.0 L990.0 449.0 L989.5 448.8 L989.0 448.7 L988.5 448.9 L988.0 450.1 L987.5 449.3 L987.0 448.7 L986.5 448.2 L986.0 448.2 L985.5 449.0 L985.0 448.2 L984.5 450.0 L984.0 448.2 L983.5 448.4 L983.0 448.5 L982.5 448.5 L982.0 448.9 L981.5 448.4 L981.0 449.6 L980.5 448.7 L980.0 448.4 L979.5 449.2 L979.0 449.5 L978.5 448.3 L978.0 448.3 L977.5 449.3 L977.0 448.3 L976.5 448.3 L976.0 449.6 L975.5 449.8 L975.0 450.2 L974.5 448.2 L974.0 449.3 L973.5 448.5 L973.0 449.8 L972.5 448.1 L972.0 447.9 L971.5 448.2 L971.0 447.7 L970.5 447.8 L970.0 447.4 L969.5 447.2 L969.0 447.2 L968.5 448.4 L968.0 446.8 L967.5 448.1 L967.0 448.1 L966.5 448.7 L966.0 447.1 L965.5 448.0 L965.0 447.3 L964.5 446.9 L964.0 449.1 L963.5 447.4 L963.0 448.4 L962.5 448.5 L962.0 448.4 L961.5 448.4 L961.0 447.1 L960.5 447.2 L960.0 449.2 L959.5 447.7 L959.0 449.0 L958.5 447.8 L958.0 447.2 L957.5 447.5 L957.0 447.4 L956.5 447.9 L956.0 446.7 L955.5 447.2 L955.0 448.2 L954.5 447.4 L954.0 448.4 L953.5 447.4 L953.0 447.9 L952.5 447.6 L952.0 448.4 L951.5 450.5 L951.0 448.9 L950.5 450.2 L950.0 449.0 L949.5 451.1 L949.0 449.0 L948.5 449.4 L948.0 449.2 L947.5 449.4 L947.0 451.0 L946.5 451.0 L946.0 449.3 L945.5 450.2 L945.0 449.1 L944.5 449.1 L944.0 449.2 L943.5 449.7 L943.0 449.1 L942.5 451.0 L942.0 448.8 L941.5 448.6 L941.0 449.6 L940.5 449.5 L940.0 448.1 L939.5 447.6 L939.0 447.2 L938.5 448.9 L938.0 448.0 L937.5 446.5 L937.0 447.9 L936.5 446.9 L936.0 446.6 L935.5 447.0 L935.0 448.1 L934.5 446.9 L934.0 446.5 L933.5 446.8 L933.0 446.3 L932.5 446.9 L932.0 447.3 L931.5 447.0 L931.0 447.1 L930.5 446.2 L930.0 446.1 L929.5 447.2 L929.0 446.3 L928.5 447.6 L928.0 447.7 L927.5 447.6 L927.0 447.9 L926.5 446.7 L926.0 446.7 L925.5 448.1 L925.0 446.5 L924.5 446.2 L924.0 447.2 L923.5 447.6 L923.0 447.7 L922.5 447.2 L922.0 447.7 L921.5 447.9 L921.0 448.2 L920.5 449.3 L920.0 449.8 L919.5 451.0 L919.0 448.9 L918.5 448.7 L918.0 449.4 L917.5 448.5 L917.0 450.4 L916.5 447.9 L916.0 448.1 L915.5 448.8 L915.0 448.2 L914.5 447.1 L914.0 447.0 L913.5 447.7 L913.0 447.7 L912.5 446.9 L912.0 447.5 L911.5 448.2 L911.0 448.3 L910.5 448.6 L910.0 448.8 L909.5 448.4 L909.0 447.8 L908.5 449.1 L908.0 450.0 L907.5 448.3 L907.0 448.4 L906.5 448.8 L906.0 448.9 L905.5 448.0 L905.0 450.3 L904.5 448.6 L904.0 449.1 L903.5 448.5 L903.0 448.9 L902.5 449.2 L902.0 448.9 L901.5 449.0 L901.0 449.7 L900.5 449.1 L900.0 450.0 L899.5 448.8 L899.0 448.0 L898.5 450.0 L898.0 447.4 L897.5 447.5 L897.0 446.9 L896.5 446.9 L896.0 446.8 L895.5 447.8 L895.0 446.5 L894.5 448.6 L894.0 448.8 L893.5 448.6 L893.0 447.1 L892.5 449.5 L892.0 448.8 L891.5 447.8 L891.0 448.1 L890.5 449.5 L890.0 449.1 L889.5 449.0 L889.0 448.5 L888.5 448.9 L888.0 448.7 L887.5 448.8 L887.0 449.2 L886.5 448.5 L886.0 450.4 L885.5 450.3 L885.0 449.6 L884.5 448.9 L884.0 448.6 L883.5 450.0 L883.0 449.1 L882.5 448.9 L882.0 449.4 L881.5 450.0 L881.0 449.5 L880.5 448.1 L880.0 449.4 L879.5 447.6 L879.0 447.0 L878.5 448.0 L878.0 446.2 L877.5 447.0 L877.0 446.7 L876.5 448.1 L876.0 446.4 L875.5 446.7 L875.0 448.4 L874.5 447.0 L874.0 449.0 L873.5 449.7 L873.0 449.7 L872.5 449.1 L872.0 449.9 L871.5 448.3 L871.0 449.1 L870.5 448.1 L870.0 448.4 L869.5 449.6 L869.0 450.0 L868.5 448.7 L868.0 448.6 L867.5 448.2 L867.0 448.3 L866.5 448.4 L866.0 449.4 L865.5 450.3 L865.0 450.2 L864.5 450.1 L864.0 449.5 L863.5 447.8 L863.0 448.8 L862.5 449.2 L862.0 447.1 L861.5 447.2 L861.0 448.4 L860.5 446.3 L860.0 446.2 L859.5 447.1 L859.0 447.0 L858.5 446.3 L858.0 446.9 L857.5 447.8 L857.0 446.3 L856.5 446.4 L856.0 447.1 L855.5 446.5 L855.0 446.6 L854.5 447.5 L854.0 446.7 L853.5 447.2 L853.0 446.9 L852.5 446.8 L852.0 448.1 L851.5 447.9 L851.0 447.4 L850.5 449.9 L850.0 448.1 L849.5 449.8 L849.0 450.6 L848.5 449.8 L848.0 450.3 L847.5 450.0 L847.0 449.4 L846.5 449.6 L846.0 449.4 L845.5 450.8 L845.0 450.6 L844.5 448.5 L844.0 448.4 L843.5 449.1 L843.0 448.5 L842.5 449.4 L842.0 448.6 L841.5 449.7 L841.0 448.0 L840.5 447.9 L840.0 448.1 L839.5 449.2 L839.0 449.9 L838.5 450.2 L838.0 448.4 L837.5 448.6 L837.0 448.3 L836.5 449.7 L836.0 448.7 L835.5 449.2 L835.0 448.7 L834.5 450.5 L834.0 449.4 L833.5 449.4 L833.0 448.7 L832.5 451.0 L832.0 449.4 L831.5 448.9 L831.0 449.5 L830.5 449.5 L830.0 451.2 L829.5 449.0 L829.0 450.0 L828.5 451.2 L828.0 449.3 L827.5 449.2 L827.0 449.7 L826.5 449.3 L826.0 448.5 L825.5 449.8 L825.0 448.2 L824.5 448.3 L824.0 448.6 L823.5 448.1 L823.0 449.4 L822.5 448.0 L822.0 448.4 L821.5 448.6 L821.0 448.0 L820.5 447.6 L820.0 449.5 L819.5 447.4 L819.0 447.7 L818.5 449.6 L818.0 447.5 L817.5 448.7 L817.0 449.5 L816.5 449.2 L816.0 447.7 L815.5 447.7 L815.0 448.0 L814.5 449.1 L814.0 448.5 L813.5 448.6 L813.0 450.6 L812.5 451.2 L812.0 449.5 L811.5 450.4 L811.0 449.3 L810.5 449.0 L810.0 450.9 L809.5 448.8 L809.0 450.2 L808.5 448.4 L808.0 448.6 L807.5 448.4 L807.0 447.6 L806.5 447.6 L806.0 447.1 L805.5 448.9 L805.0 448.5 L804.5 447.3 L804.0 447.2 L803.5 447.7 L803.0 447.6 L802.5 448.2 L802.0 449.6 L801.5 449.7 L801.0 448.9 L800.5 449.0 L800.0 449.1 L799.5 448.9 L799.0 450.2 L798.5 449.5 L798.0 449.0 L797.5 448.6 L797.0 450.1 L796.5 449.4 L796.0 450.4 L795.5 449.7 L795.0 450.4 L794.5 449.6 L794.0 448.0 L793.5 448.1 L793.0 448.9 L792.5 450.2 L792.0 450.2 L791.5 449.3 L791.0 449.5 L790.5 450.0 L790.0 449.9 L789.5 450.0 L789.0 452.5 L788.5 451.9 L788.0 451.9 L787.5 451.8 L787.0 451.2 L786.5 453.0 L786.0 452.0 L785.5 450.4 L785.0 451.4 L784.5 450.0 L784.0 449.8 L783.5 449.4 L783.0 449.7 L782.5 448.7 L782.0 448.4 L781.5 448.7 L781.0 449.2 L780.5 449.9 L780.0 448.2 L779.5 449.8 L779.0 448.4 L778.5 448.3 L778.0 448.9 L777.5 448.6 L777.0 449.2 L776.5 448.1 L776.0 448.8 L775.5 448.5 L775.0 450.4 L774.5 448.2 L774.0 448.3 L773.5 448.4 L773.0 448.7 L772.5 450.8 L772.0 449.1 L771.5 450.2 L771.0 449.2 L770.5 449.3 L770.0 449.4 L769.5 449.5 L769.0 449.4 L768.5 449.7 L768.0 450.7 L767.5 451.2 L767.0 449.5 L766.5 449.9 L766.0 450.4 L765.5 449.7 L765.0 451.7 L764.5 451.3 L764.0 451.0 L763.5 450.1 L763.0 450.1 L762.5 449.8 L762.0 449.9 L761.5 450.8 L761.0 449.2 L760.5 450.1 L760.0 448.7 L759.5 449.7 L759.0 450.0 L758.5 449.9 L758.0 449.9 L757.5 449.7 L757.0 448.0 L756.5 448.0 L756.0 449.0 L755.5 448.3 L755.0 449.4 L754.5 449.0 L754.0 448.4 L753.5 449.0 L753.0 450.6 L752.5 448.8 L752.0 451.0 L751.5 449.9 L751.0 449.3 L750.5 449.1 L750.0 450.7 L749.5 450.9 L749.0 449.3 L748.5 450.8 L748.0 449.0 L747.5 449.8 L747.0 449.1 L746.5 449.9 L746.0 450.9 L745.5 450.0 L745.0 451.1 L744.5 450.1 L744.0 450.5 L743.5 449.7 L743.0 451.7 L742.5 449.8 L742.0 450.2 L741.5 450.5 L741.0 450.9 L740.5 451.0 L740.0 452.8 L739.5 450.6 L739.0 451.8 L738.5 450.9 L738.0 450.4 L737.5 450.3 L737.0 452.1 L736.5 451.6 L736.0 451.5 L735.5 450.0 L735.0 450.6 L734.5 450.6 L734.0 450.8 L733.5 448.7 L733.0 448.7 L732.5 450.8 L732.0 448.9 L731.5 449.4 L731.0 449.1 L730.5 450.5 L730.0 449.0 L729.5 449.3 L729.0 449.1 L728.5 450.2 L728.0 450.0 L727.5 451.2 L727.0 450.1 L726.5 450.8 L726.0 449.2 L725.5 451.4 L725.0 449.5 L724.5 449.4 L724.0 449.5 L723.5 450.2 L723.0 451.4 L722.5 450.6 L722.0 450.0 L721.5 449.7 L721.0 451.0 L720.5 450.8 L720.0 450.2 L719.5 449.7 L719.0 448.9 L718.5 449.3 L718.0 448.9 L717.5 448.5 L717.0 449.4 L716.5 448.9 L716.0 447.8 L715.5 448.1 L715.0 447.7 L714.5 447.8 L714.0 448.3 L713.5 448.9 L713.0 449.6 L712.5 449.8 L712.0 448.3 L711.5 448.4 L711.0 448.7 L710.5 449.5 L710.0 449.2 L709.5 451.0 L709.0 449.1 L708.5 448.8 L708.0 448.8 L707.5 450.9 L707.0 448.4 L706.5 449.1 L706.0 448.2 L705.5 448.3 L705.0 447.8 L704.5 447.8 L704.0 447.8 L703.5 447.9 L703.0 447.7 L702.5 447.6 L702.0 447.9 L701.5 448.1 L701.0 447.7 L700.5 447.0 L700.0 446.7 L699.5 446.5 L699.0 446.4 L698.5 447.2 L698.0 446.3 L697.5 446.6 L697.0 445.6 L696.5 446.4 L696.0 445.4 L695.5 445.2 L695.0 446.8 L694.5 444.9 L694.0 444.7 L693.5 444.5 L693.0 445.3 L692.5 444.9 L692.0 444.3 L691.5 445.8 L691.0 443.9 L690.5 446.0 L690.0 443.6 L689.5 444.4 L689.0 444.9 L688.5 443.7 L688.0 445.6 L687.5 443.5 L687.0 443.2 L686.5 443.2 L686.0 444.6 L685.5 443.9 L685.0 443.9 L684.5 443.9 L684.0 443.8 L683.5 443.9 L683.0 443.1 L682.5 443.5 L682.0 442.5 L681.5 442.5 L681.0 442.8 L680.5 442.7 L680.0 442.3 L679.5 442.5 L679.0 443.8 L678.5 442.6 L678.0 444.1 L677.5 442.3 L677.0 442.4 L676.5 442.1 L676.0 440.8 L675.5 440.9 L675.0 441.0 L674.5 440.9 L674.0 441.3 L673.5 442.3 L673.0 441.3 L672.5 442.0 L672.0 441.9 L671.6 442.0 L671.1 442.1 L670.6 442.4 L670.1 442.8 L669.6 443.6 L669.1 445.0 L668.6 443.7 L668.1 444.7 L667.6 444.8 L667.1 445.2 L666.6 443.0 L666.1 443.4 L665.7 443.2 L665.2 442.7 L664.7 444.0 L664.2 442.8 L663.7 442.8 L663.2 443.3 L662.8 443.2 L662.3 442.7 L661.8 443.1 L661.3 442.4 L660.8 441.5 L660.4 441.8 L659.9 440.6 L659.4 440.7 L658.9 439.4 L658.4 441.1 L657.9 439.0 L657.5 437.7 L657.0 437.8 L656.5 437.2 L656.0 436.2 L655.5 437.6 L655.0 436.3 L654.5 436.6 L654.0 437.1 L653.5 437.2 L653.0 437.1 L652.5 436.4 L652.0 436.6 L651.5 436.9 L651.0 437.1 L650.5 437.6 L650.0 436.8 L649.5 438.4 L649.0 437.1 L648.5 438.3 L648.0 437.0 L647.5 437.6 L647.0 437.9 L646.5 439.9 L646.1 438.4 L645.6 438.3 L645.1 438.2 L644.6 438.5 L644.1 438.5 L643.7 439.3 L643.2 439.4 L642.7 438.7 L642.2 440.1 L641.7 440.3 L641.2 438.6 L640.8 438.5 L640.3 438.3 L639.8 438.1 L639.3 438.2 L638.9 438.9 L638.4 439.2 L637.9 438.9 L637.4 437.0 L637.0 437.6 L636.5 436.6 L636.0 436.4 L635.5 437.7 L635.1 436.3 L634.6 437.2 L634.1 436.8 L633.6 435.5 L633.1 436.2 L632.7 436.1 L632.2 435.9 L631.7 435.1 L631.2 435.3 L630.8 434.3 L630.3 434.7 L629.8 434.4 L629.3 433.7 L628.9 433.0 L628.4 432.8 L627.9 434.1 L627.4 433.0 L627.0 432.3 L626.5 431.9 L626.0 432.0 L625.5 432.8 L625.0 431.0 L624.5 430.2 L624.0 430.3 L623.5 430.9 L623.0 428.1 L622.6 424.7 L622.3 422.7 L621.9 424.6 L621.5 427.9 L621.0 429.5 L620.5 428.6 L620.1 430.0 L619.6 430.5 L619.1 430.8 L618.6 429.9 L618.1 430.8 L617.6 429.4 L617.2 429.1 L616.7 430.5 L616.2 429.6 L615.7 428.1 L615.2 429.8 L614.8 428.2 L614.3 427.2 L613.8 426.9 L613.3 427.9 L612.8 427.7 L612.3 426.1 L611.8 425.9 L611.4 425.9 L610.9 425.4 L610.4 426.5 L609.9 425.1 L609.4 424.8 L609.0 425.8 L608.5 424.2 L608.0 424.5 L607.5 424.3 L607.0 422.6 L606.5 421.6 L606.0 422.7 L605.5 419.9 L605.0 420.5 L604.5 416.9 L604.0 415.5 L603.5 416.0 L603.0 413.4 L602.6 410.8 L602.1 409.3 L601.7 408.0 L601.3 405.5Z" fill="#1F497D"/><path d="M601.3 398.9 L602.1 402.5 L603.0 406.2 L604.0 408.9 L605.0 411.7 L606.0 413.9 L607.0 416.1 L608.0 417.3 L609.0 417.8 L609.9 418.3 L610.9 418.8 L611.8 419.3 L612.8 419.8 L613.8 420.3 L614.8 420.9 L615.7 421.6 L616.7 422.2 L617.6 422.8 L618.6 423.4 L619.6 423.2 L620.5 422.0 L621.5 420.8 L622.3 414.7 L623.0 421.6 L624.0 422.6 L625.0 423.7 L626.0 424.9 L627.0 425.4 L627.9 425.9 L628.9 426.5 L629.8 427.0 L630.8 427.5 L631.7 428.0 L632.7 428.5 L633.6 428.9 L634.6 429.3 L635.5 429.6 L636.5 430.0 L637.4 430.4 L638.4 430.8 L639.3 431.2 L640.3 431.5 L641.2 431.9 L642.2 432.2 L643.2 432.0 L644.1 431.8 L645.1 431.5 L646.1 431.2 L647.0 430.8 L648.0 430.5 L649.0 430.3 L650.0 430.2 L651.0 430.0 L652.0 429.9 L653.0 429.8 L654.0 429.7 L655.0 429.5 L656.0 429.5 L657.0 430.5 L657.9 431.7 L658.9 432.9 L659.9 434.0 L660.8 435.0 L661.8 435.6 L662.8 435.9 L663.7 436.0 L664.7 436.0 L665.7 436.1 L666.6 436.4 L667.6 436.9 L668.6 436.6 L669.6 436.2 L670.6 435.7 L671.6 435.3 L672.5 434.9 L673.5 434.6 L674.5 434.4 L675.5 434.3 L676.5 434.5 L677.5 435.0 L678.5 435.4 L679.5 435.7 L680.5 435.8 L681.5 435.9 L682.5 436.0 L683.5 436.1 L684.5 436.2 L685.5 436.4 L686.5 436.6 L687.5 436.8 L688.5 436.9 L689.5 437.0 L690.5 437.2 L691.5 437.4 L692.5 437.7 L693.5 438.0 L694.5 438.3 L695.5 438.6 L696.5 438.9 L697.5 439.1 L698.5 439.5 L699.5 439.9 L700.5 440.3 L701.5 440.6 L702.5 440.9 L703.5 441.0 L704.5 441.1 L705.5 441.4 L706.5 441.7 L707.5 442.0 L708.5 442.2 L709.5 442.3 L710.5 442.2 L711.5 441.9 L712.5 441.5 L713.5 441.2 L714.5 441.0 L715.5 440.9 L716.5 441.2 L717.5 441.6 L718.5 442.0 L719.5 442.5 L720.5 442.8 L721.5 443.0 L722.5 443.0 L723.5 442.9 L724.5 442.8 L725.5 442.7 L726.5 442.7 L727.5 442.7 L728.5 442.7 L729.5 442.5 L730.5 442.4 L731.5 442.2 L732.5 442.1 L733.5 442.1 L734.5 442.3 L735.5 442.7 L736.5 443.1 L737.5 443.5 L738.5 443.8 L739.5 443.9 L740.5 443.8 L741.5 443.5 L742.5 443.2 L743.5 442.9 L744.5 442.7 L745.5 442.6 L746.5 442.6 L747.5 442.5 L748.5 442.3 L749.5 442.2 L750.5 442.1 L751.5 442.1 L752.5 442.0 L753.5 441.9 L754.5 441.7 L755.5 441.6 L756.5 441.5 L757.5 441.4 L758.5 441.6 L759.5 442.0 L760.5 442.4 L761.5 442.9 L762.5 443.2 L763.5 443.3 L764.5 443.2 L765.5 443.1 L766.5 443.0 L767.5 443.0 L768.5 442.9 L769.5 442.9 L770.5 442.7 L771.5 442.5 L772.5 442.2 L773.5 441.9 L774.5 441.7 L775.5 441.6 L776.5 441.6 L777.5 441.6 L778.5 441.6 L779.5 441.7 L780.5 441.7 L781.5 441.7 L782.5 442.0 L783.5 442.5 L784.5 443.2 L785.5 443.8 L786.5 444.3 L787.5 444.4 L788.5 444.1 L789.5 443.5 L790.5 442.8 L791.5 442.1 L792.5 441.6 L793.5 441.4 L794.5 441.5 L795.5 441.7 L796.5 441.9 L797.5 442.1 L798.5 442.3 L799.5 442.3 L800.5 442.1 L801.5 441.7 L802.5 441.3 L803.5 440.8 L804.5 440.5 L805.5 440.4 L806.5 440.6 L807.5 441.0 L808.5 441.6 L809.5 442.1 L810.5 442.4 L811.5 442.5 L812.5 442.3 L813.5 441.9 L814.5 441.5 L815.5 441.1 L816.5 440.7 L817.5 440.6 L818.5 440.7 L819.5 440.9 L820.5 441.1 L821.5 441.3 L822.5 441.5 L823.5 441.5 L824.5 441.6 L825.5 441.8 L826.5 442.1 L827.5 442.3 L828.5 442.5 L829.5 442.5 L830.5 442.4 L831.5 442.3 L832.5 442.2 L833.5 442.0 L834.5 441.9 L835.5 441.9 L836.5 441.8 L837.5 441.7 L838.5 441.6 L839.5 441.5 L840.5 441.4 L841.5 441.3 L842.5 441.4 L843.5 441.7 L844.5 441.9 L845.5 442.2 L846.5 442.4 L847.5 442.4 L848.5 442.2 L849.5 441.7 L850.5 441.2 L851.5 440.7 L852.5 440.3 L853.5 440.2 L854.5 440.1 L855.5 440.0 L856.5 439.9 L857.5 439.7 L858.5 439.7 L859.5 439.6 L860.5 439.8 L861.5 440.2 L862.5 440.8 L863.5 441.3 L864.5 441.6 L865.5 441.7 L866.5 441.7 L867.5 441.7 L868.5 441.6 L869.5 441.6 L870.5 441.6 L871.5 441.6 L872.5 441.4 L873.5 441.0 L874.5 440.5 L875.5 440.0 L876.5 439.7 L877.5 439.6 L878.5 439.8 L879.5 440.3 L880.5 440.9 L881.5 441.5 L882.5 441.9 L883.5 442.0 L884.5 442.0 L885.5 442.0 L886.5 442.0 L887.5 442.0 L888.5 442.0 L889.5 442.0 L890.5 441.7 L891.5 441.3 L892.5 440.7 L893.5 440.2 L894.5 439.8 L895.5 439.7 L896.5 440.0 L897.5 440.5 L898.5 441.2 L899.5 441.8 L900.5 442.2 L901.5 442.3 L902.5 442.2 L903.5 442.0 L904.5 441.7 L905.5 441.4 L906.5 441.2 L907.5 441.2 L908.5 441.1 L909.5 440.9 L910.5 440.7 L911.5 440.5 L912.5 440.3 L913.5 440.3 L914.5 440.5 L915.5 440.9 L916.5 441.3 L917.5 441.8 L918.5 442.1 L919.5 442.2 L920.5 441.9 L921.5 441.3 L922.5 440.6 L923.5 440.0 L924.5 439.5 L925.5 439.4 L926.5 439.4 L927.5 439.4 L928.5 439.5 L929.5 439.6 L930.5 439.6 L931.5 439.6 L932.5 439.7 L933.5 439.7 L934.5 439.8 L935.5 439.9 L936.5 440.0 L937.5 440.0 L938.5 440.3 L939.5 440.8 L940.5 441.4 L941.5 442.0 L942.5 442.5 L943.5 442.6 L944.5 442.6 L945.5 442.6 L946.5 442.5 L947.5 442.5 L948.5 442.5 L949.5 442.5 L950.5 442.2 L951.5 441.7 L952.5 441.1 L953.5 440.4 L954.5 440.0 L955.5 439.9 L956.5 439.9 L957.5 440.1 L958.5 440.2 L959.5 440.3 L960.5 440.4 L961.5 440.4 L962.5 440.4 L963.5 440.4 L964.5 440.3 L965.5 440.3 L966.5 440.2 L967.5 440.2 L968.5 440.4 L969.5 440.6 L970.5 441.0 L971.5 441.3 L972.5 441.5 L973.5 441.6 L974.5 441.6 L975.5 441.6 L976.5 441.7 L977.5 441.8 L978.5 441.8 L979.5 441.8 L980.5 441.8 L981.5 441.7 L982.5 441.7 L983.5 441.6 L984.5 441.6 L985.5 441.6 L986.5 441.7 L987.5 441.8 L988.5 442.1 L989.5 442.3 L990.5 442.4 L991.5 442.5 L992.5 442.3 L993.5 442.0 L994.5 441.7 L995.5 441.4 L996.5 441.1 L997.5 441.0 L998.5 440.9 L999.5 440.6" stroke="#1F497D" stroke-width="7.70" fill="none" stroke-linejoin="round" stroke-linecap="butt"/><path d="M601.3 505.9 L601.8 507.6 L602.2 507.8 L602.7 508.0 L603.2 506.8 L603.7 506.9 L604.1 507.9 L604.6 507.8 L605.1 507.5 L605.6 507.4 L606.0 504.2 L606.5 505.6 L607.0 506.5 L607.5 504.0 L607.9 504.3 L608.4 505.5 L608.9 504.4 L609.4 502.6 L609.9 502.9 L610.4 505.2 L610.8 503.8 L611.3 503.5 L611.8 505.1 L612.3 502.3 L612.8 505.0 L613.3 502.1 L613.7 504.8 L614.2 502.5 L614.7 504.3 L615.2 504.9 L615.7 504.3 L616.2 503.4 L616.6 501.2 L617.1 500.5 L617.6 502.8 L618.1 500.1 L618.6 501.8 L619.1 501.5 L619.5 501.8 L620.0 501.9 L620.5 500.6 L621.0 502.7 L621.5 501.7 L622.0 502.0 L622.5 500.2 L623.0 502.7 L623.5 502.5 L624.0 500.8 L624.5 502.2 L625.0 500.7 L625.5 500.4 L626.0 501.1 L626.5 500.5 L627.0 500.9 L627.5 500.1 L628.0 498.2 L628.4 500.0 L628.9 497.6 L629.4 499.5 L629.9 499.2 L630.4 499.6 L630.9 499.3 L631.4 500.4 L631.9 500.7 L632.4 501.0 L632.9 500.8 L633.4 499.9 L633.9 499.0 L634.4 501.1 L634.9 499.7 L635.4 498.2 L635.9 498.9 L636.4 500.8 L636.9 500.2 L637.4 498.3 L637.9 501.0 L638.4 500.6 L638.9 499.2 L639.3 499.4 L639.8 500.6 L640.3 498.8 L640.8 497.7 L641.3 498.5 L641.8 499.5 L642.3 498.9 L642.8 496.6 L643.3 498.2 L643.8 497.8 L644.3 498.2 L644.8 498.7 L645.3 497.9 L645.8 499.1 L646.3 496.3 L646.8 499.2 L647.3 497.9 L647.8 498.5 L648.2 497.0 L648.7 497.3 L649.2 497.5 L649.7 497.2 L650.2 497.1 L650.7 498.6 L651.2 497.7 L651.7 499.5 L652.2 496.9 L652.7 500.4 L653.2 498.4 L653.7 498.7 L654.2 500.2 L654.6 500.7 L655.1 500.0 L655.6 500.2 L656.1 500.1 L656.6 498.9 L657.1 498.2 L657.6 498.3 L658.0 499.1 L658.5 497.0 L659.0 499.2 L659.5 496.6 L660.0 498.3 L660.5 497.4 L661.0 496.2 L661.5 497.3 L662.0 499.3 L662.4 499.9 L662.9 497.2 L663.4 499.4 L663.9 501.1 L664.4 500.0 L664.9 498.0 L665.4 500.4 L665.8 498.9 L666.3 499.1 L666.8 499.7 L667.3 497.7 L667.8 499.4 L668.3 499.5 L668.8 500.0 L669.3 498.5 L669.8 500.4 L670.3 501.2 L670.8 501.1 L671.3 501.9 L671.8 502.1 L672.3 501.2 L672.8 500.9 L673.3 501.9 L673.8 499.1 L674.3 502.2 L674.8 501.3 L675.2 500.0 L675.7 500.1 L676.2 501.6 L676.7 502.6 L677.2 501.1 L677.7 503.8 L678.2 503.9 L678.7 504.0 L679.2 503.7 L679.7 500.5 L680.2 502.0 L680.7 502.5 L681.2 502.0 L681.7 500.0 L682.2 502.0 L682.7 502.0 L683.2 501.3 L683.7 501.6 L684.2 501.1 L684.7 499.0 L685.2 500.8 L685.7 500.3 L686.2 501.5 L686.7 501.1 L687.2 501.9 L687.7 501.5 L688.2 500.4 L688.7 500.1 L689.2 500.2 L689.7 500.6 L690.2 501.4 L690.7 500.7 L691.2 502.3 L691.7 502.8 L692.2 503.0 L692.7 503.4 L693.2 503.8 L693.7 502.8 L694.2 504.1 L694.7 504.7 L695.2 504.6 L695.7 505.0 L696.2 504.3 L696.7 503.0 L697.2 504.1 L697.7 502.7 L698.2 504.2 L698.7 504.1 L699.2 503.6 L699.7 502.7 L700.2 504.2 L700.7 505.0 L701.2 504.0 L701.7 506.1 L702.2 505.8 L702.7 506.7 L703.2 505.1 L703.7 506.7 L704.2 505.4 L704.7 504.9 L705.2 504.4 L705.7 504.1 L706.2 503.7 L706.7 505.8 L707.2 505.7 L707.7 503.8 L708.2 505.3 L708.7 505.0 L709.2 504.5 L709.7 503.2 L710.2 503.1 L710.7 502.5 L711.2 501.9 L711.7 502.6 L712.2 503.9 L712.7 504.5 L713.2 502.8 L713.7 504.3 L714.2 503.0 L714.7 503.2 L715.2 503.9 L715.7 502.4 L716.2 504.9 L716.7 502.5 L717.2 503.4 L717.7 503.4 L718.2 501.0 L718.7 502.7 L719.2 499.9 L719.7 501.4 L720.2 501.1 L720.7 499.7 L721.2 499.4 L721.7 500.8 L722.2 500.6 L722.7 500.4 L723.2 499.7 L723.7 500.1 L724.2 500.3 L724.7 497.0 L725.2 497.2 L725.7 499.4 L726.2 498.2 L726.7 499.2 L727.2 498.3 L727.7 497.7 L728.2 498.2 L728.7 497.4 L729.1 499.9 L729.6 499.9 L730.1 499.5 L730.6 500.8 L731.1 500.7 L731.6 501.3 L732.1 501.0 L732.6 499.7 L733.0 500.5 L733.5 498.5 L734.0 501.6 L734.5 500.3 L735.0 499.1 L735.5 502.5 L736.0 502.3 L736.5 503.5 L737.0 503.4 L737.5 501.4 L738.0 503.6 L738.5 502.2 L739.0 504.1 L739.5 503.6 L740.0 504.6 L740.5 502.8 L741.0 505.7 L741.5 502.8 L742.0 505.8 L742.5 505.6 L743.0 502.9 L743.5 504.3 L744.0 504.9 L744.5 504.0 L745.0 503.6 L745.5 503.9 L746.0 502.8 L746.5 504.7 L747.0 504.5 L747.5 501.8 L748.0 502.1 L748.5 504.2 L749.0 502.8 L749.5 504.7 L750.0 504.3 L750.5 505.0 L751.0 504.4 L751.5 503.9 L752.0 506.1 L752.5 504.6 L753.0 505.4 L753.5 502.7 L754.0 505.2 L754.5 504.7 L755.0 504.9 L755.5 505.1 L756.0 505.1 L756.5 504.1 L757.0 506.0 L757.5 506.2 L758.0 504.5 L758.5 504.3 L759.0 506.4 L759.5 504.7 L760.0 506.6 L760.5 506.6 L761.0 506.5 L761.5 506.4 L762.0 505.9 L762.5 506.1 L763.0 506.4 L763.5 505.1 L764.0 505.4 L764.5 505.4 L765.0 507.7 L765.5 506.9 L766.0 506.4 L766.5 507.9 L767.0 505.2 L767.5 504.8 L768.0 507.8 L768.5 505.9 L769.0 507.6 L769.5 508.2 L770.0 508.2 L770.5 507.6 L771.0 508.6 L771.5 509.2 L772.0 507.7 L772.5 509.7 L773.0 509.7 L773.5 508.4 L774.0 509.7 L774.5 509.7 L775.0 509.3 L775.5 507.4 L776.0 506.7 L776.5 509.9 L777.0 508.2 L777.5 509.5 L778.0 509.4 L778.5 509.8 L779.0 509.7 L779.5 507.1 L780.0 506.9 L780.5 508.5 L781.0 507.3 L781.5 507.5 L782.0 509.6 L782.5 509.8 L783.0 507.8 L783.5 508.6 L784.0 509.6 L784.5 508.8 L785.0 507.2 L785.5 507.1 L786.0 506.2 L786.5 507.9 L787.0 507.0 L787.5 507.7 L788.0 508.7 L788.5 509.6 L789.0 507.1 L789.5 509.7 L790.0 509.2 L790.5 510.2 L791.0 510.6 L791.5 509.0 L792.0 509.9 L792.5 509.6 L793.0 509.6 L793.5 509.4 L794.0 507.3 L794.5 507.1 L795.0 508.9 L795.5 509.0 L796.0 509.6 L796.5 509.8 L797.0 509.6 L797.5 509.7 L798.0 509.4 L798.5 508.6 L799.0 510.5 L799.5 510.9 L800.0 511.4 L800.0 517.5 L799.5 517.3 L799.0 514.8 L798.5 515.5 L798.0 514.3 L797.5 515.8 L797.0 515.5 L796.5 514.1 L796.0 513.8 L795.5 513.6 L795.0 515.8 L794.5 515.7 L794.0 514.3 L793.5 516.6 L793.0 514.6 L792.5 514.1 L792.0 514.9 L791.5 517.3 L791.0 516.8 L790.5 515.6 L790.0 514.6 L789.5 514.5 L789.0 514.8 L788.5 514.5 L788.0 514.6 L787.5 513.1 L787.0 512.7 L786.5 513.8 L786.0 515.1 L785.5 513.6 L785.0 515.8 L784.5 513.8 L784.0 515.1 L783.5 514.7 L783.0 514.7 L782.5 514.0 L782.0 515.5 L781.5 515.5 L781.0 514.3 L780.5 515.9 L780.0 514.9 L779.5 513.5 L779.0 513.8 L778.5 513.6 L778.0 513.7 L777.5 513.7 L777.0 514.5 L776.5 514.0 L776.0 513.8 L775.5 515.0 L775.0 514.9 L774.5 513.7 L774.0 514.2 L773.5 514.6 L773.0 514.8 L772.5 513.8 L772.0 515.7 L771.5 514.7 L771.0 513.7 L770.5 512.3 L770.0 512.1 L769.5 512.1 L769.0 512.7 L768.5 514.8 L768.0 514.5 L767.5 512.1 L767.0 513.2 L766.5 511.8 L766.0 512.4 L765.5 512.6 L765.0 511.4 L764.5 512.7 L764.0 511.0 L763.5 513.4 L763.0 510.6 L762.5 511.7 L762.0 510.1 L761.5 510.7 L761.0 511.8 L760.5 510.4 L760.0 513.6 L759.5 511.0 L759.0 510.8 L758.5 512.6 L758.0 510.5 L757.5 511.8 L757.0 511.9 L756.5 509.4 L756.0 511.9 L755.5 509.0 L755.0 511.2 L754.5 508.9 L754.0 509.1 L753.5 510.1 L753.0 509.8 L752.5 510.1 L752.0 509.9 L751.5 511.6 L751.0 511.3 L750.5 512.4 L750.0 510.0 L749.5 510.0 L749.0 508.5 L748.5 508.0 L748.0 510.2 L747.5 508.6 L747.0 508.6 L746.5 509.0 L746.0 510.3 L745.5 509.6 L745.0 509.3 L744.5 509.5 L744.0 509.2 L743.5 509.8 L743.0 511.1 L742.5 511.6 L742.0 510.2 L741.5 512.1 L741.0 511.0 L740.5 512.1 L740.0 512.3 L739.5 509.5 L739.0 508.8 L738.5 509.3 L738.0 508.5 L737.5 510.2 L737.0 507.9 L736.5 507.6 L736.0 508.6 L735.5 508.3 L735.0 508.8 L734.5 505.6 L734.0 505.6 L733.5 505.9 L733.0 506.8 L732.6 506.3 L732.1 506.7 L731.6 506.4 L731.1 506.0 L730.6 506.6 L730.1 504.6 L729.6 504.8 L729.1 504.5 L728.7 505.2 L728.2 503.9 L727.7 503.3 L727.2 504.8 L726.7 504.9 L726.2 505.3 L725.7 503.7 L725.2 506.0 L724.7 504.3 L724.2 506.8 L723.7 504.6 L723.2 504.3 L722.7 504.7 L722.2 504.6 L721.7 507.6 L721.2 504.7 L720.7 506.1 L720.2 505.5 L719.7 506.6 L719.2 506.1 L718.7 507.8 L718.2 509.5 L717.7 508.8 L717.2 510.1 L716.7 510.1 L716.2 509.3 L715.7 509.2 L715.2 510.5 L714.7 509.4 L714.2 509.3 L713.7 508.4 L713.2 509.1 L712.7 509.4 L712.2 508.5 L711.7 510.2 L711.2 511.1 L710.7 509.2 L710.2 508.2 L709.7 510.1 L709.2 510.1 L708.7 510.0 L708.2 509.4 L707.7 511.1 L707.2 509.8 L706.7 510.8 L706.2 510.9 L705.7 510.0 L705.2 511.9 L704.7 510.4 L704.2 512.4 L703.7 513.2 L703.2 510.9 L702.7 510.6 L702.2 511.5 L701.7 510.0 L701.2 512.6 L700.7 509.2 L700.2 508.8 L699.7 508.8 L699.2 510.8 L698.7 508.0 L698.2 508.3 L697.7 510.5 L697.2 509.4 L696.7 509.1 L696.2 509.3 L695.7 509.8 L695.2 509.6 L694.7 508.7 L694.2 508.5 L693.7 509.3 L693.2 508.5 L692.7 508.8 L692.2 508.2 L691.7 510.0 L691.2 507.9 L690.7 506.9 L690.2 507.4 L689.7 506.2 L689.2 506.2 L688.7 505.9 L688.2 508.5 L687.7 508.3 L687.2 507.2 L686.7 505.8 L686.2 506.0 L685.7 506.7 L685.2 506.0 L684.7 507.5 L684.2 508.2 L683.7 505.9 L683.2 506.0 L682.7 506.2 L682.2 506.3 L681.7 506.1 L681.2 506.3 L680.7 508.3 L680.2 510.0 L679.7 507.3 L679.2 508.5 L678.7 509.1 L678.2 510.9 L677.7 509.8 L677.2 509.8 L676.7 508.6 L676.2 507.3 L675.7 508.7 L675.2 509.0 L674.8 506.0 L674.3 506.0 L673.8 506.8 L673.3 507.3 L672.8 505.9 L672.3 506.0 L671.8 505.9 L671.3 505.8 L670.8 506.9 L670.3 505.3 L669.8 506.0 L669.3 505.8 L668.8 504.5 L668.3 505.1 L667.8 503.3 L667.3 503.4 L666.8 504.6 L666.3 504.5 L665.8 504.6 L665.4 504.9 L664.9 506.3 L664.4 505.1 L663.9 505.8 L663.4 505.1 L662.9 504.2 L662.4 503.7 L662.0 505.5 L661.5 505.1 L661.0 502.7 L660.5 502.6 L660.0 502.7 L659.5 504.1 L659.0 503.1 L658.5 505.6 L658.0 503.5 L657.6 504.3 L657.1 503.8 L656.6 504.6 L656.1 504.0 L655.6 505.3 L655.1 506.1 L654.6 504.9 L654.2 505.9 L653.7 507.7 L653.2 506.6 L652.7 505.5 L652.2 506.3 L651.7 504.1 L651.2 504.5 L650.7 503.9 L650.2 502.5 L649.7 503.8 L649.2 505.6 L648.7 504.0 L648.2 503.3 L647.8 504.0 L647.3 503.0 L646.8 504.5 L646.3 504.1 L645.8 505.0 L645.3 505.9 L644.8 504.0 L644.3 502.8 L643.8 504.2 L643.3 503.3 L642.8 504.0 L642.3 502.9 L641.8 503.8 L641.3 503.7 L640.8 504.1 L640.3 505.5 L639.8 504.7 L639.3 504.4 L638.9 505.0 L638.4 505.6 L637.9 504.9 L637.4 505.6 L636.9 505.3 L636.4 506.0 L635.9 505.3 L635.4 505.1 L634.9 506.5 L634.4 504.9 L633.9 505.3 L633.4 505.7 L632.9 506.2 L632.4 505.1 L631.9 506.6 L631.4 504.5 L630.9 504.1 L630.4 506.6 L629.9 505.8 L629.4 505.7 L628.9 503.4 L628.4 503.9 L628.0 504.1 L627.5 505.1 L627.0 505.6 L626.5 506.4 L626.0 506.7 L625.5 507.5 L625.0 505.8 L624.5 507.2 L624.0 506.2 L623.5 506.5 L623.0 508.1 L622.5 509.7 L622.0 507.4 L621.5 509.2 L621.0 509.6 L620.5 507.3 L620.0 508.7 L619.5 506.2 L619.1 507.6 L618.6 506.3 L618.1 507.2 L617.6 507.8 L617.1 507.3 L616.6 507.8 L616.2 510.6 L615.7 510.4 L615.2 510.2 L614.7 511.3 L614.2 510.9 L613.7 508.8 L613.3 510.9 L612.8 510.0 L612.3 508.8 L611.8 509.8 L611.3 511.4 L610.8 510.2 L610.4 509.9 L609.9 509.8 L609.4 510.4 L608.9 509.0 L608.4 509.4 L607.9 512.3 L607.5 510.0 L607.0 512.0 L606.5 511.1 L606.0 513.1 L605.6 512.1 L605.1 514.0 L604.6 512.0 L604.1 512.8 L603.7 512.3 L603.2 512.1 L602.7 512.1 L602.2 512.6 L601.8 514.5 L601.3 512.9Z" fill="#00B050"/><path d="M601.3 510.5 L602.2 510.1 L603.2 510.2 L604.1 510.3 L605.1 509.7 L606.0 509.1 L607.0 508.4 L607.9 507.8 L608.9 507.1 L609.9 507.0 L610.8 507.1 L611.8 507.0 L612.8 506.9 L613.7 506.8 L614.7 506.8 L615.7 506.6 L616.6 505.9 L617.6 504.9 L618.6 504.3 L619.5 504.3 L620.5 504.6 L621.5 504.9 L622.5 504.8 L623.5 504.5 L624.5 504.1 L625.5 503.8 L626.5 503.4 L627.5 502.7 L628.4 501.9 L629.4 501.4 L630.4 501.8 L631.4 502.6 L632.4 503.1 L633.4 503.1 L634.4 503.0 L635.4 503.1 L636.4 503.1 L637.4 503.0 L638.4 502.7 L639.3 502.5 L640.3 502.4 L641.3 501.7 L642.3 501.0 L643.3 500.7 L644.3 500.8 L645.3 501.0 L646.3 501.1 L647.3 501.1 L648.2 501.0 L649.2 500.8 L650.2 500.7 L651.2 501.0 L652.2 501.8 L653.2 502.6 L654.2 502.8 L655.1 502.5 L656.1 502.0 L657.1 501.7 L658.0 501.6 L659.0 501.2 L660.0 500.8 L661.0 500.7 L662.0 501.3 L662.9 502.3 L663.9 503.0 L664.9 503.0 L665.8 502.4 L666.8 501.8 L667.8 501.5 L668.8 502.0 L669.8 502.9 L670.8 503.7 L671.8 504.0 L672.8 504.0 L673.8 504.1 L674.8 504.2 L675.7 504.6 L676.7 505.2 L677.7 505.9 L678.7 506.0 L679.7 505.4 L680.7 504.6 L681.7 504.2 L682.7 504.2 L683.7 504.0 L684.7 503.9 L685.7 503.9 L686.7 504.0 L687.7 504.0 L688.7 504.0 L689.7 504.3 L690.7 504.9 L691.7 505.4 L692.7 505.6 L693.7 506.2 L694.7 506.9 L695.7 507.3 L696.7 507.2 L697.7 506.6 L698.7 506.2 L699.7 506.2 L700.7 507.0 L701.7 508.0 L702.7 508.7 L703.7 508.6 L704.7 508.3 L705.7 508.1 L706.7 508.1 L707.7 507.8 L708.7 507.0 L709.7 506.4 L710.7 506.3 L711.7 506.5 L712.7 506.6 L713.7 506.5 L714.7 506.6 L715.7 506.7 L716.7 506.7 L717.7 506.0 L718.7 504.6 L719.7 503.3 L720.7 502.8 L721.7 502.6 L722.7 502.5 L723.7 502.3 L724.7 501.9 L725.7 501.5 L726.7 501.1 L727.7 501.4 L728.7 501.9 L729.6 502.5 L730.6 502.9 L731.6 503.2 L732.6 503.3 L733.5 503.4 L734.5 503.7 L735.5 504.5 L736.5 505.6 L737.5 506.4 L738.5 506.6 L739.5 507.0 L740.5 507.4 L741.5 507.7 L742.5 507.6 L743.5 507.4 L744.5 507.3 L745.5 507.2 L746.5 506.7 L747.5 506.2 L748.5 506.1 L749.5 506.6 L750.5 507.4 L751.5 508.0 L752.5 508.0 L753.5 507.5 L754.5 507.0 L755.5 506.9 L756.5 507.5 L757.5 508.2 L758.5 508.8 L759.5 508.8 L760.5 508.6 L761.5 508.3 L762.5 508.3 L763.5 508.7 L764.5 509.3 L765.5 509.7 L766.5 509.8 L767.5 509.9 L768.5 509.9 L769.5 510.0 L770.5 510.5 L771.5 511.1 L772.5 511.6 L773.5 511.7 L774.5 511.7 L775.5 511.7 L776.5 511.8 L777.5 511.8 L778.5 511.6 L779.5 511.6 L780.5 511.7 L781.5 511.7 L782.5 511.8 L783.5 511.9 L784.5 511.5 L785.5 510.9 L786.5 510.5 L787.5 510.8 L788.5 511.6 L789.5 512.4 L790.5 512.7 L791.5 512.5 L792.5 512.0 L793.5 511.8 L794.5 511.8 L795.5 511.7 L796.5 511.7 L797.5 511.7 L798.5 512.4 L799.5 513.4" stroke="#00B050" stroke-width="2.75" fill="none" stroke-linejoin="round" stroke-linecap="butt"/><path d="M790.0 508.9 L790.5 508.7 L791.0 509.1 L791.5 510.0 L792.0 509.8 L792.5 510.9 L793.0 510.4 L793.5 511.9 L794.0 510.3 L794.5 511.1 L795.0 509.3 L795.5 509.7 L796.0 509.9 L796.5 508.5 L797.0 508.5 L797.5 509.6 L798.0 510.4 L798.5 511.6 L799.0 512.0 L799.5 512.2 L800.0 512.8 L800.5 512.3 L801.0 512.2 L801.5 511.8 L802.0 510.1 L802.5 510.3 L803.0 509.7 L803.5 509.9 L804.0 509.9 L804.5 510.5 L805.0 510.7 L805.5 512.3 L806.0 511.9 L806.5 513.0 L807.0 512.8 L807.5 512.4 L808.0 511.1 L808.5 510.8 L809.0 510.1 L809.5 508.5 L810.0 510.3 L810.5 510.7 L811.0 510.2 L811.5 510.9 L812.0 511.6 L812.5 513.4 L813.0 512.7 L813.5 513.5 L814.0 512.5 L814.5 511.7 L815.0 511.6 L815.5 510.9 L816.0 510.2 L816.5 510.8 L817.0 509.9 L817.5 512.1 L818.0 512.3 L818.5 512.9 L819.0 514.0 L819.5 513.8 L820.0 513.2 L820.5 511.9 L821.0 511.4 L821.5 510.9 L822.0 510.3 L822.5 509.2 L823.0 510.1 L823.5 510.5 L824.0 512.0 L824.5 512.8 L825.0 513.4 L825.5 513.6 L826.0 513.6 L826.5 512.4 L827.0 511.7 L827.5 510.9 L828.0 509.6 L828.5 508.6 L829.0 509.1 L829.5 510.0 L830.0 510.4 L830.5 512.2 L831.0 512.2 L831.5 514.0 L832.0 514.1 L832.5 514.2 L833.0 513.7 L833.5 512.1 L834.0 511.4 L834.5 510.2 L835.0 509.8 L835.5 511.0 L836.0 511.1 L836.5 512.5 L837.0 512.1 L837.5 514.0 L838.0 514.9 L838.5 514.7 L839.0 513.1 L839.5 513.5 L840.0 512.1 L840.5 510.4 L841.0 511.0 L841.5 509.9 L842.0 510.9 L842.5 511.9 L843.0 513.0 L843.5 513.6 L844.0 515.1 L844.5 515.7 L845.0 515.3 L845.5 515.4 L846.0 514.3 L846.5 513.5 L847.0 512.1 L847.5 511.0 L848.0 510.6 L848.5 511.3 L849.0 512.0 L849.5 514.2 L850.0 514.1 L850.5 516.2 L851.0 517.1 L851.5 516.3 L852.0 515.0 L852.5 515.0 L853.0 513.8 L853.5 512.7 L854.0 511.7 L854.5 510.9 L855.0 512.4 L855.5 513.2 L856.0 513.5 L856.5 514.5 L857.0 516.4 L857.5 516.8 L858.0 516.9 L858.5 514.6 L859.0 514.9 L859.5 513.9 L860.0 512.8 L860.5 511.7 L861.0 510.7 L861.5 511.3 L862.0 513.6 L862.5 514.3 L863.0 514.6 L863.5 516.5 L864.0 517.7 L864.5 515.7 L865.0 515.4 L865.5 514.2 L866.0 513.3 L866.5 511.5 L867.0 511.1 L867.5 511.4 L868.0 512.5 L868.5 513.6 L869.0 513.6 L869.5 516.1 L870.0 516.5 L870.5 517.7 L871.0 516.9 L871.5 514.5 L872.0 514.3 L872.5 512.6 L873.0 512.1 L873.5 511.1 L874.0 511.9 L874.5 512.3 L875.0 514.4 L875.5 515.6 L876.0 516.7 L876.5 518.0 L877.0 518.5 L877.5 517.6 L878.0 516.9 L878.5 515.8 L879.0 513.3 L879.5 513.4 L880.0 507.1 L880.5 513.5 L881.0 513.8 L881.5 515.8 L882.0 517.3 L882.5 517.5 L883.0 519.0 L883.5 517.9 L884.0 518.0 L884.5 515.5 L885.0 515.5 L885.5 514.3 L886.0 512.2 L886.5 510.8 L887.0 513.4 L887.5 513.1 L888.0 515.9 L888.5 516.7 L889.0 518.1 L889.5 518.6 L890.0 518.7 L890.5 517.5 L891.0 516.2 L891.5 514.6 L892.0 513.6 L892.5 512.8 L893.0 512.6 L893.5 513.3 L894.0 514.7 L894.5 515.9 L895.0 517.2 L895.5 518.5 L896.0 519.8 L896.5 518.0 L897.0 516.9 L897.5 516.7 L898.0 515.3 L898.5 513.8 L899.0 512.3 L899.5 513.5 L900.0 514.9 L900.5 515.4 L901.0 515.9 L901.5 518.0 L902.0 519.9 L902.5 519.9 L903.0 519.7 L903.5 518.9 L904.0 516.7 L904.5 516.7 L905.0 515.8 L905.5 514.1 L906.0 514.4 L906.5 515.8 L907.0 516.5 L907.5 517.3 L908.0 518.0 L908.5 519.8 L909.0 520.3 L909.5 518.8 L910.0 518.1 L910.5 516.4 L911.0 515.8 L911.5 514.0 L912.0 512.7 L912.5 514.9 L913.0 516.0 L913.5 516.2 L914.0 517.3 L914.5 519.0 L915.0 520.8 L915.5 519.4 L916.0 518.3 L916.5 518.8 L917.0 516.5 L917.5 516.5 L918.0 515.0 L918.5 514.1 L919.0 515.2 L919.5 516.4 L920.0 518.0 L920.5 518.8 L921.0 521.0 L921.5 522.0 L922.0 521.3 L922.5 519.8 L923.0 520.0 L923.5 518.1 L924.0 517.0 L924.5 516.6 L925.0 515.7 L925.5 517.6 L926.0 518.8 L926.5 519.4 L927.0 520.7 L927.5 521.5 L928.0 522.3 L928.5 520.8 L929.0 520.0 L929.5 518.4 L930.0 517.8 L930.5 516.5 L931.0 514.7 L931.5 516.0 L932.0 517.2 L932.5 517.7 L933.0 519.3 L933.5 520.6 L934.0 521.8 L934.5 521.3 L935.0 521.4 L935.5 520.4 L936.0 519.6 L936.5 517.1 L937.0 517.4 L937.5 515.9 L938.0 517.0 L938.5 517.5 L939.0 519.4 L939.5 519.9 L940.0 521.4 L940.5 522.3 L941.0 522.5 L941.5 522.4 L942.0 520.3 L942.5 519.3 L943.0 519.2 L943.5 518.2 L944.0 517.5 L944.5 518.5 L945.0 519.6 L945.5 520.6 L946.0 522.1 L946.5 523.1 L947.0 523.8 L947.5 524.0 L948.0 521.7 L948.5 521.5 L949.0 520.0 L949.5 518.3 L950.0 517.9 L950.5 518.0 L951.0 518.8 L951.5 518.9 L952.0 520.1 L952.5 521.6 L953.0 522.8 L953.5 523.2 L954.0 522.9 L954.5 522.1 L955.0 519.5 L955.5 518.5 L956.0 519.0 L956.5 517.8 L957.0 517.1 L957.5 519.0 L958.0 519.6 L958.5 521.6 L959.0 521.6 L959.5 522.9 L960.0 524.4 L960.5 523.4 L961.0 522.4 L961.5 521.8 L962.0 519.5 L962.5 518.8 L963.0 518.3 L963.5 518.4 L964.0 520.2 L964.5 521.1 L965.0 521.8 L965.5 522.4 L966.0 523.2 L966.5 525.0 L967.0 524.1 L967.5 522.9 L968.0 521.4 L968.5 519.9 L969.0 519.5 L969.5 518.6 L970.0 519.0 L970.5 519.5 L971.0 520.8 L971.5 522.7 L972.0 522.9 L972.5 523.2 L973.0 524.8 L973.5 523.5 L974.0 521.4 L974.5 521.5 L975.0 519.6 L975.5 518.2 L976.0 518.2 L976.5 519.7 L977.0 519.5 L977.5 521.8 L978.0 523.1 L978.5 524.2 L979.0 524.6 L979.5 523.6 L980.0 524.1 L980.5 522.9 L981.0 521.2 L981.5 520.5 L982.0 520.0 L982.5 518.8 L983.0 520.8 L983.5 520.8 L984.0 522.0 L984.5 523.1 L985.0 525.1 L985.5 525.7 L986.0 525.4 L986.5 524.5 L987.0 523.0 L987.5 522.0 L988.0 521.2 L988.5 519.8 L989.0 520.6 L989.5 521.4 L990.0 522.6 L990.5 522.4 L991.0 523.1 L991.5 525.0 L992.0 526.3 L992.5 524.4 L993.0 524.4 L993.5 523.1 L994.0 522.4 L994.5 521.3 L995.0 520.0 L995.5 519.5 L996.0 520.4 L996.5 522.9 L997.0 523.4 L997.5 522.0 L998.0 520.4 L998.5 520.9 L999.0 520.8 L999.5 518.1 L999.5 522.8 L999.0 524.4 L998.5 525.4 L998.0 524.4 L997.5 525.0 L997.0 527.1 L996.5 525.8 L996.0 524.7 L995.5 524.3 L995.0 523.5 L994.5 525.3 L994.0 525.4 L993.5 526.2 L993.0 527.8 L992.5 528.9 L992.0 529.8 L991.5 528.3 L991.0 527.3 L990.5 527.1 L990.0 525.6 L989.5 524.5 L989.0 523.9 L988.5 525.0 L988.0 525.2 L987.5 525.7 L987.0 526.5 L986.5 527.9 L986.0 529.8 L985.5 529.3 L985.0 529.1 L984.5 527.1 L984.0 526.8 L983.5 526.2 L983.0 524.1 L982.5 523.4 L982.0 524.2 L981.5 524.3 L981.0 525.5 L980.5 526.0 L980.0 527.0 L979.5 528.4 L979.0 529.3 L978.5 528.2 L978.0 526.2 L977.5 526.4 L977.0 523.7 L976.5 522.8 L976.0 521.8 L975.5 523.0 L975.0 523.5 L974.5 525.6 L974.0 525.6 L973.5 527.4 L973.0 527.8 L972.5 527.5 L972.0 527.1 L971.5 525.9 L971.0 526.1 L970.5 523.7 L970.0 522.9 L969.5 522.2 L969.0 524.4 L968.5 524.1 L968.0 525.0 L967.5 527.4 L967.0 527.3 L966.5 528.3 L966.0 527.7 L965.5 527.1 L965.0 525.9 L964.5 525.1 L964.0 523.1 L963.5 523.3 L963.0 521.7 L962.5 522.7 L962.0 523.7 L961.5 524.7 L961.0 525.7 L960.5 526.7 L960.0 529.0 L959.5 526.6 L959.0 525.5 L958.5 525.4 L958.0 523.8 L957.5 522.8 L957.0 520.8 L956.5 520.9 L956.0 521.8 L955.5 523.9 L955.0 524.1 L954.5 525.8 L954.0 526.0 L953.5 526.9 L953.0 526.3 L952.5 525.2 L952.0 524.5 L951.5 523.0 L951.0 521.8 L950.5 521.9 L950.0 521.8 L949.5 523.8 L949.0 523.7 L948.5 524.8 L948.0 525.7 L947.5 527.3 L947.0 528.0 L946.5 526.5 L946.0 525.5 L945.5 524.1 L945.0 522.7 L944.5 521.5 L944.0 520.5 L943.5 521.3 L943.0 523.4 L942.5 523.6 L942.0 525.0 L941.5 525.6 L941.0 526.6 L940.5 525.9 L940.0 524.9 L939.5 524.5 L939.0 522.8 L938.5 521.6 L938.0 520.6 L937.5 519.5 L937.0 520.3 L936.5 522.9 L936.0 522.4 L935.5 523.9 L935.0 524.7 L934.5 526.0 L934.0 526.0 L933.5 523.7 L933.0 523.5 L932.5 521.6 L932.0 520.4 L931.5 519.5 L931.0 519.8 L930.5 520.0 L930.0 520.5 L929.5 523.2 L929.0 523.2 L928.5 525.1 L928.0 526.8 L927.5 524.8 L927.0 523.6 L926.5 523.8 L926.0 521.9 L925.5 520.8 L925.0 519.8 L924.5 519.9 L924.0 522.1 L923.5 521.7 L923.0 523.9 L922.5 523.9 L922.0 525.1 L921.5 525.8 L921.0 525.7 L920.5 524.3 L920.0 523.1 L919.5 520.7 L919.0 520.1 L918.5 518.7 L918.0 520.1 L917.5 519.6 L917.0 520.6 L916.5 521.5 L916.0 523.7 L915.5 523.6 L915.0 525.1 L914.5 523.9 L914.0 522.3 L913.5 520.6 L913.0 519.8 L912.5 518.0 L912.0 516.5 L911.5 517.5 L911.0 519.6 L910.5 520.5 L910.0 521.4 L909.5 522.7 L909.0 523.9 L908.5 523.6 L908.0 522.2 L907.5 521.9 L907.0 520.8 L906.5 519.6 L906.0 518.5 L905.5 517.7 L905.0 519.1 L904.5 519.9 L904.0 521.3 L903.5 521.8 L903.0 523.2 L902.5 524.1 L902.0 523.6 L901.5 521.6 L901.0 520.5 L900.5 520.0 L900.0 519.1 L899.5 516.5 L899.0 516.7 L898.5 518.8 L898.0 519.0 L897.5 520.6 L897.0 520.6 L896.5 522.9 L896.0 524.3 L895.5 521.8 L895.0 520.8 L894.5 520.2 L894.0 517.9 L893.5 516.8 L893.0 515.3 L892.5 515.6 L892.0 516.8 L891.5 518.3 L891.0 519.3 L890.5 520.6 L890.0 521.7 L889.5 523.0 L889.0 522.1 L888.5 519.9 L888.0 518.8 L887.5 518.9 L887.0 517.2 L886.5 516.6 L886.0 516.1 L885.5 517.8 L885.0 519.7 L884.5 519.7 L884.0 520.8 L883.5 522.7 L883.0 522.5 L882.5 521.5 L882.0 521.0 L881.5 519.7 L881.0 518.2 L880.5 516.9 L880.0 511.4 L879.5 516.7 L879.0 517.9 L878.5 518.7 L878.0 519.6 L877.5 520.6 L877.0 522.0 L876.5 521.3 L876.0 520.7 L875.5 518.8 L875.0 517.2 L874.5 517.1 L874.0 515.5 L873.5 515.4 L873.0 516.3 L872.5 517.0 L872.0 518.6 L871.5 518.9 L871.0 520.9 L870.5 521.2 L870.0 520.3 L869.5 519.8 L869.0 517.9 L868.5 516.9 L868.0 515.4 L867.5 514.8 L867.0 514.9 L866.5 516.3 L866.0 516.1 L865.5 518.1 L865.0 518.2 L864.5 520.9 L864.0 520.7 L863.5 520.3 L863.0 518.4 L862.5 517.5 L862.0 517.9 L861.5 515.8 L861.0 514.5 L860.5 515.1 L860.0 515.8 L859.5 517.9 L859.0 518.8 L858.5 518.9 L858.0 520.1 L857.5 520.8 L857.0 519.5 L856.5 519.7 L856.0 518.0 L855.5 516.2 L855.0 516.2 L854.5 515.2 L854.0 514.8 L853.5 517.2 L853.0 516.8 L852.5 518.0 L852.0 519.0 L851.5 520.6 L851.0 520.2 L850.5 519.5 L850.0 518.0 L849.5 517.2 L849.0 516.0 L848.5 514.9 L848.0 515.3 L847.5 515.0 L847.0 516.8 L846.5 517.3 L846.0 518.5 L845.5 518.6 L845.0 519.7 L844.5 519.0 L844.0 518.8 L843.5 518.4 L843.0 516.2 L842.5 514.9 L842.0 513.8 L841.5 513.5 L841.0 514.7 L840.5 514.8 L840.0 515.6 L839.5 517.2 L839.0 518.3 L838.5 518.5 L838.0 518.9 L837.5 517.0 L837.0 517.0 L836.5 516.4 L836.0 514.7 L835.5 514.3 L835.0 513.6 L834.5 515.3 L834.0 515.4 L833.5 516.0 L833.0 516.6 L832.5 518.7 L832.0 517.9 L831.5 517.0 L831.0 516.3 L830.5 515.1 L830.0 515.5 L829.5 514.4 L829.0 512.7 L828.5 514.2 L828.0 514.1 L827.5 515.7 L827.0 515.2 L826.5 516.1 L826.0 516.8 L825.5 518.0 L825.0 516.5 L824.5 516.6 L824.0 516.4 L823.5 515.3 L823.0 513.8 L822.5 512.8 L822.0 513.5 L821.5 514.9 L821.0 515.3 L820.5 516.6 L820.0 517.0 L819.5 516.9 L819.0 517.9 L818.5 516.3 L818.0 517.1 L817.5 515.4 L817.0 514.3 L816.5 514.2 L816.0 513.0 L815.5 513.7 L815.0 515.8 L814.5 516.6 L814.0 515.8 L813.5 516.3 L813.0 517.0 L812.5 516.6 L812.0 517.2 L811.5 515.6 L811.0 515.4 L810.5 513.8 L810.0 513.3 L809.5 512.6 L809.0 514.5 L808.5 513.9 L808.0 514.5 L807.5 516.4 L807.0 515.9 L806.5 516.3 L806.0 517.4 L805.5 515.4 L805.0 514.7 L804.5 514.2 L804.0 515.0 L803.5 513.4 L803.0 512.9 L802.5 513.9 L802.0 514.3 L801.5 514.7 L801.0 515.5 L800.5 516.6 L800.0 516.8 L799.5 516.8 L799.0 515.5 L798.5 515.5 L798.0 515.0 L797.5 513.1 L797.0 513.7 L796.5 512.4 L796.0 513.6 L795.5 513.4 L795.0 514.7 L794.5 514.7 L794.0 514.9 L793.5 515.0 L793.0 514.4 L792.5 515.3 L792.0 513.8 L791.5 512.8 L791.0 513.1 L790.5 511.8 L790.0 512.2Z" fill="#00B050"/><path d="M790.0 510.6 L791.0 510.9 L792.0 511.9 L793.0 512.9 L794.0 513.1 L795.0 512.2 L796.0 511.3 L797.0 510.9 L798.0 512.3 L799.0 513.7 L800.0 515.0 L801.0 513.9 L802.0 512.7 L803.0 511.5 L804.0 512.1 L805.0 513.3 L806.0 514.6 L807.0 514.4 L808.0 513.1 L809.0 511.9 L810.0 511.6 L811.0 513.0 L812.0 514.5 L813.0 515.5 L814.0 514.3 L815.0 513.0 L816.0 511.6 L817.0 512.9 L818.0 514.2 L819.0 515.5 L820.0 514.7 L821.0 513.2 L822.0 511.7 L823.0 512.0 L824.0 513.5 L825.0 515.1 L826.0 515.4 L827.0 513.8 L828.0 512.2 L829.0 511.2 L830.0 512.8 L831.0 514.6 L832.0 516.5 L833.0 515.2 L834.0 513.8 L835.0 512.2 L836.0 513.2 L837.0 514.8 L838.0 516.4 L839.0 515.9 L840.0 514.1 L841.0 512.5 L842.0 512.3 L843.0 514.5 L844.0 516.6 L845.0 517.9 L846.0 516.1 L847.0 514.3 L848.0 512.5 L849.0 514.6 L850.0 516.6 L851.0 518.7 L852.0 517.5 L853.0 515.4 L854.0 513.3 L855.0 513.7 L856.0 515.9 L857.0 518.0 L858.0 518.5 L859.0 516.5 L860.0 514.4 L861.0 513.0 L862.0 515.0 L863.0 517.0 L864.0 519.1 L865.0 516.9 L866.0 514.7 L867.0 512.5 L868.0 513.9 L869.0 516.3 L870.0 518.7 L871.0 518.3 L872.0 516.0 L873.0 513.7 L874.0 513.3 L875.0 515.7 L876.0 518.4 L877.0 520.2 L878.0 518.2 L879.0 516.1 L880.0 509.8 L881.0 516.3 L882.0 518.7 L883.0 521.0 L884.0 519.4 L885.0 516.9 L886.0 514.4 L887.0 514.9 L888.0 517.3 L889.0 519.7 L890.0 520.2 L891.0 517.8 L892.0 515.4 L893.0 514.0 L894.0 516.4 L895.0 518.9 L896.0 521.4 L897.0 519.2 L898.0 517.0 L899.0 514.7 L900.0 516.3 L901.0 518.8 L902.0 521.6 L903.0 521.5 L904.0 519.4 L905.0 517.2 L906.0 516.7 L907.0 518.8 L908.0 520.8 L909.0 521.9 L910.0 519.5 L911.0 517.2 L912.0 515.0 L913.0 517.5 L914.0 520.0 L915.0 522.4 L916.0 521.2 L917.0 519.2 L918.0 517.2 L919.0 518.0 L920.0 520.5 L921.0 522.9 L922.0 523.5 L923.0 521.4 L924.0 519.2 L925.0 518.0 L926.0 520.2 L927.0 522.1 L928.0 524.0 L929.0 521.5 L930.0 519.2 L931.0 517.1 L932.0 518.6 L933.0 521.0 L934.0 523.4 L935.0 523.1 L936.0 521.0 L937.0 519.0 L938.0 518.7 L939.0 521.0 L940.0 523.3 L941.0 524.7 L942.0 522.8 L943.0 520.9 L944.0 519.0 L945.0 521.3 L946.0 523.5 L947.0 525.6 L948.0 524.3 L949.0 522.1 L950.0 520.0 L951.0 520.4 L952.0 522.4 L953.0 524.3 L954.0 524.6 L955.0 522.4 L956.0 520.5 L957.0 519.4 L958.0 521.8 L959.0 524.1 L960.0 526.3 L961.0 524.3 L962.0 522.3 L963.0 520.3 L964.0 521.6 L965.0 523.7 L966.0 525.9 L967.0 525.5 L968.0 523.6 L969.0 521.6 L970.0 521.3 L971.0 523.3 L972.0 525.2 L973.0 526.2 L974.0 524.1 L975.0 522.1 L976.0 520.2 L977.0 522.3 L978.0 524.5 L979.0 526.6 L980.0 525.5 L981.0 523.6 L982.0 521.8 L983.0 522.4 L984.0 524.5 L985.0 526.5 L986.0 526.9 L987.0 525.0 L988.0 523.1 L989.0 522.0 L990.0 524.0 L991.0 525.9 L992.0 527.8 L993.0 525.8 L994.0 523.9 L995.0 522.0 L996.0 523.2 L997.0 525.4 L998.0 521.8 L999.0 522.3" stroke="#00B050" stroke-width="4.08" fill="none" stroke-linejoin="round" stroke-linecap="butt"/><path d="M601.3 455.2 L601.8 454.6 L602.3 452.4 L602.8 452.5 L603.3 454.7 L603.8 454.1 L604.3 454.8 L604.8 454.8 L605.3 452.2 L605.8 454.7 L606.3 453.9 L606.8 452.3 L607.3 454.4 L607.8 452.1 L608.3 451.9 L608.8 454.5 L609.3 452.6 L609.8 453.5 L610.3 454.4 L610.8 452.3 L611.3 454.3 L611.8 454.0 L612.3 453.2 L612.8 454.4 L613.3 453.3 L613.8 452.6 L614.3 453.3 L614.8 454.2 L615.3 451.6 L615.8 452.5 L616.3 452.2 L616.8 452.7 L617.3 452.9 L617.8 454.7 L618.2 454.9 L618.7 453.0 L619.2 455.0 L619.7 453.4 L620.2 455.1 L620.7 455.0 L621.2 453.0 L621.7 455.1 L622.2 455.1 L622.7 455.0 L623.2 455.0 L623.7 455.0 L624.2 455.2 L624.7 454.3 L625.2 454.1 L625.7 453.7 L626.2 453.9 L626.7 453.5 L627.2 452.6 L627.7 452.4 L628.2 453.6 L628.7 454.8 L629.2 454.1 L629.7 452.9 L630.2 454.9 L630.7 454.7 L631.2 452.5 L631.7 454.6 L632.2 454.1 L632.7 454.0 L633.2 453.7 L633.7 452.8 L634.2 454.3 L634.7 452.5 L635.2 455.4 L635.7 454.7 L636.2 453.0 L636.7 453.1 L637.2 455.4 L637.7 455.5 L638.2 455.4 L638.7 452.7 L639.2 453.6 L639.7 454.3 L640.2 454.5 L640.7 455.2 L641.2 454.3 L641.7 455.1 L642.2 455.1 L642.7 453.3 L643.2 452.4 L643.7 452.8 L644.2 452.3 L644.7 453.6 L645.2 454.7 L645.7 454.8 L646.2 453.6 L646.7 454.5 L647.2 452.8 L647.7 454.5 L648.2 452.4 L648.7 454.9 L649.2 452.5 L649.7 454.6 L650.2 454.2 L650.6 453.1 L651.1 452.4 L651.6 455.1 L652.1 454.7 L652.6 454.5 L653.1 455.2 L653.6 454.0 L654.1 454.5 L654.6 455.4 L655.1 455.2 L655.6 455.0 L656.1 454.1 L656.6 455.0 L657.1 454.5 L657.6 455.0 L658.1 454.6 L658.6 452.3 L659.1 454.3 L659.6 454.1 L660.1 453.9 L660.6 453.7 L661.1 453.2 L661.6 453.0 L662.1 453.4 L662.6 453.3 L663.1 454.0 L663.6 453.5 L664.1 454.8 L664.6 452.8 L665.1 455.0 L665.6 453.4 L666.1 453.1 L666.6 453.6 L667.1 454.8 L667.6 455.1 L668.1 455.2 L668.6 453.5 L669.1 454.8 L669.6 455.3 L670.1 455.2 L670.6 454.2 L671.1 452.6 L671.6 452.8 L672.1 454.2 L672.6 454.1 L673.1 454.4 L673.6 454.6 L674.1 452.9 L674.6 453.8 L675.1 451.6 L675.6 452.8 L676.1 454.6 L676.6 451.8 L677.1 454.2 L677.6 454.3 L678.1 454.6 L678.6 453.7 L679.1 454.2 L679.6 454.6 L680.1 452.2 L680.6 453.2 L681.1 453.7 L681.6 454.9 L682.1 453.6 L682.6 454.9 L683.1 454.7 L683.5 453.3 L684.0 455.3 L684.5 453.8 L685.0 453.4 L685.5 454.0 L686.0 455.4 L686.5 453.8 L687.0 455.3 L687.5 455.1 L688.0 454.4 L688.5 454.5 L689.0 453.3 L689.5 453.2 L690.0 453.4 L690.5 454.5 L691.0 454.2 L691.5 454.1 L692.0 453.0 L692.5 454.2 L693.0 454.6 L693.5 454.6 L694.0 454.9 L694.5 454.3 L695.0 454.9 L695.5 455.5 L696.0 455.2 L696.5 454.8 L697.0 454.7 L697.5 453.9 L698.0 455.5 L698.5 454.2 L699.0 452.8 L699.5 455.5 L700.0 454.7 L700.5 453.8 L701.0 454.1 L701.5 453.0 L702.0 453.6 L702.5 453.1 L703.0 452.8 L703.5 452.2 L704.0 453.6 L704.5 453.4 L705.0 453.8 L705.5 454.4 L706.0 452.0 L706.5 451.4 L707.0 453.0 L707.5 454.3 L708.0 452.7 L708.5 454.1 L709.0 452.9 L709.5 451.6 L710.0 453.7 L710.5 453.2 L711.0 452.6 L711.5 453.0 L712.0 452.8 L712.5 452.7 L713.0 452.9 L713.5 452.4 L714.0 452.5 L714.5 451.2 L715.0 452.4 L715.5 451.6 L716.0 449.9 L716.5 450.7 L717.0 450.7 L717.5 449.4 L718.0 451.7 L718.5 451.4 L719.0 449.2 L719.5 448.5 L720.0 449.4 L720.5 451.1 L721.0 448.4 L721.5 449.5 L722.0 449.9 L722.5 451.1 L723.0 450.8 L723.5 448.6 L724.0 451.4 L724.5 451.3 L725.0 449.2 L725.5 448.8 L726.0 450.6 L726.5 451.6 L727.0 451.5 L727.5 449.4 L728.0 451.4 L728.5 449.9 L729.0 451.5 L729.5 452.1 L730.0 452.1 L730.5 449.8 L731.0 450.6 L731.5 452.5 L732.0 452.6 L732.5 452.7 L733.0 451.8 L733.5 451.3 L734.0 452.2 L734.5 451.5 L735.0 451.0 L735.5 452.8 L736.0 450.1 L736.5 451.3 L737.0 451.5 L737.5 450.0 L738.0 452.5 L738.5 451.0 L739.0 451.3 L739.5 452.5 L740.0 451.9 L740.5 450.9 L741.0 452.0 L741.5 450.0 L742.0 452.7 L742.5 450.1 L743.0 450.5 L743.5 451.0 L744.0 451.7 L744.5 450.3 L745.0 452.7 L745.5 452.7 L746.0 451.5 L746.5 451.7 L747.0 452.5 L747.5 453.0 L748.0 452.9 L748.5 452.7 L749.0 450.4 L749.5 452.8 L750.0 452.0 L750.5 450.8 L751.0 450.4 L751.5 451.7 L752.0 452.6 L752.5 452.6 L753.0 452.6 L753.5 449.7 L754.0 451.6 L754.5 450.1 L755.0 452.3 L755.5 451.1 L756.0 450.1 L756.5 450.5 L757.0 450.0 L757.5 452.3 L758.0 451.4 L758.5 452.3 L759.0 450.2 L759.5 450.7 L760.0 452.7 L760.5 451.7 L761.0 452.5 L761.5 453.3 L762.0 452.7 L762.5 453.5 L763.0 451.9 L763.5 450.8 L764.0 452.1 L764.5 452.9 L765.0 453.0 L765.5 453.7 L766.0 453.2 L766.5 451.1 L767.0 453.3 L767.5 453.8 L768.0 452.7 L768.5 451.3 L769.0 453.9 L769.5 451.3 L770.0 453.8 L770.5 452.5 L771.0 453.2 L771.5 453.5 L772.0 452.8 L772.5 453.3 L773.0 453.4 L773.5 452.9 L774.0 453.1 L774.5 452.1 L775.0 451.5 L775.5 450.8 L776.0 451.9 L776.5 451.2 L777.0 453.0 L777.5 453.0 L778.0 450.9 L778.5 450.2 L779.0 452.0 L779.5 449.9 L780.0 452.1 L780.5 452.6 L781.0 452.6 L781.5 451.9 L782.0 451.5 L782.5 450.4 L783.0 452.4 L783.5 451.2 L784.0 452.8 L784.5 450.9 L785.0 452.6 L785.5 450.4 L786.0 452.9 L786.5 452.9 L787.0 450.6 L787.5 453.0 L788.0 452.8 L788.5 450.7 L789.0 451.3 L789.5 453.1 L790.0 453.1 L790.5 452.8 L791.0 452.1 L791.5 450.7 L792.0 452.2 L792.5 453.0 L793.0 451.5 L793.5 453.1 L794.0 451.7 L794.5 450.5 L795.0 453.2 L795.5 452.6 L796.0 451.6 L796.5 453.3 L797.0 453.2 L797.5 452.1 L798.0 452.0 L798.5 452.1 L799.0 453.1 L799.5 451.5 L800.0 452.1 L800.5 452.0 L801.0 453.4 L801.5 453.0 L802.0 453.2 L802.5 453.0 L803.0 452.7 L803.5 451.5 L804.0 449.9 L804.5 451.6 L805.0 450.5 L805.5 450.1 L806.0 450.5 L806.5 452.3 L807.0 450.6 L807.5 450.0 L808.0 450.5 L808.5 452.0 L809.0 450.6 L809.5 450.0 L810.0 450.0 L810.5 451.6 L811.0 449.6 L811.5 451.7 L812.0 449.3 L812.5 448.8 L813.0 451.1 L813.5 451.2 L814.0 450.1 L814.5 450.2 L815.0 451.6 L815.5 451.2 L816.0 449.4 L816.5 449.9 L817.0 451.0 L817.5 451.7 L818.0 448.9 L818.5 450.1 L819.0 452.0 L819.5 452.2 L820.0 452.3 L820.5 449.8 L821.0 450.1 L821.5 452.9 L822.0 451.8 L822.5 451.9 L823.0 450.3 L823.5 453.0 L824.0 452.7 L824.5 452.8 L825.0 452.9 L825.5 452.2 L826.0 452.2 L826.5 452.6 L827.0 451.7 L827.5 451.1 L828.0 451.7 L828.5 452.3 L829.0 452.2 L829.5 450.1 L830.0 449.5 L830.5 451.9 L831.0 452.1 L831.5 451.9 L832.0 451.4 L832.5 451.2 L833.0 449.5 L833.5 451.4 L834.0 451.6 L834.5 450.6 L835.0 451.3 L835.5 451.3 L836.0 451.5 L836.5 451.0 L837.0 449.7 L837.5 449.5 L838.0 449.1 L838.5 451.0 L839.0 448.8 L839.5 451.3 L840.0 450.9 L840.5 451.6 L841.0 451.6 L841.5 451.5 L842.0 450.8 L842.5 451.2 L843.0 451.7 L843.5 452.0 L844.0 452.1 L844.5 449.5 L845.0 452.3 L845.5 452.4 L846.0 452.6 L846.5 451.8 L847.0 450.1 L847.5 450.6 L848.0 452.4 L848.5 451.9 L849.0 450.7 L849.5 452.6 L850.0 452.3 L850.5 450.4 L851.0 451.1 L851.5 450.3 L852.0 449.6 L852.5 452.2 L853.0 450.9 L853.5 450.2 L854.0 451.9 L854.5 450.6 L855.0 449.8 L855.5 450.9 L856.0 450.4 L856.5 449.8 L857.0 451.0 L857.5 450.5 L858.0 449.1 L858.5 451.5 L859.0 450.5 L859.5 450.1 L860.0 450.1 L860.5 451.3 L861.0 449.0 L861.5 449.6 L862.0 450.9 L862.5 449.0 L863.0 451.5 L863.5 451.4 L864.0 450.8 L864.5 450.9 L865.0 449.2 L865.5 449.3 L866.0 448.7 L866.5 450.2 L867.0 449.0 L867.5 451.7 L868.0 450.3 L868.5 451.8 L869.0 452.0 L869.5 451.7 L870.0 449.5 L870.5 449.7 L871.0 452.5 L871.5 451.4 L872.0 450.7 L872.5 452.1 L873.0 452.1 L873.5 452.0 L874.0 452.0 L874.5 451.6 L875.0 451.8 L875.5 451.0 L876.0 451.5 L876.5 451.3 L877.0 450.8 L877.5 451.5 L878.0 451.2 L878.5 451.5 L879.0 451.4 L879.5 449.2 L880.0 451.5 L880.5 451.4 L881.0 451.4 L881.5 449.8 L882.0 449.1 L882.5 451.3 L883.0 451.3 L883.5 449.1 L884.0 451.3 L884.5 451.3 L885.0 450.1 L885.5 451.0 L886.0 450.7 L886.5 450.9 L887.0 450.6 L887.5 452.1 L888.0 452.2 L888.5 451.6 L889.0 450.8 L889.5 452.0 L890.0 452.2 L890.5 452.4 L891.0 452.2 L891.5 451.8 L892.0 449.8 L892.5 450.6 L893.0 451.1 L893.5 451.2 L894.0 452.4 L894.5 452.0 L895.0 452.3 L895.5 452.1 L896.0 451.3 L896.5 452.4 L897.0 450.2 L897.5 451.4 L898.0 449.5 L898.5 452.0 L899.0 451.3 L899.5 452.2 L900.0 452.0 L900.5 452.0 L901.0 452.3 L901.5 451.3 L902.0 452.4 L902.5 451.6 L903.0 452.5 L903.5 451.8 L904.0 452.6 L904.5 452.8 L905.0 451.5 L905.5 452.2 L906.0 451.5 L906.5 452.8 L907.0 452.8 L907.5 452.7 L908.0 452.8 L908.5 453.4 L909.0 453.1 L909.5 452.3 L910.0 453.1 L910.5 453.5 L911.0 453.5 L911.5 451.7 L912.0 451.0 L912.5 453.2 L913.0 453.9 L913.5 453.9 L914.0 452.6 L914.5 454.2 L915.0 452.6 L915.5 454.3 L916.0 454.6 L916.5 454.4 L917.0 454.8 L917.5 452.8 L918.0 452.7 L918.5 455.1 L919.0 455.2 L919.5 455.2 L920.0 453.9 L920.5 455.2 L921.0 455.4 L921.5 454.1 L922.0 455.6 L922.5 455.6 L923.0 455.0 L923.5 453.0 L924.0 453.5 L924.5 455.7 L925.0 454.2 L925.5 453.4 L926.0 455.0 L926.5 455.3 L927.0 455.2 L927.5 455.3 L928.0 455.4 L928.5 453.8 L929.0 455.6 L929.5 453.6 L930.0 456.1 L930.5 455.8 L931.0 454.8 L931.5 455.8 L932.0 454.1 L932.5 455.8 L933.0 454.0 L933.5 456.3 L934.0 456.6 L934.5 456.6 L935.0 454.8 L935.5 455.6 L936.0 456.6 L936.5 456.6 L937.0 457.1 L937.5 454.5 L938.0 454.9 L938.5 454.5 L939.0 457.4 L939.5 457.2 L940.0 457.4 L940.5 454.9 L941.0 455.3 L941.5 457.9 L942.0 455.7 L942.5 458.0 L943.0 457.8 L943.5 455.9 L944.0 457.6 L944.5 458.0 L945.0 457.4 L945.5 457.3 L946.0 455.5 L946.5 457.8 L947.0 457.7 L947.5 457.5 L948.0 457.3 L948.5 455.8 L949.0 457.3 L949.5 454.7 L950.0 457.2 L950.5 457.1 L951.0 457.1 L951.5 457.4 L952.0 457.8 L952.5 458.5 L953.0 458.4 L953.5 458.8 L954.0 457.9 L954.5 459.1 L955.0 459.1 L955.5 456.5 L956.0 459.1 L956.5 459.0 L957.0 459.1 L957.5 457.8 L958.0 457.0 L958.5 459.0 L959.0 457.2 L959.5 457.5 L960.0 456.1 L960.5 457.4 L961.0 458.8 L961.5 456.7 L962.0 458.6 L962.5 456.0 L963.0 458.4 L963.5 459.1 L964.0 458.1 L964.5 457.6 L965.0 456.6 L965.5 456.8 L966.0 459.6 L966.5 459.0 L967.0 458.7 L967.5 457.3 L968.0 459.7 L968.5 458.3 L969.0 459.0 L969.5 457.4 L970.0 457.2 L970.5 459.4 L971.0 458.9 L971.5 458.0 L972.0 457.4 L972.5 458.5 L973.0 458.4 L973.5 457.2 L974.0 457.1 L974.5 458.9 L975.0 456.6 L975.5 458.5 L976.0 458.9 L976.5 456.4 L977.0 457.0 L977.5 458.5 L978.0 458.0 L978.5 458.2 L979.0 458.5 L979.5 456.0 L980.0 458.5 L980.5 458.3 L981.0 458.6 L981.5 457.5 L982.0 456.6 L982.5 459.2 L983.0 458.0 L983.5 459.9 L984.0 458.7 L984.5 458.1 L985.0 460.1 L985.5 460.1 L986.0 457.6 L986.5 458.5 L987.0 457.9 L987.5 459.2 L988.0 459.6 L988.5 457.6 L989.0 458.4 L989.5 458.5 L990.0 457.0 L990.5 459.1 L991.0 456.9 L991.5 457.4 L992.0 459.6 L992.5 458.1 L993.0 459.4 L993.5 459.3 L994.0 458.6 L994.5 457.1 L995.0 459.6 L995.5 459.8 L996.0 459.1 L996.5 459.1 L997.0 457.2 L997.5 459.5 L998.0 459.0 L998.5 459.5 L999.0 459.8 L999.5 458.6 L999.5 465.5 L999.0 466.6 L998.5 468.1 L998.0 467.5 L997.5 465.3 L997.0 466.6 L996.5 467.1 L996.0 466.4 L995.5 467.7 L995.0 465.1 L994.5 465.2 L994.0 465.1 L993.5 465.1 L993.0 466.0 L992.5 465.6 L992.0 465.2 L991.5 465.1 L991.0 468.0 L990.5 465.1 L990.0 466.2 L989.5 466.0 L989.0 465.7 L988.5 465.3 L988.0 467.3 L987.5 467.0 L987.0 467.4 L986.5 468.2 L986.0 465.6 L985.5 465.9 L985.0 467.5 L984.5 465.5 L984.0 465.9 L983.5 465.4 L983.0 468.0 L982.5 465.0 L982.0 464.7 L981.5 464.5 L981.0 465.6 L980.5 464.3 L980.0 464.1 L979.5 464.1 L979.0 465.5 L978.5 464.6 L978.0 464.6 L977.5 465.4 L977.0 466.5 L976.5 464.3 L976.0 464.3 L975.5 466.6 L975.0 465.5 L974.5 464.8 L974.0 465.7 L973.5 465.0 L973.0 465.5 L972.5 464.6 L972.0 466.5 L971.5 464.6 L971.0 465.6 L970.5 466.8 L970.0 465.8 L969.5 465.4 L969.0 465.2 L968.5 466.0 L968.0 466.5 L967.5 465.1 L967.0 467.8 L966.5 465.2 L966.0 464.9 L965.5 467.7 L965.0 467.0 L964.5 465.9 L964.0 464.6 L963.5 465.0 L963.0 464.3 L962.5 464.5 L962.0 464.9 L961.5 465.4 L961.0 464.1 L960.5 465.9 L960.0 466.9 L959.5 464.5 L959.0 464.8 L958.5 465.5 L958.0 466.5 L957.5 464.6 L957.0 464.7 L956.5 466.6 L956.0 464.9 L955.5 466.9 L955.0 466.1 L954.5 466.6 L954.0 465.2 L953.5 466.2 L953.0 464.2 L952.5 466.4 L952.0 463.8 L951.5 463.5 L951.0 465.4 L950.5 463.8 L950.0 463.5 L949.5 463.4 L949.0 463.2 L948.5 465.2 L948.0 463.0 L947.5 465.4 L947.0 465.0 L946.5 463.7 L946.0 464.4 L945.5 463.7 L945.0 464.1 L944.5 464.2 L944.0 466.2 L943.5 464.1 L943.0 463.5 L942.5 463.9 L942.0 465.2 L941.5 464.7 L941.0 463.1 L940.5 463.0 L940.0 463.6 L939.5 462.8 L939.0 463.3 L938.5 463.1 L938.0 462.8 L937.5 463.8 L937.0 463.3 L936.5 465.2 L936.0 462.5 L935.5 464.3 L935.0 462.3 L934.5 463.5 L934.0 462.9 L933.5 463.1 L933.0 463.0 L932.5 462.1 L932.0 461.7 L931.5 462.7 L931.0 461.7 L930.5 463.6 L930.0 464.2 L929.5 464.1 L929.0 462.8 L928.5 464.2 L928.0 463.4 L927.5 463.1 L927.0 461.6 L926.5 463.6 L926.0 461.8 L925.5 462.5 L925.0 461.5 L924.5 463.6 L924.0 462.7 L923.5 462.1 L923.0 462.1 L922.5 463.2 L922.0 463.6 L921.5 460.8 L921.0 462.5 L920.5 463.0 L920.0 461.4 L919.5 462.1 L919.0 461.6 L918.5 461.0 L918.0 461.7 L917.5 460.8 L917.0 461.4 L916.5 461.8 L916.0 460.0 L915.5 461.0 L915.0 460.4 L914.5 459.6 L914.0 461.9 L913.5 459.4 L913.0 460.7 L912.5 459.6 L912.0 461.3 L911.5 459.7 L911.0 459.3 L910.5 459.1 L910.0 459.8 L909.5 458.9 L909.0 461.2 L908.5 459.9 L908.0 460.9 L907.5 459.1 L907.0 458.8 L906.5 461.3 L906.0 459.0 L905.5 458.5 L905.0 460.7 L904.5 458.3 L904.0 460.2 L903.5 460.8 L903.0 458.8 L902.5 459.3 L902.0 460.3 L901.5 458.3 L901.0 458.2 L900.5 458.1 L900.0 459.9 L899.5 457.9 L899.0 458.5 L898.5 459.3 L898.0 459.6 L897.5 458.1 L897.0 457.8 L896.5 457.9 L896.0 458.2 L895.5 458.7 L895.0 460.7 L894.5 458.2 L894.0 460.7 L893.5 458.7 L893.0 458.3 L892.5 460.2 L892.0 457.7 L891.5 458.1 L891.0 460.3 L890.5 459.7 L890.0 457.8 L889.5 457.6 L889.0 459.6 L888.5 458.3 L888.0 459.6 L887.5 457.4 L887.0 457.6 L886.5 457.7 L886.0 459.2 L885.5 457.1 L885.0 459.3 L884.5 456.9 L884.0 457.1 L883.5 458.3 L883.0 459.2 L882.5 458.3 L882.0 457.1 L881.5 457.4 L881.0 459.0 L880.5 456.9 L880.0 457.2 L879.5 459.0 L879.0 457.8 L878.5 456.8 L878.0 459.2 L877.5 457.5 L877.0 456.9 L876.5 457.6 L876.0 458.1 L875.5 457.0 L875.0 457.2 L874.5 459.5 L874.0 458.8 L873.5 457.9 L873.0 459.8 L872.5 457.8 L872.0 459.8 L871.5 459.9 L871.0 458.4 L870.5 457.9 L870.0 459.4 L869.5 458.0 L869.0 457.8 L868.5 460.2 L868.0 459.2 L867.5 459.2 L867.0 458.7 L866.5 457.2 L866.0 456.7 L865.5 458.8 L865.0 457.7 L864.5 456.6 L864.0 456.8 L863.5 456.8 L863.0 457.1 L862.5 456.9 L862.0 458.9 L861.5 459.0 L861.0 459.7 L860.5 457.9 L860.0 458.4 L859.5 460.2 L859.0 457.9 L858.5 457.5 L858.0 457.4 L857.5 457.8 L857.0 457.9 L856.5 459.3 L856.0 459.0 L855.5 457.6 L855.0 457.5 L854.5 459.3 L854.0 459.2 L853.5 457.6 L853.0 457.9 L852.5 458.9 L852.0 457.7 L851.5 458.5 L851.0 457.8 L850.5 458.3 L850.0 458.8 L849.5 460.0 L849.0 458.3 L848.5 460.6 L848.0 458.9 L847.5 460.7 L847.0 458.2 L846.5 460.3 L846.0 461.0 L845.5 459.3 L845.0 457.9 L844.5 458.0 L844.0 459.9 L843.5 460.1 L843.0 457.4 L842.5 459.7 L842.0 459.3 L841.5 459.3 L841.0 458.0 L840.5 457.3 L840.0 457.1 L839.5 457.2 L839.0 457.3 L838.5 457.0 L838.0 458.0 L837.5 456.9 L837.0 458.4 L836.5 457.4 L836.0 457.8 L835.5 457.3 L835.0 457.3 L834.5 456.8 L834.0 456.9 L833.5 457.5 L833.0 458.9 L832.5 457.2 L832.0 458.9 L831.5 459.3 L831.0 459.3 L830.5 457.5 L830.0 458.1 L829.5 459.0 L829.0 460.2 L828.5 460.1 L828.0 458.3 L827.5 460.7 L827.0 459.7 L826.5 458.1 L826.0 458.3 L825.5 459.9 L825.0 460.9 L824.5 458.8 L824.0 459.6 L823.5 459.2 L823.0 460.4 L822.5 460.7 L822.0 460.0 L821.5 460.8 L821.0 458.1 L820.5 459.7 L820.0 460.1 L819.5 458.0 L819.0 459.8 L818.5 460.0 L818.0 458.8 L817.5 457.3 L817.0 458.6 L816.5 458.8 L816.0 457.1 L815.5 459.9 L815.0 458.7 L814.5 457.2 L814.0 458.4 L813.5 457.2 L813.0 459.4 L812.5 457.1 L812.0 458.5 L811.5 458.0 L811.0 457.1 L810.5 457.2 L810.0 459.8 L809.5 458.4 L809.0 457.4 L808.5 459.0 L808.0 459.9 L807.5 460.5 L807.0 458.7 L806.5 457.9 L806.0 459.8 L805.5 459.4 L805.0 458.5 L804.5 459.2 L804.0 459.3 L803.5 458.2 L803.0 458.5 L802.5 458.6 L802.0 458.7 L801.5 461.0 L801.0 458.8 L800.5 461.4 L800.0 459.7 L799.5 459.0 L799.0 459.8 L798.5 460.8 L798.0 459.1 L797.5 459.9 L797.0 459.8 L796.5 461.4 L796.0 458.7 L795.5 459.0 L795.0 458.5 L794.5 459.2 L794.0 461.0 L793.5 460.6 L793.0 459.5 L792.5 459.8 L792.0 459.5 L791.5 460.1 L791.0 459.4 L790.5 458.9 L790.0 459.8 L789.5 458.5 L789.0 458.5 L788.5 458.7 L788.0 459.5 L787.5 461.4 L787.0 458.6 L786.5 459.0 L786.0 459.5 L785.5 459.9 L785.0 461.3 L784.5 458.9 L784.0 459.7 L783.5 458.2 L783.0 458.5 L782.5 458.6 L782.0 460.6 L781.5 458.0 L781.0 458.3 L780.5 459.1 L780.0 458.6 L779.5 460.8 L779.0 459.1 L778.5 458.2 L778.0 461.0 L777.5 460.1 L777.0 460.6 L776.5 460.0 L776.0 459.6 L775.5 458.7 L775.0 459.5 L774.5 460.5 L774.0 461.2 L773.5 459.1 L773.0 459.8 L772.5 459.6 L772.0 459.1 L771.5 461.0 L771.0 460.0 L770.5 459.6 L770.0 462.1 L769.5 459.7 L769.0 462.1 L768.5 460.1 L768.0 459.3 L767.5 461.0 L767.0 461.9 L766.5 459.1 L766.0 459.9 L765.5 460.9 L765.0 459.2 L764.5 460.3 L764.0 459.0 L763.5 459.0 L763.0 460.9 L762.5 459.6 L762.0 460.3 L761.5 458.6 L761.0 458.5 L760.5 460.4 L760.0 459.3 L759.5 460.2 L759.0 457.9 L758.5 459.3 L758.0 457.7 L757.5 458.1 L757.0 457.7 L756.5 458.7 L756.0 459.5 L755.5 459.0 L755.0 457.9 L754.5 458.3 L754.0 458.9 L753.5 458.1 L753.0 457.9 L752.5 458.1 L752.0 459.9 L751.5 459.5 L751.0 458.2 L750.5 458.1 L750.0 458.5 L749.5 458.2 L749.0 459.6 L748.5 460.8 L748.0 458.9 L747.5 458.7 L747.0 459.5 L746.5 461.1 L746.0 460.4 L745.5 459.0 L745.0 458.4 L744.5 460.7 L744.0 459.6 L743.5 458.8 L743.0 460.9 L742.5 460.6 L742.0 460.0 L741.5 458.3 L741.0 459.6 L740.5 457.8 L740.0 458.9 L739.5 458.1 L739.0 458.0 L738.5 457.9 L738.0 458.6 L737.5 458.1 L737.0 459.7 L736.5 460.0 L736.0 459.7 L735.5 458.2 L735.0 458.3 L734.5 458.4 L734.0 460.5 L733.5 460.0 L733.0 458.1 L732.5 458.7 L732.0 458.3 L731.5 457.9 L731.0 458.4 L730.5 458.2 L730.0 459.8 L729.5 457.6 L729.0 458.2 L728.5 457.5 L728.0 458.2 L727.5 458.3 L727.0 457.5 L726.5 457.9 L726.0 456.9 L725.5 457.4 L725.0 458.3 L724.5 459.5 L724.0 457.0 L723.5 458.8 L723.0 457.5 L722.5 459.3 L722.0 458.6 L721.5 456.7 L721.0 456.6 L720.5 457.5 L720.0 457.8 L719.5 456.6 L719.0 457.4 L718.5 458.0 L718.0 457.0 L717.5 457.2 L717.0 459.8 L716.5 459.5 L716.0 457.5 L715.5 459.3 L715.0 458.0 L714.5 458.5 L714.0 458.7 L713.5 458.1 L713.0 460.1 L712.5 460.3 L712.0 459.9 L711.5 459.1 L711.0 459.1 L710.5 461.0 L710.0 460.4 L709.5 461.6 L709.0 460.4 L708.5 460.1 L708.0 460.8 L707.5 459.6 L707.0 462.3 L706.5 459.7 L706.0 459.7 L705.5 462.6 L705.0 459.8 L704.5 460.0 L704.0 460.9 L703.5 462.1 L703.0 461.2 L702.5 462.7 L702.0 461.7 L701.5 461.3 L701.0 461.3 L700.5 463.4 L700.0 461.1 L699.5 461.7 L699.0 462.8 L698.5 463.0 L698.0 461.8 L697.5 462.6 L697.0 461.9 L696.5 463.3 L696.0 460.9 L695.5 460.8 L695.0 463.3 L694.5 462.1 L694.0 461.2 L693.5 462.5 L693.0 462.9 L692.5 462.5 L692.0 460.1 L691.5 460.1 L691.0 461.4 L690.5 462.3 L690.0 460.1 L689.5 460.3 L689.0 460.2 L688.5 462.5 L688.0 460.7 L687.5 462.0 L687.0 463.4 L686.5 460.8 L686.0 460.7 L685.5 462.3 L685.0 461.8 L684.5 461.6 L684.0 462.4 L683.5 461.3 L683.1 462.0 L682.6 461.0 L682.1 461.2 L681.6 461.2 L681.1 460.2 L680.6 461.9 L680.1 460.2 L679.6 462.9 L679.1 461.8 L678.6 460.4 L678.1 460.9 L677.6 460.7 L677.1 461.0 L676.6 462.2 L676.1 460.2 L675.6 460.0 L675.1 461.6 L674.6 460.1 L674.1 460.4 L673.6 460.1 L673.1 462.5 L672.6 460.1 L672.1 461.0 L671.6 462.8 L671.1 460.2 L670.6 461.7 L670.1 463.3 L669.6 463.6 L669.1 461.4 L668.6 461.1 L668.1 462.1 L667.6 463.1 L667.1 463.4 L666.6 461.3 L666.1 463.4 L665.6 461.2 L665.1 460.9 L664.6 461.0 L664.1 462.9 L663.6 460.1 L663.1 461.0 L662.6 460.0 L662.1 459.6 L661.6 460.0 L661.1 460.6 L660.6 459.6 L660.1 461.0 L659.6 461.2 L659.1 459.9 L658.6 460.0 L658.1 461.6 L657.6 461.2 L657.1 461.1 L656.6 461.3 L656.1 462.1 L655.6 461.5 L655.1 463.3 L654.6 461.6 L654.1 461.1 L653.6 460.6 L653.1 461.6 L652.6 462.7 L652.1 461.7 L651.6 462.4 L651.1 460.5 L650.6 460.3 L650.2 460.3 L649.7 462.8 L649.2 461.2 L648.7 460.4 L648.2 461.5 L647.7 460.6 L647.2 460.4 L646.7 462.5 L646.2 460.8 L645.7 462.7 L645.2 462.8 L644.7 460.6 L644.2 460.4 L643.7 460.4 L643.2 461.0 L642.7 460.5 L642.2 460.5 L641.7 461.3 L641.2 462.0 L640.7 461.0 L640.2 462.0 L639.7 462.8 L639.2 463.2 L638.7 462.9 L638.2 463.4 L637.7 461.1 L637.2 461.0 L636.7 461.4 L636.2 462.5 L635.7 461.0 L635.2 462.6 L634.7 463.2 L634.2 460.6 L633.7 461.8 L633.2 460.6 L632.7 460.5 L632.2 460.7 L631.7 461.2 L631.2 461.9 L630.7 461.0 L630.2 461.1 L629.7 461.3 L629.2 460.4 L628.7 461.3 L628.2 460.8 L627.7 460.6 L627.2 460.5 L626.7 460.7 L626.2 461.1 L625.7 460.9 L625.2 462.5 L624.7 460.8 L624.2 461.1 L623.7 461.3 L623.2 463.0 L622.7 461.0 L622.2 462.4 L621.7 461.4 L621.2 462.6 L620.7 462.4 L620.2 462.2 L619.7 460.9 L619.2 461.2 L618.7 461.9 L618.2 460.9 L617.8 460.7 L617.3 460.3 L616.8 461.3 L616.3 461.4 L615.8 461.5 L615.3 461.2 L614.8 461.3 L614.3 460.1 L613.8 460.3 L613.3 459.9 L612.8 460.1 L612.3 460.6 L611.8 460.4 L611.3 459.8 L610.8 461.8 L610.3 460.8 L609.8 461.4 L609.3 462.3 L608.8 460.3 L608.3 461.7 L607.8 460.1 L607.3 460.1 L606.8 462.7 L606.3 460.3 L605.8 462.6 L605.3 460.1 L604.8 461.1 L604.3 460.8 L603.8 460.9 L603.3 460.4 L602.8 460.4 L602.3 460.5 L601.8 461.0 L601.3 462.5Z" fill="#4F6228"/><path d="M601.3 457.9 L602.3 457.8 L603.3 457.7 L604.3 457.5 L605.3 457.4 L606.3 457.3 L607.3 457.2 L608.3 457.2 L609.3 457.2 L610.3 457.1 L611.3 457.1 L612.3 457.0 L613.3 457.0 L614.3 457.1 L615.3 457.2 L616.3 457.4 L617.3 457.5 L618.2 457.7 L619.2 457.7 L620.2 457.7 L621.2 457.8 L622.2 457.8 L623.2 457.8 L624.2 457.9 L625.2 457.9 L626.2 457.9 L627.2 457.8 L628.2 457.8 L629.2 457.8 L630.2 457.7 L631.2 457.7 L632.2 457.8 L633.2 457.8 L634.2 457.9 L635.2 458.0 L636.2 458.1 L637.2 458.2 L638.2 458.1 L639.2 458.1 L640.2 458.0 L641.2 457.9 L642.2 457.8 L643.2 457.7 L644.2 457.7 L645.2 457.7 L646.2 457.7 L647.2 457.7 L648.2 457.6 L649.2 457.6 L650.2 457.7 L651.1 457.7 L652.1 457.8 L653.1 457.9 L654.1 458.0 L655.1 458.1 L656.1 458.0 L657.1 457.8 L658.1 457.5 L659.1 457.2 L660.1 457.0 L661.1 456.8 L662.1 456.9 L663.1 457.2 L664.1 457.5 L665.1 457.9 L666.1 458.2 L667.1 458.3 L668.1 458.3 L669.1 458.1 L670.1 457.8 L671.1 457.6 L672.1 457.3 L673.1 457.2 L674.1 457.2 L675.1 457.2 L676.1 457.3 L677.1 457.3 L678.1 457.3 L679.1 457.3 L680.1 457.4 L681.1 457.5 L682.1 457.7 L683.1 457.9 L684.0 458.0 L685.0 458.1 L686.0 458.1 L687.0 458.0 L688.0 457.8 L689.0 457.6 L690.0 457.4 L691.0 457.4 L692.0 457.4 L693.0 457.5 L694.0 457.8 L695.0 458.0 L696.0 458.2 L697.0 458.3 L698.0 458.3 L699.0 458.2 L700.0 458.1 L701.0 457.8 L702.0 457.5 L703.0 457.3 L704.0 457.2 L705.0 457.1 L706.0 457.0 L707.0 457.0 L708.0 456.9 L709.0 456.8 L710.0 456.6 L711.0 456.3 L712.0 456.0 L713.0 455.6 L714.0 455.3 L715.0 455.0 L716.0 454.9 L717.0 454.6 L718.0 454.4 L719.0 454.1 L720.0 453.8 L721.0 453.9 L722.0 453.9 L723.0 454.0 L724.0 454.1 L725.0 454.2 L726.0 454.3 L727.0 454.3 L728.0 454.5 L729.0 454.6 L730.0 454.9 L731.0 455.1 L732.0 455.3 L733.0 455.4 L734.0 455.5 L735.0 455.6 L736.0 455.4 L737.0 455.3 L738.0 455.2 L739.0 455.1 L740.0 455.1 L741.0 455.2 L742.0 455.4 L743.0 455.6 L744.0 455.7 L745.0 455.8 L746.0 455.8 L747.0 455.7 L748.0 455.6 L749.0 455.5 L750.0 455.4 L751.0 455.4 L752.0 455.4 L753.0 455.3 L754.0 455.2 L755.0 455.1 L756.0 455.0 L757.0 454.9 L758.0 455.0 L759.0 455.2 L760.0 455.5 L761.0 455.8 L762.0 456.1 L763.0 456.3 L764.0 456.3 L765.0 456.3 L766.0 456.4 L767.0 456.5 L768.0 456.6 L769.0 456.6 L770.0 456.6 L771.0 456.4 L772.0 456.2 L773.0 456.0 L774.0 455.9 L775.0 455.8 L776.0 455.7 L777.0 455.7 L778.0 455.6 L779.0 455.5 L780.0 455.4 L781.0 455.3 L782.0 455.3 L783.0 455.4 L784.0 455.5 L785.0 455.7 L786.0 455.8 L787.0 455.8 L788.0 455.8 L789.0 455.8 L790.0 455.8 L791.0 455.8 L792.0 455.8 L793.0 455.8 L794.0 455.8 L795.0 455.9 L796.0 456.0 L797.0 456.1 L798.0 456.2 L799.0 456.3 L800.0 456.2 L801.0 456.1 L802.0 455.8 L803.0 455.6 L804.0 455.4 L805.0 455.3 L806.0 455.2 L807.0 455.1 L808.0 454.9 L809.0 454.7 L810.0 454.6 L811.0 454.5 L812.0 454.5 L813.0 454.5 L814.0 454.5 L815.0 454.4 L816.0 454.4 L817.0 454.4 L818.0 454.5 L819.0 454.7 L820.0 455.0 L821.0 455.4 L822.0 455.7 L823.0 455.8 L824.0 455.8 L825.0 455.6 L826.0 455.4 L827.0 455.2 L828.0 455.0 L829.0 454.9 L830.0 454.8 L831.0 454.7 L832.0 454.6 L833.0 454.4 L834.0 454.2 L835.0 454.1 L836.0 454.1 L837.0 454.2 L838.0 454.3 L839.0 454.4 L840.0 454.5 L841.0 454.5 L842.0 454.5 L843.0 454.7 L844.0 454.9 L845.0 455.2 L846.0 455.4 L847.0 455.5 L848.0 455.5 L849.0 455.4 L850.0 455.2 L851.0 455.1 L852.0 455.0 L853.0 454.9 L854.0 454.9 L855.0 454.8 L856.0 454.8 L857.0 454.7 L858.0 454.6 L859.0 454.6 L860.0 454.6 L861.0 454.5 L862.0 454.3 L863.0 454.2 L864.0 454.0 L865.0 454.0 L866.0 454.0 L867.0 454.2 L868.0 454.5 L869.0 454.8 L870.0 455.1 L871.0 455.2 L872.0 455.2 L873.0 455.0 L874.0 454.8 L875.0 454.5 L876.0 454.2 L877.0 454.1 L878.0 454.1 L879.0 454.1 L880.0 454.1 L881.0 454.1 L882.0 454.1 L883.0 454.1 L884.0 454.2 L885.0 454.3 L886.0 454.5 L887.0 454.7 L888.0 454.9 L889.0 455.0 L890.0 455.0 L891.0 455.0 L892.0 455.0 L893.0 455.0 L894.0 455.0 L895.0 455.1 L896.0 455.1 L897.0 455.0 L898.0 455.0 L899.0 454.9 L900.0 454.9 L901.0 454.9 L902.0 455.0 L903.0 455.2 L904.0 455.4 L905.0 455.6 L906.0 455.8 L907.0 455.9 L908.0 456.0 L909.0 456.2 L910.0 456.3 L911.0 456.4 L912.0 456.6 L913.0 456.7 L914.0 456.8 L915.0 457.0 L916.0 457.2 L917.0 457.4 L918.0 457.6 L919.0 457.8 L920.0 457.9 L921.0 458.1 L922.0 458.2 L923.0 458.3 L924.0 458.5 L925.0 458.6 L926.0 458.7 L927.0 458.8 L928.0 458.8 L929.0 458.8 L930.0 458.8 L931.0 458.8 L932.0 459.0 L933.0 459.1 L934.0 459.3 L935.0 459.4 L936.0 459.6 L937.0 459.7 L938.0 459.8 L939.0 460.0 L940.0 460.2 L941.0 460.4 L942.0 460.6 L943.0 460.8 L944.0 460.9 L945.0 460.8 L946.0 460.6 L947.0 460.4 L948.0 460.2 L949.0 460.2 L950.0 460.4 L951.0 460.6 L952.0 461.0 L953.0 461.3 L954.0 461.7 L955.0 461.9 L956.0 461.9 L957.0 461.8 L958.0 461.7 L959.0 461.6 L960.0 461.5 L961.0 461.4 L962.0 461.5 L963.0 461.6 L964.0 461.9 L965.0 462.1 L966.0 462.3 L967.0 462.4 L968.0 462.4 L969.0 462.3 L970.0 462.2 L971.0 462.0 L972.0 461.9 L973.0 461.8 L974.0 461.8 L975.0 461.7 L976.0 461.6 L977.0 461.5 L978.0 461.4 L979.0 461.4 L980.0 461.4 L981.0 461.7 L982.0 462.0 L983.0 462.4 L984.0 462.7 L985.0 462.9 L986.0 462.9 L987.0 462.8 L988.0 462.7 L989.0 462.6 L990.0 462.5 L991.0 462.4 L992.0 462.4 L993.0 462.4 L994.0 462.4 L995.0 462.5 L996.0 462.5 L997.0 462.5 L998.0 462.5 L999.0 462.5" stroke="#4F6228" stroke-width="3.58" fill="none" stroke-linejoin="round" stroke-linecap="butt"/><path d="M601.3 531.8 L601.8 531.9 L602.3 530.9 L602.8 531.0 L603.2 531.9 L603.7 530.8 L604.2 530.0 L604.7 530.6 L605.2 531.1 L605.7 531.5 L606.1 530.9 L606.6 529.6 L607.1 528.9 L607.6 530.1 L608.1 528.6 L608.6 529.3 L609.1 530.7 L609.5 529.7 L610.0 530.7 L610.5 530.6 L611.0 531.7 L611.5 532.0 L612.0 532.6 L612.5 531.4 L612.9 532.9 L613.4 532.7 L613.9 532.9 L614.4 533.7 L614.9 533.3 L615.4 533.0 L615.9 534.0 L616.4 535.2 L616.9 535.5 L617.4 536.4 L617.9 536.3 L618.4 536.5 L618.9 538.0 L619.4 538.5 L619.9 537.5 L620.4 537.7 L620.8 538.4 L621.3 537.9 L621.7 538.2 L622.2 539.3 L622.6 539.4 L623.1 539.4 L623.5 539.4 L624.0 537.9 L624.5 537.3 L624.9 538.4 L625.4 536.1 L625.8 537.6 L626.3 537.0 L626.7 536.0 L627.2 535.6 L627.6 534.7 L628.1 536.1 L628.6 535.9 L629.1 536.5 L629.5 535.8 L630.0 536.1 L630.5 535.4 L631.0 536.2 L631.4 536.0 L631.9 535.1 L632.4 533.9 L632.9 534.4 L633.3 534.6 L633.8 535.6 L634.3 535.3 L634.8 536.2 L635.2 536.5 L635.7 537.2 L636.2 537.3 L636.6 538.0 L637.1 537.9 L637.6 538.5 L638.1 537.8 L638.5 540.0 L639.0 540.3 L639.5 540.9 L640.0 541.3 L640.5 541.2 L641.0 542.1 L641.5 542.4 L642.0 543.2 L642.5 542.9 L643.0 543.1 L643.5 543.0 L644.0 544.2 L644.5 544.3 L645.0 544.1 L645.5 543.4 L646.0 542.6 L646.5 542.8 L647.0 543.1 L647.5 542.7 L648.0 541.4 L648.5 541.2 L649.0 542.0 L649.5 541.6 L650.0 540.4 L650.5 541.8 L651.0 541.3 L651.5 541.8 L652.0 540.1 L652.5 542.0 L653.0 542.0 L653.4 542.0 L653.9 541.9 L654.4 540.4 L654.9 541.4 L655.4 541.3 L655.9 541.1 L656.4 539.7 L656.9 540.7 L657.4 540.0 L657.9 541.3 L658.4 541.3 L658.9 541.5 L659.3 541.3 L659.8 541.3 L660.3 541.3 L660.8 542.0 L661.3 541.7 L661.8 541.9 L662.3 542.0 L662.8 540.8 L663.3 541.8 L663.7 541.8 L664.2 542.1 L664.7 543.0 L665.2 542.4 L665.7 542.8 L666.1 543.6 L666.6 542.5 L667.1 542.0 L667.6 542.9 L668.1 542.0 L668.5 541.9 L669.0 543.7 L669.5 543.8 L670.0 544.1 L670.5 542.5 L670.9 543.8 L671.4 544.8 L671.9 543.2 L672.4 544.8 L672.9 545.1 L673.4 545.0 L673.9 543.7 L674.4 543.6 L674.9 544.4 L675.4 543.9 L675.9 544.3 L676.4 544.2 L676.9 545.2 L677.4 545.5 L677.9 545.9 L678.4 545.1 L678.9 546.2 L679.4 546.8 L679.9 546.6 L680.4 547.4 L680.9 547.7 L681.4 547.8 L681.9 546.9 L682.4 546.9 L682.9 545.7 L683.4 543.9 L683.9 543.1 L684.4 544.4 L684.8 543.9 L685.3 542.9 L685.8 541.6 L686.3 542.5 L686.8 540.9 L687.3 540.5 L687.8 541.8 L688.3 540.4 L688.8 541.2 L689.3 541.6 L689.8 540.7 L690.3 541.3 L690.8 541.1 L691.3 539.3 L691.8 539.5 L692.3 539.6 L692.8 538.9 L693.3 540.8 L693.8 540.2 L694.3 540.5 L694.8 538.9 L695.3 538.8 L695.8 540.6 L696.3 538.9 L696.7 539.3 L697.2 540.5 L697.7 540.7 L698.2 540.8 L698.7 539.2 L699.2 539.2 L699.7 541.1 L700.2 540.3 L700.7 540.3 L701.2 541.3 L701.7 539.7 L702.2 541.4 L702.7 541.1 L703.2 539.8 L703.7 540.9 L704.2 541.7 L704.7 541.0 L705.2 541.9 L705.7 541.2 L706.2 542.1 L706.6 542.3 L707.1 541.5 L707.6 543.1 L708.1 541.7 L708.6 543.1 L709.1 542.2 L709.6 543.9 L710.0 543.0 L710.5 542.5 L711.0 544.1 L711.5 542.5 L712.0 544.9 L712.4 545.3 L712.9 545.3 L713.3 546.7 L713.8 547.2 L714.2 546.3 L714.7 549.0 L715.1 548.5 L715.6 550.3 L716.1 550.4 L716.6 549.7 L717.1 548.2 L717.6 547.9 L718.1 548.1 L718.6 547.4 L719.1 545.3 L719.6 546.1 L720.1 543.8 L720.6 544.4 L721.1 544.1 L721.6 543.0 L722.1 542.3 L722.6 543.3 L723.1 543.0 L723.6 542.9 L724.1 543.2 L724.6 542.4 L725.1 542.7 L725.6 541.9 L726.1 542.1 L726.6 542.9 L727.1 541.4 L727.6 541.2 L728.1 541.5 L728.6 542.2 L729.1 541.4 L729.5 540.8 L730.0 542.1 L730.5 542.2 L731.0 540.1 L731.5 541.6 L732.0 541.6 L732.5 541.6 L733.0 540.9 L733.5 541.4 L734.0 541.0 L734.5 539.8 L735.0 540.2 L735.5 541.3 L736.0 541.3 L736.5 541.1 L737.0 540.1 L737.5 540.3 L738.0 540.4 L738.5 540.3 L739.0 541.6 L739.5 541.9 L739.9 542.2 L740.4 541.1 L740.9 542.4 L741.4 542.3 L741.9 542.7 L742.4 542.1 L742.9 542.7 L743.4 542.7 L743.8 542.0 L744.3 542.2 L744.8 541.5 L745.3 541.6 L745.8 542.9 L746.3 543.0 L746.8 542.1 L747.2 542.3 L747.7 543.3 L748.2 543.6 L748.7 542.7 L749.2 543.6 L749.7 543.0 L750.2 544.4 L750.7 544.6 L751.1 544.7 L751.6 544.5 L752.1 545.5 L752.6 545.5 L753.1 546.0 L753.6 546.4 L754.1 544.9 L754.5 546.8 L755.0 546.1 L755.5 546.8 L756.0 546.5 L756.5 547.6 L757.0 547.2 L757.5 546.0 L758.0 547.2 L758.4 546.3 L758.9 548.3 L759.4 548.4 L759.9 548.5 L760.4 548.4 L760.9 548.8 L761.4 547.2 L761.9 549.0 L762.4 548.8 L762.9 549.5 L763.3 549.0 L763.8 549.7 L764.3 549.8 L764.8 549.8 L765.3 548.4 L765.8 549.7 L766.3 550.3 L766.8 548.8 L767.3 550.5 L767.7 550.6 L768.2 550.6 L768.7 550.6 L769.2 550.9 L769.7 549.7 L770.2 550.6 L770.7 550.9 L771.2 551.5 L771.6 551.0 L772.1 551.6 L772.6 550.9 L773.1 550.9 L773.6 551.1 L774.1 549.5 L774.6 551.2 L775.0 549.7 L775.5 549.9 L776.0 550.3 L776.5 548.8 L777.0 549.4 L777.5 547.6 L777.9 548.3 L778.4 548.8 L778.9 546.9 L779.4 547.0 L779.9 547.7 L780.4 546.7 L780.8 547.4 L781.3 547.1 L781.8 545.5 L782.3 545.4 L782.8 544.1 L783.3 545.2 L783.7 544.7 L784.2 544.3 L784.7 543.1 L785.2 542.8 L785.7 543.3 L786.1 544.0 L786.6 544.7 L787.1 544.6 L787.6 543.6 L788.1 545.2 L788.6 545.4 L789.0 545.3 L789.5 546.0 L790.0 546.3 L790.5 544.6 L791.0 545.8 L791.5 546.9 L791.9 547.3 L792.4 547.5 L792.9 546.0 L793.4 547.2 L793.9 547.6 L794.3 548.5 L794.8 548.7 L795.3 549.0 L795.8 549.4 L796.3 549.5 L796.7 549.3 L797.2 550.1 L797.7 549.0 L798.2 549.9 L798.7 550.2 L799.1 550.4 L799.6 550.2 L800.1 548.9 L800.6 550.5 L801.1 550.0 L801.5 549.6 L802.0 550.1 L802.5 551.0 L803.0 549.6 L803.5 549.6 L804.0 549.4 L804.5 548.9 L805.0 548.1 L805.5 546.8 L806.0 547.9 L806.5 547.2 L807.0 546.5 L807.4 546.1 L807.9 546.9 L808.4 545.2 L808.9 545.0 L809.4 545.0 L809.9 546.1 L810.4 545.7 L810.9 544.0 L811.4 544.8 L811.9 543.9 L812.4 545.2 L812.9 545.5 L813.4 544.2 L813.9 546.5 L814.4 545.2 L814.9 547.2 L815.4 547.9 L815.8 547.9 L816.3 548.9 L816.8 547.8 L817.3 550.1 L817.8 550.3 L818.3 550.7 L818.8 551.4 L819.3 551.8 L819.8 550.5 L820.3 551.8 L820.8 551.4 L821.3 551.7 L821.8 550.2 L822.3 550.5 L822.8 550.8 L823.3 550.2 L823.8 547.9 L824.3 548.4 L824.8 547.8 L825.3 548.3 L825.8 546.5 L826.2 546.8 L826.7 545.8 L827.2 547.2 L827.7 545.6 L828.2 547.0 L828.7 546.3 L829.2 546.4 L829.7 545.8 L830.2 545.8 L830.7 545.7 L831.2 545.4 L831.7 545.6 L832.2 544.2 L832.7 544.1 L833.2 544.8 L833.7 546.0 L834.2 544.8 L834.7 546.1 L835.2 546.1 L835.7 546.1 L836.2 545.0 L836.7 545.5 L837.2 545.8 L837.7 544.4 L838.2 544.7 L838.7 545.6 L839.2 546.0 L839.7 545.9 L840.2 545.6 L840.7 544.0 L841.2 545.6 L841.7 544.9 L842.2 544.6 L842.7 545.8 L843.2 545.9 L843.7 545.6 L844.2 546.7 L844.6 546.1 L845.1 545.8 L845.6 547.5 L846.1 546.3 L846.6 547.1 L847.1 546.7 L847.6 547.5 L848.1 547.1 L848.6 547.3 L849.0 548.5 L849.5 549.0 L850.0 548.9 L850.5 549.5 L851.0 549.4 L851.5 548.5 L852.0 550.2 L852.5 550.0 L853.0 550.5 L853.5 550.9 L853.9 551.1 L854.4 550.3 L854.9 550.4 L855.4 551.3 L855.9 550.8 L856.4 551.4 L856.9 550.8 L857.4 549.5 L857.9 549.3 L858.4 549.9 L858.9 549.9 L859.4 549.2 L859.9 548.3 L860.4 547.5 L860.9 548.4 L861.3 547.8 L861.8 547.3 L862.3 547.6 L862.8 546.9 L863.3 547.4 L863.8 546.6 L864.3 545.6 L864.8 546.7 L865.3 546.4 L865.8 545.7 L866.3 545.3 L866.8 545.5 L867.3 543.6 L867.7 543.9 L868.2 543.9 L868.6 543.8 L869.1 544.9 L869.6 544.2 L870.1 546.2 L870.6 546.9 L871.1 546.6 L871.6 548.1 L872.1 548.9 L872.6 549.6 L873.1 549.6 L873.6 549.8 L874.1 551.7 L874.6 550.7 L875.1 552.1 L875.6 552.0 L876.1 551.9 L876.5 550.7 L877.0 550.7 L877.5 551.2 L878.0 549.9 L878.5 550.5 L879.0 549.5 L879.5 548.7 L879.9 547.9 L880.4 548.7 L880.9 547.7 L881.4 548.1 L881.9 548.2 L882.4 547.7 L882.9 548.4 L883.4 548.5 L883.9 549.3 L884.4 548.2 L884.9 549.7 L885.4 549.4 L885.9 550.3 L886.4 549.2 L886.9 551.0 L887.4 550.8 L887.9 550.2 L888.4 549.6 L888.9 551.3 L889.4 551.4 L889.9 551.6 L890.4 552.1 L890.9 552.4 L891.4 551.7 L891.9 552.4 L892.4 551.4 L892.9 553.0 L893.4 553.0 L893.9 552.7 L894.4 552.9 L894.9 551.9 L895.4 552.8 L895.8 553.0 L896.3 551.5 L896.8 552.5 L897.3 553.0 L897.8 552.7 L898.3 552.5 L898.8 552.3 L899.3 552.9 L899.8 552.1 L900.3 552.6 L900.8 551.2 L901.2 552.5 L901.7 552.6 L902.2 551.2 L902.7 552.2 L903.2 552.5 L903.7 552.3 L904.2 552.3 L904.7 550.8 L905.2 552.3 L905.7 552.2 L906.2 551.9 L906.7 552.1 L907.1 551.9 L907.6 551.2 L908.1 551.2 L908.6 549.8 L909.1 549.7 L909.6 550.3 L910.1 550.1 L910.6 550.9 L911.1 550.6 L911.5 550.5 L912.0 550.2 L912.5 551.4 L913.0 550.7 L913.5 549.8 L913.9 550.9 L914.4 551.5 L914.9 550.2 L915.4 551.6 L915.9 552.3 L916.3 551.6 L916.8 551.9 L917.3 552.6 L917.8 552.2 L918.3 552.2 L918.7 552.7 L919.2 553.3 L919.7 553.2 L920.2 553.0 L920.7 552.4 L921.1 550.5 L921.6 550.8 L922.1 550.6 L922.6 550.1 L923.1 549.7 L923.6 549.8 L924.0 548.7 L924.5 548.6 L925.0 548.1 L925.5 547.0 L926.0 547.5 L926.5 546.4 L926.9 545.2 L927.4 544.4 L927.9 545.1 L928.4 546.5 L928.9 547.7 L929.4 548.3 L929.9 548.9 L930.4 548.7 L930.9 551.0 L931.4 550.2 L931.9 552.1 L932.4 552.2 L932.9 553.3 L933.4 554.0 L933.9 553.5 L934.4 553.2 L934.9 552.9 L935.4 550.6 L935.9 550.7 L936.4 549.4 L936.9 548.7 L937.4 547.4 L937.9 548.0 L938.4 546.5 L938.9 547.1 L939.4 546.6 L939.9 545.3 L940.4 544.9 L940.9 544.9 L941.4 544.4 L941.9 545.8 L942.4 545.7 L942.9 545.1 L943.3 547.3 L943.8 547.7 L944.3 547.8 L944.8 547.9 L945.3 547.6 L945.8 549.3 L946.3 549.8 L946.8 549.8 L947.2 550.4 L947.7 550.6 L948.2 550.2 L948.7 550.4 L949.2 550.6 L949.7 552.4 L950.2 552.0 L950.6 551.9 L951.1 552.9 L951.6 553.6 L952.1 552.5 L952.6 552.4 L953.1 552.8 L953.6 552.6 L954.0 550.8 L954.5 551.9 L955.0 550.0 L955.5 549.3 L956.0 550.8 L956.5 548.5 L956.9 549.3 L957.4 548.3 L957.9 548.8 L958.4 547.9 L958.9 546.1 L959.4 546.6 L959.8 544.8 L960.3 544.3 L960.8 544.2 L961.3 545.1 L961.8 545.6 L962.3 547.0 L962.8 548.0 L963.3 549.9 L963.7 550.7 L964.2 550.8 L964.7 552.0 L965.2 553.0 L965.7 554.7 L966.2 553.6 L966.7 554.9 L967.2 553.6 L967.6 553.5 L968.1 553.3 L968.6 552.7 L969.1 550.9 L969.6 551.8 L970.1 551.4 L970.5 550.8 L971.0 549.1 L971.5 550.1 L972.0 549.8 L972.5 548.4 L973.0 547.3 L973.4 548.6 L973.9 548.2 L974.4 547.3 L974.9 547.6 L975.4 547.2 L975.8 547.5 L976.3 547.7 L976.8 547.2 L977.3 547.6 L977.8 545.6 L978.2 546.7 L978.7 545.0 L979.2 546.5 L979.7 545.0 L980.2 544.2 L980.6 544.3 L981.1 544.1 L981.6 543.9 L982.1 544.7 L982.6 544.1 L983.0 544.6 L983.5 544.4 L984.0 543.7 L984.5 542.9 L985.0 544.9 L985.4 545.6 L985.9 546.5 L986.4 545.2 L986.9 546.8 L987.4 547.3 L987.8 548.7 L988.3 549.0 L988.8 549.0 L989.3 548.8 L989.8 550.4 L990.2 551.2 L990.7 550.8 L991.2 551.1 L991.7 550.8 L992.2 551.1 L992.6 552.7 L993.1 553.8 L993.6 552.8 L994.1 553.9 L994.6 552.8 L995.1 552.2 L995.6 551.8 L996.1 551.9 L996.5 551.2 L997.0 550.9 L997.5 550.5 L998.0 549.7 L998.5 548.7 L999.0 548.6 L999.5 547.6 L999.5 553.0 L999.0 553.1 L998.5 553.9 L998.0 555.0 L997.5 555.7 L997.0 555.3 L996.5 556.1 L996.1 557.5 L995.6 557.7 L995.1 557.7 L994.6 559.2 L994.1 558.2 L993.6 560.1 L993.1 558.2 L992.6 558.2 L992.2 557.4 L991.7 556.9 L991.2 557.0 L990.7 556.3 L990.2 555.7 L989.8 556.1 L989.3 554.5 L988.8 554.4 L988.3 554.4 L987.8 554.9 L987.4 552.5 L986.9 552.7 L986.4 552.9 L985.9 551.4 L985.4 550.2 L985.0 551.3 L984.5 550.1 L984.0 549.9 L983.5 549.0 L983.0 548.9 L982.6 549.6 L982.1 549.5 L981.6 549.4 L981.1 551.2 L980.6 550.5 L980.2 550.9 L979.7 551.9 L979.2 550.7 L978.7 551.4 L978.2 552.8 L977.8 552.4 L977.3 551.8 L976.8 553.6 L976.3 553.9 L975.8 552.1 L975.4 552.1 L974.9 552.7 L974.4 552.5 L973.9 552.4 L973.4 552.8 L973.0 553.3 L972.5 555.3 L972.0 554.4 L971.5 554.4 L971.0 554.8 L970.5 555.4 L970.1 555.7 L969.6 557.0 L969.1 556.6 L968.6 557.4 L968.1 558.7 L967.6 558.3 L967.2 558.7 L966.7 559.3 L966.2 559.8 L965.7 559.4 L965.2 560.0 L964.7 557.4 L964.2 557.6 L963.7 555.3 L963.3 554.6 L962.8 554.8 L962.3 554.2 L961.8 551.7 L961.3 551.5 L960.8 551.0 L960.3 552.0 L959.8 551.4 L959.4 551.4 L958.9 553.4 L958.4 552.9 L957.9 553.0 L957.4 553.7 L956.9 554.5 L956.5 554.6 L956.0 555.3 L955.5 555.6 L955.0 556.7 L954.5 556.6 L954.0 556.8 L953.6 557.7 L953.1 559.1 L952.6 558.7 L952.1 558.5 L951.6 558.4 L951.1 557.6 L950.6 558.5 L950.2 557.0 L949.7 557.5 L949.2 556.7 L948.7 557.4 L948.2 555.7 L947.7 555.1 L947.2 554.9 L946.8 554.4 L946.3 555.6 L945.8 553.9 L945.3 553.3 L944.8 553.8 L944.3 553.5 L943.8 552.2 L943.3 551.5 L942.9 551.3 L942.4 551.4 L941.9 551.5 L941.4 550.9 L940.9 549.7 L940.4 550.8 L939.9 550.9 L939.4 551.6 L938.9 551.5 L938.4 552.8 L937.9 553.4 L937.4 553.6 L936.9 553.8 L936.4 554.5 L935.9 555.5 L935.4 558.2 L934.9 558.4 L934.4 558.3 L933.9 559.2 L933.4 560.1 L932.9 558.7 L932.4 558.2 L931.9 557.8 L931.4 556.4 L930.9 555.4 L930.4 554.5 L929.9 555.0 L929.4 554.3 L928.9 552.0 L928.4 551.9 L927.9 550.2 L927.4 550.7 L926.9 552.9 L926.5 551.8 L926.0 552.3 L925.5 552.3 L925.0 553.2 L924.5 554.4 L924.0 553.6 L923.6 555.1 L923.1 555.9 L922.6 555.8 L922.1 555.4 L921.6 556.5 L921.1 556.4 L920.7 556.8 L920.2 557.4 L919.7 558.0 L919.2 558.6 L918.7 557.9 L918.3 558.0 L917.8 558.9 L917.3 558.2 L916.8 558.6 L916.3 557.4 L915.9 558.1 L915.4 556.9 L914.9 556.4 L914.4 557.3 L913.9 556.5 L913.5 557.4 L913.0 556.7 L912.5 557.3 L912.0 556.0 L911.5 556.2 L911.1 556.5 L910.6 556.3 L910.1 555.5 L909.6 555.9 L909.1 555.9 L908.6 555.8 L908.1 556.6 L907.6 557.8 L907.1 557.3 L906.7 556.4 L906.2 556.5 L905.7 557.4 L905.2 557.9 L904.7 558.2 L904.2 557.1 L903.7 558.2 L903.2 556.8 L902.7 556.8 L902.2 558.7 L901.7 556.9 L901.2 557.9 L900.8 558.0 L900.3 557.3 L899.8 557.9 L899.3 557.3 L898.8 557.4 L898.3 558.6 L897.8 557.6 L897.3 557.7 L896.8 558.2 L896.3 557.7 L895.8 557.6 L895.4 559.4 L894.9 557.7 L894.4 558.4 L893.9 557.5 L893.4 557.6 L892.9 557.3 L892.4 557.4 L891.9 557.9 L891.4 557.4 L890.9 558.0 L890.4 558.0 L889.9 557.8 L889.4 556.2 L888.9 556.8 L888.4 556.2 L887.9 556.1 L887.4 555.3 L886.9 555.5 L886.4 555.7 L885.9 555.1 L885.4 555.8 L884.9 555.3 L884.4 555.3 L883.9 554.1 L883.4 555.3 L882.9 554.3 L882.4 553.6 L881.9 552.7 L881.4 553.9 L880.9 553.7 L880.4 554.5 L879.9 553.4 L879.5 553.9 L879.0 554.3 L878.5 554.9 L878.0 555.7 L877.5 555.5 L877.0 557.5 L876.5 556.5 L876.1 556.6 L875.6 557.1 L875.1 556.6 L874.6 558.0 L874.1 556.1 L873.6 557.2 L873.1 555.2 L872.6 553.9 L872.1 553.4 L871.6 552.5 L871.1 553.1 L870.6 552.7 L870.1 551.9 L869.6 549.8 L869.1 550.5 L868.6 549.4 L868.2 549.4 L867.7 550.5 L867.3 551.0 L866.8 550.9 L866.3 550.0 L865.8 551.7 L865.3 550.7 L864.8 552.3 L864.3 553.0 L863.8 552.2 L863.3 552.2 L862.8 552.3 L862.3 552.0 L861.8 552.3 L861.3 553.4 L860.9 553.3 L860.4 553.4 L859.9 553.7 L859.4 554.1 L858.9 555.8 L858.4 555.2 L857.9 555.0 L857.4 556.5 L856.9 556.6 L856.4 556.2 L855.9 557.9 L855.4 556.5 L854.9 556.1 L854.4 555.6 L853.9 555.4 L853.5 555.6 L853.0 555.5 L852.5 556.5 L852.0 556.1 L851.5 554.3 L851.0 555.2 L850.5 554.4 L850.0 553.8 L849.5 553.8 L849.0 553.4 L848.6 553.3 L848.1 552.8 L847.6 552.7 L847.1 552.5 L846.6 552.1 L846.1 552.1 L845.6 551.9 L845.1 551.6 L844.6 551.5 L844.2 551.8 L843.7 551.3 L843.2 551.3 L842.7 551.7 L842.2 550.5 L841.7 550.5 L841.2 551.3 L840.7 550.7 L840.2 550.3 L839.7 550.2 L839.2 550.3 L838.7 550.4 L838.2 550.8 L837.7 551.5 L837.2 550.8 L836.7 551.8 L836.2 550.7 L835.7 551.6 L835.2 552.0 L834.7 550.4 L834.2 550.3 L833.7 550.4 L833.2 551.0 L832.7 550.8 L832.2 550.4 L831.7 550.0 L831.2 551.5 L830.7 550.2 L830.2 552.1 L829.7 551.9 L829.2 550.7 L828.7 552.7 L828.2 552.7 L827.7 552.8 L827.2 551.8 L826.7 553.7 L826.2 552.5 L825.8 552.7 L825.3 552.8 L824.8 554.4 L824.3 554.1 L823.8 554.1 L823.3 554.6 L822.8 556.6 L822.3 556.7 L821.8 555.9 L821.3 557.7 L820.8 556.7 L820.3 558.3 L819.8 556.5 L819.3 556.4 L818.8 555.7 L818.3 555.5 L817.8 556.2 L817.3 554.9 L816.8 554.0 L816.3 553.8 L815.8 553.8 L815.4 552.6 L814.9 551.9 L814.4 553.3 L813.9 551.4 L813.4 551.4 L812.9 550.7 L812.4 549.8 L811.9 550.4 L811.4 549.1 L810.9 550.9 L810.4 550.4 L809.9 551.6 L809.4 552.4 L808.9 551.8 L808.4 552.0 L807.9 552.6 L807.4 551.6 L807.0 552.0 L806.5 552.2 L806.0 552.1 L805.5 552.6 L805.0 552.8 L804.5 554.3 L804.0 553.7 L803.5 554.1 L803.0 554.9 L802.5 555.2 L802.0 556.5 L801.5 555.3 L801.1 555.8 L800.6 556.1 L800.1 555.9 L799.6 556.5 L799.1 556.1 L798.7 555.0 L798.2 554.6 L797.7 556.4 L797.2 554.6 L796.7 554.2 L796.3 554.6 L795.8 554.0 L795.3 555.1 L794.8 553.6 L794.3 553.7 L793.9 552.6 L793.4 553.0 L792.9 552.8 L792.4 552.7 L791.9 552.6 L791.5 551.9 L791.0 551.1 L790.5 551.3 L790.0 550.7 L789.5 550.3 L789.0 550.4 L788.6 549.8 L788.1 551.4 L787.6 550.6 L787.1 549.2 L786.6 549.6 L786.1 548.8 L785.7 548.6 L785.2 549.3 L784.7 549.7 L784.2 549.6 L783.7 549.3 L783.3 550.0 L782.8 550.2 L782.3 552.0 L781.8 551.9 L781.3 551.5 L780.8 552.8 L780.4 552.6 L779.9 552.7 L779.4 552.8 L778.9 554.1 L778.4 554.1 L777.9 553.8 L777.5 554.9 L777.0 554.5 L776.5 556.2 L776.0 554.9 L775.5 554.9 L775.0 556.2 L774.6 555.4 L774.1 555.9 L773.6 556.7 L773.1 555.8 L772.6 557.3 L772.1 555.9 L771.6 557.7 L771.2 555.8 L770.7 556.8 L770.2 555.7 L769.7 557.5 L769.2 555.8 L768.7 556.2 L768.2 557.1 L767.7 556.6 L767.3 555.3 L766.8 555.3 L766.3 554.6 L765.8 554.6 L765.3 555.7 L764.8 554.4 L764.3 555.2 L763.8 555.1 L763.3 554.0 L762.9 554.7 L762.4 553.9 L761.9 554.1 L761.4 554.5 L760.9 554.4 L760.4 553.4 L759.9 553.7 L759.4 553.3 L758.9 552.6 L758.4 553.3 L758.0 553.0 L757.5 552.5 L757.0 552.0 L756.5 551.8 L756.0 553.6 L755.5 551.9 L755.0 551.4 L754.5 552.1 L754.1 552.5 L753.6 550.6 L753.1 550.7 L752.6 551.2 L752.1 550.5 L751.6 550.4 L751.1 549.2 L750.7 550.2 L750.2 549.2 L749.7 549.5 L749.2 548.9 L748.7 549.1 L748.2 549.7 L747.7 547.8 L747.2 549.0 L746.8 548.4 L746.3 547.6 L745.8 547.7 L745.3 547.3 L744.8 548.7 L744.3 548.0 L743.8 547.4 L743.4 548.2 L742.9 547.7 L742.4 547.8 L741.9 546.9 L741.4 547.4 L740.9 546.7 L740.4 546.6 L739.9 548.1 L739.5 546.4 L739.0 547.7 L738.5 545.8 L738.0 545.8 L737.5 546.6 L737.0 546.7 L736.5 545.6 L736.0 545.6 L735.5 545.6 L735.0 546.1 L734.5 547.2 L734.0 546.1 L733.5 547.2 L733.0 546.8 L732.5 547.4 L732.0 547.9 L731.5 546.2 L731.0 546.4 L730.5 547.2 L730.0 547.8 L729.5 547.4 L729.1 546.9 L728.6 547.2 L728.1 547.9 L727.6 547.9 L727.1 547.1 L726.6 547.1 L726.1 547.2 L725.6 547.9 L725.1 547.9 L724.6 547.8 L724.1 549.0 L723.6 547.9 L723.1 548.5 L722.6 548.0 L722.1 548.6 L721.6 548.5 L721.1 549.1 L720.6 550.6 L720.1 550.1 L719.6 551.2 L719.1 551.0 L718.6 552.0 L718.1 552.5 L717.6 553.2 L717.1 553.6 L716.6 555.5 L716.1 555.0 L715.6 556.7 L715.1 554.2 L714.7 554.8 L714.2 554.4 L713.8 553.0 L713.3 550.9 L712.9 551.9 L712.4 550.2 L712.0 549.2 L711.5 549.4 L711.0 548.6 L710.5 549.1 L710.0 548.3 L709.6 548.3 L709.1 548.0 L708.6 549.0 L708.1 549.2 L707.6 547.5 L707.1 547.8 L706.6 546.9 L706.2 548.4 L705.7 546.4 L705.2 546.2 L704.7 547.1 L704.2 546.5 L703.7 546.0 L703.2 545.7 L702.7 547.6 L702.2 545.6 L701.7 546.0 L701.2 546.3 L700.7 545.5 L700.2 547.3 L699.7 546.2 L699.2 545.8 L698.7 546.2 L698.2 545.3 L697.7 544.9 L697.2 545.2 L696.7 545.1 L696.3 546.1 L695.8 545.9 L695.3 545.0 L694.8 545.5 L694.3 546.7 L693.8 546.7 L693.3 545.0 L692.8 546.9 L692.3 545.8 L691.8 546.8 L691.3 545.4 L690.8 546.9 L690.3 546.2 L689.8 546.6 L689.3 546.4 L688.8 546.5 L688.3 547.4 L687.8 547.3 L687.3 547.7 L686.8 546.6 L686.3 547.3 L685.8 547.8 L685.3 547.7 L684.8 550.0 L684.4 549.6 L683.9 550.1 L683.4 550.8 L682.9 550.6 L682.4 551.1 L681.9 552.3 L681.4 552.1 L680.9 553.6 L680.4 551.9 L679.9 552.6 L679.4 551.1 L678.9 551.8 L678.4 550.5 L677.9 551.0 L677.4 551.6 L676.9 551.4 L676.4 550.0 L675.9 550.5 L675.4 550.1 L674.9 550.1 L674.4 551.0 L673.9 550.7 L673.4 550.4 L672.9 550.2 L672.4 550.7 L671.9 551.1 L671.4 549.1 L670.9 549.4 L670.5 548.7 L670.0 549.2 L669.5 549.3 L669.0 549.4 L668.5 548.8 L668.1 548.2 L667.6 549.8 L667.1 549.0 L666.6 548.0 L666.1 549.1 L665.7 548.3 L665.2 548.2 L664.7 548.0 L664.2 547.6 L663.7 547.9 L663.3 547.5 L662.8 547.0 L662.3 547.3 L661.8 546.5 L661.3 547.7 L660.8 546.4 L660.3 547.0 L659.8 546.5 L659.3 545.9 L658.9 546.1 L658.4 546.3 L657.9 545.5 L657.4 546.3 L656.9 545.6 L656.4 546.0 L655.9 546.3 L655.4 547.3 L654.9 546.1 L654.4 546.1 L653.9 546.9 L653.4 546.6 L653.0 547.4 L652.5 546.3 L652.0 546.2 L651.5 547.3 L651.0 547.2 L650.5 547.7 L650.0 546.5 L649.5 546.8 L649.0 546.5 L648.5 547.1 L648.0 547.3 L647.5 547.2 L647.0 547.5 L646.5 548.3 L646.0 547.8 L645.5 548.4 L645.0 550.0 L644.5 548.6 L644.0 548.6 L643.5 548.2 L643.0 548.1 L642.5 548.3 L642.0 548.6 L641.5 547.1 L641.0 548.2 L640.5 547.2 L640.0 545.8 L639.5 546.3 L639.0 544.7 L638.5 544.8 L638.1 544.3 L637.6 543.4 L637.1 544.3 L636.6 542.8 L636.2 542.8 L635.7 541.6 L635.2 542.8 L634.8 540.6 L634.3 540.6 L633.8 539.9 L633.3 541.6 L632.9 541.0 L632.4 540.0 L631.9 540.9 L631.4 540.7 L631.0 540.8 L630.5 541.0 L630.0 540.7 L629.5 541.2 L629.1 541.1 L628.6 541.8 L628.1 540.9 L627.6 542.4 L627.2 541.7 L626.7 542.1 L626.3 542.3 L625.8 541.8 L625.4 542.7 L624.9 543.6 L624.5 543.5 L624.0 545.3 L623.5 543.7 L623.1 545.0 L622.6 543.6 L622.2 544.4 L621.7 544.0 L621.3 543.9 L620.8 543.5 L620.4 543.3 L619.9 544.2 L619.4 544.2 L618.9 543.7 L618.4 542.4 L617.9 541.3 L617.4 540.9 L616.9 540.5 L616.4 541.1 L615.9 539.7 L615.4 540.5 L614.9 538.9 L614.4 538.1 L613.9 538.6 L613.4 538.5 L612.9 538.3 L612.5 537.8 L612.0 538.5 L611.5 536.4 L611.0 537.0 L610.5 536.7 L610.0 536.8 L609.5 536.3 L609.1 535.6 L608.6 536.0 L608.1 536.7 L607.6 535.2 L607.1 535.2 L606.6 536.6 L606.1 535.9 L605.7 535.8 L605.2 537.6 L604.7 537.5 L604.2 537.6 L603.7 536.1 L603.2 537.9 L602.8 537.0 L602.3 537.2 L601.8 536.3 L601.3 536.5Z" fill="#FF0000"/><path d="M601.3 534.2 L602.3 534.0 L603.2 534.0 L604.2 533.9 L605.2 533.8 L606.1 533.5 L607.1 532.9 L608.1 532.7 L609.1 532.8 L610.0 533.3 L611.0 534.0 L612.0 534.7 L612.9 535.3 L613.9 535.7 L614.9 536.3 L615.9 537.3 L616.9 538.2 L617.9 539.2 L618.9 540.2 L619.9 541.1 L620.8 541.2 L621.7 541.4 L622.6 541.5 L623.5 541.5 L624.5 541.1 L625.4 540.1 L626.3 539.4 L627.2 538.8 L628.1 538.3 L629.1 538.6 L630.0 538.6 L631.0 538.3 L631.9 537.9 L632.9 537.6 L633.8 537.7 L634.8 538.3 L635.7 539.3 L636.6 540.3 L637.6 541.1 L638.5 542.1 L639.5 543.2 L640.5 544.2 L641.5 545.0 L642.5 545.6 L643.5 546.0 L644.5 546.5 L645.5 546.0 L646.5 545.5 L647.5 545.0 L648.5 544.6 L649.5 544.1 L650.5 543.9 L651.5 544.0 L652.5 544.1 L653.4 544.2 L654.4 544.0 L655.4 543.7 L656.4 543.4 L657.4 543.3 L658.4 543.5 L659.3 543.8 L660.3 544.1 L661.3 544.2 L662.3 544.3 L663.3 544.8 L664.2 545.2 L665.2 545.6 L666.1 545.8 L667.1 545.9 L668.1 545.9 L669.0 546.1 L670.0 546.4 L670.9 546.7 L671.9 547.1 L672.9 547.4 L673.9 547.7 L674.9 547.7 L675.9 547.7 L676.9 547.8 L677.9 548.1 L678.9 548.7 L679.9 549.3 L680.9 549.9 L681.9 549.5 L682.9 548.4 L683.9 547.1 L684.8 546.0 L685.8 545.1 L686.8 544.5 L687.8 543.9 L688.8 543.7 L689.8 543.7 L690.8 543.5 L691.8 543.2 L692.8 542.9 L693.8 542.9 L694.8 542.9 L695.8 542.8 L696.7 542.8 L697.7 542.8 L698.7 543.0 L699.7 543.2 L700.7 543.4 L701.7 543.5 L702.7 543.6 L703.7 543.7 L704.7 543.8 L705.7 544.3 L706.6 544.8 L707.6 545.2 L708.6 545.6 L709.6 546.0 L710.5 546.3 L711.5 546.5 L712.4 547.6 L713.3 548.8 L714.2 550.3 L715.1 552.0 L716.1 552.5 L717.1 551.5 L718.1 550.2 L719.1 548.9 L720.1 547.5 L721.1 546.2 L722.1 546.0 L723.1 545.8 L724.1 545.5 L725.1 545.2 L726.1 545.1 L727.1 545.0 L728.1 544.9 L729.1 544.8 L730.0 544.5 L731.0 544.2 L732.0 543.9 L733.0 543.6 L734.0 543.5 L735.0 543.4 L736.0 543.4 L737.0 543.4 L738.0 543.5 L739.0 543.9 L739.9 544.3 L740.9 544.6 L741.9 544.8 L742.9 544.8 L743.8 544.8 L744.8 544.8 L745.8 545.0 L746.8 545.3 L747.7 545.6 L748.7 545.8 L749.7 546.2 L750.7 546.8 L751.6 547.3 L752.6 547.9 L753.6 548.5 L754.5 549.0 L755.5 549.4 L756.5 549.7 L757.5 550.0 L758.4 550.3 L759.4 550.6 L760.4 550.9 L761.4 551.3 L762.4 551.5 L763.3 551.7 L764.3 551.9 L765.3 552.2 L766.3 552.5 L767.3 552.8 L768.2 553.0 L769.2 553.3 L770.2 553.5 L771.2 553.6 L772.1 553.7 L773.1 553.7 L774.1 553.5 L775.0 553.1 L776.0 552.6 L777.0 552.0 L777.9 551.2 L778.9 550.7 L779.9 550.2 L780.8 549.6 L781.8 548.8 L782.8 547.9 L783.7 546.9 L784.7 546.0 L785.7 546.5 L786.6 546.9 L787.6 547.3 L788.6 547.6 L789.5 548.1 L790.5 548.7 L791.5 549.2 L792.4 549.8 L793.4 550.2 L794.3 550.6 L795.3 551.2 L796.3 551.8 L797.2 552.2 L798.2 552.5 L799.1 552.7 L800.1 552.9 L801.1 553.1 L802.0 553.2 L803.0 552.6 L804.0 551.5 L805.0 550.6 L806.0 550.0 L807.0 549.6 L807.9 549.2 L808.9 548.8 L809.9 548.2 L810.9 547.4 L811.9 547.3 L812.9 547.9 L813.9 548.7 L814.9 549.7 L815.8 550.8 L816.8 551.8 L817.8 552.6 L818.8 553.5 L819.8 554.3 L820.8 554.5 L821.8 553.8 L822.8 552.9 L823.8 551.9 L824.8 551.0 L825.8 550.4 L826.7 549.9 L827.7 549.4 L828.7 548.9 L829.7 548.3 L830.7 547.8 L831.7 547.7 L832.7 548.0 L833.7 548.2 L834.7 548.2 L835.7 548.3 L836.7 548.3 L837.7 548.4 L838.7 548.3 L839.7 548.1 L840.7 547.9 L841.7 548.0 L842.7 548.3 L843.7 548.8 L844.6 549.2 L845.6 549.6 L846.6 550.0 L847.6 550.4 L848.6 550.8 L849.5 551.2 L850.5 551.6 L851.5 552.1 L852.5 552.6 L853.5 553.0 L854.4 553.4 L855.4 553.8 L856.4 553.7 L857.4 553.0 L858.4 552.4 L859.4 551.7 L860.4 551.1 L861.3 550.5 L862.3 549.9 L863.3 549.5 L864.3 549.0 L865.3 548.5 L866.3 547.9 L867.3 547.5 L868.2 547.3 L869.1 547.0 L870.1 548.4 L871.1 549.7 L872.1 551.0 L873.1 552.4 L874.1 553.8 L875.1 554.4 L876.1 554.0 L877.0 553.6 L878.0 553.0 L879.0 552.2 L879.9 551.3 L880.9 550.5 L881.9 550.5 L882.9 551.1 L883.9 551.8 L884.9 552.4 L885.9 552.8 L886.9 553.1 L887.9 553.3 L888.9 553.6 L889.9 554.0 L890.9 554.5 L891.9 555.0 L892.9 555.2 L893.9 555.1 L894.9 555.2 L895.8 555.4 L896.8 555.5 L897.8 555.4 L898.8 555.3 L899.8 555.0 L900.8 554.9 L901.7 554.7 L902.7 554.7 L903.7 554.6 L904.7 554.6 L905.7 554.5 L906.7 554.2 L907.6 553.9 L908.6 553.7 L909.6 553.5 L910.6 553.4 L911.5 553.4 L912.5 553.5 L913.5 553.7 L914.4 553.9 L915.4 554.2 L916.3 554.5 L917.3 554.8 L918.3 555.1 L919.2 555.4 L920.2 555.1 L921.1 554.2 L922.1 553.2 L923.1 552.3 L924.0 551.5 L925.0 550.5 L926.0 549.6 L926.9 548.8 L927.9 548.1 L928.9 549.9 L929.9 551.5 L930.9 553.2 L931.9 554.9 L932.9 556.6 L933.9 556.7 L934.9 555.0 L935.9 553.2 L936.9 551.6 L937.9 550.3 L938.9 549.2 L939.9 548.3 L940.9 547.2 L941.9 548.1 L942.9 549.0 L943.8 549.8 L944.8 550.6 L945.8 551.5 L946.8 552.2 L947.7 553.0 L948.7 553.7 L949.7 554.6 L950.6 555.2 L951.6 555.7 L952.6 556.3 L953.6 555.1 L954.5 554.2 L955.5 553.3 L956.5 552.4 L957.4 551.4 L958.4 550.3 L959.4 549.3 L960.3 548.2 L961.3 548.6 L962.3 550.4 L963.3 552.2 L964.2 554.1 L965.2 555.9 L966.2 557.6 L967.2 556.5 L968.1 555.4 L969.1 554.4 L970.1 553.5 L971.0 552.7 L972.0 552.0 L973.0 551.1 L973.9 550.3 L974.9 550.0 L975.8 549.9 L976.8 549.8 L977.8 549.5 L978.7 548.9 L979.7 548.2 L980.6 547.6 L981.6 547.2 L982.6 546.9 L983.5 546.6 L984.5 547.0 L985.4 548.0 L986.4 549.1 L987.4 550.2 L988.3 551.4 L989.3 552.4 L990.2 553.4 L991.2 554.3 L992.2 555.1 L993.1 556.1 L994.1 556.1 L995.1 555.1 L996.1 554.2 L997.0 553.1 L998.0 552.0 L999.0 551.0" stroke="#FF0000" stroke-width="4.50" fill="none" stroke-linejoin="round" stroke-linecap="butt"/><path d="M601.3 514.9 L601.8 514.8 L602.3 514.1 L602.8 514.4 L603.2 514.2 L603.7 514.3 L604.2 513.9 L604.7 514.0 L605.2 513.8 L605.6 513.4 L606.1 513.1 L606.6 513.3 L607.1 513.4 L607.6 513.8 L608.1 514.1 L608.6 514.4 L609.1 514.7 L609.6 515.0 L610.1 514.9 L610.6 515.6 L611.1 515.4 L611.6 516.0 L612.1 516.3 L612.5 516.5 L613.0 516.3 L613.5 516.4 L614.0 516.6 L614.5 516.8 L615.0 517.3 L615.5 517.3 L616.0 517.5 L616.5 517.7 L617.0 518.0 L617.5 517.3 L618.0 518.2 L618.5 517.9 L619.0 517.9 L619.5 518.0 L619.9 517.8 L620.4 518.0 L620.9 516.8 L621.4 517.8 L621.9 517.4 L622.4 517.0 L622.9 517.7 L623.4 517.6 L623.8 517.2 L624.3 517.3 L624.8 517.3 L625.3 517.4 L625.8 516.4 L626.3 516.6 L626.8 516.4 L627.3 517.0 L627.7 516.8 L628.2 516.1 L628.7 515.4 L629.2 516.4 L629.7 516.2 L630.2 516.2 L630.7 516.0 L631.2 516.3 L631.7 516.3 L632.2 516.6 L632.7 516.8 L633.2 516.8 L633.7 516.1 L634.1 517.6 L634.6 517.8 L635.1 518.0 L635.6 517.5 L636.1 517.9 L636.6 517.6 L637.1 518.3 L637.6 518.1 L638.1 518.1 L638.6 517.9 L639.1 518.1 L639.6 517.6 L640.1 518.1 L640.6 517.7 L641.1 518.0 L641.6 518.3 L642.1 517.8 L642.6 518.5 L643.0 518.4 L643.5 518.3 L644.0 518.7 L644.5 519.4 L645.0 520.0 L645.5 519.7 L646.0 520.3 L646.5 520.2 L647.0 520.2 L647.5 519.9 L648.0 520.1 L648.5 519.3 L649.0 519.8 L649.5 519.0 L650.0 519.4 L650.5 518.6 L651.0 519.5 L651.4 519.4 L651.9 518.5 L652.4 518.6 L652.9 518.4 L653.4 518.6 L653.9 519.5 L654.4 519.8 L654.9 519.6 L655.4 520.1 L655.9 519.9 L656.4 520.1 L656.9 519.3 L657.4 520.0 L657.9 519.7 L658.4 519.7 L658.9 519.1 L659.4 519.1 L659.9 519.5 L660.3 518.5 L660.8 519.0 L661.3 519.2 L661.8 519.1 L662.3 518.8 L662.8 518.2 L663.3 518.4 L663.8 518.9 L664.3 518.1 L664.8 518.5 L665.3 518.4 L665.8 518.3 L666.3 519.4 L666.8 519.4 L667.3 519.5 L667.8 518.7 L668.3 519.2 L668.8 519.2 L669.3 518.3 L669.8 518.9 L670.3 518.6 L670.8 519.4 L671.3 519.0 L671.8 519.6 L672.3 519.8 L672.8 519.9 L673.2 519.6 L673.7 520.1 L674.2 519.8 L674.7 520.2 L675.2 519.6 L675.7 520.0 L676.2 520.5 L676.7 520.0 L677.2 520.6 L677.7 520.4 L678.2 521.7 L678.7 521.5 L679.2 522.0 L679.7 522.1 L680.2 522.5 L680.7 522.4 L681.2 522.9 L681.7 522.0 L682.2 522.1 L682.7 522.6 L683.2 522.3 L683.7 522.5 L684.2 521.9 L684.7 522.1 L685.2 521.5 L685.7 521.4 L686.2 521.6 L686.7 521.6 L687.2 521.9 L687.7 521.3 L688.2 521.8 L688.7 521.3 L689.2 521.1 L689.7 520.8 L690.2 521.5 L690.7 521.0 L691.2 521.6 L691.7 520.8 L692.2 522.0 L692.7 521.2 L693.2 522.1 L693.7 521.8 L694.2 521.5 L694.7 521.1 L695.2 520.7 L695.7 520.7 L696.2 520.0 L696.7 519.9 L697.2 519.3 L697.7 519.9 L698.2 519.2 L698.7 519.4 L699.2 519.7 L699.7 519.4 L700.2 519.6 L700.7 519.7 L701.2 520.0 L701.7 519.6 L702.2 519.7 L702.7 520.7 L703.2 521.0 L703.7 521.3 L704.2 521.0 L704.7 520.8 L705.2 521.1 L705.7 520.4 L706.2 520.5 L706.7 520.5 L707.2 520.2 L707.7 519.2 L708.2 518.9 L708.7 518.6 L709.2 518.9 L709.7 519.1 L710.2 519.1 L710.7 519.3 L711.2 519.3 L711.7 519.8 L712.2 520.1 L712.7 519.8 L713.2 520.5 L713.7 521.1 L714.2 521.4 L714.6 521.5 L715.1 521.6 L715.6 520.8 L716.1 521.7 L716.6 520.8 L717.1 521.4 L717.6 520.9 L718.1 520.8 L718.6 520.4 L719.1 519.9 L719.6 520.0 L720.1 519.7 L720.6 518.6 L721.1 519.7 L721.6 519.6 L722.1 520.2 L722.6 519.6 L723.1 520.5 L723.6 520.7 L724.1 521.3 L724.6 521.0 L725.1 521.9 L725.6 522.1 L726.1 522.3 L726.6 522.1 L727.1 522.0 L727.6 520.8 L728.1 521.7 L728.5 520.5 L729.0 521.3 L729.5 521.2 L730.0 520.7 L730.5 520.9 L731.0 519.7 L731.5 520.5 L732.0 520.6 L732.5 520.9 L733.0 520.9 L733.5 521.7 L734.0 521.8 L734.5 522.2 L735.0 522.0 L735.5 522.5 L736.0 522.7 L736.5 522.6 L737.0 523.4 L737.5 523.1 L738.0 523.2 L738.5 522.4 L739.0 522.5 L739.5 522.5 L740.0 522.5 L740.5 522.5 L741.0 522.0 L741.5 521.4 L742.0 521.7 L742.5 521.8 L743.0 521.8 L743.5 522.0 L744.0 522.3 L744.5 521.4 L745.0 522.5 L745.5 522.3 L746.0 523.1 L746.5 522.9 L747.0 523.4 L747.5 523.8 L748.0 523.8 L748.5 524.1 L749.0 523.8 L749.5 523.8 L750.0 522.9 L750.5 523.4 L751.0 523.2 L751.5 523.0 L752.0 521.8 L752.5 522.3 L753.0 522.1 L753.5 522.2 L754.0 522.5 L754.5 522.0 L755.0 522.9 L755.5 523.3 L756.0 523.6 L756.5 523.6 L757.0 523.8 L757.5 523.9 L758.0 524.5 L758.5 524.3 L759.0 524.6 L759.5 524.6 L760.0 524.3 L760.5 523.7 L761.0 523.7 L761.5 522.9 L762.0 523.3 L762.5 522.1 L763.0 522.9 L763.5 522.1 L764.0 522.3 L764.5 522.3 L765.0 522.5 L765.5 522.4 L766.0 523.3 L766.5 523.6 L767.0 523.6 L767.5 523.8 L768.0 523.5 L768.5 524.4 L769.0 524.0 L769.5 524.5 L770.0 525.0 L770.5 523.8 L771.0 523.5 L771.5 524.0 L772.0 524.0 L772.5 522.7 L773.0 523.0 L773.5 523.5 L774.0 522.5 L774.5 522.7 L775.0 521.8 L775.5 522.2 L776.0 522.6 L776.5 522.8 L777.0 522.6 L777.5 522.9 L778.0 523.6 L778.5 524.3 L779.0 524.4 L779.5 524.5 L780.0 524.1 L780.5 524.5 L781.0 525.3 L781.5 524.2 L782.0 524.6 L782.5 524.1 L783.0 524.4 L783.5 523.9 L784.0 523.5 L784.5 524.1 L785.0 524.0 L785.5 522.9 L786.0 522.5 L786.5 523.4 L787.0 522.7 L787.5 524.0 L788.0 523.3 L788.5 524.6 L789.0 524.8 L789.5 525.1 L790.0 525.4 L790.5 524.7 L791.0 525.0 L791.5 526.0 L792.0 525.7 L792.5 526.3 L793.0 525.9 L793.5 525.8 L794.0 524.8 L794.5 524.4 L795.0 524.9 L795.5 524.7 L796.0 523.9 L796.5 524.0 L797.0 523.9 L797.5 523.2 L798.0 523.6 L798.5 524.2 L799.0 523.5 L799.5 523.7 L800.0 525.0 L800.5 524.2 L801.0 525.0 L801.5 525.3 L802.0 525.9 L802.5 525.3 L803.0 525.6 L803.5 525.9 L804.0 525.8 L804.5 525.3 L805.0 525.6 L805.5 525.0 L806.0 525.0 L806.5 524.6 L807.0 524.0 L807.5 524.0 L808.0 523.7 L808.5 523.4 L809.0 523.9 L809.5 524.4 L810.0 524.7 L810.5 524.2 L811.0 525.3 L811.5 524.9 L812.0 525.9 L812.5 526.2 L813.0 526.8 L813.5 527.1 L814.0 526.8 L814.5 527.4 L815.0 527.3 L815.5 526.5 L816.0 527.1 L816.5 526.2 L817.0 525.6 L817.5 526.1 L818.0 525.5 L818.5 525.4 L819.0 524.9 L819.5 524.3 L820.0 524.2 L820.5 524.0 L821.0 524.6 L821.5 525.1 L822.0 525.5 L822.5 525.8 L823.0 526.5 L823.5 526.0 L824.0 526.6 L824.5 527.7 L825.0 527.9 L825.5 527.1 L826.0 527.1 L826.5 527.2 L827.0 526.1 L827.5 526.8 L828.0 526.4 L828.5 525.1 L829.0 525.5 L829.5 525.0 L830.0 524.6 L830.5 524.4 L831.0 524.0 L831.5 524.9 L832.0 525.1 L832.5 524.6 L833.0 524.8 L833.5 525.4 L834.0 526.4 L834.5 526.9 L835.0 526.1 L835.5 527.3 L836.0 527.9 L836.5 526.5 L837.0 527.4 L837.5 527.1 L838.0 526.2 L838.5 525.8 L839.0 526.4 L839.5 526.3 L840.0 526.1 L840.5 525.2 L841.0 525.6 L841.5 525.0 L842.0 525.5 L842.5 525.6 L843.0 524.9 L843.5 525.9 L844.0 526.4 L844.5 526.6 L845.0 526.8 L845.5 526.5 L846.0 526.9 L846.5 527.4 L847.0 527.6 L847.5 526.9 L848.0 526.9 L848.5 526.8 L849.0 526.3 L849.5 525.8 L850.0 524.8 L850.5 525.3 L851.0 524.8 L851.5 524.0 L852.0 524.4 L852.5 523.7 L853.0 524.3 L853.5 524.6 L854.0 524.2 L854.5 525.4 L855.0 525.2 L855.5 526.0 L856.0 526.5 L856.5 526.8 L857.0 527.2 L857.5 527.1 L858.0 527.3 L858.5 526.6 L859.0 527.4 L859.5 526.8 L860.0 526.5 L860.5 526.5 L861.0 525.4 L861.5 526.0 L862.0 525.5 L862.5 525.5 L863.0 524.3 L863.5 524.7 L864.0 525.3 L864.5 525.7 L865.0 525.7 L865.5 525.8 L866.0 526.0 L866.5 527.1 L867.0 527.4 L867.5 527.2 L868.0 527.9 L868.5 528.1 L869.0 528.3 L869.5 527.9 L870.0 527.5 L870.5 527.6 L871.0 527.0 L871.5 526.8 L872.0 526.6 L872.5 526.3 L873.0 525.8 L873.5 526.0 L874.0 524.7 L874.5 525.2 L875.0 526.0 L875.5 526.5 L876.0 526.9 L876.5 526.8 L877.0 527.1 L877.5 527.8 L878.0 527.9 L878.5 527.3 L879.0 527.8 L879.5 528.5 L880.0 528.5 L880.5 528.1 L881.0 527.8 L881.5 527.3 L882.0 526.9 L882.5 526.8 L883.0 525.7 L883.5 526.1 L884.0 525.4 L884.5 525.7 L885.0 525.0 L885.5 524.7 L886.0 525.5 L886.5 525.5 L887.0 525.9 L887.5 526.4 L888.0 526.8 L888.5 526.8 L889.0 527.4 L889.5 527.4 L890.0 528.2 L890.5 528.2 L891.0 528.2 L891.5 528.7 L892.0 528.3 L892.5 526.8 L893.0 527.5 L893.5 527.1 L894.0 526.7 L894.5 525.2 L895.0 524.6 L895.5 525.4 L896.0 525.0 L896.5 523.9 L897.0 524.5 L897.5 525.3 L898.0 525.7 L898.5 525.7 L899.0 526.9 L899.5 527.2 L900.0 527.5 L900.5 528.4 L901.0 528.8 L901.5 528.9 L902.0 529.4 L902.5 529.1 L903.0 528.0 L903.5 527.1 L904.0 526.6 L904.5 526.9 L905.0 526.5 L905.5 526.1 L906.0 525.7 L906.5 525.6 L907.0 525.4 L907.5 525.0 L908.0 524.8 L908.5 525.6 L909.0 526.2 L909.5 525.8 L910.0 526.8 L910.5 526.7 L911.0 527.8 L911.5 527.6 L912.0 528.0 L912.5 528.9 L913.0 529.6 L913.5 528.7 L914.0 528.0 L914.5 528.4 L915.0 527.7 L915.5 527.5 L916.0 527.2 L916.5 526.3 L917.0 525.9 L917.5 526.3 L918.0 525.0 L918.5 525.6 L919.0 526.1 L919.5 526.3 L920.0 526.7 L920.5 527.5 L921.0 527.7 L921.5 527.3 L922.0 528.6 L922.5 529.0 L923.0 528.3 L923.5 529.5 L924.0 529.2 L924.5 529.0 L925.0 528.8 L925.5 528.4 L926.0 528.0 L926.5 527.7 L927.0 527.1 L927.5 526.6 L928.0 526.8 L928.5 526.3 L929.0 526.5 L929.5 525.2 L930.0 526.5 L930.5 526.7 L931.0 527.6 L931.5 527.7 L932.0 528.2 L932.5 528.7 L933.0 528.8 L933.5 528.1 L934.0 529.0 L934.5 529.7 L935.0 529.6 L935.5 529.3 L936.0 528.7 L936.5 527.6 L937.0 528.0 L937.5 527.5 L938.0 526.7 L938.5 526.5 L939.0 525.9 L939.5 525.9 L940.0 525.7 L940.5 524.7 L941.0 524.7 L941.5 525.3 L942.0 526.5 L942.5 526.7 L943.0 527.3 L943.5 527.0 L944.0 527.0 L944.5 527.5 L945.0 528.7 L945.5 528.6 L946.0 529.7 L946.5 528.1 L947.0 528.9 L947.5 527.6 L948.0 528.2 L948.5 527.8 L949.0 527.1 L949.5 526.2 L950.0 526.5 L950.5 526.3 L951.0 524.7 L951.5 525.4 L952.0 525.8 L952.5 525.7 L953.0 526.6 L953.5 526.9 L954.0 528.1 L954.5 528.6 L955.0 529.1 L955.5 529.7 L956.0 530.2 L956.5 530.6 L957.0 530.8 L957.5 530.2 L958.0 530.2 L958.5 529.9 L959.0 529.9 L959.5 529.0 L960.0 529.2 L960.5 528.8 L961.0 528.2 L961.5 528.0 L962.0 526.9 L962.5 526.9 L963.0 527.1 L963.5 527.0 L964.0 527.7 L964.5 527.8 L965.0 527.9 L965.5 528.4 L966.0 527.8 L966.5 529.1 L967.0 528.6 L967.5 530.2 L968.0 530.2 L968.5 530.3 L969.0 530.0 L969.5 529.6 L970.0 528.8 L970.5 529.0 L971.0 528.2 L971.5 527.4 L972.0 527.5 L972.5 526.8 L973.0 527.0 L973.5 526.5 L974.0 527.3 L974.5 526.8 L975.0 528.3 L975.5 528.4 L976.0 529.4 L976.5 529.0 L977.0 530.1 L977.5 530.7 L978.0 530.0 L978.5 531.4 L979.0 531.4 L979.5 531.3 L980.0 529.7 L980.5 530.1 L981.0 529.4 L981.5 528.7 L982.0 528.9 L982.5 528.0 L983.0 528.0 L983.5 527.9 L984.0 527.1 L984.5 526.5 L985.0 526.9 L985.5 527.1 L986.0 528.2 L986.5 529.1 L987.0 528.8 L987.5 529.2 L988.0 530.4 L988.5 530.6 L989.0 531.1 L989.5 531.7 L990.0 532.1 L990.5 531.9 L991.0 530.9 L991.5 530.4 L992.0 530.2 L992.5 529.8 L993.0 528.2 L993.5 528.6 L994.0 527.5 L994.5 527.3 L995.0 526.4 L995.5 525.5 L996.0 525.4 L996.5 526.2 L997.0 527.4 L997.5 527.5 L998.0 528.2 L998.5 528.9 L999.0 529.9 L999.5 529.4 L999.5 532.7 L999.0 532.7 L998.5 531.8 L998.0 531.8 L997.5 530.6 L997.0 530.0 L996.5 529.8 L996.0 529.4 L995.5 528.6 L995.0 529.3 L994.5 529.8 L994.0 530.6 L993.5 531.2 L993.0 532.3 L992.5 532.8 L992.0 533.1 L991.5 533.7 L991.0 534.3 L990.5 534.5 L990.0 535.2 L989.5 534.5 L989.0 534.8 L988.5 534.0 L988.0 533.1 L987.5 532.5 L987.0 532.9 L986.5 532.3 L986.0 531.1 L985.5 531.7 L985.0 531.0 L984.5 529.7 L984.0 530.2 L983.5 530.5 L983.0 531.0 L982.5 531.5 L982.0 531.6 L981.5 532.0 L981.0 532.5 L980.5 533.8 L980.0 534.3 L979.5 534.5 L979.0 534.8 L978.5 534.6 L978.0 534.3 L977.5 533.3 L977.0 533.1 L976.5 533.4 L976.0 532.0 L975.5 531.6 L975.0 531.2 L974.5 530.4 L974.0 530.1 L973.5 530.3 L973.0 529.6 L972.5 530.9 L972.0 530.8 L971.5 530.7 L971.0 531.5 L970.5 531.6 L970.0 532.7 L969.5 532.4 L969.0 533.4 L968.5 532.9 L968.0 533.3 L967.5 533.4 L967.0 532.8 L966.5 532.2 L966.0 531.4 L965.5 531.2 L965.0 531.0 L964.5 530.5 L964.0 530.7 L963.5 531.1 L963.0 529.9 L962.5 530.2 L962.0 530.3 L961.5 531.6 L961.0 531.0 L960.5 531.8 L960.0 532.1 L959.5 532.0 L959.0 532.4 L958.5 533.7 L958.0 534.0 L957.5 533.4 L957.0 534.2 L956.5 534.1 L956.0 533.7 L955.5 532.4 L955.0 532.2 L954.5 531.7 L954.0 530.7 L953.5 530.3 L953.0 529.8 L952.5 529.3 L952.0 528.6 L951.5 528.4 L951.0 529.5 L950.5 529.7 L950.0 529.9 L949.5 529.8 L949.0 530.9 L948.5 530.5 L948.0 531.0 L947.5 531.8 L947.0 531.7 L946.5 532.5 L946.0 532.4 L945.5 532.6 L945.0 531.7 L944.5 531.2 L944.0 531.2 L943.5 530.6 L943.0 530.4 L942.5 529.7 L942.0 529.2 L941.5 528.7 L941.0 529.1 L940.5 528.9 L940.0 528.5 L939.5 528.8 L939.0 529.2 L938.5 529.7 L938.0 530.0 L937.5 530.4 L937.0 531.6 L936.5 531.1 L936.0 532.3 L935.5 532.0 L935.0 533.5 L934.5 532.3 L934.0 533.1 L933.5 532.4 L933.0 531.8 L932.5 532.1 L932.0 531.8 L931.5 530.7 L931.0 531.4 L930.5 529.9 L930.0 530.1 L929.5 529.9 L929.0 529.1 L928.5 530.3 L928.0 530.4 L927.5 529.8 L927.0 530.6 L926.5 531.4 L926.0 530.7 L925.5 531.3 L925.0 532.2 L924.5 532.2 L924.0 533.5 L923.5 532.5 L923.0 532.2 L922.5 532.3 L922.0 531.3 L921.5 530.9 L921.0 531.0 L920.5 530.3 L920.0 529.7 L919.5 530.1 L919.0 529.3 L918.5 528.2 L918.0 529.6 L917.5 529.2 L917.0 529.1 L916.5 529.4 L916.0 531.0 L915.5 530.7 L915.0 530.6 L914.5 531.4 L914.0 531.5 L913.5 531.9 L913.0 532.3 L912.5 531.7 L912.0 531.6 L911.5 531.0 L911.0 531.5 L910.5 530.4 L910.0 529.8 L909.5 529.5 L909.0 529.0 L908.5 529.5 L908.0 528.4 L907.5 528.5 L907.0 528.1 L906.5 529.3 L906.0 529.1 L905.5 529.0 L905.0 529.4 L904.5 530.1 L904.0 530.9 L903.5 531.0 L903.0 531.5 L902.5 532.0 L902.0 532.3 L901.5 531.8 L901.0 531.9 L900.5 531.5 L900.0 530.5 L899.5 530.0 L899.0 529.6 L898.5 529.7 L898.0 528.5 L897.5 528.1 L897.0 527.6 L896.5 527.2 L896.0 528.0 L895.5 528.0 L895.0 528.4 L894.5 529.0 L894.0 529.2 L893.5 530.4 L893.0 530.4 L892.5 531.0 L892.0 530.9 L891.5 532.0 L891.0 531.6 L890.5 531.8 L890.0 531.0 L889.5 530.8 L889.0 530.7 L888.5 530.2 L888.0 529.5 L887.5 529.8 L887.0 529.6 L886.5 528.9 L886.0 528.7 L885.5 528.0 L885.0 528.5 L884.5 529.0 L884.0 528.5 L883.5 529.0 L883.0 529.4 L882.5 529.6 L882.0 530.3 L881.5 530.8 L881.0 531.1 L880.5 531.8 L880.0 532.0 L879.5 531.8 L879.0 531.5 L878.5 530.7 L878.0 531.2 L877.5 530.4 L877.0 530.2 L876.5 530.6 L876.0 530.2 L875.5 529.5 L875.0 528.8 L874.5 528.9 L874.0 528.4 L873.5 529.3 L873.0 528.8 L872.5 529.6 L872.0 529.4 L871.5 530.0 L871.0 530.3 L870.5 530.4 L870.0 530.5 L869.5 530.9 L869.0 531.4 L868.5 531.1 L868.0 530.6 L867.5 530.9 L867.0 531.0 L866.5 530.2 L866.0 529.5 L865.5 529.8 L865.0 528.9 L864.5 528.8 L864.0 528.4 L863.5 528.7 L863.0 529.0 L862.5 528.5 L862.0 528.5 L861.5 529.1 L861.0 529.5 L860.5 529.8 L860.0 529.8 L859.5 530.7 L859.0 530.4 L858.5 530.9 L858.0 531.0 L857.5 530.8 L857.0 529.8 L856.5 529.5 L856.0 530.1 L855.5 528.9 L855.0 528.9 L854.5 528.4 L854.0 527.9 L853.5 527.7 L853.0 528.0 L852.5 527.4 L852.0 527.6 L851.5 528.2 L851.0 528.5 L850.5 528.2 L850.0 528.9 L849.5 529.8 L849.0 529.5 L848.5 529.6 L848.0 529.9 L847.5 530.9 L847.0 531.6 L846.5 530.2 L846.0 529.8 L845.5 529.6 L845.0 529.9 L844.5 529.1 L844.0 529.0 L843.5 529.3 L843.0 528.6 L842.5 528.6 L842.0 528.3 L841.5 527.8 L841.0 529.1 L840.5 528.4 L840.0 529.0 L839.5 529.2 L839.0 529.4 L838.5 529.6 L838.0 529.5 L837.5 529.7 L837.0 530.8 L836.5 530.9 L836.0 531.3 L835.5 530.8 L835.0 529.9 L834.5 529.5 L834.0 529.2 L833.5 529.3 L833.0 529.6 L832.5 528.4 L832.0 528.8 L831.5 527.6 L831.0 527.9 L830.5 527.0 L830.0 527.4 L829.5 527.8 L829.0 528.3 L828.5 529.4 L828.0 529.7 L827.5 529.4 L827.0 530.8 L826.5 530.0 L826.0 530.4 L825.5 530.8 L825.0 530.8 L824.5 530.4 L824.0 530.6 L823.5 530.0 L823.0 529.9 L822.5 529.6 L822.0 529.4 L821.5 528.5 L821.0 527.9 L820.5 527.8 L820.0 528.3 L819.5 527.1 L819.0 527.6 L818.5 529.0 L818.0 529.1 L817.5 528.9 L817.0 529.3 L816.5 530.1 L816.0 530.0 L815.5 530.1 L815.0 530.9 L814.5 531.2 L814.0 531.0 L813.5 530.9 L813.0 529.8 L812.5 529.8 L812.0 528.9 L811.5 529.2 L811.0 528.9 L810.5 528.2 L810.0 527.3 L809.5 527.5 L809.0 527.5 L808.5 526.9 L808.0 527.1 L807.5 527.1 L807.0 527.1 L806.5 527.8 L806.0 528.3 L805.5 527.9 L805.0 528.4 L804.5 528.4 L804.0 529.2 L803.5 529.8 L803.0 529.3 L802.5 528.9 L802.0 528.7 L801.5 528.4 L801.0 528.4 L800.5 528.2 L800.0 527.6 L799.5 527.6 L799.0 527.5 L798.5 527.4 L798.0 526.9 L797.5 527.2 L797.0 526.9 L796.5 526.8 L796.0 527.0 L795.5 527.8 L795.0 528.0 L794.5 527.8 L794.0 528.1 L793.5 528.3 L793.0 528.9 L792.5 528.9 L792.0 529.8 L791.5 528.8 L791.0 528.9 L790.5 529.3 L790.0 527.9 L789.5 527.8 L789.0 528.1 L788.5 527.2 L788.0 526.8 L787.5 526.6 L787.0 526.4 L786.5 526.3 L786.0 526.8 L785.5 527.0 L785.0 527.0 L784.5 527.0 L784.0 527.2 L783.5 527.2 L783.0 528.1 L782.5 527.4 L782.0 527.8 L781.5 527.9 L781.0 528.3 L780.5 528.3 L780.0 528.0 L779.5 527.7 L779.0 528.1 L778.5 526.9 L778.0 527.7 L777.5 527.6 L777.0 526.2 L776.5 525.9 L776.0 525.6 L775.5 525.3 L775.0 525.6 L774.5 526.5 L774.0 527.0 L773.5 526.0 L773.0 526.2 L772.5 526.6 L772.0 526.7 L771.5 526.7 L771.0 527.0 L770.5 527.4 L770.0 528.3 L769.5 527.3 L769.0 527.7 L768.5 527.6 L768.0 527.6 L767.5 526.6 L767.0 527.1 L766.5 526.5 L766.0 525.9 L765.5 526.2 L765.0 525.6 L764.5 525.0 L764.0 525.4 L763.5 525.3 L763.0 525.5 L762.5 526.0 L762.0 526.1 L761.5 526.2 L761.0 526.4 L760.5 527.4 L760.0 527.4 L759.5 527.4 L759.0 527.5 L758.5 527.7 L758.0 527.7 L757.5 526.9 L757.0 526.8 L756.5 526.7 L756.0 526.4 L755.5 525.9 L755.0 525.7 L754.5 526.5 L754.0 525.2 L753.5 524.8 L753.0 525.1 L752.5 525.4 L752.0 525.9 L751.5 525.9 L751.0 525.9 L750.5 526.4 L750.0 526.3 L749.5 527.2 L749.0 526.9 L748.5 527.0 L748.0 527.0 L747.5 526.6 L747.0 526.4 L746.5 526.3 L746.0 525.6 L745.5 526.0 L745.0 525.2 L744.5 525.1 L744.0 525.7 L743.5 524.8 L743.0 525.6 L742.5 524.5 L742.0 524.6 L741.5 525.5 L741.0 526.2 L740.5 526.0 L740.0 525.4 L739.5 526.4 L739.0 525.6 L738.5 526.8 L738.0 526.1 L737.5 526.9 L737.0 526.0 L736.5 525.9 L736.0 525.6 L735.5 525.6 L735.0 525.1 L734.5 524.8 L734.0 524.6 L733.5 524.2 L733.0 524.1 L732.5 524.3 L732.0 523.8 L731.5 523.6 L731.0 523.9 L730.5 524.1 L730.0 524.1 L729.5 524.9 L729.0 524.0 L728.5 524.6 L728.1 524.4 L727.6 524.5 L727.1 525.2 L726.6 524.7 L726.1 525.9 L725.6 525.0 L725.1 524.5 L724.6 524.2 L724.1 524.4 L723.6 523.6 L723.1 523.3 L722.6 523.2 L722.1 522.8 L721.6 523.1 L721.1 522.5 L720.6 522.4 L720.1 522.3 L719.6 522.9 L719.1 522.8 L718.6 523.8 L718.1 523.4 L717.6 523.6 L717.1 524.5 L716.6 524.7 L716.1 524.6 L715.6 524.6 L715.1 524.7 L714.6 524.3 L714.2 524.2 L713.7 523.9 L713.2 524.1 L712.7 524.1 L712.2 522.6 L711.7 523.2 L711.2 522.8 L710.7 522.1 L710.2 521.8 L709.7 521.8 L709.2 522.1 L708.7 522.0 L708.2 523.0 L707.7 522.8 L707.2 523.0 L706.7 524.1 L706.2 523.3 L705.7 523.6 L705.2 523.7 L704.7 523.9 L704.2 524.0 L703.7 524.2 L703.2 523.8 L702.7 523.4 L702.2 523.2 L701.7 523.2 L701.2 523.2 L700.7 523.1 L700.2 523.3 L699.7 523.2 L699.2 522.7 L698.7 522.2 L698.2 522.2 L697.7 523.5 L697.2 523.8 L696.7 524.0 L696.2 523.1 L695.7 523.4 L695.2 523.9 L694.7 524.2 L694.2 525.0 L693.7 525.0 L693.2 524.6 L692.7 525.8 L692.2 525.7 L691.7 524.4 L691.2 524.3 L690.7 524.6 L690.2 524.3 L689.7 524.1 L689.2 524.5 L688.7 524.7 L688.2 524.5 L687.7 524.4 L687.2 524.6 L686.7 524.6 L686.2 525.0 L685.7 525.0 L685.2 524.7 L684.7 524.9 L684.2 525.1 L683.7 525.1 L683.2 525.8 L682.7 525.3 L682.2 525.5 L681.7 525.6 L681.2 525.4 L680.7 525.5 L680.2 525.2 L679.7 525.2 L679.2 525.0 L678.7 525.1 L678.2 524.5 L677.7 524.4 L677.2 524.7 L676.7 523.7 L676.2 523.9 L675.7 523.4 L675.2 523.9 L674.7 523.6 L674.2 523.2 L673.7 523.2 L673.2 522.6 L672.8 522.5 L672.3 522.5 L671.8 522.9 L671.3 522.2 L670.8 522.0 L670.3 522.1 L669.8 522.7 L669.3 523.2 L668.8 522.1 L668.3 522.1 L667.8 522.8 L667.3 522.3 L666.8 522.1 L666.3 522.1 L665.8 523.0 L665.3 522.1 L664.8 521.7 L664.3 521.6 L663.8 522.6 L663.3 522.3 L662.8 522.7 L662.3 521.9 L661.8 522.4 L661.3 522.0 L660.8 522.2 L660.3 522.1 L659.9 523.1 L659.4 522.4 L658.9 522.3 L658.4 522.7 L657.9 522.9 L657.4 522.8 L656.9 523.0 L656.4 522.8 L655.9 522.9 L655.4 522.8 L654.9 523.9 L654.4 522.6 L653.9 522.9 L653.4 523.3 L652.9 522.5 L652.4 523.1 L651.9 522.0 L651.4 522.9 L651.0 523.1 L650.5 522.8 L650.0 523.4 L649.5 522.6 L649.0 522.5 L648.5 523.2 L648.0 523.2 L647.5 523.0 L647.0 523.1 L646.5 523.0 L646.0 523.8 L645.5 523.8 L645.0 522.6 L644.5 522.5 L644.0 522.3 L643.5 521.7 L643.0 522.4 L642.6 521.5 L642.1 521.3 L641.6 521.1 L641.1 521.2 L640.6 521.2 L640.1 521.6 L639.6 521.1 L639.1 520.9 L638.6 521.6 L638.1 521.3 L637.6 521.4 L637.1 521.7 L636.6 521.2 L636.1 521.4 L635.6 521.5 L635.1 520.7 L634.6 520.9 L634.1 520.2 L633.7 520.0 L633.2 519.8 L632.7 519.9 L632.2 520.1 L631.7 519.0 L631.2 518.9 L630.7 518.8 L630.2 518.8 L629.7 518.7 L629.2 518.9 L628.7 519.8 L628.2 519.5 L627.7 519.9 L627.3 519.6 L626.8 519.7 L626.3 519.8 L625.8 520.0 L625.3 519.9 L624.8 520.0 L624.3 520.2 L623.8 520.5 L623.4 520.2 L622.9 521.1 L622.4 521.0 L621.9 520.4 L621.4 520.8 L620.9 520.5 L620.4 520.9 L619.9 520.6 L619.5 521.4 L619.0 521.3 L618.5 520.7 L618.0 520.8 L617.5 522.0 L617.0 520.9 L616.5 520.7 L616.0 520.2 L615.5 520.3 L615.0 520.2 L614.5 520.5 L614.0 519.5 L613.5 519.7 L613.0 520.1 L612.5 519.1 L612.1 519.7 L611.6 519.4 L611.1 519.2 L610.6 518.2 L610.1 518.1 L609.6 518.8 L609.1 518.1 L608.6 517.0 L608.1 516.8 L607.6 517.5 L607.1 516.3 L606.6 517.0 L606.1 516.8 L605.6 516.8 L605.2 516.7 L604.7 516.6 L604.2 516.7 L603.7 517.9 L603.2 517.3 L602.8 517.9 L602.3 518.1 L601.8 517.6 L601.3 517.7Z" fill="#632523"/><path d="M601.3 516.2 L602.3 516.0 L603.2 515.7 L604.2 515.4 L605.2 515.1 L606.1 514.9 L607.1 514.8 L608.1 515.4 L609.1 516.0 L610.1 516.6 L611.1 517.2 L612.1 517.6 L613.0 517.9 L614.0 518.2 L615.0 518.6 L616.0 518.9 L617.0 519.3 L618.0 519.5 L619.0 519.4 L619.9 519.3 L620.9 519.2 L621.9 519.1 L622.9 519.0 L623.8 518.8 L624.8 518.7 L625.8 518.6 L626.8 518.4 L627.7 518.2 L628.7 517.8 L629.7 517.5 L630.7 517.5 L631.7 517.7 L632.7 518.1 L633.7 518.6 L634.6 519.1 L635.6 519.5 L636.6 519.8 L637.6 519.8 L638.6 519.6 L639.6 519.5 L640.6 519.4 L641.6 519.6 L642.6 519.9 L643.5 520.4 L644.5 521.0 L645.5 521.4 L646.5 521.7 L647.5 521.7 L648.5 521.4 L649.5 521.1 L650.5 520.9 L651.4 520.7 L652.4 520.8 L653.4 521.0 L654.4 521.3 L655.4 521.5 L656.4 521.5 L657.4 521.4 L658.4 521.1 L659.4 520.9 L660.3 520.7 L661.3 520.6 L662.3 520.5 L663.3 520.4 L664.3 520.3 L665.3 520.5 L666.3 520.7 L667.3 520.8 L668.3 520.8 L669.3 520.7 L670.3 520.7 L671.3 520.8 L672.3 521.0 L673.2 521.3 L674.2 521.7 L675.2 522.0 L676.2 522.3 L677.2 522.6 L678.2 523.0 L679.2 523.4 L680.2 523.9 L681.2 524.2 L682.2 524.2 L683.2 524.0 L684.2 523.7 L685.2 523.5 L686.2 523.3 L687.2 523.2 L688.2 523.1 L689.2 522.9 L690.2 522.7 L691.2 523.0 L692.2 523.3 L693.2 523.4 L694.2 522.8 L695.2 522.3 L696.2 521.9 L697.2 521.4 L698.2 520.9 L699.2 521.0 L700.2 521.2 L701.2 521.5 L702.2 521.9 L703.2 522.4 L704.2 522.7 L705.2 522.4 L706.2 522.0 L707.2 521.5 L708.2 521.0 L709.2 520.4 L710.2 520.5 L711.2 520.9 L712.2 521.4 L713.2 522.0 L714.2 522.7 L715.1 523.3 L716.1 523.0 L717.1 522.6 L718.1 522.1 L719.1 521.6 L720.1 521.0 L721.1 521.1 L722.1 521.6 L723.1 522.1 L724.1 522.6 L725.1 523.1 L726.1 523.6 L727.1 523.3 L728.1 523.0 L729.0 522.7 L730.0 522.4 L731.0 522.1 L732.0 522.2 L733.0 522.7 L734.0 523.2 L735.0 523.7 L736.0 524.2 L737.0 524.8 L738.0 524.5 L739.0 524.3 L740.0 524.0 L741.0 523.7 L742.0 523.3 L743.0 523.2 L744.0 523.6 L745.0 523.9 L746.0 524.4 L747.0 524.9 L748.0 525.5 L749.0 525.2 L750.0 525.0 L751.0 524.6 L752.0 524.2 L753.0 523.8 L754.0 523.8 L755.0 524.4 L756.0 524.9 L757.0 525.4 L758.0 525.8 L759.0 526.2 L760.0 525.6 L761.0 525.0 L762.0 524.6 L763.0 524.2 L764.0 523.9 L765.0 524.0 L766.0 524.6 L767.0 525.1 L768.0 525.5 L769.0 525.9 L770.0 526.3 L771.0 525.7 L772.0 525.3 L773.0 524.9 L774.0 524.6 L775.0 524.2 L776.0 524.3 L777.0 524.9 L778.0 525.3 L779.0 525.7 L780.0 526.1 L781.0 526.6 L782.0 526.2 L783.0 525.9 L784.0 525.6 L785.0 525.3 L786.0 524.9 L787.0 525.0 L788.0 525.5 L789.0 526.1 L790.0 526.7 L791.0 527.3 L792.0 527.9 L793.0 527.3 L794.0 526.8 L795.0 526.3 L796.0 525.8 L797.0 525.2 L798.0 525.2 L799.0 525.7 L800.0 526.3 L801.0 526.8 L802.0 527.4 L803.0 527.9 L804.0 527.4 L805.0 526.8 L806.0 526.3 L807.0 525.7 L808.0 525.2 L809.0 525.3 L810.0 526.0 L811.0 526.6 L812.0 527.3 L813.0 528.1 L814.0 529.0 L815.0 528.8 L816.0 528.4 L817.0 527.8 L818.0 527.0 L819.0 526.2 L820.0 526.0 L821.0 526.5 L822.0 527.2 L823.0 527.9 L824.0 528.7 L825.0 529.5 L826.0 529.0 L827.0 528.4 L828.0 527.6 L829.0 526.8 L830.0 526.1 L831.0 526.0 L832.0 526.6 L833.0 527.2 L834.0 527.9 L835.0 528.5 L836.0 529.2 L837.0 528.6 L838.0 528.2 L839.0 527.8 L840.0 527.3 L841.0 526.8 L842.0 526.8 L843.0 527.3 L844.0 527.7 L845.0 528.1 L846.0 528.6 L847.0 529.2 L848.0 528.5 L849.0 527.7 L850.0 527.0 L851.0 526.3 L852.0 525.7 L853.0 525.7 L854.0 526.4 L855.0 527.1 L856.0 527.8 L857.0 528.5 L858.0 529.3 L859.0 528.8 L860.0 528.3 L861.0 527.8 L862.0 527.1 L863.0 526.5 L864.0 526.6 L865.0 527.3 L866.0 528.0 L867.0 528.7 L868.0 529.3 L869.0 530.0 L870.0 529.2 L871.0 528.5 L872.0 527.9 L873.0 527.4 L874.0 527.1 L875.0 527.3 L876.0 528.2 L877.0 528.9 L878.0 529.3 L879.0 529.6 L880.0 529.9 L881.0 529.0 L882.0 528.4 L883.0 527.8 L884.0 527.2 L885.0 526.7 L886.0 526.8 L887.0 527.5 L888.0 528.2 L889.0 528.9 L890.0 529.6 L891.0 530.3 L892.0 529.6 L893.0 528.8 L894.0 527.9 L895.0 527.1 L896.0 526.3 L897.0 526.3 L898.0 527.3 L899.0 528.2 L900.0 529.2 L901.0 530.1 L902.0 530.8 L903.0 530.0 L904.0 529.1 L905.0 528.2 L906.0 527.3 L907.0 526.6 L908.0 526.7 L909.0 527.6 L910.0 528.5 L911.0 529.3 L912.0 530.1 L913.0 530.9 L914.0 530.1 L915.0 529.3 L916.0 528.6 L917.0 527.8 L918.0 527.2 L919.0 527.4 L920.0 528.4 L921.0 529.2 L922.0 530.0 L923.0 530.6 L924.0 531.2 L925.0 530.3 L926.0 529.4 L927.0 528.7 L928.0 528.2 L929.0 527.7 L930.0 528.0 L931.0 529.0 L932.0 529.8 L933.0 530.3 L934.0 530.8 L935.0 531.2 L936.0 530.3 L937.0 529.5 L938.0 528.7 L939.0 527.8 L940.0 527.0 L941.0 527.0 L942.0 527.8 L943.0 528.6 L944.0 529.4 L945.0 530.2 L946.0 531.0 L947.0 530.2 L948.0 529.4 L949.0 528.7 L950.0 528.0 L951.0 527.2 L952.0 527.2 L953.0 528.3 L954.0 529.5 L955.0 530.6 L956.0 531.6 L957.0 532.5 L958.0 531.8 L959.0 531.1 L960.0 530.4 L961.0 529.7 L962.0 528.8 L963.0 528.5 L964.0 528.9 L965.0 529.4 L966.0 530.0 L967.0 530.9 L968.0 531.9 L969.0 531.3 L970.0 530.6 L971.0 529.8 L972.0 529.0 L973.0 528.3 L974.0 528.6 L975.0 529.7 L976.0 530.7 L977.0 531.6 L978.0 532.3 L979.0 533.1 L980.0 532.1 L981.0 531.2 L982.0 530.3 L983.0 529.5 L984.0 528.8 L985.0 528.9 L986.0 529.9 L987.0 530.8 L988.0 531.7 L989.0 532.7 L990.0 533.6 L991.0 532.8 L992.0 531.8 L993.0 530.6 L994.0 529.2 L995.0 527.9 L996.0 527.7 L997.0 528.7 L998.0 529.9 L999.0 531.2" stroke="#632523" stroke-width="3.00" fill="none" stroke-linejoin="round" stroke-linecap="butt"/></g>
<text class="tk" x="76.1" y="286.6" text-anchor="end">0.00</text>
<text class="tk" x="76.1" y="260.0" text-anchor="end">0.10</text>
<text class="tk" x="76.1" y="233.4" text-anchor="end">0.20</text>
<text class="tk" x="76.1" y="206.9" text-anchor="end">0.30</text>
<text class="tk" x="76.1" y="180.3" text-anchor="end">0.40</text>
<text class="tk" x="76.1" y="153.7" text-anchor="end">0.50</text>
<text class="tk" x="76.1" y="127.1" text-anchor="end">0.60</text>
<text class="tk" x="76.1" y="100.5" text-anchor="end">0.70</text>
<text class="tk" x="76.1" y="74.0" text-anchor="end">0.80</text>
<text class="tk" x="76.1" y="47.4" text-anchor="end">0.90</text>
<text class="tk" x="76.1" y="20.8" text-anchor="end">1.00</text>
<text class="tk" x="89.0" y="305.3" text-anchor="middle">0</text>
<text class="tk" x="155.9" y="305.3" text-anchor="middle">50</text>
<text class="tk" x="222.9" y="305.3" text-anchor="middle">100</text>
<text class="tk" x="289.9" y="305.3" text-anchor="middle">150</text>
<text class="tk" x="356.8" y="305.3" text-anchor="middle">200</text>
<text class="tk" x="423.8" y="305.3" text-anchor="middle">250</text>
<text class="tk" x="490.7" y="305.3" text-anchor="middle">300</text>
<text class="tk" x="586.8" y="284.8" text-anchor="end">0.00</text>
<text class="tk" x="586.8" y="255.1" text-anchor="end">0.02</text>
<text class="tk" x="586.8" y="225.3" text-anchor="end">0.04</text>
<text class="tk" x="586.8" y="195.6" text-anchor="end">0.06</text>
<text class="tk" x="586.8" y="165.9" text-anchor="end">0.08</text>
<text class="tk" x="586.8" y="136.1" text-anchor="end">0.10</text>
<text class="tk" x="586.8" y="106.4" text-anchor="end">0.12</text>
<text class="tk" x="586.8" y="76.7" text-anchor="end">0.14</text>
<text class="tk" x="586.8" y="46.9" text-anchor="end">0.16</text>
<text class="tk" x="586.8" y="17.2" text-anchor="end">0.18</text>
<text class="tk" x="599.7" y="303.5" text-anchor="middle">300</text>
<text class="tk" x="679.7" y="303.5" text-anchor="middle">600</text>
<text class="tk" x="759.7" y="303.5" text-anchor="middle">900</text>
<text class="tk" x="839.6" y="303.5" text-anchor="middle">1200</text>
<text class="tk" x="919.6" y="303.5" text-anchor="middle">1500</text>
<text class="tk" x="999.6" y="303.5" text-anchor="middle">1800</text>
<text class="tk" x="74.4" y="644.8" text-anchor="end">0.00</text>
<text class="tk" x="74.4" y="601.3" text-anchor="end">0.20</text>
<text class="tk" x="74.4" y="557.7" text-anchor="end">0.40</text>
<text class="tk" x="74.4" y="514.2" text-anchor="end">0.60</text>
<text class="tk" x="74.4" y="470.7" text-anchor="end">0.80</text>
<text class="tk" x="74.4" y="427.1" text-anchor="end">1.00</text>
<text class="tk" x="74.4" y="383.6" text-anchor="end">1.20</text>
<text class="tk" x="87.3" y="663.5" text-anchor="middle">0</text>
<text class="tk" x="154.5" y="663.5" text-anchor="middle">50</text>
<text class="tk" x="221.8" y="663.5" text-anchor="middle">100</text>
<text class="tk" x="289.0" y="663.5" text-anchor="middle">150</text>
<text class="tk" x="356.2" y="663.5" text-anchor="middle">200</text>
<text class="tk" x="423.5" y="663.5" text-anchor="middle">250</text>
<text class="tk" x="490.7" y="663.5" text-anchor="middle">300</text>
<text class="tk" x="588.2" y="645.5" text-anchor="end">0.00</text>
<text class="tk" x="588.2" y="616.4" text-anchor="end">0.02</text>
<text class="tk" x="588.2" y="587.3" text-anchor="end">0.04</text>
<text class="tk" x="588.2" y="558.2" text-anchor="end">0.06</text>
<text class="tk" x="588.2" y="529.1" text-anchor="end">0.08</text>
<text class="tk" x="588.2" y="500.1" text-anchor="end">0.10</text>
<text class="tk" x="588.2" y="471.0" text-anchor="end">0.12</text>
<text class="tk" x="588.2" y="441.9" text-anchor="end">0.14</text>
<text class="tk" x="588.2" y="412.8" text-anchor="end">0.16</text>
<text class="tk" x="588.2" y="383.7" text-anchor="end">0.18</text>
<text class="tk" x="601.1" y="664.2" text-anchor="middle">300</text>
<text class="tk" x="680.8" y="664.2" text-anchor="middle">600</text>
<text class="tk" x="760.5" y="664.2" text-anchor="middle">900</text>
<text class="tk" x="840.2" y="664.2" text-anchor="middle">1200</text>
<text class="tk" x="919.9" y="664.2" text-anchor="middle">1500</text>
<text class="tk" x="999.6" y="664.2" text-anchor="middle">1800</text>
<text class="pl" x="8" y="22.7">a)</text>
<text class="pl" x="520" y="19">b)</text>
<text class="pl" x="7.5" y="385.6">c)</text>
<text class="pl" x="519.5" y="385.3">d)</text>
<text class="ti" x="237" y="24.3">CrN</text>
<text class="ti" x="750" y="21">CrN</text>
<text class="ti" x="239" y="382.1">TiN</text>
<text class="ti" x="752.5" y="387">TiN</text>
<text class="tx" x="225" y="324">Time (s)</text>
<text class="tx" x="738" y="323.4">Time (s)</text>
<text class="tx" x="217.2" y="689.2">Time (s)</text>
<text class="tx" x="737.7" y="687.7">Time (s)</text>
<text class="tt" transform="translate(21.9,165.6) rotate(-90)" x="0" y="0" text-anchor="middle">Friction Coefficient</text>
<text class="tt" transform="translate(534.4,163.5) rotate(-90)" x="0" y="0" text-anchor="middle">Friction Coefficient</text>
<text class="tt" transform="translate(21.9,529.2) rotate(-90)" x="0" y="0" text-anchor="middle">Friction Coefficient</text>
<text class="tt" transform="translate(534.4,529.4) rotate(-90)" x="0" y="0" text-anchor="middle">Friction Coefficient</text>
<path d="M244.2 72.2h20.4" stroke="#558ED5" stroke-width="2"/>
<text class="lg" x="265.7" y="77.2">PAO 6 - 20N</text>
<path d="M244.2 91.2h20.4" stroke="#1F497D" stroke-width="2"/>
<text class="lg" x="265.7" y="96.2">PAO 6 - 40N</text>
<path d="M244.2 110.1h20.4" stroke="#00B050" stroke-width="2"/>
<text class="lg" x="265.7" y="115.1">PAO 6 + 1%[BMP][FAP] - 20N</text>
<path d="M244.2 129.1h20.4" stroke="#4F6228" stroke-width="2"/>
<text class="lg" x="265.7" y="134.1">PAO 6 + 1%[BMP][FAP] - 40N</text>
<path d="M244.2 148.0h20.4" stroke="#FF0000" stroke-width="2"/>
<text class="lg" x="265.7" y="153.0">PAO 6 + 1%ZDDP- 20N</text>
<path d="M244.2 166.9h20.4" stroke="#632523" stroke-width="2"/>
<text class="lg" x="265.7" y="171.9">PAO 6 + 1%ZDDP - 40N</text>
<path d="M648.2 184.7h20.4" stroke="#558ED5" stroke-width="2"/>
<text class="lg" x="669.7" y="189.7">PAO 6 - 20N</text>
<path d="M648.2 202.0h20.4" stroke="#1F497D" stroke-width="2"/>
<text class="lg" x="669.7" y="207.0">PAO 6 - 40N</text>
<path d="M648.2 219.2h20.4" stroke="#00B050" stroke-width="2"/>
<text class="lg" x="669.7" y="224.2">PAO 6 + 1%[BMP][FAP] - 20N</text>
<path d="M648.2 236.5h20.4" stroke="#4F6228" stroke-width="2"/>
<text class="lg" x="669.7" y="241.5">PAO 6 + 1%[BMP][FAP] - 40N</text>
<path d="M648.2 253.7h20.4" stroke="#FF0000" stroke-width="2"/>
<text class="lg" x="669.7" y="258.7">PAO 6 + 1%ZDDP- 20N</text>
<path d="M648.2 271.0h20.4" stroke="#632523" stroke-width="2"/>
<text class="lg" x="669.7" y="276.0">PAO 6 + 1%ZDDP - 40N</text>
<path d="M267.0 404.0h20.4" stroke="#558ED5" stroke-width="2"/>
<text class="lg" x="288.5" y="409.0">PAO 6 - 20N</text>
<path d="M267.0 423.3h20.4" stroke="#1F497D" stroke-width="2"/>
<text class="lg" x="288.5" y="428.3">PAO 6 - 40N</text>
<path d="M267.0 442.6h20.4" stroke="#00B050" stroke-width="2"/>
<text class="lg" x="288.5" y="447.6">PAO 6 + 1% [BMP][FAP] -20N</text>
<path d="M267.0 461.9h20.4" stroke="#4F6228" stroke-width="2"/>
<text class="lg" x="288.5" y="466.9">PAO 6 + 1%[BMP][FAP] -40N</text>
<path d="M267.0 481.2h20.4" stroke="#FF0000" stroke-width="2"/>
<text class="lg" x="288.5" y="486.2">PAO 6 + 1%ZDDP -20N</text>
<path d="M267.0 500.5h20.4" stroke="#632523" stroke-width="2"/>
<text class="lg" x="288.5" y="505.5">PAO 6 + 1%ZDDP -40N</text>
<path d="M648.2 561.8h20.4" stroke="#558ED5" stroke-width="2"/>
<text class="lg" x="669.7" y="566.8">PAO 6 - 20N</text>
<path d="M648.2 575.9h20.4" stroke="#1F497D" stroke-width="2"/>
<text class="lg" x="669.7" y="580.9">PAO 6 - 40N</text>
<path d="M648.2 590.0h20.4" stroke="#00B050" stroke-width="2"/>
<text class="lg" x="669.7" y="595.0">PAO 6 + 1% [BMP][FAP] -20N</text>
<path d="M648.2 604.1h20.4" stroke="#4F6228" stroke-width="2"/>
<text class="lg" x="669.7" y="609.1">PAO 6 + 1%[BMP][FAP] -40N</text>
<path d="M648.2 618.2h20.4" stroke="#FF0000" stroke-width="2"/>
<text class="lg" x="669.7" y="623.2">PAO 6 + 1%ZDDP -20N</text>
<path d="M648.2 632.3h20.4" stroke="#632523" stroke-width="2"/>
<text class="lg" x="669.7" y="637.3">PAO 6 + 1%ZDDP -40N</text>
</svg></body></html>
